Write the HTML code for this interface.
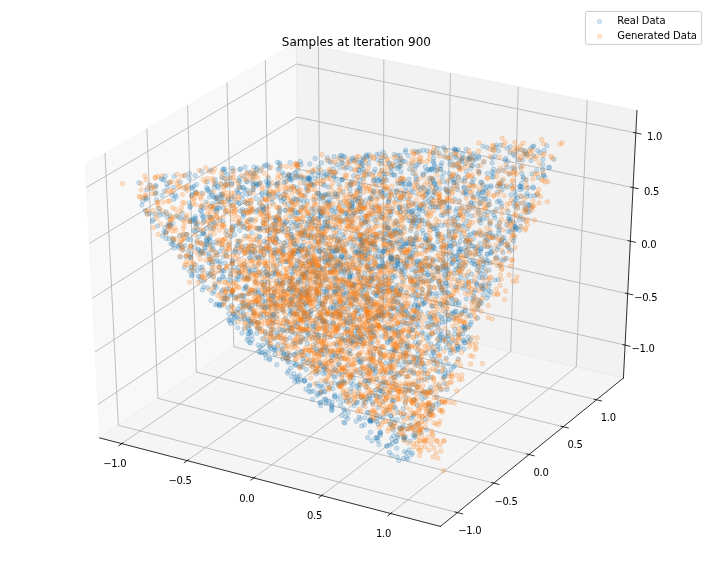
<!DOCTYPE html>
<html lang="en"><head><meta charset="utf-8"><title>Samples at Iteration 900</title>
<style>html,body{margin:0;padding:0;background:#fff}body{width:712px;height:568px;overflow:hidden}svg{display:block}text{font-family:"DejaVu Sans","Liberation Sans",sans-serif;fill:#000}.t{font-size:10px}.g{stroke:#b0b0b0;stroke-width:.8;fill:none}.a{stroke:#000;stroke-width:.8;fill:none;stroke-linecap:square}.k{stroke:#000;stroke-width:.8;fill:none}.r circle{fill:#1f77b4;stroke:#1f77b4}.o circle{fill:#ff7f0e;stroke:#ff7f0e}.r,.o{fill-opacity:.2;stroke-opacity:.2;stroke-width:1}</style></head><body>
<svg width="712" height="568" viewBox="0 0 712 568">
<rect width="712" height="568" fill="#fff"/>
<polygon points="99.73,437.93 299.62,302 296.29,42.27 85.26,164.39" fill="rgb(242,242,242)" fill-opacity=".5" stroke="rgb(242,242,242)" stroke-opacity=".5" stroke-width="1" stroke-linejoin="round"/>
<polygon points="299.62,302 623.42,377.99 636.96,110.43 296.29,42.27" fill="rgb(230,230,230)" fill-opacity=".5" stroke="rgb(230,230,230)" stroke-opacity=".5" stroke-width="1" stroke-linejoin="round"/>
<polygon points="99.73,437.93 440.41,526.43 623.42,377.99 299.62,302" fill="rgb(236,236,236)" fill-opacity=".5" stroke="rgb(236,236,236)" stroke-opacity=".5" stroke-width="1" stroke-linejoin="round"/>
<g class="g">
<polyline points="121.78,443.65 320.64,306.93 318.36,46.68"/>
<polyline points="187.19,460.65 382.95,321.56 383.83,59.78"/>
<polyline points="253.79,477.95 446.32,336.43 450.45,73.11"/>
<polyline points="321.61,495.57 510.75,351.55 518.25,86.68"/>
<polyline points="390.67,513.51 576.28,366.93 587.27,100.49"/>
<polyline points="104.96,152.99 118.33,425.28 457.49,512.58"/>
<polyline points="146.86,128.74 157.92,398.36 493.81,483.12"/>
<polyline points="187.52,105.21 196.4,372.19 529.07,454.52"/>
<polyline points="226.99,82.37 233.81,346.76 563.3,426.76"/>
<polyline points="265.32,60.19 270.18,322.02 596.54,399.79"/>
<polyline points="625.08,345.14 299.21,270.05 97.96,404.39"/>
<polyline points="627.68,293.68 298.57,220.03 95.18,351.83"/>
<polyline points="630.34,241.17 297.92,169.05 92.34,298.18"/>
<polyline points="633.06,187.6 297.25,117.06 89.44,243.38"/>
<polyline points="635.82,132.91 296.57,64.04 86.48,187.41"/>
</g>
<g class="a">
<line x1="99.73" y1="437.93" x2="440.41" y2="526.43"/>
<line x1="623.42" y1="377.99" x2="440.41" y2="526.43"/>
<line x1="623.42" y1="377.99" x2="636.96" y2="110.43"/>
</g>
<g class="k">
<line x1="123.49" y1="442.48" x2="118.34" y2="446.01"/>
<line x1="454.65" y1="511.85" x2="463.17" y2="514.04"/>
<line x1="622.36" y1="344.51" x2="630.52" y2="346.39"/>
<line x1="188.88" y1="459.45" x2="183.81" y2="463.05"/>
<line x1="491" y1="482.41" x2="499.44" y2="484.54"/>
<line x1="624.94" y1="293.06" x2="633.19" y2="294.91"/>
<line x1="255.46" y1="476.73" x2="250.47" y2="480.4"/>
<line x1="526.29" y1="453.83" x2="534.63" y2="455.9"/>
<line x1="627.57" y1="240.57" x2="635.9" y2="242.38"/>
<line x1="323.24" y1="494.32" x2="318.34" y2="498.06"/>
<line x1="560.54" y1="426.09" x2="568.81" y2="428.1"/>
<line x1="630.25" y1="187.01" x2="638.67" y2="188.78"/>
<line x1="392.27" y1="512.24" x2="387.46" y2="516.05"/>
<line x1="593.82" y1="399.14" x2="602" y2="401.09"/>
<line x1="632.99" y1="132.33" x2="641.5" y2="134.06"/>
</g>
<g class="t">
<text x="103.16 111.16 117.16 120.16" y="467.02">−1.0</text>
<text x="458.32 466.32 472.32 475.32" y="534.16">−1.0</text>
<text x="631.55 639.55 645.55 648.55" y="352.12">−1.0</text>
<text x="168.58 176.58 182.58 185.58" y="484.16">−0.5</text>
<text x="494.45 502.45 508.45 511.45" y="504.52">−0.5</text>
<text x="634.33 642.33 648.33 651.33" y="300.7">−0.5</text>
<text x="239.17 245.17 248.17" y="501.61">0.0</text>
<text x="533.52 539.52 542.52" y="475.74">0.0</text>
<text x="641.17 647.17 650.17" y="248.23">0.0</text>
<text x="306.99 312.99 315.99" y="519.38">0.5</text>
<text x="567.57 573.57 576.57" y="447.81">0.5</text>
<text x="644.07 650.07 653.07" y="194.7">0.5</text>
<text x="376.05 382.05 385.05" y="537.47">1.0</text>
<text x="600.64 606.64 609.64" y="420.68">1.0</text>
<text x="647.02 653.02 656.02" y="140.05">1.0</text>
</g>
<g class="r">
<circle cx="398.1" cy="335.4" r="2.24"/><circle cx="342.9" cy="268.1" r="2.24"/><circle cx="426.2" cy="213.0" r="2.24"/><circle cx="237.8" cy="245.1" r="2.24"/><circle cx="445.0" cy="373.2" r="2.24"/><circle cx="334.6" cy="291.7" r="2.24"/><circle cx="406.1" cy="292.6" r="2.24"/><circle cx="361.1" cy="339.1" r="2.24"/><circle cx="347.7" cy="329.6" r="2.24"/><circle cx="327.4" cy="351.1" r="2.24"/><circle cx="319.9" cy="393.9" r="2.24"/><circle cx="398.0" cy="229.6" r="2.24"/><circle cx="466.4" cy="194.6" r="2.24"/><circle cx="297.3" cy="229.5" r="2.24"/><circle cx="453.6" cy="166.1" r="2.24"/><circle cx="487.3" cy="173.5" r="2.24"/><circle cx="264.6" cy="281.6" r="2.24"/><circle cx="292.2" cy="210.4" r="2.24"/><circle cx="346.6" cy="244.1" r="2.24"/><circle cx="489.2" cy="233.4" r="2.24"/><circle cx="489.2" cy="269.9" r="2.24"/><circle cx="317.1" cy="370.5" r="2.24"/><circle cx="468.0" cy="159.0" r="2.24"/><circle cx="279.5" cy="211.7" r="2.24"/><circle cx="314.8" cy="251.0" r="2.24"/><circle cx="369.2" cy="321.1" r="2.24"/><circle cx="264.2" cy="255.0" r="2.24"/><circle cx="336.1" cy="292.1" r="2.24"/><circle cx="316.9" cy="248.0" r="2.24"/><circle cx="366.6" cy="156.2" r="2.24"/><circle cx="461.8" cy="161.4" r="2.24"/><circle cx="360.8" cy="162.8" r="2.24"/><circle cx="217.0" cy="198.5" r="2.24"/><circle cx="266.9" cy="274.4" r="2.24"/><circle cx="241.6" cy="296.0" r="2.24"/><circle cx="452.7" cy="314.0" r="2.24"/><circle cx="405.4" cy="353.4" r="2.24"/><circle cx="379.3" cy="212.1" r="2.24"/><circle cx="266.3" cy="272.7" r="2.24"/><circle cx="384.5" cy="283.7" r="2.24"/><circle cx="340.3" cy="202.6" r="2.24"/><circle cx="399.6" cy="207.5" r="2.24"/><circle cx="266.6" cy="206.2" r="2.24"/><circle cx="198.2" cy="249.5" r="2.24"/><circle cx="492.3" cy="235.7" r="2.24"/><circle cx="257.2" cy="167.9" r="2.24"/><circle cx="364.2" cy="296.8" r="2.24"/><circle cx="475.2" cy="233.0" r="2.24"/><circle cx="498.1" cy="279.7" r="2.24"/><circle cx="366.8" cy="157.1" r="2.24"/><circle cx="344.5" cy="270.0" r="2.24"/><circle cx="164.4" cy="180.0" r="2.24"/><circle cx="389.8" cy="236.3" r="2.24"/><circle cx="290.3" cy="222.6" r="2.24"/><circle cx="382.7" cy="285.5" r="2.24"/><circle cx="354.3" cy="405.6" r="2.24"/><circle cx="307.4" cy="272.5" r="2.24"/><circle cx="437.0" cy="230.8" r="2.24"/><circle cx="283.7" cy="354.4" r="2.24"/><circle cx="294.5" cy="253.6" r="2.24"/><circle cx="357.5" cy="329.2" r="2.24"/><circle cx="432.0" cy="322.5" r="2.24"/><circle cx="382.9" cy="266.3" r="2.24"/><circle cx="409.2" cy="184.0" r="2.24"/><circle cx="409.9" cy="185.3" r="2.24"/><circle cx="346.5" cy="212.6" r="2.24"/><circle cx="360.8" cy="279.0" r="2.24"/><circle cx="473.0" cy="245.9" r="2.24"/><circle cx="273.3" cy="265.7" r="2.24"/><circle cx="289.8" cy="310.2" r="2.24"/><circle cx="378.5" cy="310.5" r="2.24"/><circle cx="391.2" cy="359.3" r="2.24"/><circle cx="337.1" cy="263.3" r="2.24"/><circle cx="429.4" cy="336.8" r="2.24"/><circle cx="367.5" cy="240.0" r="2.24"/><circle cx="405.2" cy="403.0" r="2.24"/><circle cx="316.1" cy="374.1" r="2.24"/><circle cx="337.9" cy="399.5" r="2.24"/><circle cx="392.8" cy="292.4" r="2.24"/><circle cx="324.2" cy="366.6" r="2.24"/><circle cx="417.7" cy="164.6" r="2.24"/><circle cx="257.5" cy="257.0" r="2.24"/><circle cx="347.2" cy="323.1" r="2.24"/><circle cx="285.9" cy="318.3" r="2.24"/><circle cx="418.2" cy="354.5" r="2.24"/><circle cx="464.5" cy="187.7" r="2.24"/><circle cx="373.2" cy="218.9" r="2.24"/><circle cx="215.1" cy="184.9" r="2.24"/><circle cx="488.3" cy="240.0" r="2.24"/><circle cx="404.1" cy="194.0" r="2.24"/><circle cx="244.5" cy="264.5" r="2.24"/><circle cx="397.3" cy="331.8" r="2.24"/><circle cx="305.3" cy="302.7" r="2.24"/><circle cx="296.5" cy="177.9" r="2.24"/><circle cx="336.0" cy="211.6" r="2.24"/><circle cx="370.4" cy="421.8" r="2.24"/><circle cx="411.2" cy="257.1" r="2.24"/><circle cx="313.4" cy="391.0" r="2.24"/><circle cx="335.3" cy="251.5" r="2.24"/><circle cx="231.4" cy="183.7" r="2.24"/><circle cx="196.6" cy="241.8" r="2.24"/><circle cx="458.9" cy="266.0" r="2.24"/><circle cx="269.3" cy="194.3" r="2.24"/><circle cx="498.8" cy="230.2" r="2.24"/><circle cx="417.3" cy="405.4" r="2.24"/><circle cx="328.4" cy="160.9" r="2.24"/><circle cx="279.9" cy="263.8" r="2.24"/><circle cx="385.4" cy="276.3" r="2.24"/><circle cx="390.7" cy="166.8" r="2.24"/><circle cx="353.4" cy="378.4" r="2.24"/><circle cx="411.0" cy="307.2" r="2.24"/><circle cx="372.3" cy="244.9" r="2.24"/><circle cx="345.0" cy="422.9" r="2.24"/><circle cx="450.0" cy="350.0" r="2.24"/><circle cx="299.1" cy="268.0" r="2.24"/><circle cx="365.3" cy="216.3" r="2.24"/><circle cx="214.1" cy="208.1" r="2.24"/><circle cx="442.5" cy="322.3" r="2.24"/><circle cx="289.9" cy="328.4" r="2.24"/><circle cx="189.3" cy="178.4" r="2.24"/><circle cx="461.3" cy="249.1" r="2.24"/><circle cx="293.3" cy="343.3" r="2.24"/><circle cx="326.0" cy="254.8" r="2.24"/><circle cx="297.8" cy="323.8" r="2.24"/><circle cx="159.7" cy="212.2" r="2.24"/><circle cx="327.2" cy="349.9" r="2.24"/><circle cx="268.6" cy="246.1" r="2.24"/><circle cx="220.5" cy="263.9" r="2.24"/><circle cx="232.1" cy="230.5" r="2.24"/><circle cx="217.2" cy="201.7" r="2.24"/><circle cx="364.6" cy="337.3" r="2.24"/><circle cx="398.0" cy="412.5" r="2.24"/><circle cx="185.9" cy="234.6" r="2.24"/><circle cx="293.9" cy="304.6" r="2.24"/><circle cx="341.0" cy="265.1" r="2.24"/><circle cx="380.9" cy="178.7" r="2.24"/><circle cx="323.6" cy="373.9" r="2.24"/><circle cx="169.1" cy="238.5" r="2.24"/><circle cx="482.7" cy="192.1" r="2.24"/><circle cx="219.0" cy="267.4" r="2.24"/><circle cx="248.4" cy="327.8" r="2.24"/><circle cx="347.1" cy="268.8" r="2.24"/><circle cx="408.7" cy="198.9" r="2.24"/><circle cx="391.6" cy="266.3" r="2.24"/><circle cx="358.2" cy="198.3" r="2.24"/><circle cx="480.1" cy="243.6" r="2.24"/><circle cx="332.2" cy="402.0" r="2.24"/><circle cx="243.3" cy="213.3" r="2.24"/><circle cx="414.5" cy="151.4" r="2.24"/><circle cx="455.3" cy="269.7" r="2.24"/><circle cx="426.5" cy="235.3" r="2.24"/><circle cx="275.6" cy="231.0" r="2.24"/><circle cx="402.4" cy="321.7" r="2.24"/><circle cx="284.0" cy="198.3" r="2.24"/><circle cx="324.6" cy="258.5" r="2.24"/><circle cx="357.4" cy="359.6" r="2.24"/><circle cx="383.2" cy="252.0" r="2.24"/><circle cx="458.1" cy="149.7" r="2.24"/><circle cx="298.3" cy="192.3" r="2.24"/><circle cx="368.6" cy="320.4" r="2.24"/><circle cx="277.5" cy="162.3" r="2.24"/><circle cx="515.0" cy="227.1" r="2.24"/><circle cx="248.7" cy="333.3" r="2.24"/><circle cx="319.4" cy="251.3" r="2.24"/><circle cx="276.5" cy="196.5" r="2.24"/><circle cx="262.1" cy="257.9" r="2.24"/><circle cx="365.1" cy="258.5" r="2.24"/><circle cx="553.8" cy="159.3" r="2.24"/><circle cx="324.4" cy="250.5" r="2.24"/><circle cx="435.5" cy="331.9" r="2.24"/><circle cx="364.7" cy="273.2" r="2.24"/><circle cx="418.1" cy="326.6" r="2.24"/><circle cx="450.9" cy="161.3" r="2.24"/><circle cx="375.9" cy="371.6" r="2.24"/><circle cx="478.3" cy="300.3" r="2.24"/><circle cx="378.1" cy="423.9" r="2.24"/><circle cx="231.0" cy="281.4" r="2.24"/><circle cx="409.5" cy="372.0" r="2.24"/><circle cx="420.6" cy="312.1" r="2.24"/><circle cx="433.7" cy="162.8" r="2.24"/><circle cx="480.2" cy="218.3" r="2.24"/><circle cx="338.9" cy="374.0" r="2.24"/><circle cx="354.3" cy="307.0" r="2.24"/><circle cx="320.8" cy="241.7" r="2.24"/><circle cx="256.5" cy="169.6" r="2.24"/><circle cx="152.4" cy="221.4" r="2.24"/><circle cx="494.8" cy="280.0" r="2.24"/><circle cx="385.2" cy="300.3" r="2.24"/><circle cx="271.1" cy="299.4" r="2.24"/><circle cx="377.6" cy="250.9" r="2.24"/><circle cx="446.0" cy="247.7" r="2.24"/><circle cx="439.7" cy="284.3" r="2.24"/><circle cx="463.6" cy="193.0" r="2.24"/><circle cx="322.4" cy="321.4" r="2.24"/><circle cx="328.5" cy="187.0" r="2.24"/><circle cx="187.8" cy="239.5" r="2.24"/><circle cx="268.3" cy="307.5" r="2.24"/><circle cx="299.4" cy="296.4" r="2.24"/><circle cx="230.5" cy="274.0" r="2.24"/><circle cx="307.4" cy="178.0" r="2.24"/><circle cx="414.1" cy="219.4" r="2.24"/><circle cx="307.2" cy="343.7" r="2.24"/><circle cx="224.1" cy="298.4" r="2.24"/><circle cx="284.3" cy="202.3" r="2.24"/><circle cx="367.5" cy="220.9" r="2.24"/><circle cx="412.1" cy="317.9" r="2.24"/><circle cx="433.4" cy="278.5" r="2.24"/><circle cx="386.8" cy="410.1" r="2.24"/><circle cx="273.0" cy="303.4" r="2.24"/><circle cx="210.9" cy="300.6" r="2.24"/><circle cx="501.7" cy="206.6" r="2.24"/><circle cx="307.3" cy="224.3" r="2.24"/><circle cx="433.3" cy="195.5" r="2.24"/><circle cx="209.3" cy="191.8" r="2.24"/><circle cx="306.7" cy="287.4" r="2.24"/><circle cx="282.4" cy="349.2" r="2.24"/><circle cx="228.9" cy="313.5" r="2.24"/><circle cx="478.2" cy="210.3" r="2.24"/><circle cx="308.7" cy="179.7" r="2.24"/><circle cx="407.7" cy="458.9" r="2.24"/><circle cx="464.0" cy="326.6" r="2.24"/><circle cx="390.5" cy="214.7" r="2.24"/><circle cx="402.9" cy="426.3" r="2.24"/><circle cx="341.5" cy="180.1" r="2.24"/><circle cx="360.1" cy="246.1" r="2.24"/><circle cx="441.1" cy="304.3" r="2.24"/><circle cx="391.4" cy="243.2" r="2.24"/><circle cx="316.8" cy="352.2" r="2.24"/><circle cx="167.5" cy="217.2" r="2.24"/><circle cx="210.7" cy="228.2" r="2.24"/><circle cx="283.1" cy="254.3" r="2.24"/><circle cx="195.7" cy="192.3" r="2.24"/><circle cx="458.0" cy="258.8" r="2.24"/><circle cx="263.0" cy="209.1" r="2.24"/><circle cx="383.8" cy="315.6" r="2.24"/><circle cx="347.0" cy="329.0" r="2.24"/><circle cx="244.0" cy="328.7" r="2.24"/><circle cx="516.0" cy="195.4" r="2.24"/><circle cx="240.5" cy="312.6" r="2.24"/><circle cx="451.8" cy="179.2" r="2.24"/><circle cx="292.0" cy="279.5" r="2.24"/><circle cx="459.5" cy="261.2" r="2.24"/><circle cx="473.8" cy="296.5" r="2.24"/><circle cx="310.9" cy="391.7" r="2.24"/><circle cx="485.1" cy="199.3" r="2.24"/><circle cx="533.0" cy="146.8" r="2.24"/><circle cx="479.9" cy="220.3" r="2.24"/><circle cx="240.1" cy="187.7" r="2.24"/><circle cx="333.5" cy="352.6" r="2.24"/><circle cx="215.7" cy="183.1" r="2.24"/><circle cx="319.7" cy="363.4" r="2.24"/><circle cx="385.7" cy="329.7" r="2.24"/><circle cx="249.2" cy="329.4" r="2.24"/><circle cx="317.0" cy="395.4" r="2.24"/><circle cx="471.4" cy="274.1" r="2.24"/><circle cx="381.5" cy="170.7" r="2.24"/><circle cx="336.5" cy="335.9" r="2.24"/><circle cx="363.5" cy="157.8" r="2.24"/><circle cx="277.2" cy="184.1" r="2.24"/><circle cx="313.2" cy="324.0" r="2.24"/><circle cx="358.4" cy="384.5" r="2.24"/><circle cx="402.1" cy="183.0" r="2.24"/><circle cx="504.1" cy="260.2" r="2.24"/><circle cx="334.0" cy="176.9" r="2.24"/><circle cx="323.8" cy="368.6" r="2.24"/><circle cx="300.3" cy="161.5" r="2.24"/><circle cx="340.3" cy="264.2" r="2.24"/><circle cx="346.4" cy="400.9" r="2.24"/><circle cx="463.4" cy="340.9" r="2.24"/><circle cx="526.0" cy="209.4" r="2.24"/><circle cx="395.5" cy="408.3" r="2.24"/><circle cx="320.3" cy="215.7" r="2.24"/><circle cx="231.9" cy="261.4" r="2.24"/><circle cx="447.4" cy="286.0" r="2.24"/><circle cx="496.7" cy="257.3" r="2.24"/><circle cx="302.0" cy="351.5" r="2.24"/><circle cx="222.1" cy="247.6" r="2.24"/><circle cx="296.4" cy="174.5" r="2.24"/><circle cx="484.4" cy="267.8" r="2.24"/><circle cx="214.7" cy="224.8" r="2.24"/><circle cx="358.6" cy="388.7" r="2.24"/><circle cx="446.0" cy="189.8" r="2.24"/><circle cx="244.0" cy="288.8" r="2.24"/><circle cx="536.9" cy="195.0" r="2.24"/><circle cx="413.7" cy="372.3" r="2.24"/><circle cx="530.2" cy="196.1" r="2.24"/><circle cx="426.5" cy="338.1" r="2.24"/><circle cx="439.9" cy="286.7" r="2.24"/><circle cx="480.2" cy="202.9" r="2.24"/><circle cx="354.5" cy="283.9" r="2.24"/><circle cx="301.6" cy="276.9" r="2.24"/><circle cx="382.4" cy="157.7" r="2.24"/><circle cx="273.7" cy="314.4" r="2.24"/><circle cx="526.0" cy="180.0" r="2.24"/><circle cx="381.6" cy="259.3" r="2.24"/><circle cx="317.5" cy="351.1" r="2.24"/><circle cx="275.3" cy="229.3" r="2.24"/><circle cx="392.5" cy="245.5" r="2.24"/><circle cx="155.9" cy="186.4" r="2.24"/><circle cx="396.2" cy="234.9" r="2.24"/><circle cx="268.4" cy="288.7" r="2.24"/><circle cx="405.6" cy="277.0" r="2.24"/><circle cx="378.1" cy="256.3" r="2.24"/><circle cx="366.3" cy="154.9" r="2.24"/><circle cx="415.4" cy="276.2" r="2.24"/><circle cx="465.2" cy="327.9" r="2.24"/><circle cx="297.9" cy="282.5" r="2.24"/><circle cx="401.2" cy="159.2" r="2.24"/><circle cx="283.1" cy="222.1" r="2.24"/><circle cx="384.0" cy="237.3" r="2.24"/><circle cx="261.8" cy="199.0" r="2.24"/><circle cx="308.9" cy="391.5" r="2.24"/><circle cx="432.9" cy="306.1" r="2.24"/><circle cx="348.1" cy="412.8" r="2.24"/><circle cx="516.9" cy="150.7" r="2.24"/><circle cx="406.4" cy="457.2" r="2.24"/><circle cx="326.9" cy="279.3" r="2.24"/><circle cx="444.7" cy="292.8" r="2.24"/><circle cx="466.1" cy="250.9" r="2.24"/><circle cx="417.2" cy="261.0" r="2.24"/><circle cx="386.7" cy="180.3" r="2.24"/><circle cx="330.4" cy="258.8" r="2.24"/><circle cx="408.2" cy="209.9" r="2.24"/><circle cx="382.2" cy="213.8" r="2.24"/><circle cx="380.9" cy="319.1" r="2.24"/><circle cx="268.6" cy="274.4" r="2.24"/><circle cx="294.2" cy="269.0" r="2.24"/><circle cx="210.3" cy="206.3" r="2.24"/><circle cx="285.0" cy="224.7" r="2.24"/><circle cx="428.9" cy="390.6" r="2.24"/><circle cx="257.9" cy="184.7" r="2.24"/><circle cx="403.4" cy="357.2" r="2.24"/><circle cx="292.2" cy="178.2" r="2.24"/><circle cx="412.3" cy="202.9" r="2.24"/><circle cx="211.4" cy="261.9" r="2.24"/><circle cx="384.8" cy="224.7" r="2.24"/><circle cx="398.8" cy="460.5" r="2.24"/><circle cx="413.7" cy="414.4" r="2.24"/><circle cx="405.8" cy="310.8" r="2.24"/><circle cx="385.3" cy="327.5" r="2.24"/><circle cx="251.8" cy="305.4" r="2.24"/><circle cx="335.9" cy="208.4" r="2.24"/><circle cx="430.3" cy="266.1" r="2.24"/><circle cx="443.3" cy="259.0" r="2.24"/><circle cx="338.5" cy="314.3" r="2.24"/><circle cx="204.0" cy="207.6" r="2.24"/><circle cx="344.8" cy="214.0" r="2.24"/><circle cx="370.4" cy="236.7" r="2.24"/><circle cx="363.3" cy="405.2" r="2.24"/><circle cx="363.1" cy="159.6" r="2.24"/><circle cx="316.2" cy="322.8" r="2.24"/><circle cx="473.5" cy="238.7" r="2.24"/><circle cx="324.9" cy="321.7" r="2.24"/><circle cx="326.6" cy="400.8" r="2.24"/><circle cx="365.7" cy="222.0" r="2.24"/><circle cx="461.2" cy="277.7" r="2.24"/><circle cx="436.9" cy="364.9" r="2.24"/><circle cx="476.3" cy="247.6" r="2.24"/><circle cx="301.5" cy="277.3" r="2.24"/><circle cx="397.8" cy="155.5" r="2.24"/><circle cx="425.2" cy="166.7" r="2.24"/><circle cx="366.4" cy="258.8" r="2.24"/><circle cx="320.7" cy="317.4" r="2.24"/><circle cx="292.5" cy="274.0" r="2.24"/><circle cx="448.8" cy="319.6" r="2.24"/><circle cx="250.9" cy="252.0" r="2.24"/><circle cx="343.9" cy="271.8" r="2.24"/><circle cx="406.9" cy="346.5" r="2.24"/><circle cx="431.1" cy="410.6" r="2.24"/><circle cx="454.2" cy="273.5" r="2.24"/><circle cx="393.1" cy="359.2" r="2.24"/><circle cx="345.0" cy="319.8" r="2.24"/><circle cx="387.4" cy="342.1" r="2.24"/><circle cx="490.8" cy="248.1" r="2.24"/><circle cx="351.3" cy="388.1" r="2.24"/><circle cx="510.2" cy="220.7" r="2.24"/><circle cx="226.2" cy="230.9" r="2.24"/><circle cx="383.5" cy="152.3" r="2.24"/><circle cx="354.6" cy="251.5" r="2.24"/><circle cx="487.6" cy="254.1" r="2.24"/><circle cx="196.0" cy="224.0" r="2.24"/><circle cx="302.9" cy="274.2" r="2.24"/><circle cx="288.7" cy="175.8" r="2.24"/><circle cx="379.9" cy="433.5" r="2.24"/><circle cx="320.8" cy="284.2" r="2.24"/><circle cx="347.8" cy="418.5" r="2.24"/><circle cx="319.6" cy="269.9" r="2.24"/><circle cx="446.4" cy="336.6" r="2.24"/><circle cx="307.2" cy="332.7" r="2.24"/><circle cx="197.3" cy="270.4" r="2.24"/><circle cx="250.3" cy="257.8" r="2.24"/><circle cx="511.6" cy="185.7" r="2.24"/><circle cx="459.0" cy="167.1" r="2.24"/><circle cx="461.5" cy="313.5" r="2.24"/><circle cx="202.4" cy="233.4" r="2.24"/><circle cx="431.1" cy="355.8" r="2.24"/><circle cx="440.2" cy="203.5" r="2.24"/><circle cx="361.4" cy="211.4" r="2.24"/><circle cx="405.5" cy="436.8" r="2.24"/><circle cx="390.8" cy="338.4" r="2.24"/><circle cx="318.3" cy="386.1" r="2.24"/><circle cx="299.5" cy="248.7" r="2.24"/><circle cx="294.7" cy="212.8" r="2.24"/><circle cx="327.9" cy="203.6" r="2.24"/><circle cx="366.8" cy="306.1" r="2.24"/><circle cx="457.0" cy="208.7" r="2.24"/><circle cx="293.5" cy="237.7" r="2.24"/><circle cx="260.4" cy="352.7" r="2.24"/><circle cx="359.2" cy="320.0" r="2.24"/><circle cx="454.4" cy="217.1" r="2.24"/><circle cx="402.7" cy="246.6" r="2.24"/><circle cx="491.6" cy="251.8" r="2.24"/><circle cx="464.6" cy="329.0" r="2.24"/><circle cx="375.8" cy="317.3" r="2.24"/><circle cx="387.4" cy="373.0" r="2.24"/><circle cx="391.0" cy="308.9" r="2.24"/><circle cx="448.6" cy="364.2" r="2.24"/><circle cx="204.0" cy="233.9" r="2.24"/><circle cx="322.5" cy="349.3" r="2.24"/><circle cx="374.2" cy="180.2" r="2.24"/><circle cx="401.9" cy="184.2" r="2.24"/><circle cx="259.3" cy="228.1" r="2.24"/><circle cx="335.0" cy="396.8" r="2.24"/><circle cx="411.9" cy="243.8" r="2.24"/><circle cx="373.8" cy="211.2" r="2.24"/><circle cx="207.6" cy="287.8" r="2.24"/><circle cx="374.9" cy="255.5" r="2.24"/><circle cx="369.7" cy="249.6" r="2.24"/><circle cx="350.5" cy="242.3" r="2.24"/><circle cx="387.7" cy="240.9" r="2.24"/><circle cx="239.8" cy="169.6" r="2.24"/><circle cx="283.8" cy="291.2" r="2.24"/><circle cx="463.2" cy="262.6" r="2.24"/><circle cx="442.4" cy="266.8" r="2.24"/><circle cx="479.1" cy="213.4" r="2.24"/><circle cx="488.9" cy="286.1" r="2.24"/><circle cx="396.1" cy="295.0" r="2.24"/><circle cx="334.4" cy="282.2" r="2.24"/><circle cx="467.0" cy="284.7" r="2.24"/><circle cx="400.0" cy="428.0" r="2.24"/><circle cx="491.3" cy="253.1" r="2.24"/><circle cx="235.5" cy="297.9" r="2.24"/><circle cx="473.7" cy="260.7" r="2.24"/><circle cx="310.1" cy="235.6" r="2.24"/><circle cx="483.8" cy="161.9" r="2.24"/><circle cx="470.9" cy="202.9" r="2.24"/><circle cx="395.7" cy="350.7" r="2.24"/><circle cx="263.7" cy="314.8" r="2.24"/><circle cx="510.7" cy="232.1" r="2.24"/><circle cx="507.0" cy="167.0" r="2.24"/><circle cx="437.9" cy="338.8" r="2.24"/><circle cx="224.4" cy="178.5" r="2.24"/><circle cx="178.8" cy="217.1" r="2.24"/><circle cx="473.9" cy="232.6" r="2.24"/><circle cx="350.5" cy="208.7" r="2.24"/><circle cx="316.1" cy="290.8" r="2.24"/><circle cx="380.8" cy="161.0" r="2.24"/><circle cx="273.2" cy="295.6" r="2.24"/><circle cx="340.3" cy="396.1" r="2.24"/><circle cx="246.0" cy="286.2" r="2.24"/><circle cx="212.8" cy="203.5" r="2.24"/><circle cx="238.6" cy="193.2" r="2.24"/><circle cx="280.9" cy="273.4" r="2.24"/><circle cx="328.0" cy="287.3" r="2.24"/><circle cx="456.1" cy="300.3" r="2.24"/><circle cx="301.5" cy="207.3" r="2.24"/><circle cx="294.6" cy="210.2" r="2.24"/><circle cx="407.9" cy="243.2" r="2.24"/><circle cx="220.2" cy="261.4" r="2.24"/><circle cx="230.7" cy="323.5" r="2.24"/><circle cx="342.6" cy="282.4" r="2.24"/><circle cx="259.1" cy="184.0" r="2.24"/><circle cx="382.8" cy="373.0" r="2.24"/><circle cx="483.5" cy="199.2" r="2.24"/><circle cx="448.7" cy="293.5" r="2.24"/><circle cx="415.9" cy="165.9" r="2.24"/><circle cx="289.7" cy="288.8" r="2.24"/><circle cx="428.6" cy="273.5" r="2.24"/><circle cx="506.6" cy="224.8" r="2.24"/><circle cx="513.6" cy="202.6" r="2.24"/><circle cx="391.4" cy="329.6" r="2.24"/><circle cx="237.6" cy="192.3" r="2.24"/><circle cx="431.8" cy="334.0" r="2.24"/><circle cx="394.0" cy="400.5" r="2.24"/><circle cx="338.5" cy="385.2" r="2.24"/><circle cx="261.5" cy="274.8" r="2.24"/><circle cx="401.4" cy="341.5" r="2.24"/><circle cx="467.0" cy="214.6" r="2.24"/><circle cx="478.6" cy="253.9" r="2.24"/><circle cx="360.9" cy="238.5" r="2.24"/><circle cx="501.5" cy="242.5" r="2.24"/><circle cx="427.3" cy="193.8" r="2.24"/><circle cx="441.5" cy="225.4" r="2.24"/><circle cx="443.3" cy="215.2" r="2.24"/><circle cx="427.7" cy="169.5" r="2.24"/><circle cx="330.1" cy="272.1" r="2.24"/><circle cx="325.0" cy="346.7" r="2.24"/><circle cx="376.3" cy="389.8" r="2.24"/><circle cx="357.4" cy="327.6" r="2.24"/><circle cx="277.7" cy="182.9" r="2.24"/><circle cx="286.7" cy="331.1" r="2.24"/><circle cx="429.3" cy="280.9" r="2.24"/><circle cx="312.0" cy="260.3" r="2.24"/><circle cx="264.3" cy="209.0" r="2.24"/><circle cx="291.5" cy="271.9" r="2.24"/><circle cx="387.9" cy="342.7" r="2.24"/><circle cx="458.2" cy="245.2" r="2.24"/><circle cx="402.1" cy="311.6" r="2.24"/><circle cx="247.5" cy="340.1" r="2.24"/><circle cx="195.3" cy="216.4" r="2.24"/><circle cx="397.1" cy="262.2" r="2.24"/><circle cx="345.4" cy="273.1" r="2.24"/><circle cx="352.1" cy="342.8" r="2.24"/><circle cx="398.0" cy="312.5" r="2.24"/><circle cx="381.3" cy="390.9" r="2.24"/><circle cx="190.4" cy="219.5" r="2.24"/><circle cx="382.9" cy="238.8" r="2.24"/><circle cx="403.3" cy="408.5" r="2.24"/><circle cx="323.2" cy="327.2" r="2.24"/><circle cx="293.6" cy="373.6" r="2.24"/><circle cx="482.7" cy="185.1" r="2.24"/><circle cx="310.4" cy="311.4" r="2.24"/><circle cx="291.1" cy="299.3" r="2.24"/><circle cx="205.9" cy="202.0" r="2.24"/><circle cx="404.7" cy="439.8" r="2.24"/><circle cx="302.6" cy="238.7" r="2.24"/><circle cx="221.7" cy="272.3" r="2.24"/><circle cx="454.7" cy="243.5" r="2.24"/><circle cx="323.4" cy="177.0" r="2.24"/><circle cx="407.3" cy="347.9" r="2.24"/><circle cx="349.5" cy="184.8" r="2.24"/><circle cx="415.9" cy="312.6" r="2.24"/><circle cx="267.2" cy="340.4" r="2.24"/><circle cx="200.2" cy="267.7" r="2.24"/><circle cx="289.0" cy="175.5" r="2.24"/><circle cx="502.9" cy="170.2" r="2.24"/><circle cx="428.6" cy="201.6" r="2.24"/><circle cx="384.6" cy="248.5" r="2.24"/><circle cx="336.7" cy="196.6" r="2.24"/><circle cx="340.3" cy="263.2" r="2.24"/><circle cx="359.8" cy="198.3" r="2.24"/><circle cx="388.3" cy="227.7" r="2.24"/><circle cx="528.3" cy="187.7" r="2.24"/><circle cx="432.2" cy="294.1" r="2.24"/><circle cx="404.3" cy="246.4" r="2.24"/><circle cx="169.9" cy="215.7" r="2.24"/><circle cx="453.4" cy="240.4" r="2.24"/><circle cx="201.2" cy="242.7" r="2.24"/><circle cx="189.6" cy="256.3" r="2.24"/><circle cx="198.2" cy="276.0" r="2.24"/><circle cx="350.1" cy="277.3" r="2.24"/><circle cx="309.4" cy="386.1" r="2.24"/><circle cx="336.8" cy="164.5" r="2.24"/><circle cx="225.7" cy="212.2" r="2.24"/><circle cx="247.4" cy="229.0" r="2.24"/><circle cx="444.7" cy="262.2" r="2.24"/><circle cx="421.5" cy="268.7" r="2.24"/><circle cx="458.5" cy="226.4" r="2.24"/><circle cx="416.0" cy="226.4" r="2.24"/><circle cx="378.6" cy="291.9" r="2.24"/><circle cx="409.5" cy="258.2" r="2.24"/><circle cx="501.1" cy="259.9" r="2.24"/><circle cx="267.2" cy="230.3" r="2.24"/><circle cx="323.3" cy="308.1" r="2.24"/><circle cx="209.5" cy="239.7" r="2.24"/><circle cx="417.2" cy="286.0" r="2.24"/><circle cx="357.5" cy="310.2" r="2.24"/><circle cx="304.2" cy="381.3" r="2.24"/><circle cx="499.4" cy="265.7" r="2.24"/><circle cx="417.4" cy="308.3" r="2.24"/><circle cx="337.8" cy="237.8" r="2.24"/><circle cx="439.7" cy="188.9" r="2.24"/><circle cx="365.6" cy="402.2" r="2.24"/><circle cx="384.1" cy="189.8" r="2.24"/><circle cx="313.5" cy="326.5" r="2.24"/><circle cx="433.8" cy="363.2" r="2.24"/><circle cx="388.7" cy="328.1" r="2.24"/><circle cx="312.5" cy="265.5" r="2.24"/><circle cx="500.0" cy="185.8" r="2.24"/><circle cx="531.9" cy="173.9" r="2.24"/><circle cx="249.8" cy="193.8" r="2.24"/><circle cx="511.2" cy="250.3" r="2.24"/><circle cx="333.1" cy="251.3" r="2.24"/><circle cx="423.7" cy="302.7" r="2.24"/><circle cx="167.5" cy="186.9" r="2.24"/><circle cx="221.3" cy="184.2" r="2.24"/><circle cx="164.4" cy="191.1" r="2.24"/><circle cx="301.1" cy="340.0" r="2.24"/><circle cx="400.7" cy="166.6" r="2.24"/><circle cx="493.1" cy="237.7" r="2.24"/><circle cx="381.2" cy="315.1" r="2.24"/><circle cx="442.1" cy="318.3" r="2.24"/><circle cx="404.4" cy="438.2" r="2.24"/><circle cx="413.3" cy="435.0" r="2.24"/><circle cx="518.4" cy="159.9" r="2.24"/><circle cx="437.3" cy="371.1" r="2.24"/><circle cx="249.6" cy="291.4" r="2.24"/><circle cx="381.4" cy="163.6" r="2.24"/><circle cx="236.9" cy="190.1" r="2.24"/><circle cx="364.9" cy="255.2" r="2.24"/><circle cx="305.5" cy="304.2" r="2.24"/><circle cx="345.7" cy="283.3" r="2.24"/><circle cx="165.5" cy="232.7" r="2.24"/><circle cx="453.2" cy="237.6" r="2.24"/><circle cx="397.8" cy="361.3" r="2.24"/><circle cx="325.1" cy="381.7" r="2.24"/><circle cx="291.7" cy="228.4" r="2.24"/><circle cx="448.1" cy="158.3" r="2.24"/><circle cx="403.4" cy="263.7" r="2.24"/><circle cx="223.5" cy="256.8" r="2.24"/><circle cx="486.1" cy="233.9" r="2.24"/><circle cx="447.3" cy="182.2" r="2.24"/><circle cx="380.2" cy="289.6" r="2.24"/><circle cx="362.1" cy="244.9" r="2.24"/><circle cx="255.6" cy="304.1" r="2.24"/><circle cx="449.2" cy="207.3" r="2.24"/><circle cx="299.1" cy="245.4" r="2.24"/><circle cx="273.6" cy="315.9" r="2.24"/><circle cx="445.4" cy="312.3" r="2.24"/><circle cx="304.7" cy="316.4" r="2.24"/><circle cx="302.5" cy="235.2" r="2.24"/><circle cx="505.1" cy="160.3" r="2.24"/><circle cx="465.3" cy="177.8" r="2.24"/><circle cx="339.0" cy="184.6" r="2.24"/><circle cx="338.0" cy="328.2" r="2.24"/><circle cx="317.9" cy="393.6" r="2.24"/><circle cx="356.8" cy="159.6" r="2.24"/><circle cx="256.2" cy="212.1" r="2.24"/><circle cx="200.7" cy="251.6" r="2.24"/><circle cx="433.4" cy="246.5" r="2.24"/><circle cx="533.8" cy="155.8" r="2.24"/><circle cx="395.2" cy="229.9" r="2.24"/><circle cx="374.1" cy="335.8" r="2.24"/><circle cx="230.7" cy="236.8" r="2.24"/><circle cx="362.8" cy="165.4" r="2.24"/><circle cx="405.9" cy="191.3" r="2.24"/><circle cx="199.9" cy="276.9" r="2.24"/><circle cx="189.4" cy="173.5" r="2.24"/><circle cx="451.1" cy="298.3" r="2.24"/><circle cx="469.5" cy="157.6" r="2.24"/><circle cx="315.4" cy="241.8" r="2.24"/><circle cx="237.9" cy="309.2" r="2.24"/><circle cx="299.3" cy="261.8" r="2.24"/><circle cx="281.8" cy="248.3" r="2.24"/><circle cx="178.2" cy="245.8" r="2.24"/><circle cx="272.6" cy="296.3" r="2.24"/><circle cx="360.1" cy="188.3" r="2.24"/><circle cx="411.3" cy="280.4" r="2.24"/><circle cx="421.9" cy="304.6" r="2.24"/><circle cx="251.8" cy="253.3" r="2.24"/><circle cx="305.5" cy="339.1" r="2.24"/><circle cx="425.5" cy="239.3" r="2.24"/><circle cx="341.6" cy="256.6" r="2.24"/><circle cx="228.3" cy="244.3" r="2.24"/><circle cx="475.1" cy="264.5" r="2.24"/><circle cx="395.4" cy="307.9" r="2.24"/><circle cx="345.7" cy="371.0" r="2.24"/><circle cx="227.8" cy="279.9" r="2.24"/><circle cx="333.3" cy="323.2" r="2.24"/><circle cx="282.7" cy="358.8" r="2.24"/><circle cx="145.1" cy="210.5" r="2.24"/><circle cx="257.7" cy="289.8" r="2.24"/><circle cx="278.3" cy="283.7" r="2.24"/><circle cx="183.0" cy="250.3" r="2.24"/><circle cx="319.1" cy="317.8" r="2.24"/><circle cx="323.6" cy="215.7" r="2.24"/><circle cx="273.7" cy="217.7" r="2.24"/><circle cx="260.4" cy="170.7" r="2.24"/><circle cx="461.5" cy="180.4" r="2.24"/><circle cx="369.3" cy="253.1" r="2.24"/><circle cx="439.9" cy="303.5" r="2.24"/><circle cx="271.4" cy="330.0" r="2.24"/><circle cx="429.2" cy="241.8" r="2.24"/><circle cx="435.3" cy="206.8" r="2.24"/><circle cx="276.6" cy="281.2" r="2.24"/><circle cx="247.9" cy="318.2" r="2.24"/><circle cx="411.1" cy="424.8" r="2.24"/><circle cx="375.5" cy="366.3" r="2.24"/><circle cx="496.0" cy="147.1" r="2.24"/><circle cx="248.6" cy="252.1" r="2.24"/><circle cx="274.6" cy="223.4" r="2.24"/><circle cx="427.4" cy="222.1" r="2.24"/><circle cx="497.5" cy="192.3" r="2.24"/><circle cx="293.8" cy="186.3" r="2.24"/><circle cx="236.2" cy="201.9" r="2.24"/><circle cx="318.3" cy="175.8" r="2.24"/><circle cx="443.6" cy="266.4" r="2.24"/><circle cx="443.2" cy="202.0" r="2.24"/><circle cx="404.7" cy="309.7" r="2.24"/><circle cx="338.5" cy="304.8" r="2.24"/><circle cx="442.9" cy="270.6" r="2.24"/><circle cx="252.2" cy="323.1" r="2.24"/><circle cx="360.0" cy="194.0" r="2.24"/><circle cx="498.4" cy="246.9" r="2.24"/><circle cx="475.3" cy="254.3" r="2.24"/><circle cx="265.3" cy="165.2" r="2.24"/><circle cx="238.0" cy="276.6" r="2.24"/><circle cx="314.9" cy="327.1" r="2.24"/><circle cx="233.0" cy="171.4" r="2.24"/><circle cx="331.5" cy="237.0" r="2.24"/><circle cx="382.3" cy="261.7" r="2.24"/><circle cx="347.7" cy="334.7" r="2.24"/><circle cx="323.6" cy="288.7" r="2.24"/><circle cx="291.3" cy="238.4" r="2.24"/><circle cx="423.7" cy="205.3" r="2.24"/><circle cx="311.5" cy="215.3" r="2.24"/><circle cx="418.1" cy="214.2" r="2.24"/><circle cx="441.8" cy="162.9" r="2.24"/><circle cx="208.8" cy="238.3" r="2.24"/><circle cx="433.7" cy="352.4" r="2.24"/><circle cx="315.9" cy="348.4" r="2.24"/><circle cx="357.9" cy="271.9" r="2.24"/><circle cx="210.6" cy="273.9" r="2.24"/><circle cx="409.9" cy="256.4" r="2.24"/><circle cx="243.4" cy="308.5" r="2.24"/><circle cx="530.5" cy="208.4" r="2.24"/><circle cx="244.2" cy="176.4" r="2.24"/><circle cx="446.6" cy="203.4" r="2.24"/><circle cx="392.6" cy="401.5" r="2.24"/><circle cx="392.1" cy="328.4" r="2.24"/><circle cx="392.1" cy="211.3" r="2.24"/><circle cx="505.1" cy="241.2" r="2.24"/><circle cx="208.9" cy="275.5" r="2.24"/><circle cx="263.7" cy="166.6" r="2.24"/><circle cx="398.1" cy="257.5" r="2.24"/><circle cx="287.4" cy="322.3" r="2.24"/><circle cx="390.4" cy="319.1" r="2.24"/><circle cx="327.5" cy="195.2" r="2.24"/><circle cx="302.3" cy="367.0" r="2.24"/><circle cx="380.9" cy="354.1" r="2.24"/><circle cx="247.9" cy="305.5" r="2.24"/><circle cx="400.7" cy="325.0" r="2.24"/><circle cx="397.0" cy="190.2" r="2.24"/><circle cx="375.4" cy="259.5" r="2.24"/><circle cx="244.9" cy="202.4" r="2.24"/><circle cx="415.1" cy="342.2" r="2.24"/><circle cx="411.3" cy="454.8" r="2.24"/><circle cx="419.4" cy="361.0" r="2.24"/><circle cx="331.9" cy="410.7" r="2.24"/><circle cx="338.2" cy="317.0" r="2.24"/><circle cx="410.8" cy="418.3" r="2.24"/><circle cx="399.7" cy="199.5" r="2.24"/><circle cx="502.3" cy="239.0" r="2.24"/><circle cx="306.9" cy="271.8" r="2.24"/><circle cx="391.8" cy="231.0" r="2.24"/><circle cx="300.3" cy="342.2" r="2.24"/><circle cx="352.3" cy="275.8" r="2.24"/><circle cx="485.1" cy="241.0" r="2.24"/><circle cx="175.3" cy="195.1" r="2.24"/><circle cx="244.7" cy="267.1" r="2.24"/><circle cx="357.8" cy="184.1" r="2.24"/><circle cx="393.2" cy="348.6" r="2.24"/><circle cx="298.1" cy="280.3" r="2.24"/><circle cx="255.1" cy="273.0" r="2.24"/><circle cx="279.6" cy="163.0" r="2.24"/><circle cx="350.9" cy="285.9" r="2.24"/><circle cx="389.8" cy="242.5" r="2.24"/><circle cx="423.1" cy="333.8" r="2.24"/><circle cx="422.2" cy="398.7" r="2.24"/><circle cx="352.6" cy="214.2" r="2.24"/><circle cx="211.4" cy="192.2" r="2.24"/><circle cx="414.4" cy="305.5" r="2.24"/><circle cx="469.7" cy="242.4" r="2.24"/><circle cx="405.2" cy="265.9" r="2.24"/><circle cx="391.9" cy="174.9" r="2.24"/><circle cx="236.0" cy="226.1" r="2.24"/><circle cx="431.8" cy="306.2" r="2.24"/><circle cx="377.5" cy="160.0" r="2.24"/><circle cx="463.2" cy="251.7" r="2.24"/><circle cx="233.1" cy="225.9" r="2.24"/><circle cx="448.6" cy="274.4" r="2.24"/><circle cx="430.4" cy="287.3" r="2.24"/><circle cx="417.5" cy="152.1" r="2.24"/><circle cx="314.1" cy="213.6" r="2.24"/><circle cx="344.9" cy="258.0" r="2.24"/><circle cx="466.0" cy="240.6" r="2.24"/><circle cx="300.0" cy="333.3" r="2.24"/><circle cx="391.5" cy="362.1" r="2.24"/><circle cx="405.8" cy="150.0" r="2.24"/><circle cx="452.0" cy="232.4" r="2.24"/><circle cx="368.2" cy="380.6" r="2.24"/><circle cx="481.8" cy="182.5" r="2.24"/><circle cx="376.3" cy="178.5" r="2.24"/><circle cx="389.6" cy="363.6" r="2.24"/><circle cx="361.5" cy="239.6" r="2.24"/><circle cx="188.6" cy="250.7" r="2.24"/><circle cx="445.8" cy="342.0" r="2.24"/><circle cx="384.3" cy="251.0" r="2.24"/><circle cx="371.1" cy="331.9" r="2.24"/><circle cx="274.1" cy="296.7" r="2.24"/><circle cx="291.5" cy="175.9" r="2.24"/><circle cx="355.0" cy="318.2" r="2.24"/><circle cx="520.9" cy="186.5" r="2.24"/><circle cx="325.4" cy="321.9" r="2.24"/><circle cx="382.4" cy="312.8" r="2.24"/><circle cx="427.5" cy="265.0" r="2.24"/><circle cx="276.2" cy="249.3" r="2.24"/><circle cx="202.8" cy="252.9" r="2.24"/><circle cx="533.3" cy="188.0" r="2.24"/><circle cx="269.6" cy="359.8" r="2.24"/><circle cx="396.0" cy="232.1" r="2.24"/><circle cx="341.7" cy="155.4" r="2.24"/><circle cx="341.1" cy="358.7" r="2.24"/><circle cx="232.4" cy="293.9" r="2.24"/><circle cx="326.9" cy="331.1" r="2.24"/><circle cx="395.5" cy="298.9" r="2.24"/><circle cx="383.1" cy="182.0" r="2.24"/><circle cx="387.2" cy="445.7" r="2.24"/><circle cx="407.3" cy="356.3" r="2.24"/><circle cx="408.8" cy="179.2" r="2.24"/><circle cx="428.4" cy="192.3" r="2.24"/><circle cx="423.7" cy="188.5" r="2.24"/><circle cx="239.4" cy="272.1" r="2.24"/><circle cx="419.5" cy="151.2" r="2.24"/><circle cx="295.9" cy="224.3" r="2.24"/><circle cx="204.8" cy="247.9" r="2.24"/><circle cx="413.8" cy="261.7" r="2.24"/><circle cx="481.1" cy="273.5" r="2.24"/><circle cx="270.1" cy="295.3" r="2.24"/><circle cx="254.1" cy="167.0" r="2.24"/><circle cx="368.9" cy="365.8" r="2.24"/><circle cx="227.3" cy="299.3" r="2.24"/><circle cx="377.5" cy="295.8" r="2.24"/><circle cx="410.4" cy="252.0" r="2.24"/><circle cx="433.1" cy="161.2" r="2.24"/><circle cx="270.9" cy="333.7" r="2.24"/><circle cx="480.8" cy="251.0" r="2.24"/><circle cx="287.2" cy="178.0" r="2.24"/><circle cx="432.9" cy="268.0" r="2.24"/><circle cx="294.5" cy="244.1" r="2.24"/><circle cx="482.8" cy="219.1" r="2.24"/><circle cx="443.2" cy="365.6" r="2.24"/><circle cx="377.2" cy="437.5" r="2.24"/><circle cx="236.4" cy="297.3" r="2.24"/><circle cx="153.3" cy="219.5" r="2.24"/><circle cx="447.9" cy="213.6" r="2.24"/><circle cx="222.6" cy="270.3" r="2.24"/><circle cx="172.1" cy="195.1" r="2.24"/><circle cx="379.0" cy="283.1" r="2.24"/><circle cx="382.1" cy="278.8" r="2.24"/><circle cx="446.6" cy="267.5" r="2.24"/><circle cx="367.6" cy="372.7" r="2.24"/><circle cx="272.7" cy="240.9" r="2.24"/><circle cx="293.2" cy="290.2" r="2.24"/><circle cx="340.1" cy="155.7" r="2.24"/><circle cx="399.0" cy="375.2" r="2.24"/><circle cx="398.7" cy="329.6" r="2.24"/><circle cx="515.1" cy="191.4" r="2.24"/><circle cx="263.8" cy="286.7" r="2.24"/><circle cx="230.7" cy="270.0" r="2.24"/><circle cx="451.2" cy="313.5" r="2.24"/><circle cx="259.2" cy="351.6" r="2.24"/><circle cx="344.5" cy="382.9" r="2.24"/><circle cx="376.1" cy="294.1" r="2.24"/><circle cx="393.4" cy="430.2" r="2.24"/><circle cx="226.1" cy="252.2" r="2.24"/><circle cx="182.0" cy="247.0" r="2.24"/><circle cx="279.1" cy="253.2" r="2.24"/><circle cx="301.2" cy="282.2" r="2.24"/><circle cx="438.8" cy="206.8" r="2.24"/><circle cx="402.0" cy="269.9" r="2.24"/><circle cx="486.6" cy="263.0" r="2.24"/><circle cx="212.0" cy="264.7" r="2.24"/><circle cx="524.9" cy="208.0" r="2.24"/><circle cx="489.5" cy="283.3" r="2.24"/><circle cx="415.3" cy="362.2" r="2.24"/><circle cx="346.1" cy="263.3" r="2.24"/><circle cx="482.9" cy="190.3" r="2.24"/><circle cx="356.3" cy="402.7" r="2.24"/><circle cx="321.0" cy="317.5" r="2.24"/><circle cx="523.7" cy="203.1" r="2.24"/><circle cx="375.1" cy="267.8" r="2.24"/><circle cx="309.2" cy="179.2" r="2.24"/><circle cx="321.7" cy="237.0" r="2.24"/><circle cx="326.1" cy="403.4" r="2.24"/><circle cx="222.8" cy="169.7" r="2.24"/><circle cx="368.9" cy="269.1" r="2.24"/><circle cx="438.6" cy="235.6" r="2.24"/><circle cx="233.1" cy="229.8" r="2.24"/><circle cx="375.7" cy="295.4" r="2.24"/><circle cx="375.4" cy="274.3" r="2.24"/><circle cx="243.6" cy="187.9" r="2.24"/><circle cx="174.0" cy="248.1" r="2.24"/><circle cx="146.8" cy="213.7" r="2.24"/><circle cx="335.0" cy="193.4" r="2.24"/><circle cx="250.8" cy="173.0" r="2.24"/><circle cx="287.4" cy="373.0" r="2.24"/><circle cx="241.8" cy="247.2" r="2.24"/><circle cx="410.6" cy="230.5" r="2.24"/><circle cx="402.0" cy="252.8" r="2.24"/><circle cx="336.4" cy="303.3" r="2.24"/><circle cx="397.8" cy="260.0" r="2.24"/><circle cx="399.1" cy="207.0" r="2.24"/><circle cx="416.8" cy="324.7" r="2.24"/><circle cx="320.6" cy="391.8" r="2.24"/><circle cx="431.4" cy="169.3" r="2.24"/><circle cx="303.4" cy="207.1" r="2.24"/><circle cx="316.6" cy="297.2" r="2.24"/><circle cx="376.9" cy="264.8" r="2.24"/><circle cx="434.4" cy="183.5" r="2.24"/><circle cx="380.3" cy="352.6" r="2.24"/><circle cx="464.4" cy="342.7" r="2.24"/><circle cx="426.3" cy="259.3" r="2.24"/><circle cx="421.8" cy="245.1" r="2.24"/><circle cx="430.0" cy="292.8" r="2.24"/><circle cx="446.2" cy="358.2" r="2.24"/><circle cx="282.6" cy="285.7" r="2.24"/><circle cx="212.6" cy="293.3" r="2.24"/><circle cx="340.3" cy="259.2" r="2.24"/><circle cx="472.8" cy="298.6" r="2.24"/><circle cx="161.0" cy="178.7" r="2.24"/><circle cx="543.4" cy="174.7" r="2.24"/><circle cx="454.8" cy="199.2" r="2.24"/><circle cx="219.5" cy="304.8" r="2.24"/><circle cx="319.7" cy="211.6" r="2.24"/><circle cx="243.6" cy="303.7" r="2.24"/><circle cx="280.4" cy="197.9" r="2.24"/><circle cx="247.9" cy="325.2" r="2.24"/><circle cx="322.2" cy="229.0" r="2.24"/><circle cx="303.0" cy="266.0" r="2.24"/><circle cx="412.5" cy="329.7" r="2.24"/><circle cx="289.3" cy="281.3" r="2.24"/><circle cx="249.3" cy="321.3" r="2.24"/><circle cx="444.3" cy="156.3" r="2.24"/><circle cx="362.0" cy="164.0" r="2.24"/><circle cx="406.7" cy="260.0" r="2.24"/><circle cx="317.9" cy="228.8" r="2.24"/><circle cx="370.5" cy="243.4" r="2.24"/><circle cx="331.9" cy="405.9" r="2.24"/><circle cx="403.5" cy="353.3" r="2.24"/><circle cx="425.9" cy="194.2" r="2.24"/><circle cx="393.7" cy="389.8" r="2.24"/><circle cx="437.9" cy="259.9" r="2.24"/><circle cx="415.8" cy="238.1" r="2.24"/><circle cx="502.0" cy="189.9" r="2.24"/><circle cx="303.0" cy="230.9" r="2.24"/><circle cx="381.2" cy="388.0" r="2.24"/><circle cx="392.3" cy="246.9" r="2.24"/><circle cx="306.0" cy="389.2" r="2.24"/><circle cx="434.3" cy="183.7" r="2.24"/><circle cx="492.6" cy="212.3" r="2.24"/><circle cx="451.1" cy="177.0" r="2.24"/><circle cx="283.4" cy="298.0" r="2.24"/><circle cx="266.2" cy="227.7" r="2.24"/><circle cx="379.4" cy="251.0" r="2.24"/><circle cx="291.4" cy="234.2" r="2.24"/><circle cx="380.5" cy="307.2" r="2.24"/><circle cx="342.0" cy="415.5" r="2.24"/><circle cx="290.7" cy="216.6" r="2.24"/><circle cx="389.2" cy="162.8" r="2.24"/><circle cx="399.6" cy="208.1" r="2.24"/><circle cx="327.3" cy="290.1" r="2.24"/><circle cx="356.4" cy="341.3" r="2.24"/><circle cx="471.4" cy="245.8" r="2.24"/><circle cx="426.2" cy="353.0" r="2.24"/><circle cx="263.9" cy="212.3" r="2.24"/><circle cx="453.9" cy="182.8" r="2.24"/><circle cx="211.7" cy="195.1" r="2.24"/><circle cx="368.6" cy="328.7" r="2.24"/><circle cx="443.6" cy="376.9" r="2.24"/><circle cx="337.5" cy="240.2" r="2.24"/><circle cx="416.4" cy="297.6" r="2.24"/><circle cx="262.6" cy="352.7" r="2.24"/><circle cx="353.7" cy="239.7" r="2.24"/><circle cx="433.4" cy="275.1" r="2.24"/><circle cx="350.1" cy="274.8" r="2.24"/><circle cx="422.7" cy="210.8" r="2.24"/><circle cx="207.4" cy="190.2" r="2.24"/><circle cx="239.7" cy="203.4" r="2.24"/><circle cx="313.9" cy="209.3" r="2.24"/><circle cx="280.1" cy="210.4" r="2.24"/><circle cx="298.1" cy="250.9" r="2.24"/><circle cx="325.3" cy="372.4" r="2.24"/><circle cx="490.0" cy="263.0" r="2.24"/><circle cx="392.1" cy="400.1" r="2.24"/><circle cx="263.6" cy="306.5" r="2.24"/><circle cx="465.5" cy="241.9" r="2.24"/><circle cx="369.8" cy="158.7" r="2.24"/><circle cx="410.0" cy="239.0" r="2.24"/><circle cx="295.6" cy="215.3" r="2.24"/><circle cx="334.8" cy="394.9" r="2.24"/><circle cx="455.8" cy="182.1" r="2.24"/><circle cx="391.6" cy="438.7" r="2.24"/><circle cx="342.3" cy="162.8" r="2.24"/><circle cx="479.2" cy="172.0" r="2.24"/><circle cx="278.3" cy="344.1" r="2.24"/><circle cx="261.1" cy="314.4" r="2.24"/><circle cx="308.0" cy="216.1" r="2.24"/><circle cx="476.6" cy="283.9" r="2.24"/><circle cx="403.1" cy="274.8" r="2.24"/><circle cx="278.9" cy="241.8" r="2.24"/><circle cx="314.5" cy="335.1" r="2.24"/><circle cx="460.0" cy="334.4" r="2.24"/><circle cx="458.7" cy="304.6" r="2.24"/><circle cx="226.8" cy="174.2" r="2.24"/><circle cx="435.0" cy="170.6" r="2.24"/><circle cx="226.8" cy="185.9" r="2.24"/><circle cx="379.8" cy="360.7" r="2.24"/><circle cx="283.8" cy="330.0" r="2.24"/><circle cx="224.1" cy="172.5" r="2.24"/><circle cx="529.9" cy="205.2" r="2.24"/><circle cx="275.2" cy="350.0" r="2.24"/><circle cx="419.1" cy="317.5" r="2.24"/><circle cx="265.3" cy="332.0" r="2.24"/><circle cx="267.6" cy="185.7" r="2.24"/><circle cx="355.2" cy="245.7" r="2.24"/><circle cx="396.6" cy="285.4" r="2.24"/><circle cx="414.9" cy="285.5" r="2.24"/><circle cx="523.1" cy="176.9" r="2.24"/><circle cx="362.7" cy="245.8" r="2.24"/><circle cx="281.7" cy="297.0" r="2.24"/><circle cx="392.1" cy="275.0" r="2.24"/><circle cx="372.8" cy="421.1" r="2.24"/><circle cx="413.6" cy="317.3" r="2.24"/><circle cx="332.9" cy="388.5" r="2.24"/><circle cx="451.5" cy="349.5" r="2.24"/><circle cx="418.1" cy="186.6" r="2.24"/><circle cx="237.6" cy="271.0" r="2.24"/><circle cx="260.1" cy="229.6" r="2.24"/><circle cx="311.7" cy="175.6" r="2.24"/><circle cx="505.7" cy="158.4" r="2.24"/><circle cx="369.8" cy="420.3" r="2.24"/><circle cx="353.2" cy="384.3" r="2.24"/><circle cx="318.6" cy="259.1" r="2.24"/><circle cx="433.3" cy="260.2" r="2.24"/><circle cx="400.3" cy="310.5" r="2.24"/><circle cx="282.3" cy="172.8" r="2.24"/><circle cx="208.0" cy="273.5" r="2.24"/><circle cx="391.5" cy="372.6" r="2.24"/><circle cx="459.9" cy="273.8" r="2.24"/><circle cx="286.3" cy="358.3" r="2.24"/><circle cx="364.4" cy="424.8" r="2.24"/><circle cx="513.5" cy="241.2" r="2.24"/><circle cx="306.7" cy="305.9" r="2.24"/><circle cx="470.4" cy="339.5" r="2.24"/><circle cx="509.9" cy="152.6" r="2.24"/><circle cx="334.7" cy="301.4" r="2.24"/><circle cx="318.6" cy="294.8" r="2.24"/><circle cx="298.3" cy="381.7" r="2.24"/><circle cx="384.1" cy="326.7" r="2.24"/><circle cx="275.7" cy="218.8" r="2.24"/><circle cx="279.0" cy="217.8" r="2.24"/><circle cx="358.8" cy="259.4" r="2.24"/><circle cx="455.1" cy="259.8" r="2.24"/><circle cx="379.2" cy="397.2" r="2.24"/><circle cx="415.2" cy="237.9" r="2.24"/><circle cx="308.8" cy="261.6" r="2.24"/><circle cx="520.1" cy="216.0" r="2.24"/><circle cx="338.7" cy="383.3" r="2.24"/><circle cx="379.8" cy="265.9" r="2.24"/><circle cx="412.5" cy="243.3" r="2.24"/><circle cx="361.6" cy="315.7" r="2.24"/><circle cx="451.7" cy="224.1" r="2.24"/><circle cx="286.4" cy="339.8" r="2.24"/><circle cx="285.4" cy="210.3" r="2.24"/><circle cx="377.4" cy="237.5" r="2.24"/><circle cx="290.8" cy="291.3" r="2.24"/><circle cx="445.1" cy="236.7" r="2.24"/><circle cx="351.1" cy="185.1" r="2.24"/><circle cx="412.5" cy="256.0" r="2.24"/><circle cx="542.8" cy="164.8" r="2.24"/><circle cx="308.5" cy="261.0" r="2.24"/><circle cx="351.5" cy="208.3" r="2.24"/><circle cx="444.4" cy="383.5" r="2.24"/><circle cx="352.2" cy="181.4" r="2.24"/><circle cx="335.8" cy="247.4" r="2.24"/><circle cx="411.6" cy="316.9" r="2.24"/><circle cx="439.2" cy="153.4" r="2.24"/><circle cx="353.5" cy="285.1" r="2.24"/><circle cx="371.2" cy="243.6" r="2.24"/><circle cx="474.2" cy="196.7" r="2.24"/><circle cx="265.5" cy="334.0" r="2.24"/><circle cx="418.2" cy="282.0" r="2.24"/><circle cx="373.1" cy="193.8" r="2.24"/><circle cx="372.9" cy="369.0" r="2.24"/><circle cx="230.3" cy="202.6" r="2.24"/><circle cx="406.9" cy="256.0" r="2.24"/><circle cx="379.6" cy="232.8" r="2.24"/><circle cx="337.4" cy="249.6" r="2.24"/><circle cx="276.1" cy="308.2" r="2.24"/><circle cx="316.8" cy="294.1" r="2.24"/><circle cx="193.7" cy="230.6" r="2.24"/><circle cx="369.3" cy="337.4" r="2.24"/><circle cx="275.6" cy="348.5" r="2.24"/><circle cx="402.5" cy="367.6" r="2.24"/><circle cx="465.4" cy="192.4" r="2.24"/><circle cx="306.8" cy="227.5" r="2.24"/><circle cx="410.9" cy="190.4" r="2.24"/><circle cx="473.6" cy="179.1" r="2.24"/><circle cx="372.3" cy="342.7" r="2.24"/><circle cx="350.5" cy="392.1" r="2.24"/><circle cx="519.5" cy="230.3" r="2.24"/><circle cx="219.3" cy="279.4" r="2.24"/><circle cx="359.8" cy="361.2" r="2.24"/><circle cx="390.7" cy="258.3" r="2.24"/><circle cx="386.3" cy="334.1" r="2.24"/><circle cx="317.0" cy="333.3" r="2.24"/><circle cx="231.2" cy="305.4" r="2.24"/><circle cx="313.7" cy="347.4" r="2.24"/><circle cx="447.0" cy="270.7" r="2.24"/><circle cx="433.3" cy="352.1" r="2.24"/><circle cx="333.7" cy="315.1" r="2.24"/><circle cx="430.1" cy="207.5" r="2.24"/><circle cx="397.0" cy="309.1" r="2.24"/><circle cx="448.0" cy="191.6" r="2.24"/><circle cx="283.6" cy="299.8" r="2.24"/><circle cx="408.2" cy="317.6" r="2.24"/><circle cx="290.0" cy="337.8" r="2.24"/><circle cx="168.7" cy="223.6" r="2.24"/><circle cx="331.3" cy="251.2" r="2.24"/><circle cx="458.2" cy="215.4" r="2.24"/><circle cx="341.7" cy="211.5" r="2.24"/><circle cx="344.6" cy="328.4" r="2.24"/><circle cx="207.3" cy="181.9" r="2.24"/><circle cx="460.7" cy="249.3" r="2.24"/><circle cx="413.6" cy="246.7" r="2.24"/><circle cx="361.9" cy="339.3" r="2.24"/><circle cx="360.9" cy="333.9" r="2.24"/><circle cx="248.7" cy="278.4" r="2.24"/><circle cx="373.2" cy="234.9" r="2.24"/><circle cx="223.4" cy="207.6" r="2.24"/><circle cx="190.9" cy="254.0" r="2.24"/><circle cx="455.5" cy="156.3" r="2.24"/><circle cx="360.5" cy="341.4" r="2.24"/><circle cx="261.0" cy="252.9" r="2.24"/><circle cx="431.2" cy="344.5" r="2.24"/><circle cx="520.3" cy="226.1" r="2.24"/><circle cx="376.9" cy="418.2" r="2.24"/><circle cx="329.5" cy="202.2" r="2.24"/><circle cx="342.4" cy="220.2" r="2.24"/><circle cx="295.2" cy="343.2" r="2.24"/><circle cx="344.7" cy="312.1" r="2.24"/><circle cx="421.9" cy="332.3" r="2.24"/><circle cx="250.5" cy="203.1" r="2.24"/><circle cx="224.3" cy="271.0" r="2.24"/><circle cx="408.9" cy="220.5" r="2.24"/><circle cx="343.0" cy="294.2" r="2.24"/><circle cx="324.6" cy="391.5" r="2.24"/><circle cx="342.8" cy="179.4" r="2.24"/><circle cx="442.0" cy="287.9" r="2.24"/><circle cx="468.4" cy="341.5" r="2.24"/><circle cx="244.7" cy="189.9" r="2.24"/><circle cx="482.7" cy="192.1" r="2.24"/><circle cx="309.7" cy="384.9" r="2.24"/><circle cx="369.4" cy="380.6" r="2.24"/><circle cx="450.9" cy="342.6" r="2.24"/><circle cx="362.9" cy="160.3" r="2.24"/><circle cx="412.1" cy="214.9" r="2.24"/><circle cx="270.9" cy="348.4" r="2.24"/><circle cx="417.6" cy="350.3" r="2.24"/><circle cx="356.4" cy="293.3" r="2.24"/><circle cx="472.9" cy="160.5" r="2.24"/><circle cx="310.2" cy="237.4" r="2.24"/><circle cx="386.2" cy="234.1" r="2.24"/><circle cx="404.2" cy="414.0" r="2.24"/><circle cx="461.6" cy="236.7" r="2.24"/><circle cx="246.3" cy="181.6" r="2.24"/><circle cx="371.6" cy="304.1" r="2.24"/><circle cx="346.7" cy="167.2" r="2.24"/><circle cx="457.6" cy="346.3" r="2.24"/><circle cx="476.3" cy="282.4" r="2.24"/><circle cx="398.7" cy="295.1" r="2.24"/><circle cx="394.0" cy="377.6" r="2.24"/><circle cx="403.1" cy="305.5" r="2.24"/><circle cx="290.8" cy="331.4" r="2.24"/><circle cx="267.6" cy="282.0" r="2.24"/><circle cx="393.1" cy="426.8" r="2.24"/><circle cx="268.3" cy="182.2" r="2.24"/><circle cx="388.2" cy="202.4" r="2.24"/><circle cx="333.3" cy="305.4" r="2.24"/><circle cx="391.6" cy="280.9" r="2.24"/><circle cx="397.7" cy="263.9" r="2.24"/><circle cx="370.8" cy="281.5" r="2.24"/><circle cx="216.4" cy="287.7" r="2.24"/><circle cx="392.4" cy="443.6" r="2.24"/><circle cx="286.0" cy="261.1" r="2.24"/><circle cx="319.8" cy="362.5" r="2.24"/><circle cx="340.1" cy="241.7" r="2.24"/><circle cx="304.1" cy="274.9" r="2.24"/><circle cx="450.3" cy="259.2" r="2.24"/><circle cx="288.4" cy="232.8" r="2.24"/><circle cx="428.2" cy="340.9" r="2.24"/><circle cx="246.1" cy="305.2" r="2.24"/><circle cx="335.6" cy="265.7" r="2.24"/><circle cx="457.5" cy="189.7" r="2.24"/><circle cx="402.1" cy="348.2" r="2.24"/><circle cx="367.6" cy="266.9" r="2.24"/><circle cx="381.4" cy="216.9" r="2.24"/><circle cx="467.3" cy="229.1" r="2.24"/><circle cx="338.9" cy="384.1" r="2.24"/><circle cx="189.6" cy="271.1" r="2.24"/><circle cx="445.2" cy="275.4" r="2.24"/><circle cx="320.6" cy="349.9" r="2.24"/><circle cx="317.6" cy="272.4" r="2.24"/><circle cx="455.8" cy="311.7" r="2.24"/><circle cx="464.8" cy="326.4" r="2.24"/><circle cx="540.1" cy="152.7" r="2.24"/><circle cx="360.6" cy="204.6" r="2.24"/><circle cx="298.5" cy="311.1" r="2.24"/><circle cx="387.4" cy="229.4" r="2.24"/><circle cx="438.2" cy="314.2" r="2.24"/><circle cx="368.4" cy="298.1" r="2.24"/><circle cx="213.5" cy="249.2" r="2.24"/><circle cx="374.5" cy="373.7" r="2.24"/><circle cx="362.8" cy="343.7" r="2.24"/><circle cx="360.0" cy="190.8" r="2.24"/><circle cx="450.0" cy="164.4" r="2.24"/><circle cx="410.1" cy="389.7" r="2.24"/><circle cx="406.5" cy="376.8" r="2.24"/><circle cx="379.0" cy="444.6" r="2.24"/><circle cx="319.0" cy="335.6" r="2.24"/><circle cx="335.0" cy="377.3" r="2.24"/><circle cx="436.4" cy="293.2" r="2.24"/><circle cx="305.0" cy="235.0" r="2.24"/><circle cx="480.2" cy="195.8" r="2.24"/><circle cx="322.7" cy="197.9" r="2.24"/><circle cx="503.7" cy="237.4" r="2.24"/><circle cx="305.6" cy="292.5" r="2.24"/><circle cx="412.7" cy="329.9" r="2.24"/><circle cx="341.2" cy="313.5" r="2.24"/><circle cx="311.2" cy="266.5" r="2.24"/><circle cx="273.4" cy="314.3" r="2.24"/><circle cx="305.5" cy="277.2" r="2.24"/><circle cx="350.1" cy="377.7" r="2.24"/><circle cx="229.5" cy="289.2" r="2.24"/><circle cx="340.7" cy="307.1" r="2.24"/><circle cx="487.2" cy="254.3" r="2.24"/><circle cx="440.2" cy="169.0" r="2.24"/><circle cx="411.1" cy="385.1" r="2.24"/><circle cx="498.8" cy="184.1" r="2.24"/><circle cx="210.1" cy="217.3" r="2.24"/><circle cx="328.2" cy="260.0" r="2.24"/><circle cx="338.8" cy="287.7" r="2.24"/><circle cx="527.7" cy="204.5" r="2.24"/><circle cx="413.4" cy="244.0" r="2.24"/><circle cx="369.4" cy="395.4" r="2.24"/><circle cx="299.1" cy="300.7" r="2.24"/><circle cx="440.6" cy="361.5" r="2.24"/><circle cx="334.5" cy="396.6" r="2.24"/><circle cx="456.9" cy="185.8" r="2.24"/><circle cx="458.0" cy="359.0" r="2.24"/><circle cx="397.2" cy="434.7" r="2.24"/><circle cx="223.1" cy="221.4" r="2.24"/><circle cx="486.7" cy="218.3" r="2.24"/><circle cx="490.9" cy="187.3" r="2.24"/><circle cx="436.7" cy="397.1" r="2.24"/><circle cx="303.5" cy="201.6" r="2.24"/><circle cx="190.2" cy="258.0" r="2.24"/><circle cx="275.5" cy="253.4" r="2.24"/><circle cx="431.4" cy="391.6" r="2.24"/><circle cx="368.4" cy="277.8" r="2.24"/><circle cx="342.8" cy="401.3" r="2.24"/><circle cx="347.3" cy="218.9" r="2.24"/><circle cx="546.8" cy="145.7" r="2.24"/><circle cx="374.0" cy="172.2" r="2.24"/><circle cx="364.1" cy="242.5" r="2.24"/><circle cx="482.5" cy="261.1" r="2.24"/><circle cx="324.5" cy="354.5" r="2.24"/><circle cx="508.0" cy="244.9" r="2.24"/><circle cx="358.1" cy="201.3" r="2.24"/><circle cx="391.3" cy="339.4" r="2.24"/><circle cx="478.9" cy="158.0" r="2.24"/><circle cx="331.5" cy="409.6" r="2.24"/><circle cx="376.3" cy="415.1" r="2.24"/><circle cx="366.9" cy="299.0" r="2.24"/><circle cx="477.9" cy="308.6" r="2.24"/><circle cx="375.7" cy="437.6" r="2.24"/><circle cx="369.8" cy="397.8" r="2.24"/><circle cx="370.1" cy="243.5" r="2.24"/><circle cx="389.8" cy="328.1" r="2.24"/><circle cx="253.7" cy="185.1" r="2.24"/><circle cx="313.1" cy="337.7" r="2.24"/><circle cx="259.4" cy="203.2" r="2.24"/><circle cx="237.1" cy="317.3" r="2.24"/><circle cx="470.8" cy="168.5" r="2.24"/><circle cx="290.7" cy="368.1" r="2.24"/><circle cx="295.7" cy="308.1" r="2.24"/><circle cx="210.3" cy="245.0" r="2.24"/><circle cx="366.8" cy="232.4" r="2.24"/><circle cx="346.7" cy="213.7" r="2.24"/><circle cx="384.8" cy="394.6" r="2.24"/><circle cx="360.5" cy="185.2" r="2.24"/><circle cx="534.5" cy="195.8" r="2.24"/><circle cx="252.2" cy="220.0" r="2.24"/><circle cx="381.1" cy="182.2" r="2.24"/><circle cx="398.2" cy="264.5" r="2.24"/><circle cx="198.6" cy="236.7" r="2.24"/><circle cx="466.1" cy="255.8" r="2.24"/><circle cx="404.8" cy="183.5" r="2.24"/><circle cx="379.5" cy="257.2" r="2.24"/><circle cx="383.3" cy="382.4" r="2.24"/><circle cx="363.8" cy="277.5" r="2.24"/><circle cx="430.1" cy="203.0" r="2.24"/><circle cx="356.5" cy="252.6" r="2.24"/><circle cx="350.5" cy="183.8" r="2.24"/><circle cx="455.0" cy="329.3" r="2.24"/><circle cx="306.9" cy="296.3" r="2.24"/><circle cx="259.8" cy="328.8" r="2.24"/><circle cx="343.6" cy="277.1" r="2.24"/><circle cx="463.2" cy="157.7" r="2.24"/><circle cx="485.0" cy="237.1" r="2.24"/><circle cx="400.6" cy="162.8" r="2.24"/><circle cx="448.9" cy="336.3" r="2.24"/><circle cx="451.1" cy="369.6" r="2.24"/><circle cx="445.3" cy="274.7" r="2.24"/><circle cx="401.3" cy="193.1" r="2.24"/><circle cx="373.5" cy="180.6" r="2.24"/><circle cx="494.0" cy="215.3" r="2.24"/><circle cx="284.0" cy="345.0" r="2.24"/><circle cx="291.8" cy="302.1" r="2.24"/><circle cx="222.5" cy="290.1" r="2.24"/><circle cx="513.5" cy="154.3" r="2.24"/><circle cx="390.2" cy="212.4" r="2.24"/><circle cx="325.0" cy="347.4" r="2.24"/><circle cx="261.6" cy="294.2" r="2.24"/><circle cx="349.7" cy="279.3" r="2.24"/><circle cx="463.6" cy="339.9" r="2.24"/><circle cx="321.0" cy="196.5" r="2.24"/><circle cx="239.9" cy="318.9" r="2.24"/><circle cx="428.2" cy="335.3" r="2.24"/><circle cx="190.8" cy="246.3" r="2.24"/><circle cx="291.7" cy="257.8" r="2.24"/><circle cx="428.0" cy="239.6" r="2.24"/><circle cx="325.5" cy="243.4" r="2.24"/><circle cx="235.0" cy="251.1" r="2.24"/><circle cx="342.8" cy="339.0" r="2.24"/><circle cx="329.9" cy="172.1" r="2.24"/><circle cx="304.3" cy="319.8" r="2.24"/><circle cx="203.0" cy="217.4" r="2.24"/><circle cx="224.0" cy="302.1" r="2.24"/><circle cx="413.9" cy="318.8" r="2.24"/><circle cx="350.5" cy="194.1" r="2.24"/><circle cx="438.8" cy="281.1" r="2.24"/><circle cx="146.6" cy="189.7" r="2.24"/><circle cx="274.9" cy="270.9" r="2.24"/><circle cx="441.9" cy="293.2" r="2.24"/><circle cx="166.3" cy="232.3" r="2.24"/><circle cx="423.0" cy="174.3" r="2.24"/><circle cx="405.0" cy="161.7" r="2.24"/><circle cx="163.9" cy="231.8" r="2.24"/><circle cx="490.6" cy="291.7" r="2.24"/><circle cx="323.7" cy="269.3" r="2.24"/><circle cx="432.4" cy="245.6" r="2.24"/><circle cx="418.5" cy="217.1" r="2.24"/><circle cx="272.3" cy="202.5" r="2.24"/><circle cx="318.5" cy="219.3" r="2.24"/><circle cx="367.5" cy="281.5" r="2.24"/><circle cx="325.5" cy="194.4" r="2.24"/><circle cx="349.7" cy="206.3" r="2.24"/><circle cx="302.7" cy="358.9" r="2.24"/><circle cx="274.7" cy="243.4" r="2.24"/><circle cx="380.4" cy="432.2" r="2.24"/><circle cx="435.6" cy="184.7" r="2.24"/><circle cx="405.3" cy="389.6" r="2.24"/><circle cx="381.1" cy="347.9" r="2.24"/><circle cx="430.0" cy="225.9" r="2.24"/><circle cx="424.7" cy="224.2" r="2.24"/><circle cx="455.1" cy="221.7" r="2.24"/><circle cx="335.0" cy="269.8" r="2.24"/><circle cx="498.2" cy="170.7" r="2.24"/><circle cx="306.7" cy="290.5" r="2.24"/><circle cx="454.5" cy="334.2" r="2.24"/><circle cx="312.9" cy="220.1" r="2.24"/><circle cx="261.7" cy="193.4" r="2.24"/><circle cx="393.8" cy="174.5" r="2.24"/><circle cx="295.5" cy="266.0" r="2.24"/><circle cx="236.9" cy="245.7" r="2.24"/><circle cx="190.8" cy="267.1" r="2.24"/><circle cx="151.2" cy="188.8" r="2.24"/><circle cx="292.8" cy="332.4" r="2.24"/><circle cx="352.6" cy="297.1" r="2.24"/><circle cx="421.4" cy="274.3" r="2.24"/><circle cx="348.7" cy="353.0" r="2.24"/><circle cx="490.5" cy="232.6" r="2.24"/><circle cx="346.2" cy="321.5" r="2.24"/><circle cx="323.9" cy="274.1" r="2.24"/><circle cx="417.0" cy="283.8" r="2.24"/><circle cx="225.5" cy="184.6" r="2.24"/><circle cx="462.9" cy="333.9" r="2.24"/><circle cx="412.6" cy="284.6" r="2.24"/><circle cx="523.6" cy="219.9" r="2.24"/><circle cx="194.0" cy="218.6" r="2.24"/><circle cx="515.3" cy="229.8" r="2.24"/><circle cx="418.1" cy="306.1" r="2.24"/><circle cx="398.8" cy="364.7" r="2.24"/><circle cx="311.5" cy="209.2" r="2.24"/><circle cx="416.1" cy="176.7" r="2.24"/><circle cx="165.2" cy="176.0" r="2.24"/><circle cx="245.1" cy="167.1" r="2.24"/><circle cx="353.0" cy="197.2" r="2.24"/><circle cx="288.5" cy="362.4" r="2.24"/><circle cx="431.8" cy="178.7" r="2.24"/><circle cx="531.0" cy="160.6" r="2.24"/><circle cx="272.9" cy="323.3" r="2.24"/><circle cx="402.2" cy="240.6" r="2.24"/><circle cx="258.2" cy="258.1" r="2.24"/><circle cx="427.1" cy="246.5" r="2.24"/><circle cx="288.6" cy="289.2" r="2.24"/><circle cx="294.2" cy="240.1" r="2.24"/><circle cx="330.1" cy="337.2" r="2.24"/><circle cx="542.8" cy="159.5" r="2.24"/><circle cx="239.8" cy="230.5" r="2.24"/><circle cx="201.7" cy="206.4" r="2.24"/><circle cx="424.4" cy="379.5" r="2.24"/><circle cx="510.5" cy="219.2" r="2.24"/><circle cx="397.1" cy="419.5" r="2.24"/><circle cx="366.5" cy="398.8" r="2.24"/><circle cx="491.9" cy="176.9" r="2.24"/><circle cx="416.7" cy="233.5" r="2.24"/><circle cx="382.5" cy="256.8" r="2.24"/><circle cx="315.9" cy="267.6" r="2.24"/><circle cx="421.7" cy="269.3" r="2.24"/><circle cx="487.9" cy="246.4" r="2.24"/><circle cx="379.2" cy="314.9" r="2.24"/><circle cx="298.7" cy="212.4" r="2.24"/><circle cx="391.5" cy="287.4" r="2.24"/><circle cx="246.3" cy="245.8" r="2.24"/><circle cx="274.2" cy="249.8" r="2.24"/><circle cx="293.6" cy="354.8" r="2.24"/><circle cx="426.0" cy="240.8" r="2.24"/><circle cx="368.5" cy="383.0" r="2.24"/><circle cx="273.5" cy="301.1" r="2.24"/><circle cx="343.8" cy="422.3" r="2.24"/><circle cx="243.6" cy="313.6" r="2.24"/><circle cx="446.8" cy="389.4" r="2.24"/><circle cx="445.9" cy="211.6" r="2.24"/><circle cx="304.6" cy="379.9" r="2.24"/><circle cx="372.2" cy="318.3" r="2.24"/><circle cx="422.8" cy="281.7" r="2.24"/><circle cx="397.1" cy="168.5" r="2.24"/><circle cx="274.5" cy="305.7" r="2.24"/><circle cx="250.3" cy="331.5" r="2.24"/><circle cx="368.8" cy="226.8" r="2.24"/><circle cx="276.3" cy="317.3" r="2.24"/><circle cx="297.5" cy="260.6" r="2.24"/><circle cx="241.3" cy="224.4" r="2.24"/><circle cx="523.3" cy="178.5" r="2.24"/><circle cx="418.5" cy="307.7" r="2.24"/><circle cx="169.2" cy="225.6" r="2.24"/><circle cx="238.7" cy="223.5" r="2.24"/><circle cx="264.3" cy="241.6" r="2.24"/><circle cx="420.6" cy="279.2" r="2.24"/><circle cx="453.6" cy="182.7" r="2.24"/><circle cx="295.1" cy="354.3" r="2.24"/><circle cx="360.8" cy="373.1" r="2.24"/><circle cx="269.1" cy="183.1" r="2.24"/><circle cx="231.8" cy="183.8" r="2.24"/><circle cx="234.4" cy="322.8" r="2.24"/><circle cx="176.4" cy="216.2" r="2.24"/><circle cx="430.4" cy="246.1" r="2.24"/><circle cx="170.8" cy="225.7" r="2.24"/><circle cx="384.7" cy="233.6" r="2.24"/><circle cx="281.9" cy="251.4" r="2.24"/><circle cx="402.5" cy="282.0" r="2.24"/><circle cx="482.3" cy="285.6" r="2.24"/><circle cx="388.3" cy="228.2" r="2.24"/><circle cx="206.2" cy="244.5" r="2.24"/><circle cx="322.2" cy="249.5" r="2.24"/><circle cx="488.8" cy="201.0" r="2.24"/><circle cx="290.2" cy="208.8" r="2.24"/><circle cx="248.4" cy="293.6" r="2.24"/><circle cx="335.6" cy="194.4" r="2.24"/><circle cx="369.4" cy="270.1" r="2.24"/><circle cx="342.2" cy="350.2" r="2.24"/><circle cx="359.4" cy="189.1" r="2.24"/><circle cx="518.6" cy="203.5" r="2.24"/><circle cx="286.2" cy="245.6" r="2.24"/><circle cx="429.8" cy="170.0" r="2.24"/><circle cx="367.7" cy="302.1" r="2.24"/><circle cx="349.8" cy="267.8" r="2.24"/><circle cx="349.4" cy="315.0" r="2.24"/><circle cx="485.3" cy="277.3" r="2.24"/><circle cx="304.4" cy="182.9" r="2.24"/><circle cx="324.0" cy="295.3" r="2.24"/><circle cx="419.3" cy="262.4" r="2.24"/><circle cx="509.2" cy="216.5" r="2.24"/><circle cx="304.1" cy="312.8" r="2.24"/><circle cx="472.1" cy="195.9" r="2.24"/><circle cx="312.5" cy="399.4" r="2.24"/><circle cx="321.9" cy="303.6" r="2.24"/><circle cx="289.5" cy="284.4" r="2.24"/><circle cx="383.1" cy="266.1" r="2.24"/><circle cx="352.2" cy="159.3" r="2.24"/><circle cx="364.4" cy="286.4" r="2.24"/><circle cx="452.1" cy="255.0" r="2.24"/><circle cx="522.2" cy="188.2" r="2.24"/><circle cx="441.6" cy="317.0" r="2.24"/><circle cx="389.3" cy="234.2" r="2.24"/><circle cx="422.2" cy="208.4" r="2.24"/><circle cx="382.6" cy="417.9" r="2.24"/><circle cx="533.6" cy="146.1" r="2.24"/><circle cx="488.6" cy="295.2" r="2.24"/><circle cx="370.1" cy="287.3" r="2.24"/><circle cx="458.0" cy="280.4" r="2.24"/><circle cx="383.8" cy="291.4" r="2.24"/><circle cx="360.3" cy="264.3" r="2.24"/><circle cx="369.2" cy="215.3" r="2.24"/><circle cx="246.2" cy="210.3" r="2.24"/><circle cx="327.8" cy="226.1" r="2.24"/><circle cx="371.4" cy="299.3" r="2.24"/><circle cx="274.5" cy="289.7" r="2.24"/><circle cx="314.4" cy="238.1" r="2.24"/><circle cx="493.1" cy="176.8" r="2.24"/><circle cx="420.0" cy="189.6" r="2.24"/><circle cx="492.3" cy="158.0" r="2.24"/><circle cx="262.4" cy="301.2" r="2.24"/><circle cx="283.5" cy="194.3" r="2.24"/><circle cx="501.2" cy="203.1" r="2.24"/><circle cx="235.9" cy="249.5" r="2.24"/><circle cx="309.8" cy="218.9" r="2.24"/><circle cx="430.7" cy="387.4" r="2.24"/><circle cx="407.1" cy="312.7" r="2.24"/><circle cx="268.5" cy="351.8" r="2.24"/><circle cx="446.7" cy="254.3" r="2.24"/><circle cx="380.1" cy="391.0" r="2.24"/><circle cx="411.8" cy="222.6" r="2.24"/><circle cx="460.4" cy="346.9" r="2.24"/><circle cx="385.3" cy="385.9" r="2.24"/><circle cx="431.2" cy="198.4" r="2.24"/><circle cx="317.1" cy="235.3" r="2.24"/><circle cx="418.6" cy="342.5" r="2.24"/><circle cx="273.9" cy="350.0" r="2.24"/><circle cx="507.8" cy="231.3" r="2.24"/><circle cx="477.7" cy="263.9" r="2.24"/><circle cx="232.5" cy="263.6" r="2.24"/><circle cx="407.8" cy="336.0" r="2.24"/><circle cx="492.7" cy="149.5" r="2.24"/><circle cx="442.5" cy="306.2" r="2.24"/><circle cx="266.7" cy="215.7" r="2.24"/><circle cx="314.8" cy="282.1" r="2.24"/><circle cx="459.7" cy="214.9" r="2.24"/><circle cx="359.0" cy="307.3" r="2.24"/><circle cx="315.5" cy="225.9" r="2.24"/><circle cx="195.2" cy="222.5" r="2.24"/><circle cx="367.8" cy="283.6" r="2.24"/><circle cx="315.1" cy="158.5" r="2.24"/><circle cx="451.0" cy="238.5" r="2.24"/><circle cx="507.0" cy="148.3" r="2.24"/><circle cx="373.5" cy="243.3" r="2.24"/><circle cx="392.3" cy="315.0" r="2.24"/><circle cx="391.9" cy="455.2" r="2.24"/><circle cx="294.7" cy="268.2" r="2.24"/><circle cx="281.8" cy="228.6" r="2.24"/><circle cx="416.2" cy="365.2" r="2.24"/><circle cx="194.0" cy="186.3" r="2.24"/><circle cx="396.1" cy="161.5" r="2.24"/><circle cx="316.9" cy="193.4" r="2.24"/><circle cx="454.8" cy="224.5" r="2.24"/><circle cx="252.0" cy="181.0" r="2.24"/><circle cx="374.7" cy="393.4" r="2.24"/><circle cx="297.5" cy="251.6" r="2.24"/><circle cx="198.4" cy="230.0" r="2.24"/><circle cx="330.3" cy="270.6" r="2.24"/><circle cx="389.3" cy="452.4" r="2.24"/><circle cx="356.7" cy="199.4" r="2.24"/><circle cx="221.5" cy="292.2" r="2.24"/><circle cx="480.6" cy="223.1" r="2.24"/><circle cx="499.8" cy="227.7" r="2.24"/><circle cx="323.4" cy="291.5" r="2.24"/><circle cx="322.6" cy="386.8" r="2.24"/><circle cx="295.5" cy="377.7" r="2.24"/><circle cx="232.3" cy="227.4" r="2.24"/><circle cx="283.1" cy="224.9" r="2.24"/><circle cx="278.1" cy="169.2" r="2.24"/><circle cx="366.3" cy="238.8" r="2.24"/><circle cx="320.0" cy="403.0" r="2.24"/><circle cx="415.5" cy="204.3" r="2.24"/><circle cx="437.0" cy="296.2" r="2.24"/><circle cx="266.4" cy="220.3" r="2.24"/><circle cx="496.5" cy="145.2" r="2.24"/><circle cx="473.4" cy="301.2" r="2.24"/><circle cx="370.4" cy="351.8" r="2.24"/><circle cx="291.5" cy="237.7" r="2.24"/><circle cx="414.3" cy="437.3" r="2.24"/><circle cx="272.0" cy="225.5" r="2.24"/><circle cx="393.0" cy="301.8" r="2.24"/><circle cx="408.9" cy="390.1" r="2.24"/><circle cx="464.3" cy="211.0" r="2.24"/><circle cx="146.3" cy="197.9" r="2.24"/><circle cx="435.1" cy="167.1" r="2.24"/><circle cx="341.2" cy="256.5" r="2.24"/><circle cx="477.4" cy="305.6" r="2.24"/><circle cx="254.3" cy="321.3" r="2.24"/><circle cx="306.2" cy="369.6" r="2.24"/><circle cx="325.1" cy="221.7" r="2.24"/><circle cx="358.8" cy="173.4" r="2.24"/><circle cx="417.9" cy="344.4" r="2.24"/><circle cx="329.4" cy="248.3" r="2.24"/><circle cx="290.6" cy="300.2" r="2.24"/><circle cx="397.1" cy="456.8" r="2.24"/><circle cx="250.5" cy="343.1" r="2.24"/><circle cx="329.0" cy="255.1" r="2.24"/><circle cx="405.9" cy="398.1" r="2.24"/><circle cx="453.5" cy="312.5" r="2.24"/><circle cx="459.4" cy="252.2" r="2.24"/><circle cx="423.0" cy="363.2" r="2.24"/><circle cx="514.6" cy="155.8" r="2.24"/><circle cx="202.0" cy="193.2" r="2.24"/><circle cx="363.8" cy="172.0" r="2.24"/><circle cx="375.3" cy="317.6" r="2.24"/><circle cx="351.9" cy="205.8" r="2.24"/><circle cx="490.6" cy="252.8" r="2.24"/><circle cx="286.4" cy="323.6" r="2.24"/><circle cx="438.1" cy="271.2" r="2.24"/><circle cx="345.9" cy="416.8" r="2.24"/><circle cx="344.4" cy="253.0" r="2.24"/><circle cx="267.3" cy="193.7" r="2.24"/><circle cx="209.5" cy="197.1" r="2.24"/><circle cx="330.4" cy="256.7" r="2.24"/><circle cx="239.0" cy="180.6" r="2.24"/><circle cx="173.7" cy="242.8" r="2.24"/><circle cx="354.3" cy="212.9" r="2.24"/><circle cx="480.4" cy="248.8" r="2.24"/><circle cx="375.8" cy="183.9" r="2.24"/><circle cx="216.1" cy="212.2" r="2.24"/><circle cx="401.1" cy="233.7" r="2.24"/><circle cx="274.6" cy="338.7" r="2.24"/><circle cx="367.5" cy="412.6" r="2.24"/><circle cx="456.2" cy="175.2" r="2.24"/><circle cx="371.1" cy="268.7" r="2.24"/><circle cx="384.7" cy="177.5" r="2.24"/><circle cx="402.9" cy="243.7" r="2.24"/><circle cx="412.7" cy="392.3" r="2.24"/><circle cx="319.0" cy="208.5" r="2.24"/><circle cx="410.7" cy="277.9" r="2.24"/><circle cx="416.8" cy="336.4" r="2.24"/><circle cx="370.0" cy="326.2" r="2.24"/><circle cx="441.0" cy="330.8" r="2.24"/><circle cx="189.3" cy="202.9" r="2.24"/><circle cx="321.5" cy="162.8" r="2.24"/><circle cx="352.9" cy="158.0" r="2.24"/><circle cx="485.5" cy="196.2" r="2.24"/><circle cx="252.2" cy="339.9" r="2.24"/><circle cx="459.1" cy="167.6" r="2.24"/><circle cx="266.5" cy="192.6" r="2.24"/><circle cx="357.2" cy="386.7" r="2.24"/><circle cx="427.2" cy="296.7" r="2.24"/><circle cx="349.6" cy="201.0" r="2.24"/><circle cx="333.9" cy="176.1" r="2.24"/><circle cx="258.2" cy="292.3" r="2.24"/><circle cx="195.3" cy="231.5" r="2.24"/><circle cx="337.9" cy="194.8" r="2.24"/><circle cx="212.8" cy="257.9" r="2.24"/><circle cx="279.3" cy="208.1" r="2.24"/><circle cx="316.6" cy="276.6" r="2.24"/><circle cx="283.2" cy="310.9" r="2.24"/><circle cx="230.1" cy="178.0" r="2.24"/><circle cx="320.6" cy="213.0" r="2.24"/><circle cx="417.5" cy="208.2" r="2.24"/><circle cx="462.7" cy="226.2" r="2.24"/><circle cx="273.6" cy="329.4" r="2.24"/><circle cx="195.5" cy="192.4" r="2.24"/><circle cx="471.1" cy="322.3" r="2.24"/><circle cx="464.8" cy="311.0" r="2.24"/><circle cx="399.3" cy="165.9" r="2.24"/><circle cx="310.6" cy="289.4" r="2.24"/><circle cx="356.7" cy="326.9" r="2.24"/><circle cx="468.3" cy="210.5" r="2.24"/><circle cx="511.1" cy="194.9" r="2.24"/><circle cx="333.6" cy="269.4" r="2.24"/><circle cx="411.9" cy="164.6" r="2.24"/><circle cx="325.6" cy="399.1" r="2.24"/><circle cx="239.1" cy="252.2" r="2.24"/><circle cx="420.2" cy="296.1" r="2.24"/><circle cx="154.4" cy="214.1" r="2.24"/><circle cx="400.5" cy="231.9" r="2.24"/><circle cx="319.4" cy="198.6" r="2.24"/><circle cx="487.1" cy="186.5" r="2.24"/><circle cx="378.5" cy="315.4" r="2.24"/><circle cx="493.6" cy="169.1" r="2.24"/><circle cx="308.9" cy="253.3" r="2.24"/><circle cx="409.1" cy="450.0" r="2.24"/><circle cx="407.9" cy="346.1" r="2.24"/><circle cx="382.7" cy="391.9" r="2.24"/><circle cx="468.3" cy="315.1" r="2.24"/><circle cx="335.4" cy="285.7" r="2.24"/><circle cx="392.9" cy="307.8" r="2.24"/><circle cx="468.7" cy="160.2" r="2.24"/><circle cx="343.4" cy="303.8" r="2.24"/><circle cx="264.8" cy="294.7" r="2.24"/><circle cx="338.2" cy="289.2" r="2.24"/><circle cx="403.9" cy="198.5" r="2.24"/><circle cx="387.4" cy="227.8" r="2.24"/><circle cx="382.4" cy="217.0" r="2.24"/><circle cx="317.0" cy="383.5" r="2.24"/><circle cx="450.6" cy="353.4" r="2.24"/><circle cx="333.8" cy="376.4" r="2.24"/><circle cx="416.2" cy="291.2" r="2.24"/><circle cx="294.2" cy="287.4" r="2.24"/><circle cx="373.6" cy="318.7" r="2.24"/><circle cx="418.0" cy="321.1" r="2.24"/><circle cx="276.7" cy="311.4" r="2.24"/><circle cx="195.8" cy="218.6" r="2.24"/><circle cx="173.0" cy="238.8" r="2.24"/><circle cx="250.0" cy="309.6" r="2.24"/><circle cx="302.4" cy="301.5" r="2.24"/><circle cx="403.8" cy="362.0" r="2.24"/><circle cx="480.0" cy="203.5" r="2.24"/><circle cx="205.0" cy="247.4" r="2.24"/><circle cx="415.3" cy="315.2" r="2.24"/><circle cx="529.0" cy="205.3" r="2.24"/><circle cx="287.0" cy="354.7" r="2.24"/><circle cx="358.9" cy="337.9" r="2.24"/><circle cx="214.1" cy="291.4" r="2.24"/><circle cx="353.8" cy="160.8" r="2.24"/><circle cx="469.2" cy="242.5" r="2.24"/><circle cx="287.8" cy="361.2" r="2.24"/><circle cx="204.7" cy="251.6" r="2.24"/><circle cx="354.0" cy="286.1" r="2.24"/><circle cx="516.1" cy="228.2" r="2.24"/><circle cx="360.7" cy="310.1" r="2.24"/><circle cx="481.8" cy="267.4" r="2.24"/><circle cx="409.7" cy="441.1" r="2.24"/><circle cx="213.5" cy="197.0" r="2.24"/><circle cx="419.1" cy="208.5" r="2.24"/><circle cx="172.4" cy="244.3" r="2.24"/><circle cx="239.1" cy="295.9" r="2.24"/><circle cx="431.5" cy="226.4" r="2.24"/><circle cx="210.7" cy="169.9" r="2.24"/><circle cx="430.8" cy="377.1" r="2.24"/><circle cx="430.4" cy="182.5" r="2.24"/><circle cx="393.6" cy="435.8" r="2.24"/><circle cx="451.5" cy="251.3" r="2.24"/><circle cx="400.4" cy="239.2" r="2.24"/><circle cx="323.3" cy="304.8" r="2.24"/><circle cx="495.5" cy="236.2" r="2.24"/><circle cx="508.6" cy="218.9" r="2.24"/><circle cx="425.4" cy="199.4" r="2.24"/><circle cx="413.0" cy="416.5" r="2.24"/><circle cx="383.4" cy="292.5" r="2.24"/><circle cx="252.9" cy="189.8" r="2.24"/><circle cx="221.8" cy="177.5" r="2.24"/><circle cx="443.6" cy="147.5" r="2.24"/><circle cx="228.2" cy="198.7" r="2.24"/><circle cx="280.9" cy="300.3" r="2.24"/><circle cx="243.0" cy="299.9" r="2.24"/><circle cx="412.5" cy="210.9" r="2.24"/><circle cx="446.4" cy="302.5" r="2.24"/><circle cx="525.8" cy="153.3" r="2.24"/><circle cx="452.7" cy="303.7" r="2.24"/><circle cx="350.8" cy="273.3" r="2.24"/><circle cx="485.1" cy="290.2" r="2.24"/><circle cx="352.7" cy="288.2" r="2.24"/><circle cx="408.8" cy="205.3" r="2.24"/><circle cx="308.6" cy="221.9" r="2.24"/><circle cx="400.7" cy="270.8" r="2.24"/><circle cx="355.4" cy="267.6" r="2.24"/><circle cx="444.2" cy="202.2" r="2.24"/><circle cx="388.5" cy="286.8" r="2.24"/><circle cx="468.9" cy="188.8" r="2.24"/><circle cx="331.9" cy="197.2" r="2.24"/><circle cx="210.3" cy="236.3" r="2.24"/><circle cx="381.4" cy="357.6" r="2.24"/><circle cx="328.0" cy="384.5" r="2.24"/><circle cx="361.5" cy="245.4" r="2.24"/><circle cx="318.3" cy="337.8" r="2.24"/><circle cx="300.6" cy="299.2" r="2.24"/><circle cx="288.0" cy="204.4" r="2.24"/><circle cx="315.3" cy="178.5" r="2.24"/><circle cx="396.2" cy="191.7" r="2.24"/><circle cx="391.2" cy="235.3" r="2.24"/><circle cx="415.2" cy="293.2" r="2.24"/><circle cx="427.9" cy="313.3" r="2.24"/><circle cx="437.4" cy="326.8" r="2.24"/><circle cx="442.1" cy="283.9" r="2.24"/><circle cx="480.4" cy="301.5" r="2.24"/><circle cx="380.0" cy="396.3" r="2.24"/><circle cx="308.0" cy="334.5" r="2.24"/><circle cx="289.1" cy="289.2" r="2.24"/><circle cx="419.7" cy="359.3" r="2.24"/><circle cx="239.6" cy="241.3" r="2.24"/><circle cx="278.0" cy="260.2" r="2.24"/><circle cx="344.4" cy="205.9" r="2.24"/><circle cx="457.9" cy="349.8" r="2.24"/><circle cx="357.3" cy="402.5" r="2.24"/><circle cx="141.9" cy="205.1" r="2.24"/><circle cx="377.0" cy="217.2" r="2.24"/><circle cx="337.0" cy="247.8" r="2.24"/><circle cx="483.0" cy="146.3" r="2.24"/><circle cx="458.3" cy="225.0" r="2.24"/><circle cx="274.4" cy="292.5" r="2.24"/><circle cx="250.3" cy="321.4" r="2.24"/><circle cx="462.9" cy="288.3" r="2.24"/><circle cx="520.6" cy="189.7" r="2.24"/><circle cx="459.4" cy="201.0" r="2.24"/><circle cx="401.4" cy="429.2" r="2.24"/><circle cx="217.1" cy="303.9" r="2.24"/><circle cx="257.0" cy="239.8" r="2.24"/><circle cx="215.8" cy="196.5" r="2.24"/><circle cx="397.7" cy="183.6" r="2.24"/><circle cx="327.0" cy="297.3" r="2.24"/><circle cx="329.8" cy="387.7" r="2.24"/><circle cx="289.9" cy="355.3" r="2.24"/><circle cx="303.8" cy="179.0" r="2.24"/><circle cx="422.2" cy="289.2" r="2.24"/><circle cx="348.1" cy="337.4" r="2.24"/><circle cx="361.9" cy="283.8" r="2.24"/><circle cx="361.2" cy="363.0" r="2.24"/><circle cx="367.1" cy="292.9" r="2.24"/><circle cx="191.3" cy="221.4" r="2.24"/><circle cx="230.6" cy="276.8" r="2.24"/><circle cx="424.7" cy="250.0" r="2.24"/><circle cx="405.1" cy="392.4" r="2.24"/><circle cx="390.6" cy="424.5" r="2.24"/><circle cx="278.8" cy="215.0" r="2.24"/><circle cx="487.0" cy="240.7" r="2.24"/><circle cx="343.8" cy="381.0" r="2.24"/><circle cx="330.7" cy="162.4" r="2.24"/><circle cx="227.3" cy="234.9" r="2.24"/><circle cx="416.4" cy="178.9" r="2.24"/><circle cx="216.1" cy="252.9" r="2.24"/><circle cx="193.0" cy="220.3" r="2.24"/><circle cx="364.9" cy="417.8" r="2.24"/><circle cx="347.3" cy="292.1" r="2.24"/><circle cx="334.6" cy="308.8" r="2.24"/><circle cx="362.7" cy="374.6" r="2.24"/><circle cx="296.6" cy="226.3" r="2.24"/><circle cx="203.2" cy="233.7" r="2.24"/><circle cx="482.2" cy="277.6" r="2.24"/><circle cx="405.3" cy="323.4" r="2.24"/><circle cx="308.3" cy="312.6" r="2.24"/><circle cx="372.4" cy="332.5" r="2.24"/><circle cx="229.4" cy="319.4" r="2.24"/><circle cx="319.4" cy="311.7" r="2.24"/><circle cx="328.8" cy="200.7" r="2.24"/><circle cx="218.2" cy="187.9" r="2.24"/><circle cx="270.9" cy="334.7" r="2.24"/><circle cx="356.1" cy="311.7" r="2.24"/><circle cx="441.4" cy="289.7" r="2.24"/><circle cx="312.9" cy="171.6" r="2.24"/><circle cx="251.1" cy="270.3" r="2.24"/><circle cx="349.5" cy="276.4" r="2.24"/><circle cx="157.5" cy="226.0" r="2.24"/><circle cx="282.3" cy="330.3" r="2.24"/><circle cx="303.4" cy="355.8" r="2.24"/><circle cx="294.9" cy="297.0" r="2.24"/><circle cx="399.7" cy="428.5" r="2.24"/><circle cx="245.8" cy="288.4" r="2.24"/><circle cx="315.9" cy="276.4" r="2.24"/><circle cx="403.6" cy="181.1" r="2.24"/><circle cx="276.8" cy="364.7" r="2.24"/><circle cx="249.5" cy="342.4" r="2.24"/><circle cx="319.8" cy="252.3" r="2.24"/><circle cx="411.1" cy="212.2" r="2.24"/><circle cx="314.3" cy="199.9" r="2.24"/><circle cx="240.2" cy="222.0" r="2.24"/><circle cx="324.1" cy="321.9" r="2.24"/><circle cx="407.9" cy="243.7" r="2.24"/><circle cx="349.3" cy="161.7" r="2.24"/><circle cx="305.3" cy="263.1" r="2.24"/><circle cx="336.3" cy="310.0" r="2.24"/><circle cx="360.3" cy="212.0" r="2.24"/><circle cx="320.6" cy="402.3" r="2.24"/><circle cx="405.2" cy="152.1" r="2.24"/><circle cx="389.1" cy="217.8" r="2.24"/><circle cx="376.9" cy="292.7" r="2.24"/><circle cx="414.1" cy="399.8" r="2.24"/><circle cx="325.1" cy="301.4" r="2.24"/><circle cx="155.3" cy="193.7" r="2.24"/><circle cx="267.6" cy="342.6" r="2.24"/><circle cx="375.1" cy="169.4" r="2.24"/><circle cx="220.5" cy="196.2" r="2.24"/><circle cx="496.4" cy="209.3" r="2.24"/><circle cx="317.2" cy="288.0" r="2.24"/><circle cx="458.6" cy="251.7" r="2.24"/><circle cx="336.1" cy="356.6" r="2.24"/><circle cx="241.2" cy="275.9" r="2.24"/><circle cx="190.8" cy="257.4" r="2.24"/><circle cx="376.7" cy="315.2" r="2.24"/><circle cx="257.7" cy="322.8" r="2.24"/><circle cx="142.7" cy="201.0" r="2.24"/><circle cx="372.3" cy="206.9" r="2.24"/><circle cx="451.9" cy="299.1" r="2.24"/><circle cx="378.1" cy="407.5" r="2.24"/><circle cx="332.5" cy="314.5" r="2.24"/><circle cx="255.7" cy="183.4" r="2.24"/><circle cx="216.9" cy="208.5" r="2.24"/><circle cx="406.1" cy="267.4" r="2.24"/><circle cx="330.3" cy="307.4" r="2.24"/><circle cx="397.8" cy="437.2" r="2.24"/><circle cx="364.0" cy="252.4" r="2.24"/><circle cx="383.4" cy="311.6" r="2.24"/><circle cx="467.4" cy="275.7" r="2.24"/><circle cx="299.0" cy="366.3" r="2.24"/><circle cx="325.1" cy="335.0" r="2.24"/><circle cx="405.6" cy="211.8" r="2.24"/><circle cx="297.0" cy="326.3" r="2.24"/><circle cx="358.4" cy="354.7" r="2.24"/><circle cx="336.2" cy="343.4" r="2.24"/><circle cx="219.1" cy="280.2" r="2.24"/><circle cx="362.8" cy="235.9" r="2.24"/><circle cx="404.5" cy="451.7" r="2.24"/><circle cx="319.2" cy="372.0" r="2.24"/><circle cx="456.2" cy="350.5" r="2.24"/><circle cx="241.9" cy="333.2" r="2.24"/><circle cx="347.1" cy="293.4" r="2.24"/><circle cx="338.8" cy="311.7" r="2.24"/><circle cx="259.7" cy="272.8" r="2.24"/><circle cx="418.0" cy="305.1" r="2.24"/><circle cx="371.9" cy="277.9" r="2.24"/><circle cx="459.0" cy="249.7" r="2.24"/><circle cx="259.2" cy="263.2" r="2.24"/><circle cx="401.4" cy="306.2" r="2.24"/><circle cx="250.5" cy="332.3" r="2.24"/><circle cx="405.7" cy="243.9" r="2.24"/><circle cx="360.1" cy="418.9" r="2.24"/><circle cx="375.7" cy="236.7" r="2.24"/><circle cx="295.5" cy="334.0" r="2.24"/><circle cx="394.3" cy="154.5" r="2.24"/><circle cx="334.1" cy="383.1" r="2.24"/><circle cx="337.1" cy="264.9" r="2.24"/><circle cx="404.8" cy="317.8" r="2.24"/><circle cx="207.6" cy="243.8" r="2.24"/><circle cx="182.8" cy="235.0" r="2.24"/><circle cx="340.4" cy="272.5" r="2.24"/><circle cx="353.7" cy="175.8" r="2.24"/><circle cx="472.9" cy="207.8" r="2.24"/><circle cx="386.4" cy="446.2" r="2.24"/><circle cx="228.2" cy="307.9" r="2.24"/><circle cx="433.5" cy="228.8" r="2.24"/><circle cx="307.7" cy="237.7" r="2.24"/><circle cx="519.6" cy="186.7" r="2.24"/><circle cx="437.9" cy="271.5" r="2.24"/><circle cx="271.6" cy="276.3" r="2.24"/><circle cx="262.2" cy="228.1" r="2.24"/><circle cx="418.4" cy="423.8" r="2.24"/><circle cx="433.1" cy="247.4" r="2.24"/><circle cx="371.6" cy="280.6" r="2.24"/><circle cx="324.3" cy="195.8" r="2.24"/><circle cx="470.3" cy="324.7" r="2.24"/><circle cx="442.7" cy="340.3" r="2.24"/><circle cx="166.2" cy="238.5" r="2.24"/><circle cx="525.4" cy="151.0" r="2.24"/><circle cx="498.8" cy="233.5" r="2.24"/><circle cx="248.8" cy="319.8" r="2.24"/><circle cx="429.2" cy="257.9" r="2.24"/><circle cx="307.0" cy="269.0" r="2.24"/><circle cx="435.0" cy="356.0" r="2.24"/><circle cx="374.5" cy="208.3" r="2.24"/><circle cx="400.1" cy="212.1" r="2.24"/><circle cx="295.5" cy="365.3" r="2.24"/><circle cx="512.2" cy="168.0" r="2.24"/><circle cx="290.0" cy="179.8" r="2.24"/><circle cx="477.2" cy="285.5" r="2.24"/><circle cx="309.4" cy="316.4" r="2.24"/><circle cx="313.0" cy="262.6" r="2.24"/><circle cx="355.8" cy="252.7" r="2.24"/><circle cx="391.1" cy="316.2" r="2.24"/><circle cx="300.0" cy="255.6" r="2.24"/><circle cx="406.8" cy="241.8" r="2.24"/><circle cx="390.1" cy="392.5" r="2.24"/><circle cx="234.6" cy="317.8" r="2.24"/><circle cx="404.4" cy="343.3" r="2.24"/><circle cx="290.8" cy="278.2" r="2.24"/><circle cx="414.1" cy="373.6" r="2.24"/><circle cx="269.3" cy="346.2" r="2.24"/><circle cx="292.3" cy="312.6" r="2.24"/><circle cx="533.2" cy="187.1" r="2.24"/><circle cx="462.5" cy="153.8" r="2.24"/><circle cx="214.1" cy="187.3" r="2.24"/><circle cx="520.4" cy="166.8" r="2.24"/><circle cx="465.4" cy="310.5" r="2.24"/><circle cx="315.7" cy="342.9" r="2.24"/><circle cx="330.7" cy="309.0" r="2.24"/><circle cx="478.2" cy="193.9" r="2.24"/><circle cx="400.5" cy="178.6" r="2.24"/><circle cx="414.8" cy="429.8" r="2.24"/><circle cx="373.0" cy="395.6" r="2.24"/><circle cx="411.9" cy="269.8" r="2.24"/><circle cx="410.1" cy="238.4" r="2.24"/><circle cx="416.7" cy="271.0" r="2.24"/><circle cx="343.1" cy="382.3" r="2.24"/><circle cx="394.5" cy="195.4" r="2.24"/><circle cx="422.5" cy="230.3" r="2.24"/><circle cx="326.0" cy="291.8" r="2.24"/><circle cx="478.9" cy="191.9" r="2.24"/><circle cx="234.4" cy="234.7" r="2.24"/><circle cx="499.3" cy="222.3" r="2.24"/><circle cx="485.7" cy="187.8" r="2.24"/><circle cx="244.8" cy="319.6" r="2.24"/><circle cx="530.8" cy="148.2" r="2.24"/><circle cx="270.0" cy="232.7" r="2.24"/><circle cx="509.5" cy="221.0" r="2.24"/><circle cx="438.2" cy="233.3" r="2.24"/><circle cx="361.7" cy="426.0" r="2.24"/><circle cx="282.8" cy="353.0" r="2.24"/><circle cx="386.9" cy="222.6" r="2.24"/><circle cx="172.8" cy="223.2" r="2.24"/><circle cx="200.6" cy="254.1" r="2.24"/><circle cx="447.6" cy="315.7" r="2.24"/><circle cx="343.9" cy="237.6" r="2.24"/><circle cx="374.2" cy="244.4" r="2.24"/><circle cx="202.3" cy="267.0" r="2.24"/><circle cx="317.9" cy="242.0" r="2.24"/><circle cx="449.2" cy="173.3" r="2.24"/><circle cx="226.6" cy="255.7" r="2.24"/><circle cx="448.6" cy="373.3" r="2.24"/><circle cx="408.8" cy="211.7" r="2.24"/><circle cx="360.4" cy="337.2" r="2.24"/><circle cx="317.0" cy="307.1" r="2.24"/><circle cx="260.7" cy="247.6" r="2.24"/><circle cx="424.8" cy="370.3" r="2.24"/><circle cx="381.7" cy="297.2" r="2.24"/><circle cx="459.2" cy="161.2" r="2.24"/><circle cx="340.0" cy="267.9" r="2.24"/><circle cx="331.4" cy="405.3" r="2.24"/><circle cx="257.7" cy="322.5" r="2.24"/><circle cx="475.4" cy="290.3" r="2.24"/><circle cx="357.7" cy="313.8" r="2.24"/><circle cx="243.6" cy="214.6" r="2.24"/><circle cx="508.8" cy="248.1" r="2.24"/><circle cx="361.1" cy="217.5" r="2.24"/><circle cx="425.1" cy="280.5" r="2.24"/><circle cx="261.6" cy="282.6" r="2.24"/><circle cx="434.0" cy="192.1" r="2.24"/><circle cx="244.2" cy="277.9" r="2.24"/><circle cx="332.2" cy="407.7" r="2.24"/><circle cx="368.6" cy="399.1" r="2.24"/><circle cx="373.4" cy="354.2" r="2.24"/><circle cx="215.4" cy="198.3" r="2.24"/><circle cx="432.9" cy="179.0" r="2.24"/><circle cx="240.7" cy="168.9" r="2.24"/><circle cx="369.0" cy="154.7" r="2.24"/><circle cx="297.9" cy="199.9" r="2.24"/><circle cx="396.7" cy="448.3" r="2.24"/><circle cx="265.0" cy="289.7" r="2.24"/><circle cx="364.1" cy="206.1" r="2.24"/><circle cx="426.4" cy="429.6" r="2.24"/><circle cx="399.2" cy="295.1" r="2.24"/><circle cx="351.5" cy="225.5" r="2.24"/><circle cx="342.2" cy="246.2" r="2.24"/><circle cx="482.8" cy="288.9" r="2.24"/><circle cx="257.4" cy="210.4" r="2.24"/><circle cx="217.1" cy="255.2" r="2.24"/><circle cx="369.7" cy="368.2" r="2.24"/><circle cx="358.1" cy="394.0" r="2.24"/><circle cx="442.8" cy="263.6" r="2.24"/><circle cx="243.4" cy="216.8" r="2.24"/><circle cx="327.6" cy="226.0" r="2.24"/><circle cx="308.9" cy="325.9" r="2.24"/><circle cx="321.2" cy="234.9" r="2.24"/><circle cx="251.5" cy="335.8" r="2.24"/><circle cx="350.9" cy="336.9" r="2.24"/><circle cx="247.9" cy="337.4" r="2.24"/><circle cx="297.0" cy="295.3" r="2.24"/><circle cx="308.4" cy="178.6" r="2.24"/><circle cx="457.4" cy="218.4" r="2.24"/><circle cx="383.3" cy="196.3" r="2.24"/><circle cx="239.3" cy="186.4" r="2.24"/><circle cx="215.6" cy="242.1" r="2.24"/><circle cx="447.3" cy="303.0" r="2.24"/><circle cx="486.7" cy="298.3" r="2.24"/><circle cx="388.6" cy="201.2" r="2.24"/><circle cx="515.3" cy="199.9" r="2.24"/><circle cx="521.7" cy="149.9" r="2.24"/><circle cx="215.5" cy="304.9" r="2.24"/><circle cx="549.4" cy="167.5" r="2.24"/><circle cx="496.1" cy="258.2" r="2.24"/><circle cx="350.9" cy="168.7" r="2.24"/><circle cx="473.8" cy="203.8" r="2.24"/><circle cx="262.5" cy="338.5" r="2.24"/><circle cx="275.0" cy="354.5" r="2.24"/><circle cx="244.1" cy="296.3" r="2.24"/><circle cx="464.9" cy="180.7" r="2.24"/><circle cx="277.1" cy="334.4" r="2.24"/><circle cx="361.8" cy="240.9" r="2.24"/><circle cx="361.7" cy="250.8" r="2.24"/><circle cx="511.9" cy="229.2" r="2.24"/><circle cx="342.9" cy="287.7" r="2.24"/><circle cx="254.9" cy="251.2" r="2.24"/><circle cx="495.1" cy="218.0" r="2.24"/><circle cx="469.0" cy="235.4" r="2.24"/><circle cx="400.1" cy="249.4" r="2.24"/><circle cx="506.7" cy="187.2" r="2.24"/><circle cx="413.1" cy="191.6" r="2.24"/><circle cx="543.4" cy="175.4" r="2.24"/><circle cx="409.6" cy="183.6" r="2.24"/><circle cx="410.9" cy="370.4" r="2.24"/><circle cx="173.0" cy="239.9" r="2.24"/><circle cx="424.8" cy="391.8" r="2.24"/><circle cx="418.7" cy="380.9" r="2.24"/><circle cx="413.1" cy="173.3" r="2.24"/><circle cx="365.3" cy="222.2" r="2.24"/><circle cx="291.5" cy="234.8" r="2.24"/><circle cx="339.2" cy="363.9" r="2.24"/><circle cx="291.0" cy="312.4" r="2.24"/><circle cx="369.6" cy="359.6" r="2.24"/><circle cx="424.2" cy="366.1" r="2.24"/><circle cx="325.3" cy="262.4" r="2.24"/><circle cx="362.0" cy="202.1" r="2.24"/><circle cx="279.9" cy="165.0" r="2.24"/><circle cx="502.2" cy="180.7" r="2.24"/><circle cx="414.1" cy="356.7" r="2.24"/><circle cx="415.2" cy="304.2" r="2.24"/><circle cx="363.3" cy="169.5" r="2.24"/><circle cx="293.8" cy="363.4" r="2.24"/><circle cx="227.6" cy="200.5" r="2.24"/><circle cx="323.2" cy="236.1" r="2.24"/><circle cx="301.1" cy="366.1" r="2.24"/><circle cx="436.7" cy="227.9" r="2.24"/><circle cx="492.3" cy="162.9" r="2.24"/><circle cx="329.8" cy="326.6" r="2.24"/><circle cx="486.3" cy="191.0" r="2.24"/><circle cx="302.9" cy="337.7" r="2.24"/><circle cx="279.0" cy="219.4" r="2.24"/><circle cx="312.4" cy="218.9" r="2.24"/><circle cx="311.0" cy="184.2" r="2.24"/><circle cx="303.0" cy="274.4" r="2.24"/><circle cx="346.2" cy="323.0" r="2.24"/><circle cx="354.8" cy="334.6" r="2.24"/><circle cx="390.8" cy="308.6" r="2.24"/><circle cx="295.2" cy="321.9" r="2.24"/><circle cx="331.2" cy="360.9" r="2.24"/><circle cx="360.0" cy="384.8" r="2.24"/><circle cx="471.8" cy="182.3" r="2.24"/><circle cx="444.0" cy="377.4" r="2.24"/><circle cx="280.2" cy="283.7" r="2.24"/><circle cx="209.1" cy="262.7" r="2.24"/><circle cx="301.2" cy="289.0" r="2.24"/><circle cx="216.2" cy="210.0" r="2.24"/><circle cx="493.3" cy="173.2" r="2.24"/><circle cx="283.9" cy="291.4" r="2.24"/><circle cx="348.4" cy="398.0" r="2.24"/><circle cx="289.4" cy="178.9" r="2.24"/><circle cx="362.9" cy="289.9" r="2.24"/><circle cx="215.4" cy="261.6" r="2.24"/><circle cx="447.1" cy="292.2" r="2.24"/><circle cx="433.3" cy="152.9" r="2.24"/><circle cx="233.3" cy="313.9" r="2.24"/><circle cx="429.4" cy="291.3" r="2.24"/><circle cx="365.5" cy="288.3" r="2.24"/><circle cx="214.6" cy="286.5" r="2.24"/><circle cx="330.4" cy="217.8" r="2.24"/><circle cx="353.2" cy="321.8" r="2.24"/><circle cx="519.5" cy="219.6" r="2.24"/><circle cx="432.2" cy="168.6" r="2.24"/><circle cx="206.6" cy="241.2" r="2.24"/><circle cx="253.3" cy="313.4" r="2.24"/><circle cx="239.8" cy="181.7" r="2.24"/><circle cx="469.9" cy="260.8" r="2.24"/><circle cx="479.4" cy="277.4" r="2.24"/><circle cx="421.0" cy="432.7" r="2.24"/><circle cx="526.8" cy="212.3" r="2.24"/><circle cx="268.1" cy="184.4" r="2.24"/><circle cx="310.8" cy="314.9" r="2.24"/><circle cx="434.9" cy="324.8" r="2.24"/><circle cx="248.3" cy="268.6" r="2.24"/><circle cx="445.6" cy="283.7" r="2.24"/><circle cx="302.9" cy="305.3" r="2.24"/><circle cx="344.3" cy="410.9" r="2.24"/><circle cx="331.7" cy="354.9" r="2.24"/><circle cx="394.1" cy="349.5" r="2.24"/><circle cx="454.7" cy="365.6" r="2.24"/><circle cx="292.8" cy="293.4" r="2.24"/><circle cx="426.1" cy="269.6" r="2.24"/><circle cx="322.7" cy="268.7" r="2.24"/><circle cx="319.2" cy="250.6" r="2.24"/><circle cx="361.5" cy="289.6" r="2.24"/><circle cx="262.8" cy="249.0" r="2.24"/><circle cx="258.8" cy="328.2" r="2.24"/><circle cx="361.7" cy="221.1" r="2.24"/><circle cx="448.4" cy="338.9" r="2.24"/><circle cx="236.2" cy="311.8" r="2.24"/><circle cx="413.7" cy="240.0" r="2.24"/><circle cx="455.3" cy="303.4" r="2.24"/><circle cx="284.1" cy="182.5" r="2.24"/><circle cx="480.3" cy="198.5" r="2.24"/><circle cx="500.8" cy="240.9" r="2.24"/><circle cx="263.6" cy="269.2" r="2.24"/><circle cx="424.3" cy="273.2" r="2.24"/><circle cx="192.0" cy="267.4" r="2.24"/><circle cx="262.5" cy="206.8" r="2.24"/><circle cx="327.8" cy="218.2" r="2.24"/><circle cx="276.5" cy="239.1" r="2.24"/><circle cx="478.4" cy="266.5" r="2.24"/><circle cx="516.4" cy="228.1" r="2.24"/><circle cx="206.6" cy="187.6" r="2.24"/><circle cx="253.0" cy="176.9" r="2.24"/><circle cx="310.2" cy="180.2" r="2.24"/><circle cx="480.8" cy="248.7" r="2.24"/><circle cx="407.4" cy="323.3" r="2.24"/><circle cx="380.7" cy="266.3" r="2.24"/><circle cx="279.7" cy="329.2" r="2.24"/><circle cx="423.7" cy="392.2" r="2.24"/><circle cx="310.0" cy="360.5" r="2.24"/><circle cx="295.4" cy="284.5" r="2.24"/><circle cx="396.3" cy="441.3" r="2.24"/><circle cx="378.1" cy="180.4" r="2.24"/><circle cx="464.1" cy="349.1" r="2.24"/><circle cx="173.7" cy="187.4" r="2.24"/><circle cx="251.2" cy="308.6" r="2.24"/><circle cx="265.7" cy="271.8" r="2.24"/><circle cx="428.1" cy="241.0" r="2.24"/><circle cx="413.2" cy="210.8" r="2.24"/><circle cx="443.1" cy="338.0" r="2.24"/><circle cx="355.3" cy="200.3" r="2.24"/><circle cx="326.7" cy="314.3" r="2.24"/><circle cx="340.0" cy="239.7" r="2.24"/><circle cx="506.4" cy="258.4" r="2.24"/><circle cx="185.7" cy="256.6" r="2.24"/><circle cx="264.3" cy="248.8" r="2.24"/><circle cx="445.3" cy="265.7" r="2.24"/><circle cx="342.8" cy="192.0" r="2.24"/><circle cx="240.5" cy="211.1" r="2.24"/><circle cx="431.3" cy="280.7" r="2.24"/><circle cx="192.3" cy="275.1" r="2.24"/><circle cx="190.5" cy="239.6" r="2.24"/><circle cx="409.4" cy="362.0" r="2.24"/><circle cx="328.8" cy="261.0" r="2.24"/><circle cx="254.2" cy="245.9" r="2.24"/><circle cx="390.0" cy="340.4" r="2.24"/><circle cx="218.3" cy="207.5" r="2.24"/><circle cx="266.7" cy="317.7" r="2.24"/><circle cx="169.8" cy="182.3" r="2.24"/><circle cx="380.5" cy="289.5" r="2.24"/><circle cx="374.9" cy="348.3" r="2.24"/><circle cx="156.4" cy="192.7" r="2.24"/><circle cx="178.5" cy="247.7" r="2.24"/><circle cx="301.7" cy="177.6" r="2.24"/><circle cx="430.5" cy="327.9" r="2.24"/><circle cx="467.9" cy="248.6" r="2.24"/><circle cx="422.4" cy="219.8" r="2.24"/><circle cx="387.7" cy="328.8" r="2.24"/><circle cx="283.8" cy="353.8" r="2.24"/><circle cx="284.1" cy="252.6" r="2.24"/><circle cx="457.3" cy="261.8" r="2.24"/><circle cx="258.2" cy="293.4" r="2.24"/><circle cx="359.8" cy="179.6" r="2.24"/><circle cx="179.5" cy="235.7" r="2.24"/><circle cx="288.5" cy="371.0" r="2.24"/><circle cx="440.3" cy="336.7" r="2.24"/><circle cx="350.8" cy="382.7" r="2.24"/><circle cx="297.7" cy="212.9" r="2.24"/><circle cx="378.6" cy="285.2" r="2.24"/><circle cx="217.0" cy="197.7" r="2.24"/><circle cx="500.4" cy="184.0" r="2.24"/><circle cx="244.1" cy="318.6" r="2.24"/><circle cx="375.5" cy="286.5" r="2.24"/><circle cx="436.4" cy="360.2" r="2.24"/><circle cx="468.6" cy="206.8" r="2.24"/><circle cx="316.4" cy="318.7" r="2.24"/><circle cx="333.2" cy="229.1" r="2.24"/><circle cx="496.8" cy="249.5" r="2.24"/><circle cx="307.0" cy="254.3" r="2.24"/><circle cx="544.9" cy="177.1" r="2.24"/><circle cx="385.9" cy="248.6" r="2.24"/><circle cx="273.2" cy="320.2" r="2.24"/><circle cx="471.2" cy="202.8" r="2.24"/><circle cx="161.9" cy="195.6" r="2.24"/><circle cx="383.2" cy="263.3" r="2.24"/><circle cx="338.0" cy="365.0" r="2.24"/><circle cx="473.7" cy="292.5" r="2.24"/><circle cx="448.9" cy="231.1" r="2.24"/><circle cx="258.0" cy="344.9" r="2.24"/><circle cx="231.7" cy="198.5" r="2.24"/><circle cx="341.9" cy="338.9" r="2.24"/><circle cx="335.6" cy="227.4" r="2.24"/><circle cx="361.9" cy="327.8" r="2.24"/><circle cx="333.6" cy="307.1" r="2.24"/><circle cx="277.6" cy="257.7" r="2.24"/><circle cx="420.4" cy="394.0" r="2.24"/><circle cx="439.4" cy="201.8" r="2.24"/><circle cx="487.5" cy="260.3" r="2.24"/><circle cx="345.1" cy="340.1" r="2.24"/><circle cx="317.8" cy="300.3" r="2.24"/><circle cx="203.7" cy="281.1" r="2.24"/><circle cx="398.7" cy="336.6" r="2.24"/><circle cx="416.1" cy="299.5" r="2.24"/><circle cx="311.0" cy="310.6" r="2.24"/><circle cx="371.7" cy="277.9" r="2.24"/><circle cx="187.0" cy="234.5" r="2.24"/><circle cx="393.0" cy="296.8" r="2.24"/><circle cx="184.8" cy="175.8" r="2.24"/><circle cx="470.8" cy="234.2" r="2.24"/><circle cx="284.1" cy="198.5" r="2.24"/><circle cx="427.6" cy="323.0" r="2.24"/><circle cx="407.5" cy="428.5" r="2.24"/><circle cx="410.7" cy="220.5" r="2.24"/><circle cx="471.2" cy="281.0" r="2.24"/><circle cx="247.4" cy="181.8" r="2.24"/><circle cx="284.0" cy="242.8" r="2.24"/><circle cx="291.1" cy="267.6" r="2.24"/><circle cx="308.5" cy="177.9" r="2.24"/><circle cx="269.5" cy="235.9" r="2.24"/><circle cx="323.9" cy="201.3" r="2.24"/><circle cx="350.5" cy="400.7" r="2.24"/><circle cx="399.4" cy="159.8" r="2.24"/><circle cx="227.3" cy="295.7" r="2.24"/><circle cx="368.5" cy="412.6" r="2.24"/><circle cx="307.8" cy="355.0" r="2.24"/><circle cx="451.2" cy="218.5" r="2.24"/><circle cx="466.3" cy="149.2" r="2.24"/><circle cx="400.9" cy="305.1" r="2.24"/><circle cx="522.5" cy="160.1" r="2.24"/><circle cx="363.7" cy="359.2" r="2.24"/><circle cx="289.8" cy="327.6" r="2.24"/><circle cx="226.8" cy="289.1" r="2.24"/><circle cx="503.0" cy="252.6" r="2.24"/><circle cx="355.3" cy="212.8" r="2.24"/><circle cx="301.0" cy="294.3" r="2.24"/><circle cx="524.9" cy="154.5" r="2.24"/><circle cx="324.9" cy="312.0" r="2.24"/><circle cx="155.6" cy="185.5" r="2.24"/><circle cx="542.5" cy="169.4" r="2.24"/><circle cx="452.7" cy="263.8" r="2.24"/><circle cx="378.7" cy="315.8" r="2.24"/><circle cx="392.2" cy="260.1" r="2.24"/><circle cx="397.1" cy="373.7" r="2.24"/><circle cx="421.9" cy="220.6" r="2.24"/><circle cx="416.1" cy="223.5" r="2.24"/><circle cx="341.9" cy="382.0" r="2.24"/><circle cx="311.3" cy="257.7" r="2.24"/><circle cx="331.2" cy="208.1" r="2.24"/><circle cx="250.7" cy="219.5" r="2.24"/><circle cx="372.7" cy="268.8" r="2.24"/><circle cx="190.4" cy="206.4" r="2.24"/><circle cx="285.2" cy="210.4" r="2.24"/><circle cx="336.1" cy="179.7" r="2.24"/><circle cx="443.7" cy="173.0" r="2.24"/><circle cx="190.0" cy="221.4" r="2.24"/><circle cx="441.1" cy="389.8" r="2.24"/><circle cx="347.5" cy="298.2" r="2.24"/><circle cx="371.0" cy="420.3" r="2.24"/><circle cx="255.5" cy="281.7" r="2.24"/><circle cx="359.5" cy="250.0" r="2.24"/><circle cx="439.1" cy="324.1" r="2.24"/><circle cx="490.9" cy="185.8" r="2.24"/><circle cx="422.1" cy="293.2" r="2.24"/><circle cx="264.6" cy="307.9" r="2.24"/><circle cx="382.3" cy="314.5" r="2.24"/><circle cx="170.0" cy="224.6" r="2.24"/><circle cx="457.7" cy="315.2" r="2.24"/><circle cx="293.0" cy="200.7" r="2.24"/><circle cx="435.5" cy="187.7" r="2.24"/><circle cx="327.7" cy="202.2" r="2.24"/><circle cx="477.6" cy="318.0" r="2.24"/><circle cx="311.8" cy="233.2" r="2.24"/><circle cx="248.0" cy="221.5" r="2.24"/><circle cx="521.8" cy="173.5" r="2.24"/><circle cx="288.9" cy="174.3" r="2.24"/><circle cx="201.8" cy="214.9" r="2.24"/><circle cx="479.4" cy="271.8" r="2.24"/><circle cx="259.2" cy="256.7" r="2.24"/><circle cx="323.5" cy="211.4" r="2.24"/><circle cx="385.6" cy="266.0" r="2.24"/><circle cx="400.6" cy="211.6" r="2.24"/><circle cx="301.4" cy="221.9" r="2.24"/><circle cx="361.7" cy="242.8" r="2.24"/><circle cx="425.2" cy="265.7" r="2.24"/><circle cx="341.1" cy="247.9" r="2.24"/><circle cx="334.0" cy="156.6" r="2.24"/><circle cx="252.1" cy="209.7" r="2.24"/><circle cx="415.2" cy="436.0" r="2.24"/><circle cx="372.9" cy="306.0" r="2.24"/><circle cx="309.3" cy="295.6" r="2.24"/><circle cx="359.2" cy="209.2" r="2.24"/><circle cx="162.6" cy="179.5" r="2.24"/><circle cx="480.8" cy="182.2" r="2.24"/><circle cx="526.6" cy="196.1" r="2.24"/><circle cx="337.2" cy="242.4" r="2.24"/><circle cx="239.3" cy="273.7" r="2.24"/><circle cx="520.0" cy="186.1" r="2.24"/><circle cx="350.2" cy="318.6" r="2.24"/><circle cx="322.8" cy="226.2" r="2.24"/><circle cx="258.4" cy="304.5" r="2.24"/><circle cx="379.3" cy="267.9" r="2.24"/><circle cx="372.9" cy="190.7" r="2.24"/><circle cx="422.4" cy="265.7" r="2.24"/><circle cx="194.5" cy="247.2" r="2.24"/><circle cx="222.0" cy="194.3" r="2.24"/><circle cx="441.1" cy="246.8" r="2.24"/><circle cx="385.7" cy="174.0" r="2.24"/><circle cx="438.6" cy="281.3" r="2.24"/><circle cx="398.7" cy="167.3" r="2.24"/><circle cx="446.8" cy="246.8" r="2.24"/><circle cx="384.3" cy="240.4" r="2.24"/><circle cx="382.5" cy="252.5" r="2.24"/><circle cx="292.5" cy="252.9" r="2.24"/><circle cx="331.3" cy="315.4" r="2.24"/><circle cx="388.0" cy="249.9" r="2.24"/><circle cx="410.8" cy="330.7" r="2.24"/><circle cx="319.2" cy="303.3" r="2.24"/><circle cx="371.5" cy="198.8" r="2.24"/><circle cx="352.1" cy="204.5" r="2.24"/><circle cx="145.0" cy="197.8" r="2.24"/><circle cx="212.7" cy="245.0" r="2.24"/><circle cx="481.0" cy="286.6" r="2.24"/><circle cx="257.2" cy="229.0" r="2.24"/><circle cx="314.5" cy="270.5" r="2.24"/><circle cx="350.6" cy="340.4" r="2.24"/><circle cx="465.0" cy="286.1" r="2.24"/><circle cx="301.1" cy="351.8" r="2.24"/><circle cx="446.2" cy="347.5" r="2.24"/><circle cx="400.9" cy="172.0" r="2.24"/><circle cx="443.4" cy="254.0" r="2.24"/><circle cx="408.8" cy="349.1" r="2.24"/><circle cx="414.5" cy="169.2" r="2.24"/><circle cx="356.5" cy="371.7" r="2.24"/><circle cx="297.4" cy="164.4" r="2.24"/><circle cx="365.2" cy="248.7" r="2.24"/><circle cx="380.9" cy="383.2" r="2.24"/><circle cx="282.4" cy="283.6" r="2.24"/><circle cx="397.9" cy="224.5" r="2.24"/><circle cx="471.6" cy="165.4" r="2.24"/><circle cx="294.7" cy="381.1" r="2.24"/><circle cx="331.7" cy="252.5" r="2.24"/><circle cx="269.9" cy="358.5" r="2.24"/><circle cx="352.2" cy="216.0" r="2.24"/><circle cx="174.2" cy="176.2" r="2.24"/><circle cx="423.2" cy="150.2" r="2.24"/><circle cx="232.4" cy="205.8" r="2.24"/><circle cx="501.1" cy="243.8" r="2.24"/><circle cx="166.1" cy="212.0" r="2.24"/><circle cx="331.8" cy="210.5" r="2.24"/><circle cx="458.0" cy="177.5" r="2.24"/><circle cx="345.1" cy="251.7" r="2.24"/><circle cx="372.4" cy="279.4" r="2.24"/><circle cx="437.6" cy="268.9" r="2.24"/><circle cx="426.2" cy="171.3" r="2.24"/><circle cx="369.4" cy="308.1" r="2.24"/><circle cx="297.0" cy="352.7" r="2.24"/><circle cx="242.3" cy="198.6" r="2.24"/><circle cx="385.0" cy="227.5" r="2.24"/><circle cx="434.4" cy="191.8" r="2.24"/><circle cx="373.8" cy="326.2" r="2.24"/><circle cx="205.6" cy="243.5" r="2.24"/><circle cx="368.2" cy="254.0" r="2.24"/><circle cx="416.5" cy="358.2" r="2.24"/><circle cx="483.4" cy="294.7" r="2.24"/><circle cx="439.0" cy="402.4" r="2.24"/><circle cx="313.4" cy="264.3" r="2.24"/><circle cx="425.5" cy="238.2" r="2.24"/><circle cx="336.9" cy="345.3" r="2.24"/><circle cx="403.3" cy="458.5" r="2.24"/><circle cx="425.2" cy="302.3" r="2.24"/><circle cx="247.5" cy="172.0" r="2.24"/><circle cx="451.8" cy="245.8" r="2.24"/><circle cx="391.4" cy="168.8" r="2.24"/><circle cx="388.4" cy="195.5" r="2.24"/><circle cx="484.4" cy="214.0" r="2.24"/><circle cx="270.3" cy="346.3" r="2.24"/><circle cx="380.6" cy="435.2" r="2.24"/><circle cx="445.2" cy="370.0" r="2.24"/><circle cx="260.3" cy="347.7" r="2.24"/><circle cx="365.5" cy="200.6" r="2.24"/><circle cx="304.4" cy="310.3" r="2.24"/><circle cx="214.4" cy="222.4" r="2.24"/><circle cx="339.4" cy="217.2" r="2.24"/><circle cx="408.1" cy="155.6" r="2.24"/><circle cx="294.1" cy="222.3" r="2.24"/><circle cx="292.2" cy="284.7" r="2.24"/><circle cx="307.6" cy="292.4" r="2.24"/><circle cx="436.3" cy="404.3" r="2.24"/><circle cx="499.3" cy="200.7" r="2.24"/><circle cx="494.8" cy="156.1" r="2.24"/><circle cx="433.7" cy="158.1" r="2.24"/><circle cx="243.9" cy="315.2" r="2.24"/><circle cx="286.4" cy="358.1" r="2.24"/><circle cx="348.0" cy="365.2" r="2.24"/><circle cx="424.5" cy="373.2" r="2.24"/><circle cx="268.2" cy="251.1" r="2.24"/><circle cx="253.6" cy="173.5" r="2.24"/><circle cx="297.6" cy="169.7" r="2.24"/><circle cx="455.7" cy="211.0" r="2.24"/><circle cx="451.1" cy="263.7" r="2.24"/><circle cx="437.0" cy="170.3" r="2.24"/><circle cx="262.3" cy="194.9" r="2.24"/><circle cx="288.7" cy="229.0" r="2.24"/><circle cx="325.2" cy="238.1" r="2.24"/><circle cx="334.6" cy="292.3" r="2.24"/><circle cx="231.2" cy="295.2" r="2.24"/><circle cx="465.0" cy="342.8" r="2.24"/><circle cx="284.0" cy="231.7" r="2.24"/><circle cx="203.6" cy="231.8" r="2.24"/><circle cx="282.3" cy="309.6" r="2.24"/><circle cx="414.2" cy="400.0" r="2.24"/><circle cx="328.9" cy="401.2" r="2.24"/><circle cx="447.0" cy="191.3" r="2.24"/><circle cx="323.1" cy="184.5" r="2.24"/><circle cx="439.8" cy="335.2" r="2.24"/><circle cx="274.1" cy="347.1" r="2.24"/><circle cx="501.0" cy="145.2" r="2.24"/><circle cx="419.4" cy="209.9" r="2.24"/><circle cx="386.2" cy="414.1" r="2.24"/><circle cx="470.1" cy="252.7" r="2.24"/><circle cx="357.2" cy="190.1" r="2.24"/><circle cx="408.3" cy="314.6" r="2.24"/><circle cx="397.4" cy="290.3" r="2.24"/><circle cx="393.6" cy="259.3" r="2.24"/><circle cx="320.7" cy="405.7" r="2.24"/><circle cx="382.8" cy="401.7" r="2.24"/><circle cx="313.9" cy="185.0" r="2.24"/><circle cx="361.0" cy="295.2" r="2.24"/><circle cx="434.9" cy="248.2" r="2.24"/><circle cx="304.9" cy="274.3" r="2.24"/><circle cx="430.3" cy="318.3" r="2.24"/><circle cx="326.8" cy="292.8" r="2.24"/><circle cx="417.1" cy="363.3" r="2.24"/><circle cx="265.0" cy="351.5" r="2.24"/><circle cx="290.1" cy="162.4" r="2.24"/><circle cx="340.0" cy="315.7" r="2.24"/><circle cx="417.8" cy="261.4" r="2.24"/><circle cx="335.9" cy="250.4" r="2.24"/><circle cx="279.7" cy="168.3" r="2.24"/><circle cx="425.2" cy="397.2" r="2.24"/><circle cx="399.9" cy="155.2" r="2.24"/><circle cx="385.5" cy="156.3" r="2.24"/><circle cx="497.5" cy="201.7" r="2.24"/><circle cx="343.9" cy="408.9" r="2.24"/><circle cx="362.3" cy="225.3" r="2.24"/><circle cx="343.9" cy="302.8" r="2.24"/><circle cx="242.5" cy="209.5" r="2.24"/><circle cx="276.0" cy="237.3" r="2.24"/><circle cx="232.5" cy="260.6" r="2.24"/><circle cx="156.5" cy="199.5" r="2.24"/><circle cx="364.8" cy="333.0" r="2.24"/><circle cx="229.2" cy="321.0" r="2.24"/><circle cx="299.9" cy="309.3" r="2.24"/><circle cx="374.3" cy="191.5" r="2.24"/><circle cx="323.7" cy="321.2" r="2.24"/><circle cx="352.2" cy="374.8" r="2.24"/><circle cx="391.6" cy="262.0" r="2.24"/><circle cx="321.0" cy="216.2" r="2.24"/><circle cx="343.0" cy="318.1" r="2.24"/><circle cx="267.5" cy="164.9" r="2.24"/><circle cx="446.4" cy="282.9" r="2.24"/><circle cx="359.3" cy="170.5" r="2.24"/><circle cx="247.0" cy="278.8" r="2.24"/><circle cx="445.2" cy="375.9" r="2.24"/><circle cx="323.1" cy="208.9" r="2.24"/><circle cx="383.4" cy="173.5" r="2.24"/><circle cx="419.3" cy="221.1" r="2.24"/><circle cx="379.3" cy="390.0" r="2.24"/><circle cx="407.3" cy="344.0" r="2.24"/><circle cx="276.7" cy="268.8" r="2.24"/><circle cx="369.7" cy="420.7" r="2.24"/><circle cx="256.9" cy="184.1" r="2.24"/><circle cx="485.3" cy="272.5" r="2.24"/><circle cx="207.2" cy="240.0" r="2.24"/><circle cx="419.6" cy="161.9" r="2.24"/><circle cx="327.3" cy="175.6" r="2.24"/><circle cx="305.4" cy="232.0" r="2.24"/><circle cx="419.0" cy="268.1" r="2.24"/><circle cx="370.5" cy="432.3" r="2.24"/><circle cx="219.6" cy="208.3" r="2.24"/><circle cx="454.0" cy="179.8" r="2.24"/><circle cx="266.0" cy="181.4" r="2.24"/><circle cx="415.3" cy="384.4" r="2.24"/><circle cx="529.0" cy="211.9" r="2.24"/><circle cx="438.5" cy="344.0" r="2.24"/><circle cx="300.6" cy="292.0" r="2.24"/><circle cx="353.2" cy="338.1" r="2.24"/><circle cx="308.9" cy="334.4" r="2.24"/><circle cx="234.4" cy="267.2" r="2.24"/><circle cx="503.3" cy="186.1" r="2.24"/><circle cx="401.0" cy="332.5" r="2.24"/><circle cx="162.6" cy="236.1" r="2.24"/><circle cx="434.5" cy="165.5" r="2.24"/><circle cx="296.9" cy="264.3" r="2.24"/><circle cx="323.2" cy="228.5" r="2.24"/><circle cx="343.2" cy="257.7" r="2.24"/><circle cx="307.9" cy="362.4" r="2.24"/><circle cx="243.5" cy="226.4" r="2.24"/><circle cx="260.2" cy="182.7" r="2.24"/><circle cx="336.2" cy="267.0" r="2.24"/><circle cx="373.9" cy="332.4" r="2.24"/><circle cx="364.1" cy="298.2" r="2.24"/><circle cx="366.8" cy="174.8" r="2.24"/><circle cx="222.8" cy="196.6" r="2.24"/><circle cx="415.7" cy="266.1" r="2.24"/><circle cx="466.3" cy="192.2" r="2.24"/><circle cx="305.0" cy="380.9" r="2.24"/><circle cx="452.6" cy="257.5" r="2.24"/><circle cx="389.7" cy="243.8" r="2.24"/><circle cx="357.4" cy="336.7" r="2.24"/><circle cx="376.4" cy="154.7" r="2.24"/><circle cx="300.5" cy="380.0" r="2.24"/><circle cx="168.0" cy="226.7" r="2.24"/><circle cx="392.4" cy="289.4" r="2.24"/><circle cx="437.2" cy="267.3" r="2.24"/><circle cx="340.3" cy="251.8" r="2.24"/><circle cx="259.1" cy="236.6" r="2.24"/><circle cx="405.9" cy="385.7" r="2.24"/><circle cx="231.3" cy="320.0" r="2.24"/><circle cx="185.0" cy="245.5" r="2.24"/><circle cx="356.1" cy="299.9" r="2.24"/><circle cx="397.5" cy="261.1" r="2.24"/><circle cx="274.0" cy="252.8" r="2.24"/><circle cx="431.4" cy="317.5" r="2.24"/><circle cx="300.1" cy="341.5" r="2.24"/><circle cx="408.7" cy="335.3" r="2.24"/><circle cx="341.9" cy="179.5" r="2.24"/><circle cx="288.4" cy="357.7" r="2.24"/><circle cx="357.8" cy="250.0" r="2.24"/><circle cx="402.6" cy="161.1" r="2.24"/><circle cx="351.2" cy="324.0" r="2.24"/><circle cx="433.4" cy="152.9" r="2.24"/><circle cx="297.4" cy="176.2" r="2.24"/><circle cx="365.1" cy="381.2" r="2.24"/><circle cx="449.2" cy="208.2" r="2.24"/><circle cx="272.8" cy="273.5" r="2.24"/><circle cx="412.7" cy="252.8" r="2.24"/><circle cx="404.4" cy="369.9" r="2.24"/><circle cx="290.6" cy="189.4" r="2.24"/><circle cx="353.3" cy="207.4" r="2.24"/><circle cx="437.8" cy="268.0" r="2.24"/><circle cx="443.8" cy="241.4" r="2.24"/><circle cx="316.4" cy="282.0" r="2.24"/><circle cx="247.1" cy="194.3" r="2.24"/><circle cx="249.7" cy="211.5" r="2.24"/><circle cx="351.2" cy="258.6" r="2.24"/><circle cx="220.9" cy="194.0" r="2.24"/><circle cx="301.0" cy="164.4" r="2.24"/><circle cx="307.2" cy="283.4" r="2.24"/><circle cx="321.9" cy="320.2" r="2.24"/><circle cx="397.3" cy="243.3" r="2.24"/><circle cx="464.4" cy="224.5" r="2.24"/><circle cx="324.8" cy="261.7" r="2.24"/><circle cx="321.4" cy="213.4" r="2.24"/><circle cx="397.1" cy="241.8" r="2.24"/><circle cx="149.6" cy="213.4" r="2.24"/><circle cx="363.6" cy="400.6" r="2.24"/><circle cx="369.9" cy="198.0" r="2.24"/><circle cx="464.6" cy="329.8" r="2.24"/><circle cx="329.1" cy="322.8" r="2.24"/><circle cx="336.4" cy="278.0" r="2.24"/><circle cx="399.9" cy="292.0" r="2.24"/><circle cx="377.5" cy="279.4" r="2.24"/><circle cx="334.4" cy="277.7" r="2.24"/><circle cx="182.2" cy="213.2" r="2.24"/><circle cx="388.2" cy="278.3" r="2.24"/><circle cx="527.3" cy="154.7" r="2.24"/><circle cx="362.6" cy="241.5" r="2.24"/><circle cx="299.5" cy="306.0" r="2.24"/><circle cx="245.3" cy="236.1" r="2.24"/><circle cx="456.4" cy="151.4" r="2.24"/><circle cx="201.1" cy="251.8" r="2.24"/><circle cx="302.5" cy="289.9" r="2.24"/><circle cx="352.1" cy="202.4" r="2.24"/><circle cx="467.2" cy="238.3" r="2.24"/><circle cx="450.3" cy="245.8" r="2.24"/><circle cx="254.1" cy="313.1" r="2.24"/><circle cx="219.2" cy="242.8" r="2.24"/><circle cx="377.2" cy="247.7" r="2.24"/><circle cx="244.4" cy="227.4" r="2.24"/><circle cx="215.2" cy="284.8" r="2.24"/><circle cx="210.3" cy="223.8" r="2.24"/><circle cx="536.4" cy="170.7" r="2.24"/><circle cx="267.5" cy="306.3" r="2.24"/><circle cx="331.8" cy="357.6" r="2.24"/><circle cx="400.8" cy="289.6" r="2.24"/><circle cx="360.7" cy="369.0" r="2.24"/><circle cx="176.1" cy="197.1" r="2.24"/><circle cx="404.8" cy="271.5" r="2.24"/><circle cx="390.2" cy="423.5" r="2.24"/><circle cx="256.8" cy="333.2" r="2.24"/><circle cx="548.8" cy="167.4" r="2.24"/><circle cx="462.1" cy="268.1" r="2.24"/><circle cx="312.5" cy="366.2" r="2.24"/><circle cx="386.0" cy="280.7" r="2.24"/><circle cx="390.2" cy="445.1" r="2.24"/><circle cx="163.9" cy="214.3" r="2.24"/><circle cx="294.7" cy="314.6" r="2.24"/><circle cx="263.2" cy="222.5" r="2.24"/><circle cx="437.0" cy="225.5" r="2.24"/><circle cx="312.2" cy="223.2" r="2.24"/><circle cx="313.2" cy="271.8" r="2.24"/><circle cx="238.6" cy="267.2" r="2.24"/><circle cx="348.6" cy="308.5" r="2.24"/><circle cx="453.7" cy="318.3" r="2.24"/><circle cx="391.3" cy="255.6" r="2.24"/><circle cx="457.2" cy="268.3" r="2.24"/><circle cx="341.3" cy="335.0" r="2.24"/><circle cx="376.9" cy="421.6" r="2.24"/><circle cx="285.4" cy="181.8" r="2.24"/><circle cx="333.6" cy="289.5" r="2.24"/><circle cx="345.7" cy="393.9" r="2.24"/><circle cx="248.1" cy="333.5" r="2.24"/><circle cx="260.7" cy="317.5" r="2.24"/><circle cx="278.3" cy="194.3" r="2.24"/><circle cx="208.9" cy="216.4" r="2.24"/><circle cx="265.4" cy="354.5" r="2.24"/><circle cx="349.5" cy="277.0" r="2.24"/><circle cx="301.8" cy="249.4" r="2.24"/><circle cx="220.2" cy="251.3" r="2.24"/><circle cx="283.2" cy="246.3" r="2.24"/><circle cx="392.3" cy="382.2" r="2.24"/><circle cx="327.4" cy="157.7" r="2.24"/><circle cx="350.1" cy="317.9" r="2.24"/><circle cx="358.4" cy="331.0" r="2.24"/><circle cx="306.6" cy="293.7" r="2.24"/><circle cx="291.4" cy="298.5" r="2.24"/><circle cx="173.7" cy="199.4" r="2.24"/><circle cx="224.9" cy="169.2" r="2.24"/><circle cx="335.1" cy="294.1" r="2.24"/><circle cx="339.1" cy="232.4" r="2.24"/><circle cx="310.7" cy="184.1" r="2.24"/><circle cx="302.1" cy="246.5" r="2.24"/><circle cx="317.9" cy="277.7" r="2.24"/><circle cx="303.8" cy="361.3" r="2.24"/><circle cx="387.8" cy="312.5" r="2.24"/><circle cx="340.1" cy="167.4" r="2.24"/><circle cx="479.1" cy="232.6" r="2.24"/><circle cx="361.6" cy="234.4" r="2.24"/><circle cx="275.9" cy="221.1" r="2.24"/><circle cx="211.8" cy="249.6" r="2.24"/><circle cx="296.7" cy="314.8" r="2.24"/><circle cx="412.3" cy="453.0" r="2.24"/><circle cx="417.1" cy="264.6" r="2.24"/><circle cx="368.4" cy="264.3" r="2.24"/><circle cx="410.3" cy="325.4" r="2.24"/><circle cx="483.2" cy="263.6" r="2.24"/><circle cx="329.8" cy="226.9" r="2.24"/><circle cx="353.5" cy="298.9" r="2.24"/><circle cx="296.3" cy="247.3" r="2.24"/><circle cx="440.7" cy="165.5" r="2.24"/><circle cx="195.1" cy="175.4" r="2.24"/><circle cx="471.5" cy="216.0" r="2.24"/><circle cx="402.8" cy="427.7" r="2.24"/><circle cx="385.2" cy="382.1" r="2.24"/><circle cx="347.8" cy="216.1" r="2.24"/><circle cx="397.7" cy="267.0" r="2.24"/><circle cx="343.6" cy="221.8" r="2.24"/><circle cx="331.3" cy="373.3" r="2.24"/><circle cx="333.8" cy="213.4" r="2.24"/><circle cx="358.5" cy="169.6" r="2.24"/><circle cx="348.7" cy="271.0" r="2.24"/><circle cx="487.7" cy="205.3" r="2.24"/><circle cx="196.4" cy="227.2" r="2.24"/><circle cx="514.0" cy="237.5" r="2.24"/><circle cx="258.7" cy="228.4" r="2.24"/><circle cx="449.3" cy="318.9" r="2.24"/><circle cx="266.4" cy="250.5" r="2.24"/><circle cx="158.4" cy="208.4" r="2.24"/><circle cx="262.1" cy="296.5" r="2.24"/><circle cx="391.0" cy="415.8" r="2.24"/><circle cx="375.0" cy="337.6" r="2.24"/><circle cx="248.1" cy="276.8" r="2.24"/><circle cx="370.6" cy="342.5" r="2.24"/><circle cx="497.5" cy="186.2" r="2.24"/><circle cx="274.9" cy="227.3" r="2.24"/><circle cx="361.8" cy="262.2" r="2.24"/><circle cx="491.9" cy="171.7" r="2.24"/><circle cx="448.9" cy="343.7" r="2.24"/><circle cx="286.7" cy="241.4" r="2.24"/><circle cx="395.5" cy="331.0" r="2.24"/><circle cx="319.8" cy="210.9" r="2.24"/><circle cx="265.3" cy="307.9" r="2.24"/><circle cx="349.6" cy="350.4" r="2.24"/><circle cx="358.8" cy="162.2" r="2.24"/><circle cx="397.3" cy="302.3" r="2.24"/><circle cx="431.8" cy="249.9" r="2.24"/><circle cx="390.9" cy="257.3" r="2.24"/><circle cx="353.4" cy="342.1" r="2.24"/><circle cx="394.1" cy="231.1" r="2.24"/><circle cx="264.2" cy="284.8" r="2.24"/><circle cx="428.1" cy="275.3" r="2.24"/><circle cx="394.1" cy="407.1" r="2.24"/><circle cx="393.2" cy="277.3" r="2.24"/><circle cx="318.2" cy="337.2" r="2.24"/><circle cx="343.4" cy="292.1" r="2.24"/><circle cx="210.4" cy="241.3" r="2.24"/><circle cx="366.2" cy="387.4" r="2.24"/><circle cx="340.5" cy="405.2" r="2.24"/><circle cx="292.4" cy="202.3" r="2.24"/><circle cx="481.6" cy="302.9" r="2.24"/><circle cx="306.5" cy="188.9" r="2.24"/><circle cx="266.0" cy="266.3" r="2.24"/><circle cx="358.3" cy="274.3" r="2.24"/><circle cx="324.5" cy="391.8" r="2.24"/><circle cx="291.6" cy="376.4" r="2.24"/><circle cx="429.0" cy="188.2" r="2.24"/><circle cx="343.1" cy="234.8" r="2.24"/><circle cx="390.5" cy="338.5" r="2.24"/><circle cx="473.8" cy="153.7" r="2.24"/><circle cx="391.6" cy="209.0" r="2.24"/><circle cx="445.1" cy="150.1" r="2.24"/><circle cx="372.5" cy="327.1" r="2.24"/><circle cx="202.2" cy="270.8" r="2.24"/><circle cx="370.4" cy="198.7" r="2.24"/><circle cx="382.0" cy="336.2" r="2.24"/><circle cx="394.1" cy="234.4" r="2.24"/><circle cx="405.5" cy="217.2" r="2.24"/><circle cx="335.6" cy="251.1" r="2.24"/><circle cx="296.1" cy="364.7" r="2.24"/><circle cx="421.9" cy="260.7" r="2.24"/><circle cx="238.3" cy="241.3" r="2.24"/><circle cx="390.6" cy="415.8" r="2.24"/><circle cx="283.7" cy="174.4" r="2.24"/><circle cx="433.6" cy="315.6" r="2.24"/><circle cx="208.4" cy="255.8" r="2.24"/><circle cx="497.3" cy="226.1" r="2.24"/><circle cx="296.1" cy="289.9" r="2.24"/><circle cx="221.8" cy="304.9" r="2.24"/><circle cx="299.6" cy="375.5" r="2.24"/><circle cx="243.6" cy="295.5" r="2.24"/><circle cx="369.2" cy="174.1" r="2.24"/><circle cx="444.9" cy="279.7" r="2.24"/><circle cx="225.2" cy="263.1" r="2.24"/><circle cx="405.5" cy="187.3" r="2.24"/><circle cx="381.2" cy="306.9" r="2.24"/><circle cx="237.7" cy="327.8" r="2.24"/><circle cx="412.1" cy="225.7" r="2.24"/><circle cx="255.4" cy="172.8" r="2.24"/><circle cx="457.8" cy="255.4" r="2.24"/><circle cx="425.5" cy="419.4" r="2.24"/><circle cx="396.3" cy="199.8" r="2.24"/><circle cx="309.7" cy="163.9" r="2.24"/><circle cx="270.1" cy="316.2" r="2.24"/><circle cx="366.5" cy="265.4" r="2.24"/><circle cx="401.6" cy="247.1" r="2.24"/><circle cx="458.8" cy="302.4" r="2.24"/><circle cx="470.5" cy="315.9" r="2.24"/><circle cx="401.4" cy="373.6" r="2.24"/><circle cx="301.3" cy="233.2" r="2.24"/><circle cx="342.0" cy="162.8" r="2.24"/><circle cx="296.1" cy="199.4" r="2.24"/><circle cx="290.3" cy="303.9" r="2.24"/><circle cx="455.5" cy="164.6" r="2.24"/><circle cx="328.4" cy="194.1" r="2.24"/><circle cx="318.0" cy="218.5" r="2.24"/><circle cx="192.2" cy="194.7" r="2.24"/><circle cx="191.3" cy="275.8" r="2.24"/><circle cx="367.6" cy="249.7" r="2.24"/><circle cx="306.2" cy="326.8" r="2.24"/><circle cx="299.0" cy="225.3" r="2.24"/><circle cx="224.4" cy="297.2" r="2.24"/><circle cx="463.8" cy="187.5" r="2.24"/><circle cx="481.0" cy="256.6" r="2.24"/><circle cx="407.2" cy="452.7" r="2.24"/><circle cx="441.3" cy="334.2" r="2.24"/><circle cx="318.3" cy="193.6" r="2.24"/><circle cx="485.6" cy="259.3" r="2.24"/><circle cx="269.3" cy="326.1" r="2.24"/><circle cx="437.5" cy="207.6" r="2.24"/><circle cx="399.9" cy="182.8" r="2.24"/><circle cx="249.5" cy="271.5" r="2.24"/><circle cx="263.0" cy="207.0" r="2.24"/><circle cx="460.1" cy="231.9" r="2.24"/><circle cx="432.7" cy="407.6" r="2.24"/><circle cx="284.3" cy="305.0" r="2.24"/><circle cx="340.7" cy="271.2" r="2.24"/><circle cx="213.0" cy="228.5" r="2.24"/><circle cx="159.7" cy="215.2" r="2.24"/><circle cx="307.0" cy="187.0" r="2.24"/><circle cx="386.1" cy="208.2" r="2.24"/><circle cx="366.7" cy="301.8" r="2.24"/><circle cx="257.0" cy="327.7" r="2.24"/><circle cx="455.8" cy="150.0" r="2.24"/><circle cx="334.4" cy="369.0" r="2.24"/><circle cx="422.7" cy="187.1" r="2.24"/><circle cx="405.8" cy="362.3" r="2.24"/><circle cx="236.4" cy="278.8" r="2.24"/><circle cx="487.0" cy="147.6" r="2.24"/><circle cx="336.1" cy="285.7" r="2.24"/><circle cx="220.2" cy="220.2" r="2.24"/><circle cx="337.2" cy="250.1" r="2.24"/><circle cx="300.6" cy="293.8" r="2.24"/><circle cx="422.1" cy="299.9" r="2.24"/><circle cx="342.1" cy="374.9" r="2.24"/><circle cx="275.9" cy="238.9" r="2.24"/><circle cx="344.2" cy="157.1" r="2.24"/><circle cx="419.5" cy="206.5" r="2.24"/><circle cx="462.0" cy="312.0" r="2.24"/><circle cx="326.8" cy="259.6" r="2.24"/><circle cx="380.4" cy="192.1" r="2.24"/><circle cx="394.9" cy="175.4" r="2.24"/><circle cx="477.3" cy="269.6" r="2.24"/><circle cx="287.8" cy="261.8" r="2.24"/><circle cx="397.0" cy="264.3" r="2.24"/><circle cx="423.0" cy="203.7" r="2.24"/><circle cx="372.0" cy="276.0" r="2.24"/><circle cx="326.1" cy="366.8" r="2.24"/><circle cx="298.6" cy="251.3" r="2.24"/><circle cx="459.1" cy="266.3" r="2.24"/><circle cx="370.4" cy="419.4" r="2.24"/><circle cx="324.1" cy="172.0" r="2.24"/><circle cx="295.0" cy="173.2" r="2.24"/><circle cx="360.1" cy="204.7" r="2.24"/><circle cx="206.3" cy="238.6" r="2.24"/><circle cx="429.6" cy="414.7" r="2.24"/><circle cx="233.9" cy="196.8" r="2.24"/><circle cx="427.0" cy="150.7" r="2.24"/><circle cx="185.9" cy="188.5" r="2.24"/><circle cx="410.8" cy="361.9" r="2.24"/><circle cx="479.5" cy="304.2" r="2.24"/><circle cx="455.9" cy="157.5" r="2.24"/><circle cx="400.4" cy="261.0" r="2.24"/><circle cx="321.4" cy="304.0" r="2.24"/><circle cx="291.6" cy="180.2" r="2.24"/><circle cx="219.6" cy="201.7" r="2.24"/><circle cx="353.6" cy="298.0" r="2.24"/><circle cx="207.9" cy="189.1" r="2.24"/><circle cx="467.0" cy="255.8" r="2.24"/><circle cx="251.5" cy="246.1" r="2.24"/><circle cx="361.1" cy="397.2" r="2.24"/><circle cx="391.5" cy="258.0" r="2.24"/><circle cx="430.6" cy="169.5" r="2.24"/><circle cx="275.6" cy="302.7" r="2.24"/><circle cx="390.7" cy="352.0" r="2.24"/><circle cx="294.1" cy="198.3" r="2.24"/><circle cx="274.9" cy="273.0" r="2.24"/><circle cx="347.2" cy="303.1" r="2.24"/><circle cx="361.1" cy="252.7" r="2.24"/><circle cx="415.0" cy="271.5" r="2.24"/><circle cx="291.0" cy="250.8" r="2.24"/><circle cx="213.3" cy="276.4" r="2.24"/><circle cx="509.1" cy="174.2" r="2.24"/><circle cx="324.4" cy="337.8" r="2.24"/><circle cx="455.6" cy="310.9" r="2.24"/><circle cx="335.9" cy="172.2" r="2.24"/><circle cx="451.1" cy="154.7" r="2.24"/><circle cx="370.3" cy="365.0" r="2.24"/><circle cx="180.3" cy="182.2" r="2.24"/><circle cx="360.0" cy="361.9" r="2.24"/><circle cx="334.9" cy="256.5" r="2.24"/><circle cx="377.7" cy="196.7" r="2.24"/><circle cx="303.8" cy="295.2" r="2.24"/><circle cx="357.5" cy="347.0" r="2.24"/><circle cx="461.8" cy="158.5" r="2.24"/><circle cx="206.7" cy="228.2" r="2.24"/><circle cx="359.9" cy="239.8" r="2.24"/><circle cx="515.0" cy="226.6" r="2.24"/><circle cx="249.4" cy="257.5" r="2.24"/><circle cx="432.8" cy="204.1" r="2.24"/><circle cx="465.2" cy="265.2" r="2.24"/><circle cx="383.3" cy="251.2" r="2.24"/><circle cx="307.7" cy="278.6" r="2.24"/><circle cx="339.3" cy="326.2" r="2.24"/><circle cx="480.9" cy="234.7" r="2.24"/><circle cx="308.5" cy="248.2" r="2.24"/><circle cx="318.8" cy="167.2" r="2.24"/><circle cx="273.9" cy="253.8" r="2.24"/><circle cx="437.4" cy="345.9" r="2.24"/><circle cx="461.6" cy="159.3" r="2.24"/><circle cx="432.8" cy="261.4" r="2.24"/><circle cx="197.5" cy="223.9" r="2.24"/><circle cx="331.0" cy="172.2" r="2.24"/><circle cx="437.8" cy="236.9" r="2.24"/><circle cx="223.4" cy="169.0" r="2.24"/><circle cx="359.0" cy="417.1" r="2.24"/><circle cx="322.7" cy="195.3" r="2.24"/><circle cx="250.1" cy="272.5" r="2.24"/><circle cx="389.3" cy="164.0" r="2.24"/><circle cx="385.7" cy="363.0" r="2.24"/><circle cx="358.7" cy="254.1" r="2.24"/><circle cx="318.7" cy="172.3" r="2.24"/><circle cx="429.2" cy="294.3" r="2.24"/><circle cx="321.0" cy="365.0" r="2.24"/><circle cx="440.1" cy="372.1" r="2.24"/><circle cx="318.9" cy="193.5" r="2.24"/><circle cx="322.5" cy="240.3" r="2.24"/><circle cx="394.8" cy="223.4" r="2.24"/><circle cx="482.8" cy="288.3" r="2.24"/><circle cx="202.4" cy="290.0" r="2.24"/><circle cx="304.9" cy="256.6" r="2.24"/><circle cx="164.8" cy="227.4" r="2.24"/><circle cx="403.6" cy="437.3" r="2.24"/><circle cx="537.9" cy="150.6" r="2.24"/><circle cx="477.9" cy="166.0" r="2.24"/><circle cx="441.5" cy="215.3" r="2.24"/><circle cx="456.8" cy="287.3" r="2.24"/><circle cx="394.4" cy="351.2" r="2.24"/><circle cx="355.1" cy="336.3" r="2.24"/><circle cx="281.1" cy="200.8" r="2.24"/><circle cx="394.8" cy="265.6" r="2.24"/><circle cx="267.3" cy="275.8" r="2.24"/><circle cx="348.9" cy="299.1" r="2.24"/><circle cx="395.1" cy="269.1" r="2.24"/><circle cx="372.0" cy="300.9" r="2.24"/><circle cx="180.3" cy="245.2" r="2.24"/><circle cx="429.6" cy="178.2" r="2.24"/><circle cx="428.5" cy="406.6" r="2.24"/><circle cx="472.6" cy="183.9" r="2.24"/><circle cx="414.6" cy="220.4" r="2.24"/><circle cx="307.2" cy="201.3" r="2.24"/><circle cx="421.0" cy="366.7" r="2.24"/><circle cx="450.1" cy="242.9" r="2.24"/><circle cx="399.7" cy="345.5" r="2.24"/><circle cx="249.3" cy="307.3" r="2.24"/><circle cx="170.9" cy="243.8" r="2.24"/><circle cx="479.0" cy="172.0" r="2.24"/><circle cx="324.9" cy="185.4" r="2.24"/><circle cx="446.6" cy="208.0" r="2.24"/><circle cx="290.7" cy="307.9" r="2.24"/><circle cx="346.1" cy="343.1" r="2.24"/><circle cx="489.2" cy="204.9" r="2.24"/><circle cx="364.9" cy="221.3" r="2.24"/><circle cx="416.4" cy="181.8" r="2.24"/><circle cx="270.7" cy="230.0" r="2.24"/><circle cx="373.8" cy="241.1" r="2.24"/><circle cx="429.0" cy="412.1" r="2.24"/><circle cx="299.0" cy="281.2" r="2.24"/><circle cx="343.3" cy="295.4" r="2.24"/><circle cx="469.8" cy="158.7" r="2.24"/><circle cx="353.6" cy="284.9" r="2.24"/><circle cx="356.1" cy="236.8" r="2.24"/><circle cx="321.2" cy="351.5" r="2.24"/><circle cx="268.4" cy="178.1" r="2.24"/><circle cx="394.4" cy="422.5" r="2.24"/><circle cx="374.8" cy="246.4" r="2.24"/><circle cx="290.1" cy="314.2" r="2.24"/><circle cx="360.8" cy="259.3" r="2.24"/><circle cx="490.1" cy="224.6" r="2.24"/><circle cx="215.3" cy="179.6" r="2.24"/><circle cx="300.3" cy="177.2" r="2.24"/><circle cx="345.7" cy="287.0" r="2.24"/><circle cx="239.6" cy="177.8" r="2.24"/><circle cx="321.8" cy="354.4" r="2.24"/><circle cx="454.5" cy="149.8" r="2.24"/><circle cx="381.0" cy="191.2" r="2.24"/><circle cx="304.1" cy="314.8" r="2.24"/><circle cx="538.4" cy="177.7" r="2.24"/><circle cx="404.2" cy="228.1" r="2.24"/><circle cx="352.1" cy="303.6" r="2.24"/><circle cx="272.4" cy="315.0" r="2.24"/><circle cx="401.1" cy="289.6" r="2.24"/><circle cx="443.1" cy="268.7" r="2.24"/><circle cx="514.6" cy="223.3" r="2.24"/><circle cx="517.3" cy="198.1" r="2.24"/><circle cx="238.2" cy="279.5" r="2.24"/><circle cx="465.8" cy="246.8" r="2.24"/><circle cx="350.5" cy="321.8" r="2.24"/><circle cx="466.2" cy="280.6" r="2.24"/><circle cx="365.2" cy="381.4" r="2.24"/><circle cx="232.0" cy="291.7" r="2.24"/><circle cx="464.9" cy="163.9" r="2.24"/><circle cx="390.4" cy="192.0" r="2.24"/><circle cx="521.4" cy="196.5" r="2.24"/><circle cx="361.1" cy="254.4" r="2.24"/><circle cx="189.9" cy="207.6" r="2.24"/><circle cx="338.3" cy="290.4" r="2.24"/><circle cx="146.4" cy="199.4" r="2.24"/><circle cx="306.5" cy="322.6" r="2.24"/><circle cx="246.0" cy="286.8" r="2.24"/><circle cx="195.5" cy="265.1" r="2.24"/><circle cx="242.6" cy="194.4" r="2.24"/><circle cx="238.7" cy="202.7" r="2.24"/><circle cx="470.4" cy="157.1" r="2.24"/><circle cx="255.9" cy="270.0" r="2.24"/><circle cx="286.1" cy="261.7" r="2.24"/><circle cx="484.6" cy="284.2" r="2.24"/><circle cx="395.6" cy="269.0" r="2.24"/><circle cx="219.7" cy="306.2" r="2.24"/><circle cx="380.4" cy="432.5" r="2.24"/><circle cx="510.2" cy="146.7" r="2.24"/><circle cx="386.0" cy="287.9" r="2.24"/><circle cx="325.1" cy="280.3" r="2.24"/><circle cx="280.5" cy="349.2" r="2.24"/><circle cx="395.7" cy="441.4" r="2.24"/><circle cx="379.9" cy="416.6" r="2.24"/><circle cx="443.6" cy="290.0" r="2.24"/><circle cx="296.9" cy="187.8" r="2.24"/><circle cx="253.0" cy="189.9" r="2.24"/><circle cx="225.6" cy="298.1" r="2.24"/><circle cx="395.3" cy="276.4" r="2.24"/><circle cx="399.7" cy="247.5" r="2.24"/><circle cx="262.9" cy="210.6" r="2.24"/><circle cx="232.3" cy="168.3" r="2.24"/><circle cx="488.9" cy="290.6" r="2.24"/><circle cx="294.5" cy="253.2" r="2.24"/><circle cx="428.7" cy="404.8" r="2.24"/><circle cx="254.7" cy="291.2" r="2.24"/><circle cx="353.1" cy="264.2" r="2.24"/><circle cx="247.8" cy="204.0" r="2.24"/><circle cx="514.8" cy="206.3" r="2.24"/><circle cx="440.2" cy="348.6" r="2.24"/><circle cx="452.5" cy="262.1" r="2.24"/><circle cx="458.0" cy="348.6" r="2.24"/><circle cx="507.2" cy="246.5" r="2.24"/><circle cx="226.7" cy="181.6" r="2.24"/><circle cx="276.8" cy="304.6" r="2.24"/><circle cx="423.9" cy="304.0" r="2.24"/><circle cx="324.8" cy="221.8" r="2.24"/><circle cx="447.8" cy="269.5" r="2.24"/><circle cx="385.1" cy="194.8" r="2.24"/><circle cx="382.2" cy="193.6" r="2.24"/><circle cx="456.0" cy="255.8" r="2.24"/><circle cx="149.4" cy="185.0" r="2.24"/><circle cx="423.4" cy="233.6" r="2.24"/><circle cx="363.3" cy="178.8" r="2.24"/><circle cx="312.6" cy="184.7" r="2.24"/><circle cx="360.6" cy="277.6" r="2.24"/><circle cx="415.4" cy="250.4" r="2.24"/><circle cx="287.6" cy="353.4" r="2.24"/><circle cx="398.4" cy="301.8" r="2.24"/><circle cx="240.3" cy="305.9" r="2.24"/><circle cx="356.2" cy="299.8" r="2.24"/><circle cx="244.0" cy="250.0" r="2.24"/><circle cx="292.9" cy="327.0" r="2.24"/><circle cx="359.4" cy="359.1" r="2.24"/><circle cx="390.3" cy="256.7" r="2.24"/><circle cx="393.9" cy="301.5" r="2.24"/><circle cx="281.9" cy="230.0" r="2.24"/><circle cx="472.7" cy="165.5" r="2.24"/><circle cx="372.8" cy="403.6" r="2.24"/><circle cx="433.4" cy="180.6" r="2.24"/><circle cx="429.5" cy="316.7" r="2.24"/><circle cx="377.7" cy="440.5" r="2.24"/><circle cx="299.7" cy="249.4" r="2.24"/><circle cx="265.4" cy="302.3" r="2.24"/><circle cx="234.4" cy="252.4" r="2.24"/><circle cx="221.7" cy="197.8" r="2.24"/><circle cx="396.0" cy="385.1" r="2.24"/><circle cx="334.9" cy="354.8" r="2.24"/><circle cx="378.9" cy="205.8" r="2.24"/><circle cx="372.0" cy="401.7" r="2.24"/><circle cx="259.2" cy="208.8" r="2.24"/><circle cx="474.3" cy="157.8" r="2.24"/><circle cx="200.2" cy="279.9" r="2.24"/><circle cx="393.2" cy="288.3" r="2.24"/><circle cx="335.9" cy="219.2" r="2.24"/><circle cx="249.5" cy="248.4" r="2.24"/><circle cx="371.8" cy="440.9" r="2.24"/><circle cx="296.9" cy="379.5" r="2.24"/><circle cx="468.2" cy="337.1" r="2.24"/><circle cx="242.5" cy="187.2" r="2.24"/><circle cx="304.5" cy="232.7" r="2.24"/><circle cx="367.5" cy="315.0" r="2.24"/><circle cx="253.7" cy="293.1" r="2.24"/><circle cx="478.4" cy="250.7" r="2.24"/><circle cx="411.8" cy="295.5" r="2.24"/><circle cx="350.0" cy="189.3" r="2.24"/><circle cx="432.2" cy="324.5" r="2.24"/><circle cx="235.8" cy="316.5" r="2.24"/><circle cx="472.0" cy="262.7" r="2.24"/><circle cx="458.3" cy="335.0" r="2.24"/><circle cx="407.3" cy="263.1" r="2.24"/><circle cx="405.4" cy="206.2" r="2.24"/><circle cx="325.6" cy="253.8" r="2.24"/><circle cx="406.1" cy="262.6" r="2.24"/><circle cx="361.9" cy="293.9" r="2.24"/><circle cx="527.0" cy="193.6" r="2.24"/><circle cx="498.5" cy="150.8" r="2.24"/><circle cx="321.5" cy="258.0" r="2.24"/><circle cx="389.0" cy="199.4" r="2.24"/><circle cx="402.0" cy="272.4" r="2.24"/><circle cx="484.6" cy="246.6" r="2.24"/><circle cx="521.4" cy="183.4" r="2.24"/><circle cx="334.8" cy="236.3" r="2.24"/><circle cx="343.7" cy="156.4" r="2.24"/><circle cx="201.6" cy="211.3" r="2.24"/><circle cx="204.2" cy="220.3" r="2.24"/><circle cx="460.1" cy="241.3" r="2.24"/><circle cx="339.9" cy="158.3" r="2.24"/><circle cx="283.9" cy="281.9" r="2.24"/><circle cx="286.1" cy="192.0" r="2.24"/><circle cx="396.4" cy="220.7" r="2.24"/><circle cx="292.8" cy="288.3" r="2.24"/><circle cx="462.6" cy="326.8" r="2.24"/><circle cx="391.2" cy="368.1" r="2.24"/><circle cx="325.8" cy="226.0" r="2.24"/><circle cx="372.8" cy="356.1" r="2.24"/><circle cx="367.8" cy="437.6" r="2.24"/><circle cx="276.0" cy="220.0" r="2.24"/><circle cx="277.9" cy="231.5" r="2.24"/><circle cx="442.8" cy="181.7" r="2.24"/><circle cx="467.7" cy="290.8" r="2.24"/><circle cx="402.6" cy="416.8" r="2.24"/><circle cx="475.6" cy="159.4" r="2.24"/><circle cx="391.4" cy="258.5" r="2.24"/><circle cx="412.8" cy="321.9" r="2.24"/><circle cx="304.8" cy="249.3" r="2.24"/><circle cx="254.6" cy="266.8" r="2.24"/><circle cx="475.1" cy="248.4" r="2.24"/><circle cx="391.8" cy="259.3" r="2.24"/><circle cx="454.8" cy="340.8" r="2.24"/><circle cx="350.2" cy="353.9" r="2.24"/><circle cx="251.2" cy="324.1" r="2.24"/><circle cx="370.7" cy="262.3" r="2.24"/><circle cx="417.3" cy="387.6" r="2.24"/><circle cx="271.8" cy="198.8" r="2.24"/><circle cx="217.8" cy="186.3" r="2.24"/><circle cx="330.6" cy="266.0" r="2.24"/><circle cx="265.8" cy="300.7" r="2.24"/><circle cx="390.8" cy="372.0" r="2.24"/><circle cx="372.8" cy="369.7" r="2.24"/><circle cx="300.7" cy="200.0" r="2.24"/><circle cx="376.4" cy="396.3" r="2.24"/><circle cx="399.6" cy="231.6" r="2.24"/><circle cx="254.5" cy="252.9" r="2.24"/><circle cx="313.4" cy="363.2" r="2.24"/><circle cx="308.0" cy="318.1" r="2.24"/><circle cx="196.4" cy="184.5" r="2.24"/><circle cx="368.9" cy="298.5" r="2.24"/><circle cx="379.5" cy="180.0" r="2.24"/><circle cx="377.1" cy="438.3" r="2.24"/><circle cx="437.2" cy="234.3" r="2.24"/><circle cx="478.5" cy="156.2" r="2.24"/><circle cx="391.1" cy="171.9" r="2.24"/><circle cx="401.8" cy="267.9" r="2.24"/><circle cx="332.5" cy="259.4" r="2.24"/><circle cx="191.6" cy="195.3" r="2.24"/><circle cx="252.9" cy="184.6" r="2.24"/><circle cx="440.7" cy="169.3" r="2.24"/><circle cx="282.9" cy="249.7" r="2.24"/><circle cx="217.3" cy="260.8" r="2.24"/><circle cx="544.1" cy="150.5" r="2.24"/><circle cx="445.2" cy="321.8" r="2.24"/><circle cx="247.3" cy="190.0" r="2.24"/><circle cx="255.9" cy="186.1" r="2.24"/><circle cx="433.5" cy="228.7" r="2.24"/><circle cx="427.9" cy="377.6" r="2.24"/><circle cx="285.4" cy="222.8" r="2.24"/><circle cx="395.3" cy="376.7" r="2.24"/><circle cx="203.6" cy="216.4" r="2.24"/><circle cx="365.2" cy="255.6" r="2.24"/><circle cx="166.9" cy="183.9" r="2.24"/><circle cx="461.5" cy="207.9" r="2.24"/><circle cx="339.6" cy="356.3" r="2.24"/><circle cx="413.5" cy="220.4" r="2.24"/><circle cx="356.1" cy="421.3" r="2.24"/><circle cx="422.9" cy="174.9" r="2.24"/><circle cx="451.4" cy="188.5" r="2.24"/><circle cx="281.6" cy="338.1" r="2.24"/><circle cx="352.5" cy="246.4" r="2.24"/><circle cx="191.8" cy="188.0" r="2.24"/><circle cx="437.7" cy="349.7" r="2.24"/><circle cx="209.0" cy="253.6" r="2.24"/><circle cx="384.2" cy="267.5" r="2.24"/><circle cx="455.0" cy="287.0" r="2.24"/><circle cx="259.9" cy="236.9" r="2.24"/><circle cx="378.5" cy="266.4" r="2.24"/><circle cx="432.5" cy="405.6" r="2.24"/><circle cx="335.0" cy="258.0" r="2.24"/><circle cx="266.9" cy="242.3" r="2.24"/><circle cx="468.5" cy="326.8" r="2.24"/><circle cx="466.5" cy="171.6" r="2.24"/><circle cx="304.4" cy="313.3" r="2.24"/><circle cx="268.4" cy="195.6" r="2.24"/><circle cx="351.5" cy="221.3" r="2.24"/><circle cx="467.0" cy="220.6" r="2.24"/><circle cx="368.4" cy="163.5" r="2.24"/><circle cx="326.2" cy="174.8" r="2.24"/><circle cx="455.4" cy="231.3" r="2.24"/><circle cx="370.9" cy="420.7" r="2.24"/><circle cx="430.0" cy="265.4" r="2.24"/><circle cx="358.6" cy="238.9" r="2.24"/><circle cx="337.9" cy="262.5" r="2.24"/><circle cx="184.7" cy="217.9" r="2.24"/><circle cx="375.2" cy="368.9" r="2.24"/><circle cx="430.3" cy="411.1" r="2.24"/><circle cx="307.9" cy="252.5" r="2.24"/><circle cx="409.7" cy="169.2" r="2.24"/><circle cx="303.1" cy="245.0" r="2.24"/><circle cx="355.1" cy="330.9" r="2.24"/><circle cx="297.4" cy="376.7" r="2.24"/><circle cx="329.9" cy="296.4" r="2.24"/><circle cx="427.4" cy="191.5" r="2.24"/><circle cx="203.6" cy="287.1" r="2.24"/><circle cx="180.0" cy="257.0" r="2.24"/><circle cx="324.5" cy="369.4" r="2.24"/><circle cx="277.3" cy="333.0" r="2.24"/><circle cx="416.0" cy="240.2" r="2.24"/><circle cx="363.7" cy="309.1" r="2.24"/><circle cx="294.8" cy="244.2" r="2.24"/><circle cx="437.7" cy="241.9" r="2.24"/><circle cx="517.5" cy="207.5" r="2.24"/><circle cx="438.8" cy="385.8" r="2.24"/><circle cx="445.6" cy="188.4" r="2.24"/><circle cx="357.0" cy="231.4" r="2.24"/><circle cx="180.9" cy="218.8" r="2.24"/><circle cx="466.3" cy="299.0" r="2.24"/><circle cx="310.6" cy="246.6" r="2.24"/><circle cx="335.4" cy="370.1" r="2.24"/><circle cx="427.4" cy="274.8" r="2.24"/><circle cx="432.6" cy="350.5" r="2.24"/><circle cx="437.2" cy="148.6" r="2.24"/><circle cx="195.1" cy="220.6" r="2.24"/><circle cx="448.9" cy="234.8" r="2.24"/><circle cx="296.9" cy="304.4" r="2.24"/><circle cx="318.0" cy="276.0" r="2.24"/><circle cx="440.0" cy="340.2" r="2.24"/><circle cx="395.8" cy="326.8" r="2.24"/><circle cx="417.4" cy="277.0" r="2.24"/><circle cx="457.1" cy="346.1" r="2.24"/><circle cx="432.8" cy="206.8" r="2.24"/><circle cx="413.3" cy="214.6" r="2.24"/><circle cx="388.9" cy="261.6" r="2.24"/><circle cx="289.2" cy="304.3" r="2.24"/><circle cx="360.7" cy="167.3" r="2.24"/><circle cx="198.9" cy="249.9" r="2.24"/><circle cx="352.1" cy="203.3" r="2.24"/><circle cx="403.6" cy="437.8" r="2.24"/><circle cx="303.8" cy="330.8" r="2.24"/><circle cx="448.4" cy="193.5" r="2.24"/><circle cx="254.7" cy="258.1" r="2.24"/><circle cx="450.8" cy="247.1" r="2.24"/><circle cx="379.2" cy="154.0" r="2.24"/><circle cx="138.9" cy="182.7" r="2.24"/><circle cx="373.1" cy="292.6" r="2.24"/><circle cx="351.1" cy="342.3" r="2.24"/><circle cx="321.9" cy="281.1" r="2.24"/><circle cx="333.1" cy="168.8" r="2.24"/><circle cx="454.5" cy="149.0" r="2.24"/><circle cx="203.3" cy="222.3" r="2.24"/><circle cx="276.0" cy="273.9" r="2.24"/><circle cx="415.6" cy="217.8" r="2.24"/><circle cx="320.9" cy="386.0" r="2.24"/><circle cx="193.6" cy="271.1" r="2.24"/><circle cx="507.6" cy="161.5" r="2.24"/><circle cx="436.6" cy="188.2" r="2.24"/><circle cx="489.8" cy="222.4" r="2.24"/><circle cx="376.7" cy="379.2" r="2.24"/><circle cx="445.0" cy="224.6" r="2.24"/><circle cx="233.1" cy="314.2" r="2.24"/><circle cx="192.1" cy="187.8" r="2.24"/><circle cx="299.7" cy="233.2" r="2.24"/><circle cx="474.2" cy="264.2" r="2.24"/><circle cx="320.2" cy="266.9" r="2.24"/><circle cx="309.4" cy="178.4" r="2.24"/><circle cx="286.3" cy="221.5" r="2.24"/><circle cx="349.3" cy="256.9" r="2.24"/><circle cx="262.8" cy="345.2" r="2.24"/><circle cx="403.7" cy="313.9" r="2.24"/><circle cx="345.2" cy="168.2" r="2.24"/><circle cx="392.2" cy="419.0" r="2.24"/><circle cx="507.9" cy="211.5" r="2.24"/><circle cx="290.2" cy="281.2" r="2.24"/><circle cx="261.8" cy="306.9" r="2.24"/><circle cx="448.2" cy="332.5" r="2.24"/><circle cx="414.1" cy="222.3" r="2.24"/><circle cx="341.1" cy="256.7" r="2.24"/><circle cx="219.6" cy="304.4" r="2.24"/><circle cx="313.4" cy="329.2" r="2.24"/><circle cx="419.2" cy="220.9" r="2.24"/><circle cx="487.5" cy="212.2" r="2.24"/><circle cx="341.3" cy="285.5" r="2.24"/><circle cx="266.0" cy="358.0" r="2.24"/><circle cx="394.2" cy="165.6" r="2.24"/><circle cx="432.9" cy="359.6" r="2.24"/><circle cx="276.1" cy="224.5" r="2.24"/><circle cx="293.4" cy="243.2" r="2.24"/><circle cx="256.6" cy="198.7" r="2.24"/><circle cx="453.6" cy="366.9" r="2.24"/><circle cx="211.9" cy="270.6" r="2.24"/><circle cx="376.2" cy="223.0" r="2.24"/><circle cx="223.3" cy="277.0" r="2.24"/><circle cx="280.1" cy="280.3" r="2.24"/><circle cx="269.4" cy="167.9" r="2.24"/><circle cx="442.0" cy="176.9" r="2.24"/><circle cx="307.8" cy="191.2" r="2.24"/><circle cx="321.4" cy="392.1" r="2.24"/><circle cx="324.1" cy="399.5" r="2.24"/><circle cx="212.4" cy="217.5" r="2.24"/><circle cx="309.2" cy="301.2" r="2.24"/><circle cx="243.0" cy="304.2" r="2.24"/><circle cx="358.7" cy="252.2" r="2.24"/><circle cx="327.6" cy="222.2" r="2.24"/><circle cx="453.8" cy="228.9" r="2.24"/><circle cx="514.5" cy="169.4" r="2.24"/><circle cx="184.3" cy="267.6" r="2.24"/><circle cx="222.8" cy="277.0" r="2.24"/><circle cx="328.5" cy="263.2" r="2.24"/><circle cx="201.6" cy="171.2" r="2.24"/><circle cx="427.4" cy="326.6" r="2.24"/><circle cx="396.4" cy="257.1" r="2.24"/><circle cx="209.7" cy="259.4" r="2.24"/><circle cx="276.6" cy="185.5" r="2.24"/><circle cx="415.6" cy="433.9" r="2.24"/><circle cx="304.6" cy="195.8" r="2.24"/><circle cx="330.4" cy="248.0" r="2.24"/><circle cx="333.3" cy="323.0" r="2.24"/><circle cx="200.4" cy="210.2" r="2.24"/><circle cx="272.9" cy="193.8" r="2.24"/><circle cx="251.7" cy="233.0" r="2.24"/><circle cx="370.4" cy="332.6" r="2.24"/><circle cx="221.5" cy="202.2" r="2.24"/>
</g>
<g class="o">
<circle cx="373.6" cy="158.4" r="2.24"/><circle cx="419.4" cy="430.1" r="2.24"/><circle cx="428.3" cy="217.0" r="2.24"/><circle cx="407.8" cy="415.5" r="2.24"/><circle cx="402.7" cy="254.4" r="2.24"/><circle cx="305.7" cy="298.0" r="2.24"/><circle cx="468.4" cy="283.0" r="2.24"/><circle cx="258.7" cy="301.7" r="2.24"/><circle cx="268.0" cy="268.6" r="2.24"/><circle cx="346.7" cy="345.9" r="2.24"/><circle cx="269.5" cy="194.6" r="2.24"/><circle cx="389.0" cy="244.2" r="2.24"/><circle cx="377.9" cy="330.6" r="2.24"/><circle cx="376.5" cy="236.7" r="2.24"/><circle cx="283.5" cy="261.2" r="2.24"/><circle cx="300.6" cy="319.4" r="2.24"/><circle cx="428.1" cy="363.2" r="2.24"/><circle cx="264.5" cy="311.0" r="2.24"/><circle cx="307.2" cy="255.7" r="2.24"/><circle cx="351.5" cy="296.7" r="2.24"/><circle cx="322.7" cy="315.8" r="2.24"/><circle cx="432.5" cy="272.0" r="2.24"/><circle cx="353.1" cy="261.9" r="2.24"/><circle cx="275.7" cy="266.0" r="2.24"/><circle cx="402.0" cy="340.8" r="2.24"/><circle cx="290.4" cy="245.2" r="2.24"/><circle cx="248.0" cy="266.1" r="2.24"/><circle cx="270.8" cy="292.6" r="2.24"/><circle cx="515.2" cy="147.6" r="2.24"/><circle cx="413.5" cy="443.2" r="2.24"/><circle cx="303.2" cy="330.0" r="2.24"/><circle cx="364.9" cy="222.9" r="2.24"/><circle cx="356.5" cy="343.8" r="2.24"/><circle cx="529.6" cy="150.4" r="2.24"/><circle cx="310.7" cy="350.0" r="2.24"/><circle cx="380.5" cy="356.2" r="2.24"/><circle cx="229.1" cy="242.3" r="2.24"/><circle cx="414.7" cy="280.7" r="2.24"/><circle cx="177.0" cy="183.3" r="2.24"/><circle cx="401.3" cy="372.6" r="2.24"/><circle cx="289.3" cy="255.8" r="2.24"/><circle cx="468.3" cy="282.2" r="2.24"/><circle cx="308.4" cy="234.1" r="2.24"/><circle cx="396.2" cy="318.1" r="2.24"/><circle cx="395.9" cy="349.0" r="2.24"/><circle cx="292.4" cy="285.4" r="2.24"/><circle cx="348.0" cy="264.6" r="2.24"/><circle cx="400.5" cy="431.5" r="2.24"/><circle cx="266.0" cy="248.7" r="2.24"/><circle cx="312.6" cy="170.6" r="2.24"/><circle cx="348.5" cy="221.6" r="2.24"/><circle cx="458.1" cy="155.6" r="2.24"/><circle cx="397.7" cy="399.4" r="2.24"/><circle cx="355.4" cy="215.7" r="2.24"/><circle cx="153.6" cy="227.4" r="2.24"/><circle cx="186.1" cy="261.8" r="2.24"/><circle cx="295.6" cy="322.6" r="2.24"/><circle cx="339.4" cy="204.5" r="2.24"/><circle cx="282.2" cy="322.8" r="2.24"/><circle cx="415.9" cy="400.4" r="2.24"/><circle cx="446.3" cy="251.1" r="2.24"/><circle cx="339.8" cy="342.7" r="2.24"/><circle cx="375.0" cy="250.0" r="2.24"/><circle cx="323.9" cy="298.8" r="2.24"/><circle cx="500.2" cy="274.7" r="2.24"/><circle cx="235.5" cy="274.9" r="2.24"/><circle cx="475.9" cy="343.2" r="2.24"/><circle cx="389.9" cy="219.4" r="2.24"/><circle cx="152.1" cy="193.8" r="2.24"/><circle cx="439.3" cy="356.3" r="2.24"/><circle cx="326.3" cy="294.9" r="2.24"/><circle cx="348.0" cy="359.2" r="2.24"/><circle cx="287.1" cy="248.0" r="2.24"/><circle cx="322.0" cy="273.5" r="2.24"/><circle cx="299.9" cy="307.6" r="2.24"/><circle cx="371.2" cy="346.2" r="2.24"/><circle cx="329.5" cy="332.9" r="2.24"/><circle cx="410.7" cy="264.4" r="2.24"/><circle cx="439.0" cy="196.5" r="2.24"/><circle cx="395.8" cy="239.9" r="2.24"/><circle cx="321.5" cy="239.6" r="2.24"/><circle cx="379.6" cy="207.6" r="2.24"/><circle cx="283.4" cy="320.0" r="2.24"/><circle cx="293.3" cy="314.7" r="2.24"/><circle cx="386.5" cy="398.5" r="2.24"/><circle cx="336.4" cy="244.3" r="2.24"/><circle cx="311.5" cy="285.8" r="2.24"/><circle cx="457.3" cy="375.3" r="2.24"/><circle cx="373.8" cy="304.4" r="2.24"/><circle cx="320.5" cy="267.4" r="2.24"/><circle cx="441.7" cy="240.4" r="2.24"/><circle cx="275.2" cy="242.4" r="2.24"/><circle cx="421.5" cy="421.9" r="2.24"/><circle cx="175.7" cy="209.4" r="2.24"/><circle cx="365.8" cy="241.7" r="2.24"/><circle cx="402.7" cy="341.6" r="2.24"/><circle cx="294.8" cy="236.4" r="2.24"/><circle cx="334.0" cy="325.4" r="2.24"/><circle cx="335.2" cy="316.7" r="2.24"/><circle cx="373.8" cy="360.4" r="2.24"/><circle cx="255.0" cy="262.3" r="2.24"/><circle cx="452.0" cy="175.2" r="2.24"/><circle cx="335.4" cy="316.2" r="2.24"/><circle cx="386.6" cy="279.2" r="2.24"/><circle cx="344.5" cy="270.7" r="2.24"/><circle cx="275.3" cy="304.0" r="2.24"/><circle cx="285.5" cy="227.4" r="2.24"/><circle cx="334.2" cy="196.4" r="2.24"/><circle cx="275.9" cy="283.9" r="2.24"/><circle cx="366.9" cy="367.3" r="2.24"/><circle cx="399.8" cy="293.4" r="2.24"/><circle cx="292.8" cy="265.1" r="2.24"/><circle cx="331.3" cy="284.9" r="2.24"/><circle cx="214.3" cy="215.3" r="2.24"/><circle cx="406.4" cy="296.2" r="2.24"/><circle cx="248.7" cy="303.2" r="2.24"/><circle cx="328.3" cy="312.1" r="2.24"/><circle cx="354.4" cy="312.6" r="2.24"/><circle cx="427.3" cy="250.3" r="2.24"/><circle cx="494.2" cy="150.3" r="2.24"/><circle cx="318.0" cy="277.3" r="2.24"/><circle cx="316.3" cy="372.0" r="2.24"/><circle cx="415.2" cy="412.5" r="2.24"/><circle cx="306.1" cy="230.1" r="2.24"/><circle cx="331.4" cy="173.3" r="2.24"/><circle cx="318.4" cy="266.1" r="2.24"/><circle cx="379.4" cy="345.9" r="2.24"/><circle cx="194.3" cy="264.0" r="2.24"/><circle cx="424.5" cy="184.9" r="2.24"/><circle cx="283.6" cy="311.9" r="2.24"/><circle cx="291.5" cy="283.0" r="2.24"/><circle cx="310.5" cy="228.9" r="2.24"/><circle cx="294.4" cy="227.0" r="2.24"/><circle cx="389.2" cy="235.4" r="2.24"/><circle cx="391.1" cy="193.8" r="2.24"/><circle cx="408.3" cy="296.1" r="2.24"/><circle cx="347.2" cy="364.8" r="2.24"/><circle cx="280.2" cy="338.0" r="2.24"/><circle cx="212.1" cy="178.4" r="2.24"/><circle cx="339.2" cy="280.8" r="2.24"/><circle cx="497.8" cy="186.0" r="2.24"/><circle cx="332.7" cy="371.5" r="2.24"/><circle cx="366.0" cy="311.0" r="2.24"/><circle cx="453.5" cy="238.4" r="2.24"/><circle cx="429.6" cy="247.6" r="2.24"/><circle cx="404.6" cy="231.5" r="2.24"/><circle cx="458.6" cy="177.4" r="2.24"/><circle cx="496.3" cy="289.2" r="2.24"/><circle cx="354.5" cy="327.6" r="2.24"/><circle cx="223.2" cy="186.7" r="2.24"/><circle cx="373.1" cy="336.9" r="2.24"/><circle cx="362.3" cy="287.2" r="2.24"/><circle cx="354.0" cy="291.3" r="2.24"/><circle cx="269.2" cy="310.6" r="2.24"/><circle cx="409.5" cy="326.3" r="2.24"/><circle cx="390.5" cy="320.3" r="2.24"/><circle cx="364.8" cy="207.4" r="2.24"/><circle cx="534.0" cy="205.8" r="2.24"/><circle cx="231.5" cy="196.4" r="2.24"/><circle cx="305.6" cy="313.9" r="2.24"/><circle cx="353.4" cy="391.2" r="2.24"/><circle cx="352.6" cy="267.3" r="2.24"/><circle cx="371.1" cy="377.3" r="2.24"/><circle cx="224.7" cy="251.2" r="2.24"/><circle cx="385.4" cy="370.3" r="2.24"/><circle cx="413.9" cy="154.0" r="2.24"/><circle cx="287.8" cy="357.3" r="2.24"/><circle cx="486.0" cy="234.6" r="2.24"/><circle cx="379.6" cy="163.8" r="2.24"/><circle cx="472.0" cy="302.1" r="2.24"/><circle cx="399.9" cy="315.6" r="2.24"/><circle cx="501.6" cy="268.5" r="2.24"/><circle cx="184.6" cy="202.9" r="2.24"/><circle cx="310.7" cy="377.9" r="2.24"/><circle cx="329.8" cy="169.4" r="2.24"/><circle cx="420.8" cy="205.8" r="2.24"/><circle cx="317.9" cy="239.1" r="2.24"/><circle cx="341.7" cy="370.0" r="2.24"/><circle cx="366.8" cy="310.4" r="2.24"/><circle cx="305.2" cy="235.9" r="2.24"/><circle cx="190.0" cy="221.8" r="2.24"/><circle cx="370.8" cy="209.8" r="2.24"/><circle cx="344.4" cy="201.6" r="2.24"/><circle cx="308.3" cy="314.6" r="2.24"/><circle cx="252.5" cy="262.4" r="2.24"/><circle cx="248.5" cy="246.6" r="2.24"/><circle cx="247.0" cy="224.6" r="2.24"/><circle cx="396.9" cy="290.6" r="2.24"/><circle cx="350.0" cy="287.4" r="2.24"/><circle cx="447.7" cy="199.0" r="2.24"/><circle cx="513.8" cy="167.2" r="2.24"/><circle cx="426.8" cy="396.2" r="2.24"/><circle cx="378.3" cy="292.4" r="2.24"/><circle cx="259.7" cy="284.4" r="2.24"/><circle cx="391.9" cy="425.5" r="2.24"/><circle cx="336.3" cy="311.9" r="2.24"/><circle cx="408.8" cy="376.5" r="2.24"/><circle cx="298.1" cy="167.3" r="2.24"/><circle cx="387.3" cy="212.1" r="2.24"/><circle cx="231.6" cy="229.9" r="2.24"/><circle cx="351.3" cy="333.9" r="2.24"/><circle cx="352.9" cy="218.2" r="2.24"/><circle cx="311.5" cy="359.6" r="2.24"/><circle cx="429.5" cy="370.6" r="2.24"/><circle cx="225.3" cy="238.4" r="2.24"/><circle cx="361.0" cy="223.6" r="2.24"/><circle cx="385.7" cy="244.3" r="2.24"/><circle cx="207.5" cy="178.5" r="2.24"/><circle cx="388.5" cy="355.1" r="2.24"/><circle cx="265.7" cy="208.3" r="2.24"/><circle cx="474.7" cy="297.2" r="2.24"/><circle cx="258.9" cy="242.0" r="2.24"/><circle cx="426.3" cy="410.8" r="2.24"/><circle cx="224.3" cy="227.5" r="2.24"/><circle cx="228.4" cy="244.9" r="2.24"/><circle cx="225.4" cy="292.2" r="2.24"/><circle cx="300.7" cy="190.2" r="2.24"/><circle cx="450.1" cy="157.9" r="2.24"/><circle cx="428.1" cy="404.2" r="2.24"/><circle cx="273.4" cy="265.0" r="2.24"/><circle cx="392.4" cy="425.6" r="2.24"/><circle cx="285.2" cy="195.4" r="2.24"/><circle cx="383.5" cy="304.8" r="2.24"/><circle cx="296.7" cy="290.3" r="2.24"/><circle cx="473.1" cy="198.0" r="2.24"/><circle cx="334.8" cy="247.3" r="2.24"/><circle cx="417.6" cy="447.7" r="2.24"/><circle cx="340.3" cy="302.4" r="2.24"/><circle cx="308.7" cy="298.0" r="2.24"/><circle cx="339.5" cy="300.3" r="2.24"/><circle cx="409.5" cy="331.2" r="2.24"/><circle cx="325.0" cy="256.6" r="2.24"/><circle cx="484.7" cy="205.3" r="2.24"/><circle cx="429.2" cy="232.8" r="2.24"/><circle cx="161.8" cy="175.8" r="2.24"/><circle cx="150.7" cy="185.4" r="2.24"/><circle cx="394.9" cy="333.9" r="2.24"/><circle cx="302.0" cy="296.8" r="2.24"/><circle cx="425.5" cy="261.6" r="2.24"/><circle cx="375.0" cy="348.1" r="2.24"/><circle cx="272.8" cy="224.5" r="2.24"/><circle cx="312.9" cy="271.5" r="2.24"/><circle cx="422.4" cy="404.6" r="2.24"/><circle cx="273.3" cy="330.1" r="2.24"/><circle cx="300.8" cy="341.9" r="2.24"/><circle cx="359.3" cy="235.4" r="2.24"/><circle cx="392.7" cy="224.3" r="2.24"/><circle cx="351.9" cy="359.8" r="2.24"/><circle cx="411.0" cy="228.7" r="2.24"/><circle cx="374.2" cy="307.0" r="2.24"/><circle cx="348.4" cy="268.3" r="2.24"/><circle cx="375.0" cy="278.4" r="2.24"/><circle cx="283.2" cy="302.9" r="2.24"/><circle cx="359.7" cy="327.2" r="2.24"/><circle cx="371.4" cy="203.1" r="2.24"/><circle cx="303.0" cy="292.3" r="2.24"/><circle cx="387.6" cy="383.3" r="2.24"/><circle cx="366.3" cy="283.4" r="2.24"/><circle cx="456.0" cy="316.3" r="2.24"/><circle cx="170.8" cy="219.7" r="2.24"/><circle cx="489.7" cy="148.9" r="2.24"/><circle cx="377.1" cy="287.3" r="2.24"/><circle cx="215.3" cy="252.2" r="2.24"/><circle cx="259.2" cy="210.0" r="2.24"/><circle cx="381.1" cy="271.0" r="2.24"/><circle cx="476.4" cy="299.3" r="2.24"/><circle cx="423.3" cy="262.5" r="2.24"/><circle cx="496.8" cy="260.2" r="2.24"/><circle cx="361.2" cy="411.3" r="2.24"/><circle cx="337.9" cy="339.1" r="2.24"/><circle cx="315.5" cy="282.8" r="2.24"/><circle cx="338.9" cy="384.5" r="2.24"/><circle cx="524.9" cy="198.4" r="2.24"/><circle cx="166.2" cy="191.8" r="2.24"/><circle cx="403.8" cy="280.4" r="2.24"/><circle cx="379.3" cy="325.9" r="2.24"/><circle cx="283.5" cy="305.3" r="2.24"/><circle cx="265.5" cy="260.8" r="2.24"/><circle cx="383.8" cy="155.5" r="2.24"/><circle cx="350.6" cy="396.6" r="2.24"/><circle cx="267.3" cy="231.1" r="2.24"/><circle cx="394.3" cy="332.3" r="2.24"/><circle cx="307.2" cy="328.6" r="2.24"/><circle cx="458.7" cy="339.6" r="2.24"/><circle cx="448.2" cy="157.3" r="2.24"/><circle cx="483.7" cy="201.4" r="2.24"/><circle cx="384.3" cy="346.8" r="2.24"/><circle cx="400.8" cy="339.6" r="2.24"/><circle cx="362.7" cy="308.3" r="2.24"/><circle cx="421.3" cy="363.9" r="2.24"/><circle cx="314.0" cy="359.7" r="2.24"/><circle cx="444.4" cy="202.6" r="2.24"/><circle cx="258.0" cy="313.4" r="2.24"/><circle cx="429.9" cy="154.3" r="2.24"/><circle cx="360.5" cy="335.7" r="2.24"/><circle cx="426.1" cy="409.1" r="2.24"/><circle cx="283.2" cy="279.7" r="2.24"/><circle cx="459.2" cy="225.5" r="2.24"/><circle cx="424.8" cy="242.7" r="2.24"/><circle cx="375.5" cy="210.6" r="2.24"/><circle cx="282.4" cy="283.3" r="2.24"/><circle cx="328.8" cy="288.3" r="2.24"/><circle cx="419.3" cy="416.1" r="2.24"/><circle cx="267.8" cy="266.9" r="2.24"/><circle cx="260.2" cy="230.2" r="2.24"/><circle cx="344.5" cy="396.9" r="2.24"/><circle cx="345.6" cy="359.3" r="2.24"/><circle cx="433.9" cy="278.3" r="2.24"/><circle cx="274.0" cy="322.8" r="2.24"/><circle cx="307.0" cy="272.9" r="2.24"/><circle cx="507.8" cy="245.4" r="2.24"/><circle cx="413.9" cy="310.1" r="2.24"/><circle cx="147.7" cy="210.8" r="2.24"/><circle cx="429.7" cy="404.5" r="2.24"/><circle cx="311.7" cy="184.6" r="2.24"/><circle cx="366.8" cy="293.8" r="2.24"/><circle cx="525.2" cy="229.9" r="2.24"/><circle cx="375.9" cy="304.1" r="2.24"/><circle cx="401.0" cy="297.2" r="2.24"/><circle cx="372.2" cy="337.9" r="2.24"/><circle cx="322.8" cy="197.6" r="2.24"/><circle cx="306.1" cy="206.0" r="2.24"/><circle cx="339.2" cy="281.7" r="2.24"/><circle cx="340.7" cy="315.1" r="2.24"/><circle cx="384.0" cy="220.0" r="2.24"/><circle cx="416.5" cy="236.0" r="2.24"/><circle cx="332.7" cy="271.3" r="2.24"/><circle cx="393.3" cy="355.8" r="2.24"/><circle cx="225.6" cy="211.0" r="2.24"/><circle cx="295.1" cy="304.1" r="2.24"/><circle cx="412.2" cy="159.5" r="2.24"/><circle cx="413.0" cy="447.0" r="2.24"/><circle cx="431.4" cy="414.3" r="2.24"/><circle cx="214.0" cy="267.1" r="2.24"/><circle cx="328.5" cy="297.4" r="2.24"/><circle cx="389.1" cy="393.1" r="2.24"/><circle cx="420.1" cy="356.8" r="2.24"/><circle cx="364.7" cy="328.0" r="2.24"/><circle cx="244.5" cy="301.0" r="2.24"/><circle cx="416.0" cy="159.9" r="2.24"/><circle cx="485.1" cy="208.2" r="2.24"/><circle cx="358.0" cy="211.3" r="2.24"/><circle cx="351.0" cy="374.6" r="2.24"/><circle cx="422.0" cy="253.9" r="2.24"/><circle cx="371.6" cy="392.8" r="2.24"/><circle cx="442.4" cy="401.0" r="2.24"/><circle cx="314.7" cy="383.7" r="2.24"/><circle cx="316.6" cy="289.7" r="2.24"/><circle cx="308.0" cy="286.1" r="2.24"/><circle cx="394.3" cy="348.1" r="2.24"/><circle cx="501.8" cy="250.5" r="2.24"/><circle cx="451.7" cy="201.4" r="2.24"/><circle cx="233.8" cy="205.4" r="2.24"/><circle cx="448.2" cy="333.5" r="2.24"/><circle cx="402.5" cy="337.2" r="2.24"/><circle cx="357.7" cy="192.8" r="2.24"/><circle cx="309.7" cy="277.6" r="2.24"/><circle cx="442.8" cy="305.6" r="2.24"/><circle cx="428.5" cy="247.9" r="2.24"/><circle cx="445.9" cy="151.1" r="2.24"/><circle cx="363.4" cy="254.0" r="2.24"/><circle cx="280.5" cy="295.4" r="2.24"/><circle cx="331.1" cy="360.4" r="2.24"/><circle cx="323.4" cy="346.8" r="2.24"/><circle cx="354.0" cy="242.0" r="2.24"/><circle cx="281.2" cy="223.0" r="2.24"/><circle cx="296.9" cy="268.9" r="2.24"/><circle cx="296.7" cy="165.3" r="2.24"/><circle cx="478.9" cy="290.8" r="2.24"/><circle cx="428.5" cy="293.5" r="2.24"/><circle cx="448.6" cy="199.5" r="2.24"/><circle cx="329.8" cy="254.6" r="2.24"/><circle cx="319.4" cy="282.8" r="2.24"/><circle cx="400.4" cy="310.4" r="2.24"/><circle cx="401.8" cy="277.9" r="2.24"/><circle cx="282.3" cy="349.4" r="2.24"/><circle cx="347.0" cy="309.2" r="2.24"/><circle cx="242.1" cy="271.7" r="2.24"/><circle cx="390.0" cy="197.0" r="2.24"/><circle cx="278.3" cy="353.8" r="2.24"/><circle cx="311.0" cy="304.4" r="2.24"/><circle cx="349.4" cy="313.5" r="2.24"/><circle cx="367.2" cy="396.6" r="2.24"/><circle cx="346.4" cy="284.6" r="2.24"/><circle cx="258.9" cy="271.7" r="2.24"/><circle cx="427.1" cy="214.6" r="2.24"/><circle cx="502.2" cy="138.1" r="2.24"/><circle cx="291.5" cy="329.5" r="2.24"/><circle cx="417.5" cy="246.4" r="2.24"/><circle cx="406.7" cy="368.2" r="2.24"/><circle cx="373.7" cy="335.9" r="2.24"/><circle cx="512.6" cy="187.9" r="2.24"/><circle cx="309.9" cy="350.8" r="2.24"/><circle cx="419.4" cy="253.7" r="2.24"/><circle cx="324.6" cy="257.8" r="2.24"/><circle cx="302.0" cy="232.2" r="2.24"/><circle cx="280.5" cy="249.8" r="2.24"/><circle cx="400.7" cy="217.0" r="2.24"/><circle cx="401.7" cy="428.2" r="2.24"/><circle cx="347.2" cy="395.7" r="2.24"/><circle cx="171.6" cy="216.6" r="2.24"/><circle cx="333.1" cy="191.4" r="2.24"/><circle cx="325.4" cy="324.2" r="2.24"/><circle cx="219.5" cy="270.4" r="2.24"/><circle cx="205.0" cy="275.5" r="2.24"/><circle cx="275.4" cy="252.5" r="2.24"/><circle cx="427.9" cy="223.4" r="2.24"/><circle cx="303.9" cy="339.6" r="2.24"/><circle cx="394.0" cy="404.6" r="2.24"/><circle cx="392.9" cy="337.5" r="2.24"/><circle cx="446.0" cy="359.8" r="2.24"/><circle cx="314.7" cy="352.6" r="2.24"/><circle cx="460.9" cy="257.6" r="2.24"/><circle cx="380.2" cy="370.8" r="2.24"/><circle cx="359.9" cy="208.6" r="2.24"/><circle cx="274.3" cy="234.7" r="2.24"/><circle cx="305.8" cy="276.7" r="2.24"/><circle cx="147.5" cy="188.0" r="2.24"/><circle cx="476.8" cy="233.5" r="2.24"/><circle cx="286.6" cy="208.6" r="2.24"/><circle cx="427.7" cy="243.1" r="2.24"/><circle cx="364.8" cy="158.3" r="2.24"/><circle cx="366.6" cy="230.2" r="2.24"/><circle cx="400.0" cy="356.9" r="2.24"/><circle cx="215.1" cy="272.4" r="2.24"/><circle cx="401.1" cy="275.3" r="2.24"/><circle cx="307.4" cy="256.1" r="2.24"/><circle cx="344.7" cy="279.7" r="2.24"/><circle cx="273.5" cy="197.6" r="2.24"/><circle cx="287.3" cy="235.8" r="2.24"/><circle cx="429.9" cy="264.1" r="2.24"/><circle cx="408.3" cy="331.7" r="2.24"/><circle cx="370.9" cy="390.3" r="2.24"/><circle cx="359.9" cy="245.6" r="2.24"/><circle cx="329.1" cy="344.0" r="2.24"/><circle cx="488.2" cy="280.5" r="2.24"/><circle cx="371.5" cy="272.7" r="2.24"/><circle cx="456.7" cy="318.2" r="2.24"/><circle cx="388.0" cy="382.2" r="2.24"/><circle cx="537.5" cy="193.7" r="2.24"/><circle cx="410.3" cy="278.5" r="2.24"/><circle cx="438.6" cy="329.1" r="2.24"/><circle cx="412.4" cy="345.9" r="2.24"/><circle cx="334.2" cy="268.8" r="2.24"/><circle cx="382.9" cy="405.7" r="2.24"/><circle cx="408.9" cy="428.7" r="2.24"/><circle cx="268.1" cy="244.9" r="2.24"/><circle cx="296.9" cy="240.6" r="2.24"/><circle cx="225.0" cy="201.7" r="2.24"/><circle cx="291.5" cy="212.5" r="2.24"/><circle cx="224.0" cy="189.8" r="2.24"/><circle cx="460.9" cy="159.1" r="2.24"/><circle cx="335.3" cy="224.9" r="2.24"/><circle cx="386.0" cy="400.0" r="2.24"/><circle cx="213.3" cy="287.6" r="2.24"/><circle cx="317.4" cy="228.1" r="2.24"/><circle cx="355.2" cy="161.0" r="2.24"/><circle cx="464.2" cy="182.2" r="2.24"/><circle cx="476.3" cy="234.6" r="2.24"/><circle cx="303.4" cy="252.7" r="2.24"/><circle cx="244.0" cy="263.7" r="2.24"/><circle cx="381.6" cy="217.9" r="2.24"/><circle cx="432.6" cy="332.3" r="2.24"/><circle cx="379.4" cy="404.0" r="2.24"/><circle cx="331.7" cy="300.8" r="2.24"/><circle cx="216.7" cy="212.8" r="2.24"/><circle cx="427.2" cy="264.4" r="2.24"/><circle cx="351.7" cy="231.0" r="2.24"/><circle cx="247.6" cy="300.7" r="2.24"/><circle cx="341.4" cy="261.7" r="2.24"/><circle cx="410.6" cy="240.0" r="2.24"/><circle cx="423.0" cy="416.4" r="2.24"/><circle cx="380.4" cy="282.8" r="2.24"/><circle cx="462.7" cy="216.5" r="2.24"/><circle cx="350.5" cy="344.7" r="2.24"/><circle cx="250.7" cy="289.4" r="2.24"/><circle cx="376.9" cy="234.8" r="2.24"/><circle cx="450.9" cy="295.6" r="2.24"/><circle cx="521.1" cy="227.2" r="2.24"/><circle cx="369.4" cy="373.1" r="2.24"/><circle cx="363.4" cy="285.9" r="2.24"/><circle cx="305.0" cy="196.7" r="2.24"/><circle cx="222.9" cy="194.3" r="2.24"/><circle cx="443.3" cy="441.2" r="2.24"/><circle cx="417.2" cy="424.9" r="2.24"/><circle cx="383.3" cy="378.0" r="2.24"/><circle cx="268.4" cy="231.2" r="2.24"/><circle cx="469.3" cy="209.3" r="2.24"/><circle cx="333.7" cy="237.8" r="2.24"/><circle cx="413.5" cy="384.3" r="2.24"/><circle cx="248.9" cy="278.4" r="2.24"/><circle cx="303.7" cy="319.5" r="2.24"/><circle cx="390.0" cy="270.9" r="2.24"/><circle cx="325.9" cy="364.6" r="2.24"/><circle cx="468.7" cy="281.9" r="2.24"/><circle cx="316.1" cy="283.1" r="2.24"/><circle cx="515.5" cy="214.0" r="2.24"/><circle cx="389.7" cy="410.1" r="2.24"/><circle cx="264.9" cy="331.6" r="2.24"/><circle cx="304.9" cy="257.2" r="2.24"/><circle cx="175.9" cy="230.5" r="2.24"/><circle cx="399.6" cy="412.2" r="2.24"/><circle cx="249.4" cy="219.5" r="2.24"/><circle cx="393.0" cy="304.2" r="2.24"/><circle cx="352.9" cy="220.7" r="2.24"/><circle cx="384.8" cy="336.9" r="2.24"/><circle cx="286.3" cy="181.5" r="2.24"/><circle cx="282.6" cy="276.8" r="2.24"/><circle cx="373.6" cy="192.3" r="2.24"/><circle cx="465.6" cy="158.6" r="2.24"/><circle cx="285.5" cy="217.5" r="2.24"/><circle cx="326.5" cy="297.8" r="2.24"/><circle cx="250.2" cy="176.6" r="2.24"/><circle cx="300.4" cy="329.3" r="2.24"/><circle cx="209.1" cy="171.5" r="2.24"/><circle cx="363.1" cy="325.4" r="2.24"/><circle cx="487.2" cy="215.4" r="2.24"/><circle cx="435.8" cy="306.5" r="2.24"/><circle cx="488.5" cy="192.3" r="2.24"/><circle cx="471.8" cy="191.6" r="2.24"/><circle cx="217.6" cy="240.4" r="2.24"/><circle cx="367.9" cy="216.2" r="2.24"/><circle cx="524.0" cy="150.8" r="2.24"/><circle cx="266.4" cy="247.2" r="2.24"/><circle cx="437.6" cy="268.1" r="2.24"/><circle cx="327.2" cy="263.9" r="2.24"/><circle cx="292.2" cy="325.2" r="2.24"/><circle cx="342.3" cy="368.8" r="2.24"/><circle cx="440.7" cy="287.8" r="2.24"/><circle cx="252.6" cy="290.2" r="2.24"/><circle cx="279.3" cy="183.8" r="2.24"/><circle cx="374.4" cy="331.5" r="2.24"/><circle cx="321.7" cy="302.9" r="2.24"/><circle cx="353.0" cy="315.5" r="2.24"/><circle cx="253.6" cy="310.8" r="2.24"/><circle cx="365.1" cy="399.5" r="2.24"/><circle cx="376.3" cy="321.1" r="2.24"/><circle cx="475.4" cy="349.6" r="2.24"/><circle cx="181.3" cy="241.9" r="2.24"/><circle cx="355.2" cy="337.2" r="2.24"/><circle cx="304.9" cy="248.2" r="2.24"/><circle cx="309.6" cy="336.2" r="2.24"/><circle cx="281.9" cy="259.3" r="2.24"/><circle cx="279.9" cy="323.8" r="2.24"/><circle cx="303.6" cy="177.0" r="2.24"/><circle cx="311.8" cy="362.9" r="2.24"/><circle cx="238.3" cy="223.4" r="2.24"/><circle cx="395.8" cy="156.5" r="2.24"/><circle cx="294.2" cy="256.6" r="2.24"/><circle cx="325.8" cy="250.3" r="2.24"/><circle cx="417.2" cy="312.2" r="2.24"/><circle cx="316.1" cy="271.4" r="2.24"/><circle cx="304.5" cy="350.8" r="2.24"/><circle cx="442.5" cy="245.7" r="2.24"/><circle cx="495.1" cy="258.0" r="2.24"/><circle cx="323.0" cy="319.0" r="2.24"/><circle cx="339.7" cy="265.4" r="2.24"/><circle cx="390.9" cy="265.0" r="2.24"/><circle cx="268.4" cy="213.0" r="2.24"/><circle cx="425.9" cy="251.5" r="2.24"/><circle cx="378.2" cy="303.3" r="2.24"/><circle cx="412.9" cy="282.5" r="2.24"/><circle cx="314.4" cy="337.1" r="2.24"/><circle cx="342.2" cy="307.6" r="2.24"/><circle cx="307.7" cy="229.3" r="2.24"/><circle cx="432.2" cy="225.3" r="2.24"/><circle cx="501.5" cy="219.3" r="2.24"/><circle cx="385.3" cy="218.9" r="2.24"/><circle cx="321.1" cy="343.8" r="2.24"/><circle cx="226.9" cy="184.3" r="2.24"/><circle cx="384.1" cy="388.6" r="2.24"/><circle cx="385.1" cy="180.5" r="2.24"/><circle cx="383.0" cy="409.6" r="2.24"/><circle cx="294.0" cy="261.0" r="2.24"/><circle cx="344.2" cy="283.7" r="2.24"/><circle cx="496.8" cy="237.8" r="2.24"/><circle cx="327.0" cy="159.8" r="2.24"/><circle cx="402.7" cy="314.0" r="2.24"/><circle cx="392.8" cy="306.5" r="2.24"/><circle cx="400.5" cy="357.6" r="2.24"/><circle cx="314.4" cy="353.8" r="2.24"/><circle cx="305.8" cy="330.0" r="2.24"/><circle cx="359.5" cy="255.2" r="2.24"/><circle cx="206.6" cy="208.1" r="2.24"/><circle cx="533.0" cy="179.1" r="2.24"/><circle cx="338.1" cy="220.8" r="2.24"/><circle cx="350.7" cy="364.0" r="2.24"/><circle cx="336.1" cy="313.0" r="2.24"/><circle cx="372.4" cy="175.1" r="2.24"/><circle cx="339.0" cy="284.6" r="2.24"/><circle cx="238.3" cy="222.0" r="2.24"/><circle cx="354.3" cy="254.7" r="2.24"/><circle cx="289.7" cy="265.9" r="2.24"/><circle cx="310.5" cy="224.4" r="2.24"/><circle cx="371.9" cy="240.9" r="2.24"/><circle cx="300.4" cy="175.4" r="2.24"/><circle cx="235.0" cy="257.2" r="2.24"/><circle cx="251.3" cy="318.7" r="2.24"/><circle cx="394.2" cy="202.0" r="2.24"/><circle cx="390.7" cy="233.4" r="2.24"/><circle cx="374.7" cy="263.4" r="2.24"/><circle cx="489.9" cy="230.1" r="2.24"/><circle cx="292.8" cy="216.4" r="2.24"/><circle cx="213.1" cy="171.9" r="2.24"/><circle cx="376.2" cy="226.2" r="2.24"/><circle cx="243.6" cy="260.2" r="2.24"/><circle cx="331.1" cy="240.9" r="2.24"/><circle cx="351.1" cy="377.1" r="2.24"/><circle cx="415.0" cy="326.4" r="2.24"/><circle cx="400.9" cy="227.6" r="2.24"/><circle cx="292.1" cy="193.0" r="2.24"/><circle cx="392.3" cy="429.0" r="2.24"/><circle cx="411.8" cy="401.8" r="2.24"/><circle cx="352.3" cy="364.7" r="2.24"/><circle cx="231.5" cy="210.8" r="2.24"/><circle cx="342.7" cy="321.8" r="2.24"/><circle cx="342.7" cy="325.0" r="2.24"/><circle cx="403.9" cy="194.0" r="2.24"/><circle cx="486.9" cy="270.7" r="2.24"/><circle cx="472.2" cy="174.8" r="2.24"/><circle cx="335.1" cy="275.4" r="2.24"/><circle cx="271.1" cy="280.7" r="2.24"/><circle cx="264.7" cy="262.8" r="2.24"/><circle cx="355.0" cy="399.2" r="2.24"/><circle cx="347.8" cy="280.7" r="2.24"/><circle cx="418.8" cy="295.6" r="2.24"/><circle cx="319.3" cy="260.6" r="2.24"/><circle cx="298.3" cy="300.9" r="2.24"/><circle cx="280.5" cy="333.2" r="2.24"/><circle cx="328.4" cy="314.5" r="2.24"/><circle cx="303.4" cy="298.2" r="2.24"/><circle cx="361.7" cy="367.8" r="2.24"/><circle cx="336.4" cy="326.4" r="2.24"/><circle cx="393.0" cy="383.6" r="2.24"/><circle cx="141.1" cy="190.0" r="2.24"/><circle cx="213.2" cy="180.6" r="2.24"/><circle cx="231.7" cy="311.3" r="2.24"/><circle cx="241.4" cy="316.9" r="2.24"/><circle cx="292.2" cy="317.2" r="2.24"/><circle cx="309.8" cy="302.9" r="2.24"/><circle cx="521.1" cy="157.7" r="2.24"/><circle cx="312.5" cy="256.0" r="2.24"/><circle cx="302.5" cy="227.0" r="2.24"/><circle cx="259.7" cy="262.1" r="2.24"/><circle cx="309.5" cy="185.0" r="2.24"/><circle cx="449.8" cy="315.3" r="2.24"/><circle cx="155.4" cy="177.8" r="2.24"/><circle cx="318.3" cy="266.3" r="2.24"/><circle cx="301.5" cy="308.3" r="2.24"/><circle cx="455.7" cy="300.3" r="2.24"/><circle cx="475.2" cy="309.9" r="2.24"/><circle cx="421.5" cy="360.3" r="2.24"/><circle cx="387.6" cy="252.2" r="2.24"/><circle cx="271.4" cy="336.7" r="2.24"/><circle cx="373.4" cy="351.9" r="2.24"/><circle cx="253.6" cy="187.2" r="2.24"/><circle cx="189.8" cy="248.6" r="2.24"/><circle cx="207.4" cy="220.8" r="2.24"/><circle cx="340.6" cy="349.9" r="2.24"/><circle cx="379.6" cy="306.1" r="2.24"/><circle cx="533.0" cy="200.9" r="2.24"/><circle cx="355.4" cy="256.8" r="2.24"/><circle cx="433.5" cy="210.4" r="2.24"/><circle cx="381.5" cy="303.9" r="2.24"/><circle cx="400.7" cy="355.9" r="2.24"/><circle cx="398.1" cy="388.5" r="2.24"/><circle cx="392.3" cy="396.8" r="2.24"/><circle cx="326.9" cy="313.3" r="2.24"/><circle cx="380.2" cy="296.4" r="2.24"/><circle cx="411.6" cy="226.1" r="2.24"/><circle cx="332.1" cy="318.4" r="2.24"/><circle cx="280.2" cy="306.2" r="2.24"/><circle cx="420.3" cy="440.8" r="2.24"/><circle cx="309.0" cy="262.0" r="2.24"/><circle cx="413.4" cy="203.4" r="2.24"/><circle cx="349.2" cy="264.6" r="2.24"/><circle cx="242.0" cy="295.2" r="2.24"/><circle cx="400.5" cy="198.4" r="2.24"/><circle cx="405.3" cy="239.3" r="2.24"/><circle cx="268.4" cy="289.4" r="2.24"/><circle cx="412.2" cy="169.3" r="2.24"/><circle cx="254.0" cy="313.7" r="2.24"/><circle cx="232.1" cy="292.8" r="2.24"/><circle cx="193.9" cy="266.9" r="2.24"/><circle cx="303.1" cy="274.6" r="2.24"/><circle cx="292.8" cy="187.7" r="2.24"/><circle cx="343.4" cy="249.5" r="2.24"/><circle cx="295.9" cy="344.3" r="2.24"/><circle cx="358.9" cy="331.3" r="2.24"/><circle cx="347.8" cy="351.7" r="2.24"/><circle cx="305.6" cy="297.3" r="2.24"/><circle cx="326.9" cy="272.6" r="2.24"/><circle cx="442.8" cy="259.5" r="2.24"/><circle cx="403.7" cy="251.5" r="2.24"/><circle cx="272.2" cy="256.6" r="2.24"/><circle cx="240.8" cy="249.6" r="2.24"/><circle cx="281.9" cy="291.0" r="2.24"/><circle cx="448.0" cy="273.6" r="2.24"/><circle cx="258.6" cy="264.6" r="2.24"/><circle cx="406.5" cy="354.7" r="2.24"/><circle cx="385.5" cy="229.9" r="2.24"/><circle cx="252.3" cy="316.0" r="2.24"/><circle cx="315.8" cy="291.9" r="2.24"/><circle cx="269.2" cy="199.3" r="2.24"/><circle cx="332.9" cy="182.8" r="2.24"/><circle cx="374.4" cy="312.7" r="2.24"/><circle cx="233.3" cy="283.3" r="2.24"/><circle cx="395.3" cy="380.8" r="2.24"/><circle cx="354.1" cy="337.1" r="2.24"/><circle cx="294.9" cy="330.8" r="2.24"/><circle cx="445.5" cy="221.9" r="2.24"/><circle cx="277.4" cy="264.8" r="2.24"/><circle cx="506.9" cy="243.6" r="2.24"/><circle cx="461.9" cy="379.3" r="2.24"/><circle cx="252.6" cy="273.6" r="2.24"/><circle cx="339.4" cy="259.6" r="2.24"/><circle cx="301.0" cy="251.5" r="2.24"/><circle cx="439.4" cy="197.2" r="2.24"/><circle cx="355.9" cy="318.3" r="2.24"/><circle cx="344.8" cy="341.0" r="2.24"/><circle cx="362.5" cy="365.7" r="2.24"/><circle cx="426.6" cy="393.3" r="2.24"/><circle cx="364.1" cy="176.7" r="2.24"/><circle cx="407.1" cy="257.7" r="2.24"/><circle cx="386.0" cy="294.4" r="2.24"/><circle cx="378.4" cy="276.5" r="2.24"/><circle cx="385.6" cy="322.5" r="2.24"/><circle cx="330.1" cy="244.6" r="2.24"/><circle cx="355.3" cy="285.6" r="2.24"/><circle cx="395.1" cy="248.5" r="2.24"/><circle cx="417.9" cy="228.8" r="2.24"/><circle cx="276.8" cy="322.3" r="2.24"/><circle cx="463.6" cy="266.2" r="2.24"/><circle cx="439.8" cy="155.9" r="2.24"/><circle cx="309.2" cy="350.6" r="2.24"/><circle cx="452.2" cy="337.5" r="2.24"/><circle cx="319.0" cy="241.8" r="2.24"/><circle cx="172.5" cy="207.7" r="2.24"/><circle cx="209.5" cy="289.9" r="2.24"/><circle cx="512.3" cy="260.1" r="2.24"/><circle cx="290.2" cy="324.0" r="2.24"/><circle cx="399.5" cy="391.8" r="2.24"/><circle cx="284.8" cy="343.4" r="2.24"/><circle cx="300.0" cy="225.4" r="2.24"/><circle cx="434.6" cy="287.7" r="2.24"/><circle cx="225.3" cy="295.4" r="2.24"/><circle cx="265.1" cy="276.9" r="2.24"/><circle cx="177.3" cy="174.2" r="2.24"/><circle cx="329.5" cy="387.4" r="2.24"/><circle cx="425.1" cy="346.2" r="2.24"/><circle cx="427.6" cy="440.9" r="2.24"/><circle cx="376.4" cy="186.0" r="2.24"/><circle cx="404.1" cy="440.4" r="2.24"/><circle cx="365.6" cy="305.9" r="2.24"/><circle cx="472.1" cy="337.7" r="2.24"/><circle cx="247.1" cy="221.2" r="2.24"/><circle cx="439.0" cy="200.4" r="2.24"/><circle cx="238.8" cy="247.4" r="2.24"/><circle cx="300.9" cy="320.2" r="2.24"/><circle cx="303.0" cy="257.8" r="2.24"/><circle cx="369.6" cy="376.9" r="2.24"/><circle cx="417.5" cy="345.7" r="2.24"/><circle cx="365.8" cy="240.3" r="2.24"/><circle cx="231.6" cy="306.7" r="2.24"/><circle cx="362.5" cy="209.3" r="2.24"/><circle cx="457.9" cy="228.0" r="2.24"/><circle cx="289.1" cy="353.0" r="2.24"/><circle cx="300.9" cy="210.3" r="2.24"/><circle cx="316.0" cy="275.8" r="2.24"/><circle cx="282.5" cy="306.2" r="2.24"/><circle cx="392.5" cy="338.0" r="2.24"/><circle cx="332.7" cy="257.3" r="2.24"/><circle cx="453.7" cy="259.9" r="2.24"/><circle cx="292.5" cy="299.7" r="2.24"/><circle cx="340.2" cy="339.3" r="2.24"/><circle cx="302.4" cy="263.7" r="2.24"/><circle cx="402.6" cy="390.6" r="2.24"/><circle cx="396.4" cy="288.4" r="2.24"/><circle cx="337.6" cy="251.2" r="2.24"/><circle cx="366.2" cy="270.5" r="2.24"/><circle cx="347.2" cy="340.2" r="2.24"/><circle cx="439.9" cy="388.3" r="2.24"/><circle cx="355.8" cy="228.6" r="2.24"/><circle cx="222.4" cy="177.3" r="2.24"/><circle cx="265.2" cy="262.9" r="2.24"/><circle cx="320.2" cy="350.8" r="2.24"/><circle cx="452.9" cy="349.2" r="2.24"/><circle cx="143.2" cy="198.1" r="2.24"/><circle cx="358.2" cy="355.3" r="2.24"/><circle cx="314.5" cy="236.3" r="2.24"/><circle cx="349.6" cy="197.6" r="2.24"/><circle cx="270.4" cy="189.1" r="2.24"/><circle cx="426.1" cy="299.2" r="2.24"/><circle cx="389.2" cy="205.3" r="2.24"/><circle cx="422.8" cy="293.2" r="2.24"/><circle cx="439.9" cy="421.3" r="2.24"/><circle cx="279.8" cy="298.0" r="2.24"/><circle cx="430.5" cy="230.0" r="2.24"/><circle cx="457.1" cy="183.0" r="2.24"/><circle cx="404.2" cy="179.3" r="2.24"/><circle cx="480.1" cy="189.5" r="2.24"/><circle cx="439.7" cy="410.1" r="2.24"/><circle cx="358.9" cy="156.7" r="2.24"/><circle cx="357.2" cy="396.7" r="2.24"/><circle cx="343.4" cy="281.8" r="2.24"/><circle cx="306.6" cy="291.7" r="2.24"/><circle cx="444.2" cy="440.7" r="2.24"/><circle cx="481.7" cy="289.0" r="2.24"/><circle cx="510.3" cy="226.1" r="2.24"/><circle cx="359.4" cy="337.9" r="2.24"/><circle cx="371.4" cy="231.8" r="2.24"/><circle cx="341.7" cy="346.7" r="2.24"/><circle cx="295.9" cy="290.8" r="2.24"/><circle cx="359.4" cy="319.5" r="2.24"/><circle cx="220.3" cy="240.1" r="2.24"/><circle cx="395.6" cy="354.5" r="2.24"/><circle cx="392.7" cy="356.8" r="2.24"/><circle cx="379.8" cy="362.5" r="2.24"/><circle cx="442.6" cy="310.8" r="2.24"/><circle cx="511.4" cy="200.0" r="2.24"/><circle cx="378.8" cy="208.3" r="2.24"/><circle cx="276.9" cy="272.2" r="2.24"/><circle cx="301.4" cy="337.4" r="2.24"/><circle cx="305.2" cy="288.7" r="2.24"/><circle cx="290.3" cy="278.7" r="2.24"/><circle cx="270.7" cy="269.6" r="2.24"/><circle cx="292.7" cy="251.8" r="2.24"/><circle cx="398.6" cy="285.0" r="2.24"/><circle cx="412.1" cy="346.9" r="2.24"/><circle cx="443.6" cy="297.8" r="2.24"/><circle cx="374.6" cy="212.9" r="2.24"/><circle cx="469.9" cy="154.1" r="2.24"/><circle cx="372.7" cy="360.3" r="2.24"/><circle cx="377.2" cy="314.9" r="2.24"/><circle cx="317.8" cy="247.4" r="2.24"/><circle cx="390.2" cy="307.2" r="2.24"/><circle cx="438.7" cy="255.0" r="2.24"/><circle cx="464.5" cy="323.2" r="2.24"/><circle cx="254.1" cy="312.5" r="2.24"/><circle cx="309.4" cy="264.5" r="2.24"/><circle cx="307.1" cy="359.0" r="2.24"/><circle cx="478.7" cy="173.8" r="2.24"/><circle cx="236.2" cy="283.8" r="2.24"/><circle cx="303.6" cy="322.5" r="2.24"/><circle cx="308.1" cy="302.0" r="2.24"/><circle cx="392.1" cy="186.0" r="2.24"/><circle cx="362.8" cy="397.0" r="2.24"/><circle cx="340.9" cy="343.3" r="2.24"/><circle cx="525.6" cy="228.4" r="2.24"/><circle cx="341.0" cy="314.8" r="2.24"/><circle cx="500.2" cy="191.1" r="2.24"/><circle cx="359.8" cy="355.1" r="2.24"/><circle cx="437.1" cy="319.4" r="2.24"/><circle cx="349.0" cy="403.0" r="2.24"/><circle cx="249.2" cy="325.4" r="2.24"/><circle cx="309.4" cy="311.0" r="2.24"/><circle cx="446.4" cy="189.6" r="2.24"/><circle cx="478.8" cy="304.8" r="2.24"/><circle cx="419.7" cy="265.1" r="2.24"/><circle cx="234.7" cy="210.7" r="2.24"/><circle cx="395.8" cy="426.5" r="2.24"/><circle cx="366.3" cy="308.8" r="2.24"/><circle cx="281.5" cy="281.5" r="2.24"/><circle cx="397.5" cy="359.6" r="2.24"/><circle cx="316.6" cy="204.1" r="2.24"/><circle cx="421.5" cy="314.3" r="2.24"/><circle cx="429.8" cy="392.6" r="2.24"/><circle cx="282.3" cy="283.9" r="2.24"/><circle cx="453.8" cy="319.4" r="2.24"/><circle cx="315.8" cy="369.2" r="2.24"/><circle cx="348.9" cy="376.6" r="2.24"/><circle cx="432.3" cy="312.1" r="2.24"/><circle cx="324.4" cy="269.7" r="2.24"/><circle cx="429.1" cy="266.6" r="2.24"/><circle cx="268.3" cy="219.1" r="2.24"/><circle cx="276.3" cy="282.9" r="2.24"/><circle cx="389.6" cy="366.6" r="2.24"/><circle cx="233.1" cy="307.3" r="2.24"/><circle cx="156.5" cy="214.6" r="2.24"/><circle cx="405.5" cy="401.8" r="2.24"/><circle cx="268.8" cy="215.5" r="2.24"/><circle cx="442.9" cy="253.4" r="2.24"/><circle cx="361.7" cy="396.1" r="2.24"/><circle cx="402.0" cy="373.9" r="2.24"/><circle cx="320.7" cy="318.3" r="2.24"/><circle cx="328.9" cy="333.7" r="2.24"/><circle cx="466.2" cy="237.6" r="2.24"/><circle cx="201.9" cy="275.2" r="2.24"/><circle cx="492.2" cy="318.8" r="2.24"/><circle cx="288.4" cy="330.2" r="2.24"/><circle cx="338.4" cy="341.9" r="2.24"/><circle cx="364.3" cy="341.2" r="2.24"/><circle cx="454.4" cy="403.0" r="2.24"/><circle cx="388.3" cy="368.1" r="2.24"/><circle cx="418.3" cy="373.5" r="2.24"/><circle cx="404.7" cy="394.4" r="2.24"/><circle cx="520.2" cy="145.9" r="2.24"/><circle cx="277.8" cy="286.5" r="2.24"/><circle cx="400.8" cy="250.2" r="2.24"/><circle cx="428.4" cy="267.8" r="2.24"/><circle cx="394.4" cy="377.5" r="2.24"/><circle cx="396.4" cy="389.7" r="2.24"/><circle cx="442.5" cy="287.2" r="2.24"/><circle cx="304.3" cy="221.5" r="2.24"/><circle cx="497.5" cy="265.3" r="2.24"/><circle cx="214.6" cy="283.4" r="2.24"/><circle cx="263.5" cy="339.4" r="2.24"/><circle cx="227.6" cy="298.5" r="2.24"/><circle cx="511.9" cy="235.0" r="2.24"/><circle cx="385.9" cy="371.9" r="2.24"/><circle cx="438.6" cy="320.4" r="2.24"/><circle cx="364.0" cy="295.7" r="2.24"/><circle cx="394.6" cy="298.1" r="2.24"/><circle cx="333.3" cy="298.1" r="2.24"/><circle cx="422.0" cy="377.4" r="2.24"/><circle cx="321.5" cy="211.9" r="2.24"/><circle cx="333.2" cy="203.4" r="2.24"/><circle cx="435.0" cy="206.5" r="2.24"/><circle cx="401.2" cy="190.6" r="2.24"/><circle cx="426.7" cy="297.2" r="2.24"/><circle cx="435.0" cy="349.9" r="2.24"/><circle cx="378.7" cy="325.8" r="2.24"/><circle cx="312.2" cy="265.1" r="2.24"/><circle cx="217.6" cy="243.5" r="2.24"/><circle cx="356.2" cy="299.3" r="2.24"/><circle cx="445.3" cy="402.5" r="2.24"/><circle cx="501.9" cy="213.2" r="2.24"/><circle cx="352.8" cy="286.2" r="2.24"/><circle cx="387.5" cy="300.2" r="2.24"/><circle cx="425.5" cy="190.4" r="2.24"/><circle cx="440.1" cy="280.3" r="2.24"/><circle cx="190.9" cy="246.0" r="2.24"/><circle cx="241.8" cy="175.5" r="2.24"/><circle cx="314.5" cy="261.2" r="2.24"/><circle cx="360.7" cy="289.3" r="2.24"/><circle cx="266.3" cy="271.9" r="2.24"/><circle cx="369.0" cy="348.0" r="2.24"/><circle cx="451.9" cy="376.8" r="2.24"/><circle cx="363.8" cy="175.1" r="2.24"/><circle cx="298.1" cy="276.2" r="2.24"/><circle cx="197.2" cy="222.2" r="2.24"/><circle cx="292.8" cy="204.2" r="2.24"/><circle cx="314.5" cy="221.4" r="2.24"/><circle cx="247.8" cy="274.0" r="2.24"/><circle cx="462.6" cy="321.0" r="2.24"/><circle cx="246.8" cy="261.7" r="2.24"/><circle cx="255.4" cy="295.2" r="2.24"/><circle cx="415.6" cy="421.3" r="2.24"/><circle cx="365.9" cy="386.3" r="2.24"/><circle cx="363.7" cy="279.1" r="2.24"/><circle cx="462.7" cy="262.9" r="2.24"/><circle cx="421.2" cy="220.4" r="2.24"/><circle cx="398.9" cy="293.9" r="2.24"/><circle cx="462.4" cy="330.7" r="2.24"/><circle cx="379.4" cy="385.3" r="2.24"/><circle cx="510.3" cy="151.1" r="2.24"/><circle cx="434.2" cy="360.6" r="2.24"/><circle cx="392.9" cy="355.3" r="2.24"/><circle cx="562.2" cy="142.8" r="2.24"/><circle cx="454.7" cy="221.4" r="2.24"/><circle cx="487.8" cy="178.3" r="2.24"/><circle cx="298.0" cy="326.9" r="2.24"/><circle cx="428.5" cy="402.5" r="2.24"/><circle cx="469.4" cy="346.6" r="2.24"/><circle cx="312.5" cy="257.4" r="2.24"/><circle cx="370.4" cy="317.2" r="2.24"/><circle cx="395.0" cy="271.9" r="2.24"/><circle cx="209.7" cy="249.3" r="2.24"/><circle cx="414.0" cy="311.2" r="2.24"/><circle cx="286.4" cy="166.4" r="2.24"/><circle cx="272.1" cy="326.0" r="2.24"/><circle cx="305.9" cy="249.4" r="2.24"/><circle cx="246.8" cy="179.8" r="2.24"/><circle cx="536.3" cy="156.2" r="2.24"/><circle cx="277.7" cy="305.2" r="2.24"/><circle cx="477.6" cy="246.3" r="2.24"/><circle cx="512.8" cy="230.0" r="2.24"/><circle cx="250.0" cy="236.5" r="2.24"/><circle cx="385.9" cy="336.3" r="2.24"/><circle cx="413.4" cy="310.3" r="2.24"/><circle cx="517.5" cy="208.4" r="2.24"/><circle cx="421.7" cy="204.1" r="2.24"/><circle cx="343.4" cy="392.6" r="2.24"/><circle cx="356.8" cy="369.9" r="2.24"/><circle cx="338.8" cy="298.4" r="2.24"/><circle cx="269.3" cy="249.0" r="2.24"/><circle cx="242.1" cy="246.3" r="2.24"/><circle cx="139.2" cy="196.4" r="2.24"/><circle cx="300.8" cy="318.2" r="2.24"/><circle cx="367.7" cy="296.4" r="2.24"/><circle cx="337.8" cy="158.8" r="2.24"/><circle cx="279.0" cy="219.6" r="2.24"/><circle cx="421.7" cy="380.3" r="2.24"/><circle cx="474.9" cy="316.1" r="2.24"/><circle cx="360.5" cy="204.7" r="2.24"/><circle cx="264.1" cy="310.8" r="2.24"/><circle cx="307.6" cy="297.0" r="2.24"/><circle cx="457.0" cy="290.8" r="2.24"/><circle cx="434.1" cy="397.9" r="2.24"/><circle cx="417.2" cy="313.4" r="2.24"/><circle cx="387.6" cy="188.0" r="2.24"/><circle cx="385.1" cy="237.4" r="2.24"/><circle cx="537.3" cy="173.9" r="2.24"/><circle cx="342.1" cy="340.9" r="2.24"/><circle cx="290.1" cy="261.7" r="2.24"/><circle cx="387.7" cy="304.2" r="2.24"/><circle cx="267.7" cy="295.6" r="2.24"/><circle cx="405.8" cy="316.1" r="2.24"/><circle cx="376.7" cy="206.0" r="2.24"/><circle cx="256.1" cy="302.8" r="2.24"/><circle cx="308.2" cy="294.8" r="2.24"/><circle cx="233.2" cy="219.4" r="2.24"/><circle cx="450.8" cy="284.8" r="2.24"/><circle cx="352.5" cy="249.2" r="2.24"/><circle cx="216.5" cy="217.0" r="2.24"/><circle cx="263.3" cy="305.2" r="2.24"/><circle cx="310.4" cy="346.6" r="2.24"/><circle cx="547.9" cy="181.5" r="2.24"/><circle cx="348.9" cy="210.7" r="2.24"/><circle cx="427.2" cy="161.4" r="2.24"/><circle cx="406.0" cy="357.3" r="2.24"/><circle cx="376.8" cy="286.8" r="2.24"/><circle cx="449.7" cy="382.2" r="2.24"/><circle cx="367.4" cy="366.5" r="2.24"/><circle cx="403.3" cy="329.6" r="2.24"/><circle cx="368.5" cy="222.2" r="2.24"/><circle cx="477.9" cy="272.1" r="2.24"/><circle cx="199.8" cy="242.8" r="2.24"/><circle cx="384.2" cy="356.6" r="2.24"/><circle cx="245.4" cy="253.5" r="2.24"/><circle cx="295.3" cy="250.6" r="2.24"/><circle cx="393.2" cy="364.3" r="2.24"/><circle cx="354.8" cy="299.9" r="2.24"/><circle cx="397.2" cy="372.9" r="2.24"/><circle cx="297.4" cy="314.3" r="2.24"/><circle cx="353.8" cy="184.1" r="2.24"/><circle cx="380.4" cy="284.2" r="2.24"/><circle cx="398.5" cy="390.4" r="2.24"/><circle cx="292.8" cy="345.5" r="2.24"/><circle cx="323.9" cy="342.0" r="2.24"/><circle cx="474.2" cy="281.8" r="2.24"/><circle cx="321.5" cy="350.1" r="2.24"/><circle cx="323.4" cy="340.7" r="2.24"/><circle cx="358.5" cy="281.8" r="2.24"/><circle cx="328.4" cy="237.4" r="2.24"/><circle cx="387.8" cy="205.8" r="2.24"/><circle cx="497.5" cy="294.1" r="2.24"/><circle cx="424.0" cy="442.0" r="2.24"/><circle cx="393.8" cy="157.6" r="2.24"/><circle cx="346.4" cy="297.8" r="2.24"/><circle cx="350.7" cy="238.9" r="2.24"/><circle cx="264.7" cy="284.8" r="2.24"/><circle cx="457.0" cy="187.9" r="2.24"/><circle cx="263.4" cy="284.5" r="2.24"/><circle cx="382.1" cy="234.5" r="2.24"/><circle cx="227.1" cy="266.7" r="2.24"/><circle cx="289.7" cy="209.8" r="2.24"/><circle cx="296.3" cy="199.3" r="2.24"/><circle cx="400.9" cy="260.3" r="2.24"/><circle cx="228.4" cy="284.1" r="2.24"/><circle cx="316.0" cy="338.9" r="2.24"/><circle cx="286.6" cy="272.6" r="2.24"/><circle cx="304.0" cy="242.3" r="2.24"/><circle cx="350.4" cy="332.2" r="2.24"/><circle cx="420.2" cy="238.8" r="2.24"/><circle cx="255.4" cy="297.5" r="2.24"/><circle cx="372.6" cy="243.4" r="2.24"/><circle cx="320.3" cy="285.1" r="2.24"/><circle cx="354.6" cy="313.0" r="2.24"/><circle cx="407.3" cy="216.5" r="2.24"/><circle cx="486.6" cy="239.3" r="2.24"/><circle cx="420.4" cy="431.6" r="2.24"/><circle cx="309.5" cy="214.0" r="2.24"/><circle cx="392.9" cy="386.9" r="2.24"/><circle cx="247.8" cy="212.8" r="2.24"/><circle cx="396.6" cy="314.3" r="2.24"/><circle cx="178.3" cy="180.6" r="2.24"/><circle cx="506.9" cy="204.2" r="2.24"/><circle cx="376.9" cy="206.5" r="2.24"/><circle cx="504.4" cy="171.1" r="2.24"/><circle cx="481.4" cy="311.6" r="2.24"/><circle cx="291.3" cy="265.8" r="2.24"/><circle cx="277.5" cy="190.0" r="2.24"/><circle cx="419.6" cy="455.6" r="2.24"/><circle cx="208.0" cy="222.0" r="2.24"/><circle cx="196.0" cy="193.7" r="2.24"/><circle cx="183.2" cy="228.9" r="2.24"/><circle cx="452.1" cy="189.5" r="2.24"/><circle cx="512.9" cy="180.2" r="2.24"/><circle cx="337.9" cy="311.3" r="2.24"/><circle cx="155.2" cy="177.5" r="2.24"/><circle cx="272.4" cy="303.6" r="2.24"/><circle cx="384.7" cy="357.9" r="2.24"/><circle cx="472.5" cy="256.3" r="2.24"/><circle cx="523.0" cy="143.1" r="2.24"/><circle cx="354.3" cy="161.5" r="2.24"/><circle cx="168.1" cy="201.3" r="2.24"/><circle cx="409.4" cy="329.6" r="2.24"/><circle cx="345.1" cy="251.7" r="2.24"/><circle cx="338.6" cy="243.4" r="2.24"/><circle cx="339.4" cy="245.9" r="2.24"/><circle cx="223.4" cy="225.6" r="2.24"/><circle cx="285.4" cy="339.0" r="2.24"/><circle cx="366.4" cy="215.9" r="2.24"/><circle cx="380.9" cy="364.1" r="2.24"/><circle cx="350.5" cy="182.9" r="2.24"/><circle cx="370.3" cy="331.0" r="2.24"/><circle cx="334.4" cy="239.4" r="2.24"/><circle cx="292.1" cy="278.2" r="2.24"/><circle cx="338.9" cy="190.3" r="2.24"/><circle cx="424.1" cy="353.6" r="2.24"/><circle cx="295.9" cy="300.0" r="2.24"/><circle cx="425.3" cy="440.1" r="2.24"/><circle cx="476.0" cy="347.6" r="2.24"/><circle cx="436.9" cy="175.0" r="2.24"/><circle cx="392.9" cy="308.7" r="2.24"/><circle cx="425.5" cy="296.1" r="2.24"/><circle cx="287.2" cy="195.9" r="2.24"/><circle cx="247.3" cy="203.5" r="2.24"/><circle cx="251.2" cy="290.0" r="2.24"/><circle cx="371.1" cy="272.1" r="2.24"/><circle cx="314.7" cy="309.2" r="2.24"/><circle cx="290.4" cy="286.1" r="2.24"/><circle cx="261.1" cy="212.6" r="2.24"/><circle cx="433.2" cy="439.2" r="2.24"/><circle cx="330.6" cy="289.3" r="2.24"/><circle cx="518.0" cy="155.6" r="2.24"/><circle cx="361.7" cy="359.4" r="2.24"/><circle cx="461.5" cy="352.5" r="2.24"/><circle cx="285.6" cy="293.9" r="2.24"/><circle cx="361.8" cy="201.1" r="2.24"/><circle cx="315.8" cy="302.3" r="2.24"/><circle cx="432.8" cy="333.8" r="2.24"/><circle cx="265.8" cy="265.2" r="2.24"/><circle cx="341.0" cy="269.1" r="2.24"/><circle cx="297.2" cy="192.1" r="2.24"/><circle cx="450.3" cy="402.3" r="2.24"/><circle cx="281.5" cy="256.1" r="2.24"/><circle cx="465.7" cy="241.5" r="2.24"/><circle cx="326.8" cy="364.9" r="2.24"/><circle cx="397.7" cy="344.7" r="2.24"/><circle cx="313.2" cy="367.5" r="2.24"/><circle cx="362.8" cy="299.3" r="2.24"/><circle cx="444.0" cy="351.2" r="2.24"/><circle cx="330.6" cy="373.3" r="2.24"/><circle cx="365.2" cy="281.9" r="2.24"/><circle cx="327.8" cy="388.5" r="2.24"/><circle cx="412.8" cy="162.9" r="2.24"/><circle cx="413.4" cy="337.2" r="2.24"/><circle cx="390.8" cy="325.2" r="2.24"/><circle cx="376.7" cy="362.4" r="2.24"/><circle cx="260.3" cy="251.8" r="2.24"/><circle cx="484.5" cy="244.9" r="2.24"/><circle cx="340.8" cy="358.0" r="2.24"/><circle cx="488.1" cy="317.5" r="2.24"/><circle cx="368.3" cy="380.5" r="2.24"/><circle cx="348.8" cy="163.8" r="2.24"/><circle cx="247.3" cy="249.6" r="2.24"/><circle cx="390.3" cy="365.3" r="2.24"/><circle cx="271.5" cy="252.6" r="2.24"/><circle cx="299.1" cy="354.0" r="2.24"/><circle cx="375.5" cy="226.8" r="2.24"/><circle cx="295.0" cy="296.4" r="2.24"/><circle cx="501.8" cy="269.6" r="2.24"/><circle cx="381.6" cy="400.9" r="2.24"/><circle cx="260.4" cy="202.7" r="2.24"/><circle cx="403.2" cy="344.9" r="2.24"/><circle cx="217.3" cy="198.3" r="2.24"/><circle cx="277.4" cy="178.1" r="2.24"/><circle cx="252.2" cy="290.3" r="2.24"/><circle cx="357.3" cy="289.9" r="2.24"/><circle cx="500.2" cy="223.0" r="2.24"/><circle cx="360.5" cy="201.5" r="2.24"/><circle cx="459.1" cy="337.7" r="2.24"/><circle cx="366.4" cy="266.0" r="2.24"/><circle cx="353.6" cy="213.0" r="2.24"/><circle cx="309.5" cy="292.1" r="2.24"/><circle cx="289.8" cy="296.1" r="2.24"/><circle cx="393.4" cy="165.5" r="2.24"/><circle cx="367.5" cy="299.6" r="2.24"/><circle cx="309.8" cy="224.7" r="2.24"/><circle cx="186.4" cy="255.7" r="2.24"/><circle cx="229.1" cy="249.6" r="2.24"/><circle cx="476.0" cy="254.0" r="2.24"/><circle cx="391.7" cy="368.4" r="2.24"/><circle cx="346.1" cy="397.7" r="2.24"/><circle cx="299.5" cy="211.1" r="2.24"/><circle cx="512.0" cy="260.0" r="2.24"/><circle cx="298.7" cy="190.3" r="2.24"/><circle cx="301.9" cy="195.1" r="2.24"/><circle cx="389.1" cy="337.4" r="2.24"/><circle cx="346.7" cy="318.4" r="2.24"/><circle cx="341.6" cy="376.7" r="2.24"/><circle cx="357.2" cy="304.9" r="2.24"/><circle cx="291.6" cy="167.1" r="2.24"/><circle cx="399.9" cy="332.1" r="2.24"/><circle cx="297.1" cy="165.7" r="2.24"/><circle cx="259.8" cy="297.3" r="2.24"/><circle cx="293.7" cy="321.9" r="2.24"/><circle cx="406.2" cy="370.7" r="2.24"/><circle cx="314.6" cy="203.9" r="2.24"/><circle cx="256.7" cy="172.0" r="2.24"/><circle cx="330.1" cy="178.9" r="2.24"/><circle cx="327.7" cy="207.3" r="2.24"/><circle cx="298.4" cy="282.3" r="2.24"/><circle cx="351.2" cy="292.6" r="2.24"/><circle cx="413.6" cy="263.5" r="2.24"/><circle cx="459.7" cy="168.9" r="2.24"/><circle cx="409.1" cy="385.4" r="2.24"/><circle cx="265.9" cy="312.3" r="2.24"/><circle cx="394.1" cy="269.2" r="2.24"/><circle cx="221.5" cy="173.0" r="2.24"/><circle cx="385.7" cy="382.8" r="2.24"/><circle cx="332.8" cy="330.4" r="2.24"/><circle cx="364.2" cy="402.9" r="2.24"/><circle cx="326.6" cy="265.4" r="2.24"/><circle cx="233.0" cy="174.4" r="2.24"/><circle cx="412.4" cy="403.2" r="2.24"/><circle cx="293.0" cy="288.8" r="2.24"/><circle cx="525.3" cy="212.4" r="2.24"/><circle cx="329.3" cy="251.5" r="2.24"/><circle cx="404.9" cy="329.6" r="2.24"/><circle cx="335.9" cy="248.2" r="2.24"/><circle cx="500.6" cy="264.7" r="2.24"/><circle cx="453.4" cy="201.0" r="2.24"/><circle cx="273.7" cy="255.4" r="2.24"/><circle cx="408.5" cy="346.8" r="2.24"/><circle cx="389.8" cy="228.2" r="2.24"/><circle cx="422.5" cy="197.2" r="2.24"/><circle cx="437.6" cy="272.2" r="2.24"/><circle cx="334.8" cy="333.0" r="2.24"/><circle cx="308.8" cy="350.3" r="2.24"/><circle cx="358.3" cy="263.3" r="2.24"/><circle cx="332.2" cy="351.1" r="2.24"/><circle cx="410.2" cy="390.4" r="2.24"/><circle cx="425.3" cy="414.9" r="2.24"/><circle cx="413.0" cy="205.0" r="2.24"/><circle cx="325.5" cy="320.1" r="2.24"/><circle cx="408.6" cy="202.0" r="2.24"/><circle cx="318.1" cy="232.5" r="2.24"/><circle cx="244.9" cy="328.5" r="2.24"/><circle cx="172.5" cy="231.2" r="2.24"/><circle cx="260.2" cy="331.6" r="2.24"/><circle cx="467.6" cy="240.6" r="2.24"/><circle cx="256.3" cy="279.0" r="2.24"/><circle cx="269.6" cy="337.3" r="2.24"/><circle cx="303.1" cy="266.7" r="2.24"/><circle cx="466.1" cy="255.7" r="2.24"/><circle cx="251.2" cy="209.5" r="2.24"/><circle cx="480.7" cy="258.9" r="2.24"/><circle cx="397.9" cy="323.0" r="2.24"/><circle cx="301.2" cy="322.1" r="2.24"/><circle cx="337.1" cy="260.4" r="2.24"/><circle cx="322.8" cy="304.2" r="2.24"/><circle cx="146.1" cy="195.9" r="2.24"/><circle cx="398.0" cy="396.2" r="2.24"/><circle cx="391.4" cy="233.2" r="2.24"/><circle cx="320.8" cy="285.6" r="2.24"/><circle cx="250.7" cy="225.3" r="2.24"/><circle cx="376.5" cy="401.5" r="2.24"/><circle cx="279.9" cy="219.6" r="2.24"/><circle cx="338.5" cy="207.6" r="2.24"/><circle cx="422.2" cy="416.8" r="2.24"/><circle cx="343.4" cy="248.0" r="2.24"/><circle cx="304.7" cy="316.5" r="2.24"/><circle cx="248.9" cy="238.6" r="2.24"/><circle cx="312.7" cy="249.1" r="2.24"/><circle cx="508.2" cy="225.8" r="2.24"/><circle cx="349.0" cy="341.0" r="2.24"/><circle cx="433.5" cy="150.9" r="2.24"/><circle cx="420.0" cy="161.5" r="2.24"/><circle cx="209.6" cy="244.8" r="2.24"/><circle cx="413.1" cy="429.5" r="2.24"/><circle cx="312.7" cy="261.4" r="2.24"/><circle cx="326.2" cy="203.0" r="2.24"/><circle cx="367.9" cy="230.8" r="2.24"/><circle cx="320.0" cy="293.0" r="2.24"/><circle cx="238.1" cy="287.2" r="2.24"/><circle cx="284.5" cy="195.4" r="2.24"/><circle cx="431.6" cy="212.8" r="2.24"/><circle cx="389.1" cy="332.7" r="2.24"/><circle cx="334.3" cy="319.9" r="2.24"/><circle cx="451.9" cy="177.8" r="2.24"/><circle cx="279.4" cy="207.6" r="2.24"/><circle cx="394.5" cy="316.8" r="2.24"/><circle cx="361.9" cy="351.9" r="2.24"/><circle cx="287.5" cy="296.5" r="2.24"/><circle cx="274.7" cy="192.2" r="2.24"/><circle cx="288.3" cy="305.2" r="2.24"/><circle cx="267.7" cy="321.7" r="2.24"/><circle cx="449.5" cy="197.5" r="2.24"/><circle cx="266.7" cy="289.3" r="2.24"/><circle cx="431.5" cy="203.3" r="2.24"/><circle cx="351.4" cy="290.9" r="2.24"/><circle cx="301.5" cy="304.1" r="2.24"/><circle cx="345.2" cy="233.2" r="2.24"/><circle cx="368.0" cy="332.9" r="2.24"/><circle cx="397.0" cy="191.7" r="2.24"/><circle cx="363.4" cy="256.6" r="2.24"/><circle cx="198.2" cy="282.3" r="2.24"/><circle cx="307.4" cy="204.6" r="2.24"/><circle cx="445.7" cy="245.5" r="2.24"/><circle cx="390.0" cy="315.2" r="2.24"/><circle cx="384.8" cy="400.8" r="2.24"/><circle cx="370.8" cy="156.3" r="2.24"/><circle cx="423.6" cy="196.6" r="2.24"/><circle cx="359.8" cy="235.9" r="2.24"/><circle cx="170.1" cy="227.0" r="2.24"/><circle cx="367.1" cy="312.1" r="2.24"/><circle cx="360.4" cy="256.8" r="2.24"/><circle cx="200.5" cy="196.8" r="2.24"/><circle cx="224.8" cy="205.2" r="2.24"/><circle cx="257.6" cy="266.2" r="2.24"/><circle cx="403.2" cy="218.6" r="2.24"/><circle cx="392.4" cy="409.1" r="2.24"/><circle cx="234.9" cy="199.6" r="2.24"/><circle cx="331.5" cy="382.8" r="2.24"/><circle cx="443.6" cy="251.0" r="2.24"/><circle cx="368.4" cy="389.4" r="2.24"/><circle cx="465.8" cy="262.6" r="2.24"/><circle cx="319.8" cy="356.6" r="2.24"/><circle cx="384.1" cy="355.3" r="2.24"/><circle cx="383.0" cy="246.7" r="2.24"/><circle cx="225.6" cy="210.5" r="2.24"/><circle cx="283.9" cy="243.3" r="2.24"/><circle cx="262.0" cy="329.8" r="2.24"/><circle cx="337.3" cy="288.5" r="2.24"/><circle cx="358.3" cy="301.5" r="2.24"/><circle cx="310.6" cy="280.9" r="2.24"/><circle cx="291.8" cy="209.5" r="2.24"/><circle cx="460.3" cy="265.4" r="2.24"/><circle cx="452.5" cy="165.4" r="2.24"/><circle cx="469.4" cy="252.9" r="2.24"/><circle cx="275.3" cy="304.2" r="2.24"/><circle cx="283.8" cy="224.9" r="2.24"/><circle cx="353.6" cy="397.1" r="2.24"/><circle cx="340.8" cy="318.1" r="2.24"/><circle cx="400.3" cy="215.2" r="2.24"/><circle cx="319.2" cy="327.8" r="2.24"/><circle cx="340.3" cy="226.8" r="2.24"/><circle cx="378.1" cy="340.7" r="2.24"/><circle cx="377.3" cy="309.4" r="2.24"/><circle cx="252.0" cy="275.3" r="2.24"/><circle cx="294.9" cy="312.9" r="2.24"/><circle cx="360.9" cy="282.3" r="2.24"/><circle cx="433.7" cy="415.5" r="2.24"/><circle cx="506.9" cy="221.7" r="2.24"/><circle cx="310.8" cy="271.5" r="2.24"/><circle cx="301.8" cy="207.6" r="2.24"/><circle cx="504.9" cy="258.3" r="2.24"/><circle cx="432.5" cy="263.2" r="2.24"/><circle cx="236.3" cy="209.9" r="2.24"/><circle cx="345.7" cy="228.9" r="2.24"/><circle cx="229.2" cy="256.8" r="2.24"/><circle cx="219.2" cy="266.7" r="2.24"/><circle cx="253.8" cy="279.9" r="2.24"/><circle cx="504.5" cy="299.5" r="2.24"/><circle cx="442.1" cy="402.3" r="2.24"/><circle cx="192.9" cy="203.5" r="2.24"/><circle cx="324.4" cy="275.7" r="2.24"/><circle cx="291.7" cy="256.3" r="2.24"/><circle cx="414.4" cy="360.6" r="2.24"/><circle cx="430.1" cy="237.6" r="2.24"/><circle cx="392.2" cy="387.0" r="2.24"/><circle cx="179.8" cy="243.6" r="2.24"/><circle cx="239.5" cy="220.2" r="2.24"/><circle cx="458.6" cy="327.9" r="2.24"/><circle cx="432.1" cy="415.3" r="2.24"/><circle cx="353.6" cy="292.9" r="2.24"/><circle cx="235.1" cy="298.6" r="2.24"/><circle cx="278.4" cy="217.8" r="2.24"/><circle cx="285.9" cy="187.8" r="2.24"/><circle cx="187.3" cy="187.4" r="2.24"/><circle cx="263.8" cy="173.1" r="2.24"/><circle cx="320.9" cy="392.0" r="2.24"/><circle cx="226.5" cy="256.7" r="2.24"/><circle cx="427.5" cy="373.6" r="2.24"/><circle cx="435.2" cy="312.6" r="2.24"/><circle cx="315.1" cy="189.8" r="2.24"/><circle cx="330.1" cy="214.9" r="2.24"/><circle cx="384.6" cy="367.7" r="2.24"/><circle cx="389.3" cy="198.9" r="2.24"/><circle cx="416.1" cy="255.6" r="2.24"/><circle cx="342.6" cy="368.5" r="2.24"/><circle cx="504.0" cy="195.6" r="2.24"/><circle cx="307.6" cy="191.0" r="2.24"/><circle cx="300.4" cy="299.6" r="2.24"/><circle cx="321.0" cy="313.3" r="2.24"/><circle cx="256.5" cy="301.5" r="2.24"/><circle cx="315.8" cy="198.7" r="2.24"/><circle cx="255.0" cy="314.5" r="2.24"/><circle cx="234.1" cy="193.0" r="2.24"/><circle cx="341.8" cy="380.0" r="2.24"/><circle cx="285.5" cy="275.8" r="2.24"/><circle cx="393.0" cy="370.8" r="2.24"/><circle cx="417.0" cy="273.0" r="2.24"/><circle cx="389.0" cy="279.9" r="2.24"/><circle cx="409.7" cy="217.2" r="2.24"/><circle cx="346.5" cy="188.5" r="2.24"/><circle cx="284.3" cy="319.6" r="2.24"/><circle cx="427.8" cy="409.4" r="2.24"/><circle cx="243.7" cy="239.1" r="2.24"/><circle cx="428.8" cy="286.5" r="2.24"/><circle cx="278.7" cy="300.9" r="2.24"/><circle cx="382.6" cy="414.2" r="2.24"/><circle cx="358.0" cy="244.5" r="2.24"/><circle cx="297.7" cy="317.1" r="2.24"/><circle cx="340.1" cy="187.3" r="2.24"/><circle cx="489.2" cy="204.0" r="2.24"/><circle cx="266.4" cy="335.8" r="2.24"/><circle cx="288.6" cy="301.0" r="2.24"/><circle cx="309.6" cy="339.1" r="2.24"/><circle cx="283.5" cy="267.9" r="2.24"/><circle cx="317.3" cy="315.4" r="2.24"/><circle cx="299.8" cy="236.4" r="2.24"/><circle cx="393.3" cy="295.3" r="2.24"/><circle cx="325.0" cy="302.9" r="2.24"/><circle cx="434.2" cy="287.4" r="2.24"/><circle cx="407.0" cy="292.0" r="2.24"/><circle cx="384.9" cy="329.5" r="2.24"/><circle cx="234.5" cy="212.6" r="2.24"/><circle cx="202.5" cy="223.5" r="2.24"/><circle cx="406.0" cy="390.5" r="2.24"/><circle cx="230.4" cy="178.4" r="2.24"/><circle cx="269.5" cy="206.4" r="2.24"/><circle cx="358.3" cy="204.1" r="2.24"/><circle cx="370.6" cy="370.6" r="2.24"/><circle cx="440.1" cy="237.0" r="2.24"/><circle cx="386.4" cy="308.2" r="2.24"/><circle cx="412.8" cy="384.6" r="2.24"/><circle cx="471.4" cy="289.5" r="2.24"/><circle cx="329.2" cy="287.5" r="2.24"/><circle cx="405.5" cy="355.9" r="2.24"/><circle cx="299.1" cy="294.4" r="2.24"/><circle cx="501.3" cy="264.1" r="2.24"/><circle cx="359.9" cy="321.7" r="2.24"/><circle cx="331.5" cy="361.0" r="2.24"/><circle cx="400.6" cy="164.3" r="2.24"/><circle cx="513.0" cy="281.0" r="2.24"/><circle cx="286.1" cy="232.9" r="2.24"/><circle cx="453.4" cy="219.3" r="2.24"/><circle cx="410.4" cy="243.1" r="2.24"/><circle cx="264.1" cy="264.2" r="2.24"/><circle cx="288.0" cy="237.3" r="2.24"/><circle cx="380.5" cy="353.5" r="2.24"/><circle cx="430.3" cy="238.7" r="2.24"/><circle cx="339.5" cy="368.3" r="2.24"/><circle cx="495.4" cy="211.3" r="2.24"/><circle cx="347.0" cy="184.3" r="2.24"/><circle cx="339.5" cy="206.3" r="2.24"/><circle cx="211.4" cy="219.2" r="2.24"/><circle cx="213.5" cy="191.4" r="2.24"/><circle cx="286.6" cy="235.3" r="2.24"/><circle cx="310.7" cy="294.4" r="2.24"/><circle cx="365.8" cy="393.8" r="2.24"/><circle cx="445.1" cy="328.4" r="2.24"/><circle cx="444.8" cy="245.6" r="2.24"/><circle cx="298.8" cy="290.8" r="2.24"/><circle cx="452.1" cy="347.3" r="2.24"/><circle cx="301.9" cy="233.3" r="2.24"/><circle cx="317.8" cy="265.2" r="2.24"/><circle cx="196.1" cy="194.0" r="2.24"/><circle cx="508.1" cy="173.0" r="2.24"/><circle cx="292.8" cy="252.2" r="2.24"/><circle cx="319.6" cy="272.8" r="2.24"/><circle cx="315.7" cy="289.1" r="2.24"/><circle cx="386.6" cy="269.8" r="2.24"/><circle cx="351.5" cy="333.1" r="2.24"/><circle cx="268.1" cy="300.6" r="2.24"/><circle cx="422.3" cy="321.4" r="2.24"/><circle cx="410.9" cy="322.4" r="2.24"/><circle cx="377.8" cy="388.9" r="2.24"/><circle cx="359.8" cy="276.2" r="2.24"/><circle cx="312.2" cy="372.4" r="2.24"/><circle cx="459.9" cy="321.5" r="2.24"/><circle cx="311.8" cy="189.5" r="2.24"/><circle cx="302.8" cy="285.2" r="2.24"/><circle cx="303.0" cy="351.1" r="2.24"/><circle cx="368.5" cy="317.1" r="2.24"/><circle cx="372.5" cy="361.6" r="2.24"/><circle cx="301.8" cy="316.4" r="2.24"/><circle cx="314.4" cy="361.4" r="2.24"/><circle cx="258.7" cy="322.9" r="2.24"/><circle cx="299.7" cy="195.4" r="2.24"/><circle cx="447.4" cy="191.4" r="2.24"/><circle cx="265.7" cy="213.7" r="2.24"/><circle cx="391.8" cy="298.2" r="2.24"/><circle cx="401.7" cy="312.9" r="2.24"/><circle cx="195.3" cy="204.6" r="2.24"/><circle cx="375.3" cy="257.1" r="2.24"/><circle cx="364.9" cy="259.7" r="2.24"/><circle cx="364.2" cy="241.4" r="2.24"/><circle cx="390.7" cy="359.0" r="2.24"/><circle cx="295.4" cy="176.5" r="2.24"/><circle cx="473.5" cy="185.9" r="2.24"/><circle cx="377.9" cy="325.3" r="2.24"/><circle cx="370.2" cy="278.2" r="2.24"/><circle cx="394.8" cy="324.6" r="2.24"/><circle cx="461.1" cy="255.5" r="2.24"/><circle cx="457.4" cy="273.2" r="2.24"/><circle cx="290.7" cy="257.5" r="2.24"/><circle cx="431.8" cy="433.6" r="2.24"/><circle cx="398.6" cy="332.1" r="2.24"/><circle cx="474.8" cy="277.1" r="2.24"/><circle cx="393.1" cy="366.4" r="2.24"/><circle cx="426.9" cy="209.1" r="2.24"/><circle cx="341.3" cy="210.6" r="2.24"/><circle cx="329.8" cy="353.3" r="2.24"/><circle cx="354.6" cy="195.6" r="2.24"/><circle cx="248.0" cy="200.0" r="2.24"/><circle cx="299.6" cy="320.1" r="2.24"/><circle cx="352.7" cy="299.9" r="2.24"/><circle cx="446.5" cy="383.4" r="2.24"/><circle cx="465.5" cy="293.5" r="2.24"/><circle cx="334.0" cy="225.2" r="2.24"/><circle cx="228.3" cy="249.0" r="2.24"/><circle cx="348.0" cy="401.6" r="2.24"/><circle cx="351.6" cy="330.0" r="2.24"/><circle cx="303.2" cy="309.9" r="2.24"/><circle cx="393.4" cy="343.2" r="2.24"/><circle cx="357.0" cy="191.2" r="2.24"/><circle cx="402.8" cy="307.4" r="2.24"/><circle cx="490.7" cy="277.3" r="2.24"/><circle cx="250.4" cy="226.5" r="2.24"/><circle cx="449.7" cy="253.3" r="2.24"/><circle cx="203.4" cy="253.8" r="2.24"/><circle cx="314.6" cy="225.8" r="2.24"/><circle cx="263.4" cy="225.8" r="2.24"/><circle cx="422.9" cy="275.8" r="2.24"/><circle cx="321.6" cy="320.5" r="2.24"/><circle cx="297.9" cy="247.7" r="2.24"/><circle cx="509.2" cy="275.1" r="2.24"/><circle cx="304.0" cy="355.0" r="2.24"/><circle cx="288.0" cy="175.1" r="2.24"/><circle cx="308.7" cy="299.5" r="2.24"/><circle cx="334.6" cy="266.2" r="2.24"/><circle cx="270.4" cy="300.3" r="2.24"/><circle cx="448.5" cy="265.5" r="2.24"/><circle cx="202.0" cy="251.5" r="2.24"/><circle cx="327.2" cy="273.3" r="2.24"/><circle cx="357.7" cy="411.3" r="2.24"/><circle cx="217.9" cy="204.1" r="2.24"/><circle cx="387.9" cy="313.9" r="2.24"/><circle cx="325.9" cy="244.1" r="2.24"/><circle cx="416.5" cy="253.3" r="2.24"/><circle cx="279.5" cy="252.8" r="2.24"/><circle cx="317.8" cy="286.0" r="2.24"/><circle cx="433.3" cy="324.6" r="2.24"/><circle cx="357.1" cy="231.0" r="2.24"/><circle cx="261.9" cy="188.9" r="2.24"/><circle cx="371.2" cy="243.4" r="2.24"/><circle cx="356.5" cy="311.2" r="2.24"/><circle cx="373.1" cy="404.9" r="2.24"/><circle cx="499.6" cy="157.2" r="2.24"/><circle cx="271.0" cy="255.1" r="2.24"/><circle cx="363.6" cy="192.1" r="2.24"/><circle cx="317.1" cy="293.9" r="2.24"/><circle cx="422.1" cy="350.9" r="2.24"/><circle cx="387.7" cy="311.7" r="2.24"/><circle cx="322.4" cy="329.0" r="2.24"/><circle cx="451.0" cy="279.2" r="2.24"/><circle cx="334.3" cy="284.5" r="2.24"/><circle cx="368.1" cy="352.4" r="2.24"/><circle cx="303.4" cy="328.9" r="2.24"/><circle cx="280.9" cy="196.6" r="2.24"/><circle cx="333.5" cy="313.4" r="2.24"/><circle cx="419.0" cy="179.0" r="2.24"/><circle cx="363.7" cy="245.8" r="2.24"/><circle cx="490.0" cy="223.2" r="2.24"/><circle cx="417.0" cy="398.3" r="2.24"/><circle cx="350.8" cy="326.0" r="2.24"/><circle cx="341.3" cy="221.6" r="2.24"/><circle cx="396.9" cy="334.9" r="2.24"/><circle cx="393.9" cy="300.2" r="2.24"/><circle cx="388.6" cy="421.6" r="2.24"/><circle cx="285.5" cy="279.8" r="2.24"/><circle cx="146.5" cy="210.8" r="2.24"/><circle cx="390.0" cy="291.9" r="2.24"/><circle cx="318.6" cy="293.9" r="2.24"/><circle cx="345.6" cy="357.6" r="2.24"/><circle cx="429.0" cy="348.7" r="2.24"/><circle cx="415.6" cy="413.7" r="2.24"/><circle cx="415.1" cy="188.3" r="2.24"/><circle cx="364.7" cy="341.3" r="2.24"/><circle cx="292.1" cy="347.9" r="2.24"/><circle cx="214.5" cy="169.0" r="2.24"/><circle cx="310.5" cy="365.7" r="2.24"/><circle cx="375.4" cy="220.9" r="2.24"/><circle cx="369.1" cy="285.2" r="2.24"/><circle cx="370.7" cy="191.0" r="2.24"/><circle cx="403.1" cy="260.9" r="2.24"/><circle cx="379.6" cy="353.5" r="2.24"/><circle cx="286.4" cy="306.5" r="2.24"/><circle cx="339.1" cy="387.1" r="2.24"/><circle cx="290.7" cy="256.7" r="2.24"/><circle cx="258.7" cy="261.2" r="2.24"/><circle cx="443.8" cy="245.0" r="2.24"/><circle cx="392.1" cy="163.7" r="2.24"/><circle cx="354.9" cy="239.2" r="2.24"/><circle cx="381.4" cy="273.1" r="2.24"/><circle cx="368.6" cy="244.8" r="2.24"/><circle cx="455.8" cy="342.8" r="2.24"/><circle cx="382.8" cy="285.2" r="2.24"/><circle cx="451.8" cy="373.7" r="2.24"/><circle cx="368.2" cy="266.6" r="2.24"/><circle cx="369.8" cy="229.5" r="2.24"/><circle cx="312.3" cy="299.8" r="2.24"/><circle cx="318.5" cy="272.8" r="2.24"/><circle cx="277.4" cy="291.3" r="2.24"/><circle cx="190.8" cy="257.7" r="2.24"/><circle cx="257.5" cy="283.5" r="2.24"/><circle cx="534.7" cy="174.0" r="2.24"/><circle cx="415.2" cy="239.9" r="2.24"/><circle cx="242.3" cy="272.8" r="2.24"/><circle cx="418.9" cy="431.9" r="2.24"/><circle cx="430.6" cy="392.7" r="2.24"/><circle cx="303.6" cy="312.4" r="2.24"/><circle cx="482.3" cy="363.6" r="2.24"/><circle cx="493.9" cy="195.3" r="2.24"/><circle cx="364.8" cy="343.1" r="2.24"/><circle cx="397.1" cy="221.6" r="2.24"/><circle cx="369.2" cy="358.1" r="2.24"/><circle cx="478.8" cy="266.7" r="2.24"/><circle cx="388.7" cy="289.9" r="2.24"/><circle cx="489.3" cy="278.2" r="2.24"/><circle cx="405.0" cy="360.7" r="2.24"/><circle cx="348.0" cy="260.3" r="2.24"/><circle cx="198.6" cy="254.9" r="2.24"/><circle cx="306.7" cy="300.9" r="2.24"/><circle cx="358.0" cy="177.2" r="2.24"/><circle cx="371.9" cy="372.7" r="2.24"/><circle cx="440.8" cy="206.9" r="2.24"/><circle cx="284.8" cy="291.5" r="2.24"/><circle cx="327.1" cy="241.4" r="2.24"/><circle cx="336.4" cy="293.7" r="2.24"/><circle cx="403.5" cy="396.7" r="2.24"/><circle cx="338.1" cy="349.8" r="2.24"/><circle cx="321.0" cy="208.5" r="2.24"/><circle cx="453.3" cy="289.7" r="2.24"/><circle cx="302.0" cy="263.5" r="2.24"/><circle cx="341.0" cy="279.7" r="2.24"/><circle cx="268.2" cy="275.3" r="2.24"/><circle cx="425.1" cy="392.2" r="2.24"/><circle cx="360.2" cy="286.0" r="2.24"/><circle cx="429.8" cy="402.8" r="2.24"/><circle cx="317.7" cy="259.0" r="2.24"/><circle cx="222.6" cy="243.4" r="2.24"/><circle cx="409.1" cy="276.5" r="2.24"/><circle cx="420.7" cy="157.1" r="2.24"/><circle cx="389.2" cy="410.7" r="2.24"/><circle cx="300.9" cy="356.4" r="2.24"/><circle cx="313.0" cy="252.4" r="2.24"/><circle cx="271.2" cy="330.1" r="2.24"/><circle cx="189.9" cy="262.8" r="2.24"/><circle cx="370.7" cy="412.1" r="2.24"/><circle cx="366.2" cy="293.9" r="2.24"/><circle cx="305.6" cy="209.7" r="2.24"/><circle cx="253.9" cy="174.4" r="2.24"/><circle cx="361.0" cy="234.7" r="2.24"/><circle cx="346.4" cy="257.1" r="2.24"/><circle cx="512.9" cy="222.1" r="2.24"/><circle cx="390.8" cy="377.6" r="2.24"/><circle cx="356.7" cy="193.4" r="2.24"/><circle cx="383.4" cy="184.2" r="2.24"/><circle cx="214.0" cy="255.8" r="2.24"/><circle cx="370.5" cy="393.0" r="2.24"/><circle cx="463.0" cy="219.5" r="2.24"/><circle cx="361.8" cy="243.4" r="2.24"/><circle cx="401.7" cy="207.3" r="2.24"/><circle cx="294.4" cy="250.0" r="2.24"/><circle cx="296.6" cy="308.5" r="2.24"/><circle cx="275.1" cy="242.6" r="2.24"/><circle cx="489.4" cy="245.1" r="2.24"/><circle cx="388.1" cy="173.6" r="2.24"/><circle cx="393.0" cy="377.3" r="2.24"/><circle cx="462.0" cy="207.9" r="2.24"/><circle cx="403.7" cy="330.7" r="2.24"/><circle cx="238.5" cy="217.6" r="2.24"/><circle cx="420.6" cy="282.4" r="2.24"/><circle cx="358.2" cy="296.4" r="2.24"/><circle cx="310.6" cy="234.8" r="2.24"/><circle cx="402.4" cy="233.8" r="2.24"/><circle cx="408.1" cy="251.9" r="2.24"/><circle cx="263.9" cy="253.8" r="2.24"/><circle cx="345.6" cy="174.8" r="2.24"/><circle cx="246.8" cy="314.2" r="2.24"/><circle cx="393.2" cy="236.9" r="2.24"/><circle cx="368.8" cy="373.1" r="2.24"/><circle cx="377.5" cy="348.4" r="2.24"/><circle cx="523.3" cy="211.0" r="2.24"/><circle cx="328.5" cy="313.3" r="2.24"/><circle cx="273.5" cy="294.7" r="2.24"/><circle cx="203.1" cy="277.5" r="2.24"/><circle cx="251.0" cy="302.5" r="2.24"/><circle cx="276.2" cy="217.6" r="2.24"/><circle cx="331.3" cy="302.3" r="2.24"/><circle cx="307.9" cy="213.7" r="2.24"/><circle cx="273.7" cy="223.7" r="2.24"/><circle cx="413.6" cy="358.8" r="2.24"/><circle cx="348.7" cy="283.4" r="2.24"/><circle cx="266.5" cy="200.5" r="2.24"/><circle cx="433.5" cy="378.4" r="2.24"/><circle cx="310.0" cy="274.1" r="2.24"/><circle cx="326.0" cy="331.6" r="2.24"/><circle cx="345.0" cy="322.9" r="2.24"/><circle cx="283.5" cy="309.7" r="2.24"/><circle cx="271.9" cy="182.6" r="2.24"/><circle cx="442.4" cy="412.2" r="2.24"/><circle cx="395.3" cy="203.3" r="2.24"/><circle cx="440.0" cy="259.0" r="2.24"/><circle cx="404.6" cy="249.2" r="2.24"/><circle cx="260.1" cy="214.5" r="2.24"/><circle cx="372.7" cy="328.9" r="2.24"/><circle cx="417.9" cy="294.9" r="2.24"/><circle cx="378.6" cy="290.1" r="2.24"/><circle cx="368.1" cy="317.5" r="2.24"/><circle cx="359.0" cy="326.2" r="2.24"/><circle cx="335.1" cy="262.8" r="2.24"/><circle cx="381.1" cy="312.8" r="2.24"/><circle cx="422.1" cy="393.4" r="2.24"/><circle cx="516.8" cy="205.0" r="2.24"/><circle cx="459.1" cy="318.5" r="2.24"/><circle cx="472.6" cy="344.2" r="2.24"/><circle cx="362.8" cy="207.5" r="2.24"/><circle cx="255.5" cy="176.8" r="2.24"/><circle cx="372.8" cy="325.3" r="2.24"/><circle cx="426.2" cy="283.8" r="2.24"/><circle cx="252.0" cy="175.9" r="2.24"/><circle cx="416.7" cy="443.5" r="2.24"/><circle cx="235.6" cy="285.8" r="2.24"/><circle cx="334.0" cy="344.0" r="2.24"/><circle cx="291.0" cy="282.6" r="2.24"/><circle cx="172.9" cy="238.2" r="2.24"/><circle cx="480.8" cy="215.1" r="2.24"/><circle cx="213.6" cy="277.6" r="2.24"/><circle cx="452.4" cy="295.5" r="2.24"/><circle cx="435.8" cy="193.6" r="2.24"/><circle cx="418.6" cy="430.3" r="2.24"/><circle cx="201.8" cy="276.8" r="2.24"/><circle cx="298.1" cy="202.1" r="2.24"/><circle cx="367.3" cy="303.3" r="2.24"/><circle cx="455.5" cy="235.3" r="2.24"/><circle cx="480.5" cy="300.6" r="2.24"/><circle cx="416.7" cy="199.7" r="2.24"/><circle cx="363.0" cy="277.0" r="2.24"/><circle cx="378.1" cy="287.1" r="2.24"/><circle cx="411.2" cy="401.2" r="2.24"/><circle cx="324.2" cy="267.8" r="2.24"/><circle cx="433.3" cy="190.7" r="2.24"/><circle cx="387.0" cy="159.3" r="2.24"/><circle cx="274.5" cy="241.1" r="2.24"/><circle cx="375.0" cy="364.8" r="2.24"/><circle cx="434.0" cy="200.8" r="2.24"/><circle cx="281.3" cy="166.2" r="2.24"/><circle cx="319.1" cy="289.8" r="2.24"/><circle cx="342.2" cy="296.7" r="2.24"/><circle cx="256.0" cy="301.1" r="2.24"/><circle cx="260.1" cy="240.8" r="2.24"/><circle cx="320.7" cy="338.2" r="2.24"/><circle cx="527.9" cy="210.5" r="2.24"/><circle cx="394.4" cy="291.0" r="2.24"/><circle cx="357.7" cy="291.1" r="2.24"/><circle cx="378.3" cy="316.7" r="2.24"/><circle cx="415.4" cy="271.2" r="2.24"/><circle cx="470.7" cy="364.1" r="2.24"/><circle cx="282.6" cy="262.2" r="2.24"/><circle cx="308.9" cy="329.4" r="2.24"/><circle cx="306.9" cy="268.6" r="2.24"/><circle cx="365.2" cy="216.1" r="2.24"/><circle cx="337.6" cy="240.7" r="2.24"/><circle cx="251.9" cy="250.3" r="2.24"/><circle cx="502.7" cy="229.9" r="2.24"/><circle cx="436.1" cy="323.2" r="2.24"/><circle cx="350.0" cy="302.9" r="2.24"/><circle cx="320.8" cy="340.8" r="2.24"/><circle cx="303.9" cy="311.4" r="2.24"/><circle cx="308.5" cy="171.7" r="2.24"/><circle cx="342.0" cy="210.2" r="2.24"/><circle cx="141.0" cy="183.7" r="2.24"/><circle cx="324.7" cy="232.1" r="2.24"/><circle cx="295.3" cy="164.1" r="2.24"/><circle cx="383.9" cy="309.3" r="2.24"/><circle cx="305.4" cy="350.0" r="2.24"/><circle cx="220.5" cy="183.3" r="2.24"/><circle cx="403.2" cy="226.5" r="2.24"/><circle cx="397.1" cy="294.6" r="2.24"/><circle cx="363.1" cy="396.5" r="2.24"/><circle cx="356.6" cy="295.0" r="2.24"/><circle cx="471.2" cy="253.3" r="2.24"/><circle cx="393.3" cy="207.8" r="2.24"/><circle cx="374.6" cy="266.4" r="2.24"/><circle cx="405.2" cy="300.4" r="2.24"/><circle cx="331.9" cy="247.1" r="2.24"/><circle cx="292.7" cy="302.0" r="2.24"/><circle cx="431.6" cy="179.2" r="2.24"/><circle cx="420.1" cy="204.2" r="2.24"/><circle cx="442.2" cy="389.1" r="2.24"/><circle cx="493.2" cy="146.5" r="2.24"/><circle cx="213.3" cy="205.8" r="2.24"/><circle cx="457.8" cy="343.8" r="2.24"/><circle cx="343.5" cy="166.9" r="2.24"/><circle cx="379.2" cy="427.2" r="2.24"/><circle cx="286.8" cy="259.3" r="2.24"/><circle cx="412.9" cy="337.4" r="2.24"/><circle cx="433.9" cy="380.3" r="2.24"/><circle cx="526.1" cy="184.8" r="2.24"/><circle cx="292.3" cy="240.9" r="2.24"/><circle cx="294.5" cy="190.2" r="2.24"/><circle cx="420.5" cy="429.9" r="2.24"/><circle cx="345.5" cy="371.5" r="2.24"/><circle cx="312.8" cy="345.1" r="2.24"/><circle cx="371.4" cy="336.9" r="2.24"/><circle cx="401.0" cy="391.9" r="2.24"/><circle cx="401.7" cy="386.2" r="2.24"/><circle cx="316.5" cy="345.8" r="2.24"/><circle cx="258.5" cy="327.6" r="2.24"/><circle cx="360.6" cy="304.0" r="2.24"/><circle cx="300.3" cy="367.9" r="2.24"/><circle cx="340.6" cy="348.8" r="2.24"/><circle cx="482.5" cy="298.2" r="2.24"/><circle cx="222.9" cy="239.8" r="2.24"/><circle cx="390.1" cy="192.6" r="2.24"/><circle cx="344.3" cy="384.1" r="2.24"/><circle cx="423.6" cy="281.6" r="2.24"/><circle cx="252.2" cy="171.0" r="2.24"/><circle cx="427.3" cy="374.2" r="2.24"/><circle cx="187.0" cy="265.3" r="2.24"/><circle cx="359.5" cy="206.4" r="2.24"/><circle cx="371.3" cy="339.3" r="2.24"/><circle cx="247.7" cy="236.6" r="2.24"/><circle cx="274.4" cy="224.8" r="2.24"/><circle cx="313.3" cy="299.6" r="2.24"/><circle cx="406.3" cy="265.6" r="2.24"/><circle cx="298.1" cy="342.2" r="2.24"/><circle cx="224.3" cy="288.9" r="2.24"/><circle cx="352.9" cy="258.5" r="2.24"/><circle cx="182.5" cy="249.5" r="2.24"/><circle cx="386.4" cy="264.6" r="2.24"/><circle cx="338.8" cy="224.3" r="2.24"/><circle cx="153.2" cy="210.4" r="2.24"/><circle cx="253.1" cy="192.8" r="2.24"/><circle cx="360.4" cy="294.6" r="2.24"/><circle cx="317.4" cy="335.2" r="2.24"/><circle cx="225.3" cy="282.1" r="2.24"/><circle cx="223.3" cy="216.6" r="2.24"/><circle cx="500.5" cy="168.1" r="2.24"/><circle cx="444.7" cy="302.0" r="2.24"/><circle cx="224.5" cy="282.6" r="2.24"/><circle cx="363.8" cy="233.8" r="2.24"/><circle cx="454.7" cy="237.2" r="2.24"/><circle cx="245.5" cy="276.7" r="2.24"/><circle cx="317.3" cy="243.7" r="2.24"/><circle cx="373.2" cy="310.7" r="2.24"/><circle cx="220.2" cy="294.0" r="2.24"/><circle cx="516.9" cy="276.9" r="2.24"/><circle cx="253.7" cy="239.6" r="2.24"/><circle cx="254.8" cy="239.7" r="2.24"/><circle cx="355.6" cy="268.1" r="2.24"/><circle cx="275.0" cy="229.1" r="2.24"/><circle cx="349.9" cy="354.7" r="2.24"/><circle cx="453.5" cy="224.2" r="2.24"/><circle cx="312.3" cy="279.1" r="2.24"/><circle cx="385.0" cy="395.4" r="2.24"/><circle cx="232.7" cy="290.9" r="2.24"/><circle cx="347.6" cy="163.3" r="2.24"/><circle cx="368.4" cy="288.8" r="2.24"/><circle cx="351.2" cy="264.2" r="2.24"/><circle cx="178.3" cy="186.9" r="2.24"/><circle cx="329.7" cy="368.5" r="2.24"/><circle cx="532.3" cy="150.6" r="2.24"/><circle cx="481.7" cy="184.4" r="2.24"/><circle cx="280.8" cy="231.3" r="2.24"/><circle cx="300.0" cy="327.1" r="2.24"/><circle cx="193.0" cy="262.5" r="2.24"/><circle cx="322.7" cy="365.5" r="2.24"/><circle cx="493.4" cy="150.6" r="2.24"/><circle cx="355.6" cy="369.8" r="2.24"/><circle cx="378.4" cy="219.0" r="2.24"/><circle cx="338.5" cy="352.3" r="2.24"/><circle cx="426.6" cy="258.2" r="2.24"/><circle cx="248.0" cy="173.9" r="2.24"/><circle cx="389.2" cy="277.7" r="2.24"/><circle cx="367.9" cy="321.2" r="2.24"/><circle cx="387.2" cy="167.8" r="2.24"/><circle cx="329.5" cy="347.6" r="2.24"/><circle cx="242.3" cy="267.9" r="2.24"/><circle cx="314.7" cy="228.4" r="2.24"/><circle cx="274.4" cy="236.3" r="2.24"/><circle cx="386.4" cy="315.8" r="2.24"/><circle cx="205.8" cy="167.9" r="2.24"/><circle cx="325.5" cy="279.6" r="2.24"/><circle cx="373.5" cy="381.8" r="2.24"/><circle cx="272.1" cy="300.0" r="2.24"/><circle cx="227.5" cy="210.8" r="2.24"/><circle cx="338.9" cy="325.3" r="2.24"/><circle cx="254.7" cy="322.0" r="2.24"/><circle cx="365.3" cy="187.0" r="2.24"/><circle cx="345.0" cy="333.8" r="2.24"/><circle cx="286.8" cy="302.0" r="2.24"/><circle cx="321.5" cy="380.5" r="2.24"/><circle cx="221.9" cy="227.0" r="2.24"/><circle cx="250.9" cy="293.3" r="2.24"/><circle cx="421.5" cy="361.8" r="2.24"/><circle cx="282.8" cy="341.7" r="2.24"/><circle cx="295.4" cy="355.5" r="2.24"/><circle cx="262.0" cy="305.8" r="2.24"/><circle cx="330.5" cy="204.8" r="2.24"/><circle cx="458.8" cy="334.2" r="2.24"/><circle cx="307.0" cy="295.1" r="2.24"/><circle cx="281.9" cy="276.3" r="2.24"/><circle cx="269.4" cy="240.0" r="2.24"/><circle cx="224.0" cy="305.2" r="2.24"/><circle cx="258.0" cy="295.7" r="2.24"/><circle cx="242.5" cy="307.9" r="2.24"/><circle cx="370.1" cy="189.0" r="2.24"/><circle cx="432.0" cy="408.7" r="2.24"/><circle cx="196.5" cy="193.2" r="2.24"/><circle cx="302.0" cy="249.8" r="2.24"/><circle cx="269.5" cy="314.5" r="2.24"/><circle cx="403.5" cy="214.5" r="2.24"/><circle cx="381.1" cy="225.4" r="2.24"/><circle cx="169.2" cy="190.7" r="2.24"/><circle cx="428.7" cy="226.9" r="2.24"/><circle cx="401.1" cy="220.3" r="2.24"/><circle cx="419.6" cy="407.9" r="2.24"/><circle cx="157.0" cy="202.5" r="2.24"/><circle cx="469.8" cy="286.3" r="2.24"/><circle cx="251.9" cy="321.7" r="2.24"/><circle cx="415.5" cy="218.8" r="2.24"/><circle cx="453.1" cy="326.2" r="2.24"/><circle cx="379.5" cy="211.8" r="2.24"/><circle cx="242.6" cy="265.2" r="2.24"/><circle cx="419.8" cy="303.8" r="2.24"/><circle cx="428.0" cy="327.1" r="2.24"/><circle cx="419.2" cy="412.4" r="2.24"/><circle cx="203.6" cy="270.1" r="2.24"/><circle cx="285.0" cy="191.6" r="2.24"/><circle cx="304.7" cy="281.5" r="2.24"/><circle cx="516.8" cy="173.6" r="2.24"/><circle cx="358.9" cy="270.8" r="2.24"/><circle cx="472.9" cy="197.7" r="2.24"/><circle cx="263.2" cy="219.3" r="2.24"/><circle cx="344.4" cy="358.8" r="2.24"/><circle cx="254.9" cy="301.0" r="2.24"/><circle cx="321.1" cy="272.6" r="2.24"/><circle cx="340.7" cy="300.7" r="2.24"/><circle cx="452.6" cy="191.9" r="2.24"/><circle cx="381.2" cy="424.5" r="2.24"/><circle cx="205.7" cy="260.0" r="2.24"/><circle cx="268.1" cy="263.1" r="2.24"/><circle cx="400.7" cy="271.7" r="2.24"/><circle cx="404.4" cy="303.2" r="2.24"/><circle cx="381.6" cy="298.3" r="2.24"/><circle cx="167.9" cy="230.3" r="2.24"/><circle cx="271.2" cy="333.8" r="2.24"/><circle cx="366.7" cy="330.0" r="2.24"/><circle cx="219.5" cy="230.3" r="2.24"/><circle cx="440.6" cy="410.8" r="2.24"/><circle cx="269.7" cy="333.3" r="2.24"/><circle cx="461.8" cy="168.5" r="2.24"/><circle cx="394.7" cy="344.5" r="2.24"/><circle cx="402.6" cy="331.7" r="2.24"/><circle cx="318.8" cy="220.0" r="2.24"/><circle cx="373.6" cy="357.6" r="2.24"/><circle cx="289.3" cy="188.8" r="2.24"/><circle cx="477.2" cy="307.6" r="2.24"/><circle cx="227.2" cy="193.0" r="2.24"/><circle cx="436.0" cy="277.6" r="2.24"/><circle cx="374.9" cy="319.2" r="2.24"/><circle cx="358.5" cy="218.3" r="2.24"/><circle cx="288.2" cy="198.1" r="2.24"/><circle cx="355.5" cy="285.9" r="2.24"/><circle cx="287.6" cy="293.7" r="2.24"/><circle cx="389.6" cy="211.6" r="2.24"/><circle cx="349.5" cy="323.7" r="2.24"/><circle cx="348.2" cy="281.6" r="2.24"/><circle cx="327.0" cy="311.3" r="2.24"/><circle cx="231.6" cy="185.3" r="2.24"/><circle cx="334.3" cy="216.8" r="2.24"/><circle cx="429.2" cy="158.7" r="2.24"/><circle cx="397.0" cy="212.2" r="2.24"/><circle cx="384.0" cy="377.3" r="2.24"/><circle cx="357.3" cy="166.4" r="2.24"/><circle cx="314.1" cy="237.2" r="2.24"/><circle cx="368.6" cy="172.7" r="2.24"/><circle cx="368.3" cy="280.1" r="2.24"/><circle cx="413.3" cy="287.9" r="2.24"/><circle cx="398.0" cy="213.0" r="2.24"/><circle cx="397.6" cy="323.3" r="2.24"/><circle cx="187.1" cy="215.1" r="2.24"/><circle cx="280.7" cy="336.0" r="2.24"/><circle cx="448.0" cy="225.7" r="2.24"/><circle cx="267.1" cy="314.1" r="2.24"/><circle cx="348.1" cy="292.8" r="2.24"/><circle cx="264.4" cy="231.0" r="2.24"/><circle cx="354.2" cy="324.9" r="2.24"/><circle cx="394.6" cy="383.7" r="2.24"/><circle cx="378.7" cy="309.9" r="2.24"/><circle cx="346.3" cy="197.6" r="2.24"/><circle cx="378.3" cy="285.0" r="2.24"/><circle cx="333.0" cy="295.3" r="2.24"/><circle cx="279.6" cy="189.3" r="2.24"/><circle cx="332.5" cy="272.6" r="2.24"/><circle cx="368.5" cy="336.3" r="2.24"/><circle cx="270.6" cy="167.2" r="2.24"/><circle cx="227.4" cy="196.5" r="2.24"/><circle cx="395.1" cy="233.1" r="2.24"/><circle cx="412.7" cy="221.2" r="2.24"/><circle cx="399.5" cy="224.6" r="2.24"/><circle cx="386.4" cy="188.9" r="2.24"/><circle cx="328.4" cy="205.5" r="2.24"/><circle cx="472.7" cy="158.8" r="2.24"/><circle cx="270.3" cy="344.3" r="2.24"/><circle cx="404.4" cy="429.2" r="2.24"/><circle cx="470.2" cy="192.5" r="2.24"/><circle cx="300.3" cy="308.7" r="2.24"/><circle cx="354.5" cy="294.9" r="2.24"/><circle cx="326.8" cy="327.1" r="2.24"/><circle cx="216.6" cy="217.1" r="2.24"/><circle cx="295.7" cy="339.1" r="2.24"/><circle cx="362.7" cy="186.5" r="2.24"/><circle cx="261.8" cy="322.1" r="2.24"/><circle cx="244.5" cy="322.6" r="2.24"/><circle cx="338.2" cy="324.8" r="2.24"/><circle cx="307.8" cy="290.9" r="2.24"/><circle cx="294.8" cy="340.6" r="2.24"/><circle cx="417.1" cy="286.7" r="2.24"/><circle cx="314.3" cy="204.9" r="2.24"/><circle cx="486.8" cy="246.3" r="2.24"/><circle cx="552.4" cy="158.2" r="2.24"/><circle cx="356.1" cy="362.8" r="2.24"/><circle cx="392.2" cy="257.4" r="2.24"/><circle cx="417.2" cy="404.1" r="2.24"/><circle cx="359.4" cy="259.7" r="2.24"/><circle cx="248.0" cy="229.0" r="2.24"/><circle cx="427.6" cy="391.8" r="2.24"/><circle cx="270.9" cy="218.3" r="2.24"/><circle cx="229.5" cy="235.9" r="2.24"/><circle cx="496.3" cy="245.2" r="2.24"/><circle cx="377.9" cy="311.3" r="2.24"/><circle cx="262.1" cy="205.0" r="2.24"/><circle cx="540.4" cy="196.4" r="2.24"/><circle cx="363.0" cy="334.9" r="2.24"/><circle cx="274.7" cy="259.1" r="2.24"/><circle cx="372.4" cy="410.5" r="2.24"/><circle cx="486.2" cy="286.0" r="2.24"/><circle cx="291.9" cy="302.2" r="2.24"/><circle cx="382.1" cy="291.6" r="2.24"/><circle cx="372.2" cy="227.8" r="2.24"/><circle cx="309.5" cy="280.6" r="2.24"/><circle cx="181.3" cy="248.8" r="2.24"/><circle cx="466.2" cy="198.3" r="2.24"/><circle cx="272.9" cy="288.1" r="2.24"/><circle cx="272.5" cy="238.5" r="2.24"/><circle cx="231.3" cy="229.4" r="2.24"/><circle cx="293.4" cy="278.3" r="2.24"/><circle cx="373.2" cy="282.5" r="2.24"/><circle cx="348.0" cy="374.6" r="2.24"/><circle cx="337.2" cy="359.1" r="2.24"/><circle cx="256.2" cy="228.1" r="2.24"/><circle cx="323.4" cy="253.8" r="2.24"/><circle cx="394.9" cy="389.0" r="2.24"/><circle cx="351.4" cy="270.5" r="2.24"/><circle cx="462.5" cy="192.2" r="2.24"/><circle cx="303.5" cy="277.6" r="2.24"/><circle cx="173.0" cy="190.5" r="2.24"/><circle cx="317.1" cy="317.3" r="2.24"/><circle cx="304.1" cy="265.7" r="2.24"/><circle cx="472.2" cy="310.6" r="2.24"/><circle cx="446.9" cy="314.8" r="2.24"/><circle cx="451.6" cy="274.2" r="2.24"/><circle cx="276.4" cy="298.3" r="2.24"/><circle cx="219.1" cy="267.3" r="2.24"/><circle cx="449.2" cy="345.1" r="2.24"/><circle cx="386.8" cy="372.6" r="2.24"/><circle cx="422.3" cy="372.4" r="2.24"/><circle cx="397.7" cy="233.4" r="2.24"/><circle cx="230.7" cy="290.7" r="2.24"/><circle cx="380.5" cy="278.1" r="2.24"/><circle cx="283.8" cy="298.6" r="2.24"/><circle cx="405.5" cy="252.0" r="2.24"/><circle cx="234.5" cy="289.0" r="2.24"/><circle cx="458.3" cy="331.8" r="2.24"/><circle cx="184.0" cy="237.8" r="2.24"/><circle cx="310.0" cy="302.7" r="2.24"/><circle cx="519.7" cy="159.8" r="2.24"/><circle cx="169.7" cy="219.8" r="2.24"/><circle cx="389.3" cy="299.8" r="2.24"/><circle cx="476.0" cy="186.4" r="2.24"/><circle cx="294.1" cy="285.2" r="2.24"/><circle cx="483.2" cy="278.7" r="2.24"/><circle cx="393.2" cy="332.3" r="2.24"/><circle cx="250.2" cy="228.2" r="2.24"/><circle cx="174.6" cy="227.9" r="2.24"/><circle cx="331.6" cy="274.2" r="2.24"/><circle cx="355.4" cy="340.3" r="2.24"/><circle cx="381.5" cy="209.8" r="2.24"/><circle cx="285.3" cy="295.1" r="2.24"/><circle cx="327.4" cy="327.3" r="2.24"/><circle cx="423.4" cy="194.8" r="2.24"/><circle cx="413.8" cy="413.9" r="2.24"/><circle cx="246.7" cy="278.2" r="2.24"/><circle cx="274.5" cy="309.9" r="2.24"/><circle cx="545.4" cy="182.1" r="2.24"/><circle cx="343.5" cy="354.3" r="2.24"/><circle cx="266.8" cy="209.4" r="2.24"/><circle cx="514.4" cy="151.6" r="2.24"/><circle cx="345.3" cy="305.6" r="2.24"/><circle cx="447.0" cy="211.4" r="2.24"/><circle cx="245.2" cy="201.9" r="2.24"/><circle cx="317.3" cy="328.3" r="2.24"/><circle cx="329.2" cy="375.5" r="2.24"/><circle cx="228.1" cy="198.5" r="2.24"/><circle cx="375.4" cy="205.1" r="2.24"/><circle cx="368.8" cy="312.0" r="2.24"/><circle cx="340.3" cy="386.3" r="2.24"/><circle cx="365.7" cy="370.1" r="2.24"/><circle cx="349.7" cy="213.0" r="2.24"/><circle cx="374.4" cy="378.2" r="2.24"/><circle cx="397.3" cy="180.8" r="2.24"/><circle cx="405.8" cy="352.6" r="2.24"/><circle cx="454.4" cy="153.7" r="2.24"/><circle cx="344.1" cy="324.8" r="2.24"/><circle cx="277.5" cy="251.1" r="2.24"/><circle cx="369.0" cy="300.4" r="2.24"/><circle cx="257.0" cy="322.6" r="2.24"/><circle cx="479.9" cy="230.6" r="2.24"/><circle cx="169.4" cy="182.7" r="2.24"/><circle cx="382.6" cy="369.6" r="2.24"/><circle cx="240.9" cy="247.0" r="2.24"/><circle cx="449.2" cy="221.2" r="2.24"/><circle cx="418.6" cy="349.5" r="2.24"/><circle cx="355.4" cy="182.3" r="2.24"/><circle cx="354.3" cy="360.0" r="2.24"/><circle cx="360.4" cy="224.0" r="2.24"/><circle cx="389.5" cy="284.1" r="2.24"/><circle cx="296.8" cy="313.2" r="2.24"/><circle cx="344.8" cy="177.5" r="2.24"/><circle cx="226.1" cy="248.2" r="2.24"/><circle cx="415.0" cy="433.6" r="2.24"/><circle cx="324.5" cy="363.0" r="2.24"/><circle cx="414.8" cy="381.6" r="2.24"/><circle cx="247.7" cy="293.4" r="2.24"/><circle cx="255.4" cy="285.3" r="2.24"/><circle cx="438.8" cy="234.4" r="2.24"/><circle cx="354.6" cy="199.1" r="2.24"/><circle cx="328.3" cy="266.1" r="2.24"/><circle cx="341.3" cy="289.2" r="2.24"/><circle cx="432.3" cy="299.7" r="2.24"/><circle cx="287.6" cy="284.3" r="2.24"/><circle cx="441.1" cy="240.9" r="2.24"/><circle cx="423.0" cy="339.4" r="2.24"/><circle cx="367.4" cy="248.9" r="2.24"/><circle cx="367.6" cy="309.7" r="2.24"/><circle cx="423.9" cy="176.5" r="2.24"/><circle cx="439.1" cy="196.5" r="2.24"/><circle cx="514.0" cy="174.5" r="2.24"/><circle cx="248.7" cy="294.0" r="2.24"/><circle cx="315.5" cy="298.8" r="2.24"/><circle cx="261.0" cy="272.2" r="2.24"/><circle cx="445.3" cy="263.5" r="2.24"/><circle cx="273.2" cy="289.5" r="2.24"/><circle cx="408.2" cy="443.0" r="2.24"/><circle cx="344.1" cy="195.2" r="2.24"/><circle cx="346.1" cy="218.9" r="2.24"/><circle cx="195.4" cy="251.5" r="2.24"/><circle cx="289.9" cy="234.5" r="2.24"/><circle cx="417.4" cy="152.8" r="2.24"/><circle cx="233.1" cy="290.1" r="2.24"/><circle cx="425.5" cy="258.3" r="2.24"/><circle cx="399.2" cy="183.3" r="2.24"/><circle cx="422.2" cy="161.6" r="2.24"/><circle cx="276.2" cy="216.8" r="2.24"/><circle cx="207.6" cy="236.5" r="2.24"/><circle cx="286.2" cy="269.7" r="2.24"/><circle cx="315.4" cy="295.2" r="2.24"/><circle cx="389.9" cy="304.4" r="2.24"/><circle cx="349.8" cy="337.6" r="2.24"/><circle cx="387.9" cy="325.0" r="2.24"/><circle cx="282.7" cy="289.8" r="2.24"/><circle cx="469.8" cy="222.1" r="2.24"/><circle cx="271.0" cy="326.1" r="2.24"/><circle cx="273.6" cy="204.6" r="2.24"/><circle cx="381.0" cy="157.6" r="2.24"/><circle cx="444.9" cy="264.5" r="2.24"/><circle cx="346.7" cy="390.4" r="2.24"/><circle cx="303.0" cy="195.6" r="2.24"/><circle cx="338.7" cy="296.8" r="2.24"/><circle cx="488.3" cy="235.5" r="2.24"/><circle cx="436.8" cy="387.7" r="2.24"/><circle cx="297.4" cy="287.4" r="2.24"/><circle cx="453.7" cy="293.6" r="2.24"/><circle cx="315.6" cy="323.6" r="2.24"/><circle cx="400.6" cy="197.5" r="2.24"/><circle cx="521.9" cy="203.0" r="2.24"/><circle cx="400.4" cy="390.7" r="2.24"/><circle cx="349.9" cy="302.8" r="2.24"/><circle cx="470.3" cy="159.6" r="2.24"/><circle cx="288.1" cy="345.3" r="2.24"/><circle cx="492.6" cy="262.5" r="2.24"/><circle cx="438.9" cy="221.5" r="2.24"/><circle cx="394.3" cy="333.8" r="2.24"/><circle cx="422.2" cy="289.4" r="2.24"/><circle cx="284.1" cy="295.4" r="2.24"/><circle cx="278.6" cy="274.0" r="2.24"/><circle cx="245.8" cy="271.3" r="2.24"/><circle cx="352.1" cy="284.1" r="2.24"/><circle cx="296.9" cy="241.0" r="2.24"/><circle cx="437.8" cy="365.5" r="2.24"/><circle cx="269.2" cy="298.6" r="2.24"/><circle cx="262.5" cy="187.1" r="2.24"/><circle cx="293.6" cy="251.8" r="2.24"/><circle cx="473.1" cy="356.4" r="2.24"/><circle cx="344.3" cy="200.6" r="2.24"/><circle cx="343.5" cy="251.2" r="2.24"/><circle cx="431.8" cy="275.8" r="2.24"/><circle cx="341.7" cy="298.8" r="2.24"/><circle cx="317.6" cy="354.8" r="2.24"/><circle cx="324.7" cy="320.5" r="2.24"/><circle cx="281.8" cy="286.7" r="2.24"/><circle cx="213.9" cy="183.7" r="2.24"/><circle cx="362.0" cy="305.4" r="2.24"/><circle cx="517.0" cy="204.4" r="2.24"/><circle cx="409.1" cy="163.9" r="2.24"/><circle cx="411.7" cy="311.7" r="2.24"/><circle cx="376.1" cy="325.6" r="2.24"/><circle cx="367.3" cy="387.0" r="2.24"/><circle cx="383.4" cy="314.5" r="2.24"/><circle cx="268.5" cy="283.2" r="2.24"/><circle cx="405.7" cy="307.6" r="2.24"/><circle cx="344.1" cy="312.0" r="2.24"/><circle cx="400.8" cy="158.4" r="2.24"/><circle cx="309.5" cy="265.3" r="2.24"/><circle cx="292.3" cy="304.7" r="2.24"/><circle cx="313.1" cy="264.2" r="2.24"/><circle cx="441.5" cy="266.4" r="2.24"/><circle cx="438.0" cy="169.4" r="2.24"/><circle cx="429.9" cy="184.3" r="2.24"/><circle cx="436.3" cy="302.2" r="2.24"/><circle cx="384.3" cy="214.8" r="2.24"/><circle cx="323.9" cy="307.5" r="2.24"/><circle cx="440.3" cy="203.8" r="2.24"/><circle cx="364.2" cy="249.2" r="2.24"/><circle cx="317.8" cy="366.1" r="2.24"/><circle cx="462.1" cy="374.8" r="2.24"/><circle cx="434.4" cy="317.7" r="2.24"/><circle cx="263.9" cy="216.3" r="2.24"/><circle cx="302.6" cy="230.5" r="2.24"/><circle cx="209.2" cy="226.0" r="2.24"/><circle cx="403.4" cy="284.8" r="2.24"/><circle cx="453.9" cy="185.7" r="2.24"/><circle cx="376.9" cy="350.4" r="2.24"/><circle cx="436.8" cy="362.2" r="2.24"/><circle cx="351.6" cy="374.6" r="2.24"/><circle cx="185.1" cy="174.9" r="2.24"/><circle cx="333.2" cy="311.7" r="2.24"/><circle cx="224.5" cy="254.7" r="2.24"/><circle cx="197.8" cy="243.2" r="2.24"/><circle cx="428.0" cy="403.7" r="2.24"/><circle cx="432.8" cy="377.4" r="2.24"/><circle cx="315.1" cy="272.8" r="2.24"/><circle cx="299.7" cy="262.1" r="2.24"/><circle cx="357.6" cy="210.3" r="2.24"/><circle cx="422.9" cy="385.8" r="2.24"/><circle cx="283.0" cy="325.2" r="2.24"/><circle cx="409.2" cy="399.5" r="2.24"/><circle cx="416.4" cy="319.5" r="2.24"/><circle cx="365.8" cy="171.2" r="2.24"/><circle cx="207.6" cy="213.6" r="2.24"/><circle cx="334.8" cy="270.0" r="2.24"/><circle cx="298.1" cy="234.3" r="2.24"/><circle cx="239.1" cy="187.7" r="2.24"/><circle cx="348.8" cy="220.0" r="2.24"/><circle cx="203.1" cy="193.9" r="2.24"/><circle cx="181.8" cy="239.6" r="2.24"/><circle cx="351.6" cy="226.7" r="2.24"/><circle cx="340.4" cy="211.1" r="2.24"/><circle cx="267.7" cy="292.5" r="2.24"/><circle cx="224.6" cy="185.4" r="2.24"/><circle cx="311.2" cy="227.4" r="2.24"/><circle cx="349.0" cy="284.3" r="2.24"/><circle cx="239.0" cy="287.6" r="2.24"/><circle cx="309.0" cy="267.6" r="2.24"/><circle cx="405.3" cy="401.8" r="2.24"/><circle cx="421.7" cy="270.5" r="2.24"/><circle cx="382.2" cy="317.2" r="2.24"/><circle cx="384.0" cy="243.9" r="2.24"/><circle cx="400.4" cy="236.8" r="2.24"/><circle cx="518.0" cy="216.7" r="2.24"/><circle cx="255.1" cy="282.8" r="2.24"/><circle cx="278.0" cy="345.8" r="2.24"/><circle cx="385.5" cy="290.4" r="2.24"/><circle cx="254.3" cy="251.6" r="2.24"/><circle cx="445.4" cy="157.2" r="2.24"/><circle cx="276.8" cy="314.8" r="2.24"/><circle cx="234.1" cy="207.7" r="2.24"/><circle cx="271.1" cy="273.2" r="2.24"/><circle cx="373.8" cy="412.9" r="2.24"/><circle cx="171.5" cy="218.8" r="2.24"/><circle cx="335.9" cy="328.0" r="2.24"/><circle cx="304.7" cy="292.9" r="2.24"/><circle cx="419.6" cy="158.5" r="2.24"/><circle cx="505.8" cy="164.8" r="2.24"/><circle cx="413.9" cy="363.9" r="2.24"/><circle cx="349.5" cy="207.9" r="2.24"/><circle cx="411.8" cy="427.4" r="2.24"/><circle cx="490.1" cy="156.5" r="2.24"/><circle cx="356.3" cy="297.5" r="2.24"/><circle cx="388.4" cy="393.1" r="2.24"/><circle cx="407.0" cy="306.4" r="2.24"/><circle cx="541.6" cy="139.4" r="2.24"/><circle cx="266.0" cy="305.2" r="2.24"/><circle cx="271.8" cy="260.5" r="2.24"/><circle cx="420.6" cy="287.6" r="2.24"/><circle cx="302.1" cy="331.1" r="2.24"/><circle cx="362.3" cy="257.2" r="2.24"/><circle cx="359.5" cy="327.7" r="2.24"/><circle cx="300.5" cy="317.1" r="2.24"/><circle cx="459.2" cy="163.9" r="2.24"/><circle cx="456.8" cy="390.8" r="2.24"/><circle cx="349.2" cy="299.4" r="2.24"/><circle cx="375.9" cy="367.1" r="2.24"/><circle cx="472.6" cy="222.4" r="2.24"/><circle cx="372.6" cy="214.2" r="2.24"/><circle cx="315.7" cy="211.7" r="2.24"/><circle cx="398.2" cy="321.8" r="2.24"/><circle cx="541.6" cy="179.4" r="2.24"/><circle cx="403.4" cy="413.4" r="2.24"/><circle cx="431.2" cy="333.5" r="2.24"/><circle cx="307.1" cy="360.8" r="2.24"/><circle cx="333.2" cy="327.6" r="2.24"/><circle cx="335.1" cy="313.5" r="2.24"/><circle cx="426.9" cy="393.7" r="2.24"/><circle cx="500.1" cy="285.3" r="2.24"/><circle cx="266.6" cy="314.6" r="2.24"/><circle cx="393.4" cy="261.8" r="2.24"/><circle cx="418.8" cy="239.9" r="2.24"/><circle cx="335.8" cy="305.2" r="2.24"/><circle cx="369.0" cy="186.2" r="2.24"/><circle cx="482.2" cy="209.9" r="2.24"/><circle cx="413.8" cy="399.2" r="2.24"/><circle cx="463.1" cy="257.7" r="2.24"/><circle cx="327.9" cy="216.5" r="2.24"/><circle cx="458.1" cy="269.9" r="2.24"/><circle cx="383.7" cy="244.5" r="2.24"/><circle cx="326.2" cy="286.0" r="2.24"/><circle cx="364.5" cy="384.0" r="2.24"/><circle cx="375.9" cy="395.2" r="2.24"/><circle cx="471.8" cy="185.8" r="2.24"/><circle cx="366.9" cy="343.5" r="2.24"/><circle cx="367.4" cy="354.4" r="2.24"/><circle cx="250.7" cy="205.8" r="2.24"/><circle cx="476.0" cy="249.4" r="2.24"/><circle cx="371.5" cy="416.6" r="2.24"/><circle cx="267.2" cy="238.7" r="2.24"/><circle cx="212.3" cy="250.1" r="2.24"/><circle cx="367.6" cy="218.3" r="2.24"/><circle cx="363.5" cy="325.1" r="2.24"/><circle cx="346.5" cy="201.9" r="2.24"/><circle cx="275.1" cy="336.4" r="2.24"/><circle cx="285.6" cy="301.2" r="2.24"/><circle cx="394.7" cy="423.1" r="2.24"/><circle cx="380.6" cy="328.5" r="2.24"/><circle cx="351.6" cy="304.4" r="2.24"/><circle cx="437.8" cy="255.4" r="2.24"/><circle cx="379.5" cy="213.7" r="2.24"/><circle cx="310.7" cy="300.1" r="2.24"/><circle cx="262.1" cy="281.3" r="2.24"/><circle cx="379.8" cy="174.3" r="2.24"/><circle cx="347.1" cy="331.4" r="2.24"/><circle cx="410.4" cy="281.6" r="2.24"/><circle cx="317.5" cy="341.6" r="2.24"/><circle cx="338.7" cy="215.9" r="2.24"/><circle cx="389.0" cy="390.8" r="2.24"/><circle cx="447.2" cy="278.6" r="2.24"/><circle cx="391.7" cy="195.0" r="2.24"/><circle cx="467.7" cy="187.6" r="2.24"/><circle cx="317.3" cy="262.4" r="2.24"/><circle cx="288.2" cy="186.8" r="2.24"/><circle cx="319.3" cy="236.9" r="2.24"/><circle cx="374.2" cy="301.0" r="2.24"/><circle cx="412.3" cy="402.3" r="2.24"/><circle cx="445.4" cy="400.8" r="2.24"/><circle cx="480.4" cy="285.1" r="2.24"/><circle cx="312.0" cy="229.1" r="2.24"/><circle cx="425.6" cy="317.6" r="2.24"/><circle cx="362.5" cy="247.8" r="2.24"/><circle cx="429.0" cy="213.0" r="2.24"/><circle cx="514.8" cy="142.3" r="2.24"/><circle cx="371.0" cy="214.3" r="2.24"/><circle cx="364.7" cy="377.2" r="2.24"/><circle cx="291.0" cy="209.9" r="2.24"/><circle cx="406.9" cy="267.4" r="2.24"/><circle cx="338.4" cy="329.6" r="2.24"/><circle cx="442.7" cy="289.8" r="2.24"/><circle cx="287.8" cy="212.9" r="2.24"/><circle cx="543.7" cy="143.7" r="2.24"/><circle cx="397.4" cy="256.5" r="2.24"/><circle cx="484.0" cy="261.8" r="2.24"/><circle cx="358.8" cy="333.0" r="2.24"/><circle cx="304.0" cy="288.0" r="2.24"/><circle cx="422.2" cy="391.7" r="2.24"/><circle cx="182.4" cy="194.6" r="2.24"/><circle cx="307.0" cy="301.3" r="2.24"/><circle cx="329.1" cy="237.7" r="2.24"/><circle cx="351.6" cy="222.0" r="2.24"/><circle cx="199.2" cy="170.3" r="2.24"/><circle cx="390.3" cy="406.7" r="2.24"/><circle cx="238.1" cy="272.6" r="2.24"/><circle cx="177.6" cy="214.7" r="2.24"/><circle cx="490.3" cy="237.4" r="2.24"/><circle cx="315.1" cy="266.5" r="2.24"/><circle cx="429.2" cy="418.6" r="2.24"/><circle cx="397.3" cy="257.4" r="2.24"/><circle cx="222.5" cy="244.7" r="2.24"/><circle cx="523.3" cy="154.3" r="2.24"/><circle cx="318.9" cy="356.3" r="2.24"/><circle cx="267.3" cy="324.1" r="2.24"/><circle cx="302.7" cy="277.5" r="2.24"/><circle cx="319.8" cy="278.2" r="2.24"/><circle cx="344.0" cy="300.9" r="2.24"/><circle cx="384.0" cy="240.8" r="2.24"/><circle cx="369.9" cy="342.1" r="2.24"/><circle cx="302.0" cy="311.9" r="2.24"/><circle cx="264.7" cy="223.6" r="2.24"/><circle cx="306.0" cy="183.8" r="2.24"/><circle cx="311.2" cy="287.3" r="2.24"/><circle cx="382.4" cy="346.3" r="2.24"/><circle cx="441.2" cy="260.5" r="2.24"/><circle cx="409.7" cy="206.0" r="2.24"/><circle cx="321.9" cy="307.9" r="2.24"/><circle cx="391.7" cy="403.5" r="2.24"/><circle cx="413.1" cy="290.6" r="2.24"/><circle cx="339.7" cy="364.2" r="2.24"/><circle cx="452.9" cy="340.0" r="2.24"/><circle cx="284.7" cy="203.8" r="2.24"/><circle cx="339.6" cy="293.8" r="2.24"/><circle cx="265.3" cy="199.4" r="2.24"/><circle cx="402.2" cy="295.1" r="2.24"/><circle cx="417.3" cy="333.6" r="2.24"/><circle cx="278.0" cy="319.0" r="2.24"/><circle cx="227.1" cy="184.7" r="2.24"/><circle cx="269.8" cy="340.3" r="2.24"/><circle cx="341.3" cy="212.7" r="2.24"/><circle cx="349.1" cy="239.2" r="2.24"/><circle cx="377.0" cy="234.3" r="2.24"/><circle cx="384.2" cy="367.9" r="2.24"/><circle cx="408.8" cy="303.0" r="2.24"/><circle cx="322.8" cy="350.2" r="2.24"/><circle cx="235.4" cy="180.4" r="2.24"/><circle cx="300.9" cy="302.1" r="2.24"/><circle cx="460.7" cy="365.5" r="2.24"/><circle cx="212.7" cy="272.4" r="2.24"/><circle cx="318.5" cy="328.9" r="2.24"/><circle cx="304.8" cy="364.3" r="2.24"/><circle cx="365.1" cy="320.4" r="2.24"/><circle cx="371.8" cy="249.3" r="2.24"/><circle cx="370.4" cy="370.2" r="2.24"/><circle cx="367.8" cy="190.7" r="2.24"/><circle cx="378.6" cy="325.5" r="2.24"/><circle cx="287.2" cy="346.6" r="2.24"/><circle cx="376.9" cy="415.0" r="2.24"/><circle cx="422.7" cy="193.3" r="2.24"/><circle cx="363.4" cy="368.7" r="2.24"/><circle cx="313.0" cy="247.0" r="2.24"/><circle cx="446.9" cy="197.8" r="2.24"/><circle cx="365.4" cy="296.1" r="2.24"/><circle cx="314.8" cy="218.1" r="2.24"/><circle cx="334.5" cy="287.9" r="2.24"/><circle cx="365.7" cy="314.3" r="2.24"/><circle cx="460.9" cy="229.9" r="2.24"/><circle cx="278.3" cy="336.9" r="2.24"/><circle cx="443.1" cy="238.0" r="2.24"/><circle cx="360.6" cy="382.2" r="2.24"/><circle cx="329.4" cy="228.0" r="2.24"/><circle cx="411.6" cy="257.4" r="2.24"/><circle cx="338.2" cy="350.2" r="2.24"/><circle cx="415.4" cy="173.8" r="2.24"/><circle cx="390.2" cy="390.3" r="2.24"/><circle cx="437.4" cy="308.9" r="2.24"/><circle cx="366.0" cy="311.6" r="2.24"/><circle cx="277.7" cy="208.1" r="2.24"/><circle cx="406.7" cy="350.3" r="2.24"/><circle cx="270.1" cy="307.8" r="2.24"/><circle cx="369.6" cy="312.9" r="2.24"/><circle cx="377.1" cy="274.3" r="2.24"/><circle cx="317.5" cy="276.7" r="2.24"/><circle cx="256.4" cy="275.3" r="2.24"/><circle cx="392.1" cy="319.5" r="2.24"/><circle cx="449.4" cy="232.4" r="2.24"/><circle cx="309.3" cy="317.2" r="2.24"/><circle cx="439.8" cy="355.6" r="2.24"/><circle cx="375.7" cy="234.3" r="2.24"/><circle cx="513.7" cy="186.3" r="2.24"/><circle cx="223.1" cy="194.7" r="2.24"/><circle cx="368.3" cy="213.6" r="2.24"/><circle cx="383.8" cy="229.0" r="2.24"/><circle cx="453.7" cy="259.3" r="2.24"/><circle cx="296.5" cy="283.3" r="2.24"/><circle cx="464.1" cy="233.5" r="2.24"/><circle cx="389.2" cy="233.3" r="2.24"/><circle cx="243.6" cy="316.3" r="2.24"/><circle cx="358.3" cy="229.1" r="2.24"/><circle cx="353.8" cy="263.2" r="2.24"/><circle cx="314.5" cy="218.2" r="2.24"/><circle cx="478.9" cy="142.9" r="2.24"/><circle cx="468.6" cy="246.4" r="2.24"/><circle cx="339.2" cy="299.3" r="2.24"/><circle cx="373.7" cy="410.5" r="2.24"/><circle cx="318.1" cy="229.8" r="2.24"/><circle cx="379.5" cy="208.5" r="2.24"/><circle cx="394.8" cy="319.7" r="2.24"/><circle cx="405.7" cy="382.8" r="2.24"/><circle cx="336.1" cy="278.8" r="2.24"/><circle cx="357.9" cy="273.2" r="2.24"/><circle cx="336.1" cy="232.3" r="2.24"/><circle cx="406.2" cy="212.1" r="2.24"/><circle cx="327.3" cy="337.2" r="2.24"/><circle cx="291.3" cy="263.7" r="2.24"/><circle cx="341.5" cy="351.5" r="2.24"/><circle cx="321.3" cy="184.1" r="2.24"/><circle cx="384.5" cy="171.4" r="2.24"/><circle cx="365.5" cy="250.7" r="2.24"/><circle cx="245.2" cy="251.8" r="2.24"/><circle cx="315.5" cy="270.1" r="2.24"/><circle cx="419.0" cy="226.2" r="2.24"/><circle cx="366.1" cy="328.7" r="2.24"/><circle cx="443.6" cy="255.3" r="2.24"/><circle cx="413.4" cy="400.0" r="2.24"/><circle cx="339.6" cy="311.2" r="2.24"/><circle cx="286.4" cy="348.7" r="2.24"/><circle cx="339.1" cy="318.1" r="2.24"/><circle cx="362.1" cy="207.6" r="2.24"/><circle cx="435.1" cy="315.7" r="2.24"/><circle cx="439.2" cy="282.7" r="2.24"/><circle cx="339.9" cy="302.0" r="2.24"/><circle cx="395.0" cy="225.8" r="2.24"/><circle cx="269.1" cy="306.5" r="2.24"/><circle cx="350.0" cy="376.2" r="2.24"/><circle cx="255.5" cy="256.1" r="2.24"/><circle cx="399.2" cy="433.7" r="2.24"/><circle cx="140.6" cy="197.0" r="2.24"/><circle cx="221.4" cy="298.6" r="2.24"/><circle cx="386.8" cy="267.0" r="2.24"/><circle cx="390.9" cy="166.7" r="2.24"/><circle cx="203.5" cy="230.4" r="2.24"/><circle cx="341.8" cy="241.9" r="2.24"/><circle cx="392.4" cy="353.6" r="2.24"/><circle cx="238.7" cy="196.7" r="2.24"/><circle cx="269.2" cy="192.0" r="2.24"/><circle cx="243.3" cy="266.3" r="2.24"/><circle cx="367.9" cy="320.9" r="2.24"/><circle cx="437.1" cy="152.7" r="2.24"/><circle cx="336.3" cy="280.4" r="2.24"/><circle cx="424.8" cy="405.3" r="2.24"/><circle cx="462.3" cy="314.1" r="2.24"/><circle cx="512.2" cy="181.5" r="2.24"/><circle cx="385.9" cy="353.5" r="2.24"/><circle cx="257.1" cy="328.0" r="2.24"/><circle cx="438.7" cy="424.6" r="2.24"/><circle cx="436.6" cy="397.7" r="2.24"/><circle cx="422.6" cy="403.2" r="2.24"/><circle cx="339.0" cy="318.5" r="2.24"/><circle cx="336.9" cy="262.2" r="2.24"/><circle cx="261.8" cy="331.7" r="2.24"/><circle cx="370.6" cy="256.8" r="2.24"/><circle cx="296.0" cy="218.7" r="2.24"/><circle cx="400.3" cy="178.9" r="2.24"/><circle cx="257.1" cy="275.6" r="2.24"/><circle cx="377.3" cy="304.9" r="2.24"/><circle cx="408.0" cy="250.1" r="2.24"/><circle cx="341.5" cy="385.2" r="2.24"/><circle cx="297.4" cy="232.6" r="2.24"/><circle cx="468.7" cy="271.7" r="2.24"/><circle cx="387.4" cy="159.7" r="2.24"/><circle cx="391.7" cy="344.5" r="2.24"/><circle cx="397.6" cy="390.3" r="2.24"/><circle cx="367.2" cy="246.7" r="2.24"/><circle cx="256.6" cy="235.4" r="2.24"/><circle cx="282.0" cy="246.7" r="2.24"/><circle cx="367.8" cy="259.8" r="2.24"/><circle cx="537.5" cy="194.1" r="2.24"/><circle cx="425.4" cy="427.2" r="2.24"/><circle cx="281.4" cy="309.2" r="2.24"/><circle cx="280.5" cy="176.8" r="2.24"/><circle cx="405.0" cy="353.2" r="2.24"/><circle cx="408.0" cy="287.1" r="2.24"/><circle cx="292.1" cy="255.3" r="2.24"/><circle cx="171.1" cy="192.3" r="2.24"/><circle cx="337.9" cy="194.1" r="2.24"/><circle cx="381.7" cy="312.0" r="2.24"/><circle cx="319.1" cy="223.0" r="2.24"/><circle cx="418.1" cy="365.8" r="2.24"/><circle cx="283.0" cy="356.9" r="2.24"/><circle cx="356.7" cy="293.9" r="2.24"/><circle cx="301.4" cy="294.4" r="2.24"/><circle cx="326.6" cy="212.7" r="2.24"/><circle cx="189.3" cy="221.2" r="2.24"/><circle cx="355.7" cy="290.4" r="2.24"/><circle cx="389.1" cy="428.3" r="2.24"/><circle cx="323.9" cy="334.5" r="2.24"/><circle cx="366.6" cy="218.7" r="2.24"/><circle cx="365.7" cy="309.0" r="2.24"/><circle cx="377.8" cy="191.2" r="2.24"/><circle cx="431.4" cy="412.3" r="2.24"/><circle cx="352.0" cy="305.1" r="2.24"/><circle cx="379.8" cy="269.9" r="2.24"/><circle cx="333.3" cy="367.1" r="2.24"/><circle cx="240.0" cy="271.6" r="2.24"/><circle cx="486.3" cy="207.4" r="2.24"/><circle cx="402.6" cy="308.6" r="2.24"/><circle cx="358.5" cy="268.1" r="2.24"/><circle cx="387.7" cy="248.9" r="2.24"/><circle cx="336.1" cy="273.6" r="2.24"/><circle cx="386.6" cy="186.6" r="2.24"/><circle cx="421.6" cy="356.1" r="2.24"/><circle cx="382.6" cy="308.5" r="2.24"/><circle cx="371.2" cy="356.6" r="2.24"/><circle cx="190.8" cy="245.8" r="2.24"/><circle cx="341.8" cy="387.4" r="2.24"/><circle cx="532.2" cy="209.8" r="2.24"/><circle cx="350.6" cy="305.3" r="2.24"/><circle cx="210.5" cy="260.2" r="2.24"/><circle cx="506.3" cy="185.7" r="2.24"/><circle cx="477.4" cy="207.8" r="2.24"/><circle cx="408.6" cy="398.1" r="2.24"/><circle cx="337.1" cy="216.7" r="2.24"/><circle cx="459.7" cy="214.5" r="2.24"/><circle cx="287.3" cy="276.3" r="2.24"/><circle cx="444.8" cy="341.1" r="2.24"/><circle cx="455.9" cy="289.7" r="2.24"/><circle cx="458.8" cy="281.8" r="2.24"/><circle cx="324.4" cy="326.5" r="2.24"/><circle cx="488.3" cy="305.5" r="2.24"/><circle cx="440.7" cy="275.8" r="2.24"/><circle cx="322.2" cy="234.1" r="2.24"/><circle cx="169.5" cy="201.1" r="2.24"/><circle cx="319.8" cy="232.4" r="2.24"/><circle cx="353.7" cy="365.3" r="2.24"/><circle cx="321.0" cy="314.4" r="2.24"/><circle cx="291.2" cy="239.3" r="2.24"/><circle cx="330.7" cy="256.7" r="2.24"/><circle cx="209.7" cy="257.7" r="2.24"/><circle cx="295.4" cy="359.2" r="2.24"/><circle cx="377.6" cy="397.3" r="2.24"/><circle cx="176.6" cy="239.0" r="2.24"/><circle cx="383.4" cy="371.7" r="2.24"/><circle cx="344.9" cy="240.9" r="2.24"/><circle cx="336.5" cy="356.1" r="2.24"/><circle cx="372.1" cy="195.9" r="2.24"/><circle cx="312.7" cy="260.9" r="2.24"/><circle cx="530.4" cy="153.2" r="2.24"/><circle cx="416.3" cy="310.5" r="2.24"/><circle cx="368.6" cy="276.7" r="2.24"/><circle cx="207.6" cy="203.8" r="2.24"/><circle cx="468.9" cy="342.3" r="2.24"/><circle cx="368.8" cy="284.6" r="2.24"/><circle cx="417.1" cy="334.5" r="2.24"/><circle cx="156.8" cy="218.7" r="2.24"/><circle cx="237.9" cy="299.1" r="2.24"/><circle cx="345.7" cy="220.1" r="2.24"/><circle cx="364.5" cy="174.5" r="2.24"/><circle cx="337.2" cy="294.8" r="2.24"/><circle cx="321.3" cy="354.4" r="2.24"/><circle cx="532.2" cy="206.8" r="2.24"/><circle cx="367.5" cy="323.8" r="2.24"/><circle cx="329.5" cy="206.5" r="2.24"/><circle cx="254.3" cy="319.4" r="2.24"/><circle cx="299.1" cy="219.8" r="2.24"/><circle cx="349.2" cy="193.9" r="2.24"/><circle cx="410.6" cy="259.3" r="2.24"/><circle cx="251.5" cy="260.2" r="2.24"/><circle cx="322.3" cy="258.8" r="2.24"/><circle cx="457.0" cy="283.9" r="2.24"/><circle cx="520.9" cy="196.2" r="2.24"/><circle cx="342.0" cy="159.9" r="2.24"/><circle cx="385.1" cy="306.0" r="2.24"/><circle cx="455.3" cy="153.6" r="2.24"/><circle cx="490.7" cy="221.1" r="2.24"/><circle cx="329.0" cy="280.0" r="2.24"/><circle cx="311.1" cy="220.5" r="2.24"/><circle cx="287.6" cy="359.4" r="2.24"/><circle cx="386.8" cy="409.0" r="2.24"/><circle cx="383.6" cy="273.8" r="2.24"/><circle cx="417.8" cy="373.4" r="2.24"/><circle cx="229.4" cy="246.5" r="2.24"/><circle cx="245.3" cy="269.4" r="2.24"/><circle cx="232.9" cy="255.1" r="2.24"/><circle cx="379.4" cy="174.3" r="2.24"/><circle cx="355.0" cy="196.0" r="2.24"/><circle cx="406.3" cy="253.0" r="2.24"/><circle cx="154.4" cy="187.6" r="2.24"/><circle cx="322.0" cy="154.6" r="2.24"/><circle cx="230.2" cy="206.0" r="2.24"/><circle cx="328.1" cy="309.4" r="2.24"/><circle cx="413.2" cy="369.8" r="2.24"/><circle cx="346.5" cy="315.6" r="2.24"/><circle cx="325.1" cy="340.1" r="2.24"/><circle cx="239.3" cy="263.2" r="2.24"/><circle cx="297.8" cy="164.7" r="2.24"/><circle cx="269.6" cy="320.6" r="2.24"/><circle cx="237.0" cy="240.8" r="2.24"/><circle cx="241.9" cy="294.8" r="2.24"/><circle cx="373.6" cy="183.7" r="2.24"/><circle cx="258.5" cy="307.6" r="2.24"/><circle cx="412.3" cy="413.1" r="2.24"/><circle cx="347.4" cy="225.8" r="2.24"/><circle cx="320.5" cy="325.8" r="2.24"/><circle cx="385.6" cy="267.4" r="2.24"/><circle cx="379.7" cy="327.0" r="2.24"/><circle cx="435.3" cy="370.0" r="2.24"/><circle cx="316.6" cy="360.7" r="2.24"/><circle cx="231.9" cy="263.8" r="2.24"/><circle cx="381.3" cy="233.1" r="2.24"/><circle cx="426.7" cy="380.1" r="2.24"/><circle cx="367.2" cy="243.3" r="2.24"/><circle cx="343.1" cy="279.3" r="2.24"/><circle cx="362.6" cy="322.6" r="2.24"/><circle cx="277.9" cy="285.6" r="2.24"/><circle cx="308.0" cy="260.8" r="2.24"/><circle cx="429.8" cy="302.1" r="2.24"/><circle cx="387.7" cy="283.6" r="2.24"/><circle cx="337.1" cy="372.3" r="2.24"/><circle cx="401.0" cy="429.3" r="2.24"/><circle cx="291.2" cy="248.9" r="2.24"/><circle cx="346.6" cy="253.7" r="2.24"/><circle cx="281.1" cy="305.4" r="2.24"/><circle cx="389.8" cy="406.4" r="2.24"/><circle cx="276.7" cy="306.2" r="2.24"/><circle cx="288.4" cy="254.9" r="2.24"/><circle cx="307.7" cy="296.2" r="2.24"/><circle cx="397.4" cy="294.5" r="2.24"/><circle cx="405.7" cy="322.9" r="2.24"/><circle cx="306.9" cy="211.4" r="2.24"/><circle cx="269.9" cy="238.2" r="2.24"/><circle cx="311.4" cy="241.1" r="2.24"/><circle cx="417.5" cy="184.9" r="2.24"/><circle cx="360.7" cy="385.1" r="2.24"/><circle cx="385.6" cy="280.2" r="2.24"/><circle cx="273.3" cy="263.5" r="2.24"/><circle cx="277.7" cy="250.2" r="2.24"/><circle cx="245.2" cy="212.5" r="2.24"/><circle cx="250.7" cy="200.8" r="2.24"/><circle cx="210.2" cy="217.2" r="2.24"/><circle cx="203.4" cy="244.4" r="2.24"/><circle cx="379.0" cy="291.9" r="2.24"/><circle cx="397.1" cy="302.5" r="2.24"/><circle cx="450.7" cy="272.3" r="2.24"/><circle cx="406.2" cy="251.9" r="2.24"/><circle cx="359.6" cy="272.1" r="2.24"/><circle cx="395.1" cy="367.1" r="2.24"/><circle cx="313.4" cy="329.5" r="2.24"/><circle cx="389.7" cy="290.9" r="2.24"/><circle cx="331.5" cy="272.0" r="2.24"/><circle cx="312.5" cy="350.1" r="2.24"/><circle cx="342.2" cy="308.4" r="2.24"/><circle cx="460.4" cy="211.8" r="2.24"/><circle cx="308.5" cy="186.1" r="2.24"/><circle cx="372.8" cy="239.5" r="2.24"/><circle cx="458.6" cy="337.3" r="2.24"/><circle cx="501.2" cy="279.2" r="2.24"/><circle cx="287.8" cy="229.5" r="2.24"/><circle cx="279.0" cy="213.6" r="2.24"/><circle cx="527.4" cy="224.4" r="2.24"/><circle cx="481.9" cy="232.4" r="2.24"/><circle cx="468.8" cy="226.0" r="2.24"/><circle cx="213.0" cy="207.2" r="2.24"/><circle cx="174.4" cy="217.7" r="2.24"/><circle cx="459.0" cy="360.1" r="2.24"/><circle cx="337.1" cy="331.9" r="2.24"/><circle cx="292.5" cy="328.3" r="2.24"/><circle cx="353.2" cy="348.4" r="2.24"/><circle cx="173.3" cy="239.6" r="2.24"/><circle cx="402.5" cy="287.6" r="2.24"/><circle cx="399.6" cy="345.6" r="2.24"/><circle cx="252.0" cy="200.5" r="2.24"/><circle cx="357.1" cy="268.7" r="2.24"/><circle cx="293.1" cy="340.7" r="2.24"/><circle cx="511.0" cy="239.4" r="2.24"/><circle cx="324.0" cy="311.5" r="2.24"/><circle cx="213.6" cy="227.0" r="2.24"/><circle cx="293.9" cy="244.1" r="2.24"/><circle cx="413.2" cy="429.0" r="2.24"/><circle cx="422.9" cy="268.4" r="2.24"/><circle cx="348.1" cy="228.1" r="2.24"/><circle cx="306.9" cy="319.6" r="2.24"/><circle cx="365.0" cy="208.3" r="2.24"/><circle cx="376.7" cy="200.0" r="2.24"/><circle cx="303.5" cy="274.6" r="2.24"/><circle cx="171.8" cy="181.8" r="2.24"/><circle cx="269.8" cy="305.0" r="2.24"/><circle cx="299.0" cy="319.1" r="2.24"/><circle cx="210.4" cy="259.1" r="2.24"/><circle cx="368.6" cy="167.4" r="2.24"/><circle cx="526.1" cy="221.5" r="2.24"/><circle cx="454.8" cy="279.0" r="2.24"/><circle cx="312.2" cy="320.6" r="2.24"/><circle cx="347.7" cy="360.1" r="2.24"/><circle cx="340.5" cy="323.2" r="2.24"/><circle cx="326.0" cy="278.7" r="2.24"/><circle cx="294.8" cy="346.8" r="2.24"/><circle cx="387.4" cy="406.7" r="2.24"/><circle cx="429.2" cy="326.2" r="2.24"/><circle cx="435.3" cy="266.1" r="2.24"/><circle cx="417.5" cy="387.1" r="2.24"/><circle cx="299.7" cy="266.8" r="2.24"/><circle cx="411.7" cy="282.0" r="2.24"/><circle cx="480.3" cy="165.8" r="2.24"/><circle cx="279.4" cy="276.1" r="2.24"/><circle cx="381.7" cy="256.2" r="2.24"/><circle cx="317.1" cy="183.6" r="2.24"/><circle cx="407.5" cy="341.6" r="2.24"/><circle cx="337.6" cy="273.1" r="2.24"/><circle cx="369.6" cy="350.3" r="2.24"/><circle cx="287.0" cy="320.7" r="2.24"/><circle cx="291.8" cy="327.7" r="2.24"/><circle cx="348.6" cy="226.7" r="2.24"/><circle cx="312.9" cy="301.6" r="2.24"/><circle cx="418.1" cy="191.1" r="2.24"/><circle cx="421.4" cy="246.2" r="2.24"/><circle cx="210.5" cy="231.9" r="2.24"/><circle cx="457.0" cy="362.3" r="2.24"/><circle cx="312.8" cy="353.6" r="2.24"/><circle cx="307.3" cy="253.0" r="2.24"/><circle cx="415.3" cy="426.3" r="2.24"/><circle cx="309.4" cy="186.2" r="2.24"/><circle cx="308.2" cy="237.1" r="2.24"/><circle cx="279.5" cy="220.1" r="2.24"/><circle cx="256.1" cy="276.0" r="2.24"/><circle cx="377.3" cy="378.9" r="2.24"/><circle cx="263.8" cy="222.9" r="2.24"/><circle cx="351.4" cy="320.8" r="2.24"/><circle cx="309.6" cy="324.2" r="2.24"/><circle cx="420.3" cy="422.8" r="2.24"/><circle cx="347.0" cy="331.3" r="2.24"/><circle cx="414.5" cy="358.4" r="2.24"/><circle cx="323.2" cy="180.4" r="2.24"/><circle cx="260.1" cy="313.8" r="2.24"/><circle cx="338.3" cy="270.0" r="2.24"/><circle cx="358.8" cy="392.1" r="2.24"/><circle cx="262.2" cy="276.7" r="2.24"/><circle cx="382.9" cy="267.2" r="2.24"/><circle cx="293.5" cy="295.3" r="2.24"/><circle cx="232.4" cy="290.8" r="2.24"/><circle cx="420.9" cy="264.9" r="2.24"/><circle cx="320.5" cy="312.0" r="2.24"/><circle cx="409.9" cy="382.8" r="2.24"/><circle cx="436.3" cy="424.1" r="2.24"/><circle cx="480.0" cy="202.9" r="2.24"/><circle cx="527.3" cy="153.9" r="2.24"/><circle cx="309.3" cy="263.3" r="2.24"/><circle cx="385.5" cy="421.4" r="2.24"/><circle cx="398.0" cy="195.3" r="2.24"/><circle cx="219.0" cy="218.5" r="2.24"/><circle cx="271.2" cy="242.1" r="2.24"/><circle cx="283.9" cy="186.6" r="2.24"/><circle cx="255.1" cy="227.7" r="2.24"/><circle cx="398.5" cy="304.0" r="2.24"/><circle cx="295.6" cy="272.8" r="2.24"/><circle cx="331.9" cy="161.0" r="2.24"/><circle cx="325.4" cy="360.8" r="2.24"/><circle cx="244.6" cy="279.0" r="2.24"/><circle cx="355.1" cy="324.8" r="2.24"/><circle cx="450.1" cy="236.4" r="2.24"/><circle cx="408.4" cy="266.1" r="2.24"/><circle cx="265.1" cy="199.4" r="2.24"/><circle cx="331.2" cy="265.3" r="2.24"/><circle cx="302.5" cy="217.6" r="2.24"/><circle cx="390.6" cy="211.8" r="2.24"/><circle cx="419.3" cy="316.9" r="2.24"/><circle cx="376.3" cy="400.8" r="2.24"/><circle cx="432.6" cy="389.5" r="2.24"/><circle cx="373.5" cy="231.1" r="2.24"/><circle cx="319.7" cy="208.6" r="2.24"/><circle cx="542.8" cy="172.2" r="2.24"/><circle cx="468.7" cy="287.2" r="2.24"/><circle cx="367.8" cy="316.9" r="2.24"/><circle cx="363.6" cy="182.4" r="2.24"/><circle cx="294.2" cy="313.8" r="2.24"/><circle cx="320.8" cy="251.3" r="2.24"/><circle cx="387.0" cy="224.3" r="2.24"/><circle cx="467.1" cy="176.9" r="2.24"/><circle cx="402.6" cy="209.5" r="2.24"/><circle cx="361.3" cy="316.6" r="2.24"/><circle cx="308.0" cy="189.8" r="2.24"/><circle cx="351.6" cy="280.9" r="2.24"/><circle cx="241.9" cy="226.6" r="2.24"/><circle cx="432.7" cy="187.0" r="2.24"/><circle cx="407.0" cy="303.9" r="2.24"/><circle cx="312.2" cy="208.3" r="2.24"/><circle cx="458.4" cy="286.7" r="2.24"/><circle cx="325.7" cy="351.2" r="2.24"/><circle cx="367.3" cy="204.8" r="2.24"/><circle cx="319.2" cy="369.5" r="2.24"/><circle cx="470.2" cy="240.8" r="2.24"/><circle cx="497.8" cy="172.3" r="2.24"/><circle cx="317.9" cy="290.7" r="2.24"/><circle cx="349.8" cy="223.6" r="2.24"/><circle cx="396.5" cy="233.0" r="2.24"/><circle cx="364.5" cy="277.9" r="2.24"/><circle cx="376.5" cy="198.5" r="2.24"/><circle cx="505.1" cy="142.3" r="2.24"/><circle cx="436.9" cy="303.2" r="2.24"/><circle cx="262.2" cy="251.2" r="2.24"/><circle cx="505.6" cy="290.9" r="2.24"/><circle cx="180.8" cy="211.2" r="2.24"/><circle cx="331.0" cy="331.5" r="2.24"/><circle cx="459.5" cy="271.9" r="2.24"/><circle cx="331.4" cy="259.3" r="2.24"/><circle cx="343.1" cy="358.1" r="2.24"/><circle cx="468.9" cy="225.7" r="2.24"/><circle cx="477.6" cy="212.1" r="2.24"/><circle cx="448.0" cy="303.6" r="2.24"/><circle cx="254.8" cy="221.2" r="2.24"/><circle cx="159.3" cy="208.2" r="2.24"/><circle cx="343.2" cy="211.0" r="2.24"/><circle cx="453.5" cy="351.6" r="2.24"/><circle cx="317.9" cy="241.2" r="2.24"/><circle cx="487.1" cy="178.1" r="2.24"/><circle cx="240.3" cy="241.9" r="2.24"/><circle cx="370.8" cy="285.8" r="2.24"/><circle cx="340.9" cy="250.5" r="2.24"/><circle cx="385.7" cy="216.4" r="2.24"/><circle cx="437.4" cy="339.5" r="2.24"/><circle cx="384.6" cy="188.3" r="2.24"/><circle cx="439.5" cy="384.2" r="2.24"/><circle cx="370.5" cy="271.7" r="2.24"/><circle cx="353.6" cy="293.7" r="2.24"/><circle cx="442.3" cy="410.1" r="2.24"/><circle cx="368.7" cy="330.4" r="2.24"/><circle cx="475.1" cy="215.3" r="2.24"/><circle cx="339.1" cy="344.1" r="2.24"/><circle cx="332.2" cy="314.3" r="2.24"/><circle cx="403.8" cy="196.2" r="2.24"/><circle cx="270.2" cy="286.6" r="2.24"/><circle cx="368.2" cy="239.1" r="2.24"/><circle cx="350.3" cy="340.9" r="2.24"/><circle cx="241.9" cy="301.7" r="2.24"/><circle cx="325.3" cy="301.7" r="2.24"/><circle cx="226.0" cy="268.4" r="2.24"/><circle cx="333.7" cy="343.7" r="2.24"/><circle cx="323.9" cy="206.5" r="2.24"/><circle cx="243.0" cy="279.9" r="2.24"/><circle cx="270.6" cy="343.5" r="2.24"/><circle cx="247.4" cy="280.6" r="2.24"/><circle cx="375.7" cy="291.0" r="2.24"/><circle cx="301.7" cy="250.7" r="2.24"/><circle cx="403.8" cy="435.8" r="2.24"/><circle cx="351.3" cy="227.2" r="2.24"/><circle cx="383.4" cy="178.7" r="2.24"/><circle cx="413.9" cy="292.7" r="2.24"/><circle cx="403.2" cy="354.9" r="2.24"/><circle cx="302.4" cy="329.3" r="2.24"/><circle cx="262.6" cy="289.8" r="2.24"/><circle cx="373.8" cy="292.6" r="2.24"/><circle cx="259.8" cy="250.9" r="2.24"/><circle cx="415.1" cy="347.3" r="2.24"/><circle cx="397.3" cy="347.2" r="2.24"/><circle cx="259.9" cy="182.8" r="2.24"/><circle cx="336.7" cy="312.3" r="2.24"/><circle cx="300.0" cy="218.3" r="2.24"/><circle cx="407.9" cy="192.6" r="2.24"/><circle cx="418.3" cy="409.8" r="2.24"/><circle cx="187.0" cy="190.4" r="2.24"/><circle cx="254.5" cy="249.8" r="2.24"/><circle cx="377.9" cy="311.9" r="2.24"/><circle cx="286.6" cy="273.4" r="2.24"/><circle cx="380.2" cy="371.5" r="2.24"/><circle cx="412.2" cy="151.6" r="2.24"/><circle cx="323.5" cy="180.9" r="2.24"/><circle cx="442.2" cy="206.9" r="2.24"/><circle cx="349.7" cy="204.9" r="2.24"/><circle cx="431.4" cy="246.2" r="2.24"/><circle cx="414.4" cy="280.4" r="2.24"/><circle cx="431.9" cy="304.9" r="2.24"/><circle cx="383.5" cy="390.6" r="2.24"/><circle cx="335.0" cy="173.0" r="2.24"/><circle cx="328.3" cy="247.7" r="2.24"/><circle cx="412.8" cy="259.6" r="2.24"/><circle cx="464.2" cy="231.3" r="2.24"/><circle cx="439.0" cy="181.0" r="2.24"/><circle cx="460.2" cy="320.9" r="2.24"/><circle cx="367.3" cy="313.3" r="2.24"/><circle cx="305.1" cy="208.4" r="2.24"/><circle cx="375.7" cy="264.1" r="2.24"/><circle cx="383.9" cy="205.3" r="2.24"/><circle cx="440.2" cy="199.5" r="2.24"/><circle cx="358.9" cy="341.5" r="2.24"/><circle cx="251.7" cy="211.5" r="2.24"/><circle cx="235.2" cy="214.8" r="2.24"/><circle cx="352.8" cy="196.5" r="2.24"/><circle cx="287.3" cy="268.5" r="2.24"/><circle cx="498.8" cy="182.7" r="2.24"/><circle cx="323.3" cy="211.9" r="2.24"/><circle cx="293.6" cy="188.0" r="2.24"/><circle cx="382.8" cy="347.4" r="2.24"/><circle cx="322.0" cy="279.2" r="2.24"/><circle cx="326.1" cy="379.6" r="2.24"/><circle cx="328.7" cy="362.4" r="2.24"/><circle cx="303.3" cy="215.7" r="2.24"/><circle cx="387.5" cy="397.3" r="2.24"/><circle cx="315.5" cy="182.6" r="2.24"/><circle cx="283.0" cy="255.3" r="2.24"/><circle cx="406.2" cy="337.6" r="2.24"/><circle cx="435.7" cy="391.9" r="2.24"/><circle cx="384.1" cy="297.0" r="2.24"/><circle cx="324.6" cy="330.1" r="2.24"/><circle cx="402.4" cy="220.9" r="2.24"/><circle cx="410.1" cy="409.8" r="2.24"/><circle cx="371.9" cy="266.1" r="2.24"/><circle cx="340.6" cy="386.2" r="2.24"/><circle cx="386.8" cy="273.2" r="2.24"/><circle cx="385.3" cy="163.9" r="2.24"/><circle cx="276.5" cy="278.5" r="2.24"/><circle cx="297.8" cy="339.0" r="2.24"/><circle cx="369.7" cy="299.2" r="2.24"/><circle cx="350.5" cy="369.5" r="2.24"/><circle cx="359.7" cy="284.3" r="2.24"/><circle cx="367.3" cy="296.9" r="2.24"/><circle cx="338.9" cy="208.8" r="2.24"/><circle cx="370.4" cy="310.1" r="2.24"/><circle cx="388.5" cy="284.5" r="2.24"/><circle cx="186.2" cy="217.1" r="2.24"/><circle cx="396.1" cy="291.5" r="2.24"/><circle cx="459.8" cy="169.8" r="2.24"/><circle cx="375.1" cy="234.6" r="2.24"/><circle cx="371.3" cy="380.0" r="2.24"/><circle cx="429.5" cy="288.2" r="2.24"/><circle cx="317.0" cy="292.6" r="2.24"/><circle cx="360.3" cy="333.3" r="2.24"/><circle cx="384.6" cy="354.9" r="2.24"/><circle cx="427.2" cy="345.4" r="2.24"/><circle cx="304.7" cy="312.8" r="2.24"/><circle cx="245.3" cy="324.1" r="2.24"/><circle cx="167.3" cy="225.6" r="2.24"/><circle cx="179.8" cy="186.3" r="2.24"/><circle cx="325.2" cy="207.2" r="2.24"/><circle cx="277.8" cy="274.5" r="2.24"/><circle cx="268.0" cy="289.5" r="2.24"/><circle cx="396.5" cy="361.8" r="2.24"/><circle cx="240.1" cy="265.5" r="2.24"/><circle cx="439.2" cy="269.3" r="2.24"/><circle cx="307.8" cy="212.5" r="2.24"/><circle cx="344.0" cy="368.3" r="2.24"/><circle cx="263.2" cy="223.6" r="2.24"/><circle cx="479.8" cy="262.9" r="2.24"/><circle cx="419.1" cy="441.0" r="2.24"/><circle cx="410.2" cy="196.4" r="2.24"/><circle cx="278.7" cy="223.6" r="2.24"/><circle cx="340.1" cy="221.5" r="2.24"/><circle cx="408.2" cy="201.4" r="2.24"/><circle cx="441.7" cy="249.1" r="2.24"/><circle cx="428.9" cy="391.7" r="2.24"/><circle cx="386.8" cy="397.5" r="2.24"/><circle cx="354.3" cy="372.0" r="2.24"/><circle cx="421.1" cy="447.0" r="2.24"/><circle cx="387.1" cy="244.9" r="2.24"/><circle cx="411.3" cy="288.6" r="2.24"/><circle cx="372.6" cy="359.1" r="2.24"/><circle cx="371.4" cy="199.5" r="2.24"/><circle cx="289.4" cy="253.5" r="2.24"/><circle cx="408.0" cy="206.6" r="2.24"/><circle cx="376.1" cy="278.3" r="2.24"/><circle cx="376.8" cy="302.4" r="2.24"/><circle cx="223.6" cy="224.1" r="2.24"/><circle cx="471.2" cy="292.6" r="2.24"/><circle cx="449.2" cy="296.8" r="2.24"/><circle cx="268.0" cy="227.0" r="2.24"/><circle cx="263.9" cy="255.3" r="2.24"/><circle cx="345.3" cy="264.6" r="2.24"/><circle cx="311.8" cy="237.0" r="2.24"/><circle cx="527.0" cy="156.4" r="2.24"/><circle cx="248.4" cy="227.8" r="2.24"/><circle cx="279.0" cy="251.2" r="2.24"/><circle cx="422.0" cy="270.3" r="2.24"/><circle cx="320.3" cy="349.1" r="2.24"/><circle cx="437.3" cy="203.6" r="2.24"/><circle cx="376.9" cy="335.4" r="2.24"/><circle cx="412.6" cy="221.4" r="2.24"/><circle cx="354.9" cy="356.2" r="2.24"/><circle cx="162.4" cy="210.9" r="2.24"/><circle cx="310.6" cy="288.5" r="2.24"/><circle cx="544.3" cy="154.1" r="2.24"/><circle cx="327.8" cy="377.6" r="2.24"/><circle cx="360.6" cy="396.4" r="2.24"/><circle cx="460.3" cy="315.2" r="2.24"/><circle cx="249.6" cy="246.4" r="2.24"/><circle cx="363.4" cy="368.2" r="2.24"/><circle cx="387.5" cy="288.0" r="2.24"/><circle cx="259.2" cy="245.2" r="2.24"/><circle cx="299.6" cy="367.2" r="2.24"/><circle cx="348.9" cy="297.1" r="2.24"/><circle cx="316.9" cy="234.7" r="2.24"/><circle cx="379.7" cy="192.7" r="2.24"/><circle cx="231.6" cy="263.7" r="2.24"/><circle cx="360.3" cy="318.1" r="2.24"/><circle cx="478.2" cy="304.0" r="2.24"/><circle cx="384.9" cy="413.5" r="2.24"/><circle cx="370.3" cy="334.8" r="2.24"/><circle cx="420.2" cy="278.9" r="2.24"/><circle cx="316.7" cy="264.7" r="2.24"/><circle cx="209.3" cy="207.3" r="2.24"/><circle cx="426.5" cy="405.8" r="2.24"/><circle cx="501.5" cy="208.3" r="2.24"/><circle cx="253.1" cy="180.4" r="2.24"/><circle cx="408.6" cy="363.2" r="2.24"/><circle cx="281.0" cy="296.2" r="2.24"/><circle cx="305.8" cy="277.9" r="2.24"/><circle cx="301.0" cy="235.4" r="2.24"/><circle cx="526.7" cy="188.1" r="2.24"/><circle cx="353.7" cy="402.0" r="2.24"/><circle cx="380.0" cy="239.2" r="2.24"/><circle cx="442.0" cy="370.8" r="2.24"/><circle cx="344.0" cy="375.1" r="2.24"/><circle cx="343.9" cy="367.9" r="2.24"/><circle cx="334.8" cy="162.4" r="2.24"/><circle cx="222.7" cy="202.0" r="2.24"/><circle cx="312.3" cy="271.4" r="2.24"/><circle cx="436.1" cy="224.4" r="2.24"/><circle cx="302.2" cy="297.1" r="2.24"/><circle cx="391.5" cy="270.2" r="2.24"/><circle cx="312.3" cy="295.3" r="2.24"/><circle cx="355.6" cy="170.2" r="2.24"/><circle cx="525.6" cy="209.4" r="2.24"/><circle cx="166.7" cy="213.6" r="2.24"/><circle cx="359.9" cy="373.5" r="2.24"/><circle cx="275.9" cy="240.0" r="2.24"/><circle cx="420.2" cy="371.3" r="2.24"/><circle cx="393.3" cy="344.5" r="2.24"/><circle cx="289.7" cy="253.6" r="2.24"/><circle cx="304.6" cy="303.8" r="2.24"/><circle cx="356.4" cy="279.0" r="2.24"/><circle cx="321.8" cy="278.4" r="2.24"/><circle cx="278.5" cy="174.1" r="2.24"/><circle cx="408.3" cy="390.9" r="2.24"/><circle cx="375.0" cy="247.4" r="2.24"/><circle cx="353.8" cy="327.1" r="2.24"/><circle cx="225.2" cy="291.4" r="2.24"/><circle cx="514.1" cy="235.9" r="2.24"/><circle cx="378.9" cy="325.6" r="2.24"/><circle cx="230.6" cy="274.7" r="2.24"/><circle cx="306.5" cy="313.5" r="2.24"/><circle cx="289.6" cy="200.1" r="2.24"/><circle cx="348.2" cy="268.2" r="2.24"/><circle cx="211.3" cy="219.4" r="2.24"/><circle cx="202.0" cy="205.0" r="2.24"/><circle cx="249.9" cy="252.0" r="2.24"/><circle cx="157.7" cy="176.5" r="2.24"/><circle cx="264.4" cy="219.5" r="2.24"/><circle cx="256.0" cy="325.2" r="2.24"/><circle cx="317.8" cy="281.3" r="2.24"/><circle cx="444.8" cy="339.2" r="2.24"/><circle cx="454.2" cy="164.6" r="2.24"/><circle cx="278.2" cy="337.6" r="2.24"/><circle cx="324.6" cy="307.9" r="2.24"/><circle cx="390.2" cy="367.0" r="2.24"/><circle cx="348.8" cy="204.8" r="2.24"/><circle cx="189.6" cy="282.2" r="2.24"/><circle cx="276.6" cy="207.1" r="2.24"/><circle cx="315.4" cy="260.9" r="2.24"/><circle cx="270.4" cy="319.4" r="2.24"/><circle cx="396.3" cy="290.0" r="2.24"/><circle cx="357.4" cy="278.1" r="2.24"/><circle cx="317.0" cy="264.9" r="2.24"/><circle cx="409.8" cy="345.8" r="2.24"/><circle cx="523.0" cy="218.3" r="2.24"/><circle cx="243.9" cy="306.4" r="2.24"/><circle cx="327.2" cy="210.9" r="2.24"/><circle cx="301.1" cy="297.6" r="2.24"/><circle cx="428.9" cy="282.8" r="2.24"/><circle cx="279.6" cy="306.0" r="2.24"/><circle cx="273.4" cy="192.9" r="2.24"/><circle cx="296.8" cy="286.5" r="2.24"/><circle cx="273.1" cy="338.2" r="2.24"/><circle cx="322.3" cy="343.1" r="2.24"/><circle cx="510.8" cy="266.0" r="2.24"/><circle cx="374.0" cy="157.2" r="2.24"/><circle cx="356.1" cy="344.8" r="2.24"/><circle cx="401.9" cy="316.7" r="2.24"/><circle cx="438.7" cy="193.4" r="2.24"/><circle cx="265.2" cy="319.7" r="2.24"/><circle cx="443.3" cy="378.8" r="2.24"/><circle cx="271.9" cy="304.9" r="2.24"/><circle cx="277.5" cy="289.2" r="2.24"/><circle cx="409.7" cy="333.4" r="2.24"/><circle cx="291.0" cy="306.4" r="2.24"/><circle cx="452.7" cy="175.1" r="2.24"/><circle cx="242.4" cy="302.5" r="2.24"/><circle cx="160.6" cy="223.9" r="2.24"/><circle cx="298.5" cy="260.4" r="2.24"/><circle cx="370.9" cy="312.7" r="2.24"/><circle cx="359.2" cy="282.3" r="2.24"/><circle cx="221.7" cy="244.7" r="2.24"/><circle cx="389.6" cy="357.8" r="2.24"/><circle cx="343.1" cy="264.5" r="2.24"/><circle cx="211.8" cy="206.4" r="2.24"/><circle cx="212.2" cy="220.1" r="2.24"/><circle cx="237.7" cy="296.6" r="2.24"/><circle cx="335.6" cy="328.6" r="2.24"/><circle cx="331.0" cy="280.9" r="2.24"/><circle cx="255.9" cy="219.2" r="2.24"/><circle cx="253.5" cy="299.0" r="2.24"/><circle cx="274.2" cy="292.6" r="2.24"/><circle cx="499.0" cy="240.1" r="2.24"/><circle cx="298.2" cy="273.1" r="2.24"/><circle cx="379.6" cy="270.8" r="2.24"/><circle cx="391.1" cy="252.0" r="2.24"/><circle cx="408.5" cy="429.1" r="2.24"/><circle cx="390.9" cy="301.6" r="2.24"/><circle cx="182.5" cy="202.8" r="2.24"/><circle cx="425.4" cy="264.7" r="2.24"/><circle cx="315.3" cy="256.8" r="2.24"/><circle cx="187.1" cy="186.1" r="2.24"/><circle cx="272.5" cy="240.3" r="2.24"/><circle cx="354.7" cy="169.9" r="2.24"/><circle cx="316.3" cy="331.3" r="2.24"/><circle cx="421.3" cy="334.7" r="2.24"/><circle cx="511.4" cy="223.8" r="2.24"/><circle cx="410.7" cy="238.3" r="2.24"/><circle cx="313.0" cy="306.1" r="2.24"/><circle cx="366.6" cy="372.0" r="2.24"/><circle cx="383.8" cy="330.5" r="2.24"/><circle cx="451.9" cy="193.8" r="2.24"/><circle cx="275.7" cy="269.5" r="2.24"/><circle cx="278.3" cy="310.9" r="2.24"/><circle cx="271.0" cy="228.4" r="2.24"/><circle cx="411.2" cy="321.1" r="2.24"/><circle cx="181.7" cy="175.9" r="2.24"/><circle cx="382.4" cy="381.7" r="2.24"/><circle cx="210.6" cy="274.2" r="2.24"/><circle cx="274.8" cy="232.2" r="2.24"/><circle cx="324.5" cy="237.3" r="2.24"/><circle cx="333.2" cy="351.6" r="2.24"/><circle cx="372.3" cy="278.6" r="2.24"/><circle cx="519.8" cy="149.6" r="2.24"/><circle cx="298.0" cy="327.4" r="2.24"/><circle cx="328.4" cy="262.0" r="2.24"/><circle cx="406.4" cy="407.3" r="2.24"/><circle cx="231.6" cy="193.6" r="2.24"/><circle cx="360.3" cy="234.2" r="2.24"/><circle cx="506.9" cy="209.6" r="2.24"/><circle cx="238.2" cy="313.0" r="2.24"/><circle cx="362.4" cy="257.0" r="2.24"/><circle cx="397.6" cy="394.8" r="2.24"/><circle cx="429.1" cy="414.1" r="2.24"/><circle cx="314.7" cy="169.6" r="2.24"/><circle cx="191.3" cy="196.4" r="2.24"/><circle cx="338.1" cy="199.0" r="2.24"/><circle cx="242.6" cy="211.3" r="2.24"/><circle cx="383.8" cy="285.2" r="2.24"/><circle cx="302.1" cy="355.1" r="2.24"/><circle cx="305.8" cy="347.7" r="2.24"/><circle cx="387.8" cy="285.1" r="2.24"/><circle cx="308.7" cy="318.1" r="2.24"/><circle cx="399.6" cy="351.1" r="2.24"/><circle cx="296.4" cy="204.7" r="2.24"/><circle cx="316.8" cy="259.2" r="2.24"/><circle cx="517.1" cy="148.6" r="2.24"/><circle cx="444.3" cy="213.1" r="2.24"/><circle cx="421.6" cy="187.9" r="2.24"/><circle cx="265.1" cy="198.7" r="2.24"/><circle cx="319.5" cy="360.8" r="2.24"/><circle cx="326.9" cy="323.7" r="2.24"/><circle cx="184.7" cy="222.1" r="2.24"/><circle cx="356.6" cy="177.2" r="2.24"/><circle cx="235.2" cy="249.3" r="2.24"/><circle cx="465.2" cy="262.4" r="2.24"/><circle cx="356.1" cy="227.3" r="2.24"/><circle cx="374.4" cy="241.4" r="2.24"/><circle cx="370.3" cy="352.9" r="2.24"/><circle cx="286.4" cy="275.7" r="2.24"/><circle cx="429.4" cy="239.9" r="2.24"/><circle cx="338.2" cy="353.2" r="2.24"/><circle cx="334.0" cy="233.2" r="2.24"/><circle cx="325.3" cy="275.9" r="2.24"/><circle cx="219.3" cy="282.6" r="2.24"/><circle cx="272.7" cy="311.7" r="2.24"/><circle cx="497.8" cy="294.2" r="2.24"/><circle cx="339.3" cy="278.6" r="2.24"/><circle cx="358.8" cy="255.3" r="2.24"/><circle cx="516.4" cy="281.4" r="2.24"/><circle cx="251.1" cy="242.6" r="2.24"/><circle cx="246.4" cy="173.0" r="2.24"/><circle cx="353.8" cy="316.6" r="2.24"/><circle cx="316.4" cy="288.1" r="2.24"/><circle cx="266.0" cy="245.4" r="2.24"/><circle cx="500.6" cy="182.7" r="2.24"/><circle cx="345.7" cy="332.3" r="2.24"/><circle cx="463.1" cy="214.4" r="2.24"/><circle cx="340.8" cy="248.6" r="2.24"/><circle cx="292.4" cy="311.4" r="2.24"/><circle cx="275.0" cy="292.4" r="2.24"/><circle cx="532.1" cy="206.2" r="2.24"/><circle cx="431.8" cy="259.5" r="2.24"/><circle cx="222.0" cy="202.1" r="2.24"/><circle cx="465.1" cy="322.5" r="2.24"/><circle cx="318.4" cy="264.9" r="2.24"/><circle cx="459.2" cy="202.0" r="2.24"/><circle cx="343.7" cy="351.5" r="2.24"/><circle cx="464.1" cy="321.9" r="2.24"/><circle cx="374.9" cy="240.5" r="2.24"/><circle cx="291.9" cy="278.6" r="2.24"/><circle cx="374.1" cy="323.6" r="2.24"/><circle cx="443.1" cy="367.8" r="2.24"/><circle cx="260.3" cy="316.7" r="2.24"/><circle cx="368.3" cy="374.3" r="2.24"/><circle cx="354.3" cy="317.0" r="2.24"/><circle cx="257.2" cy="315.4" r="2.24"/><circle cx="409.5" cy="249.4" r="2.24"/><circle cx="421.0" cy="351.4" r="2.24"/><circle cx="420.9" cy="451.0" r="2.24"/><circle cx="371.4" cy="207.7" r="2.24"/><circle cx="478.5" cy="151.1" r="2.24"/><circle cx="261.1" cy="299.0" r="2.24"/><circle cx="522.6" cy="166.1" r="2.24"/><circle cx="514.1" cy="171.4" r="2.24"/><circle cx="373.4" cy="177.1" r="2.24"/><circle cx="298.4" cy="334.2" r="2.24"/><circle cx="493.6" cy="196.0" r="2.24"/><circle cx="362.8" cy="343.7" r="2.24"/><circle cx="289.5" cy="260.2" r="2.24"/><circle cx="278.8" cy="272.0" r="2.24"/><circle cx="493.0" cy="145.2" r="2.24"/><circle cx="509.4" cy="251.4" r="2.24"/><circle cx="413.0" cy="318.9" r="2.24"/><circle cx="152.2" cy="187.8" r="2.24"/><circle cx="226.5" cy="266.0" r="2.24"/><circle cx="494.1" cy="294.2" r="2.24"/><circle cx="433.1" cy="201.0" r="2.24"/><circle cx="322.0" cy="232.6" r="2.24"/><circle cx="222.3" cy="225.4" r="2.24"/><circle cx="415.1" cy="182.2" r="2.24"/><circle cx="353.7" cy="222.6" r="2.24"/><circle cx="322.6" cy="344.3" r="2.24"/><circle cx="313.3" cy="277.0" r="2.24"/><circle cx="329.0" cy="171.1" r="2.24"/><circle cx="474.3" cy="302.1" r="2.24"/><circle cx="292.4" cy="282.6" r="2.24"/><circle cx="455.6" cy="231.4" r="2.24"/><circle cx="200.2" cy="259.3" r="2.24"/><circle cx="300.9" cy="211.9" r="2.24"/><circle cx="310.6" cy="269.1" r="2.24"/><circle cx="375.4" cy="304.6" r="2.24"/><circle cx="299.8" cy="291.3" r="2.24"/><circle cx="345.7" cy="244.0" r="2.24"/><circle cx="408.9" cy="385.1" r="2.24"/><circle cx="248.7" cy="209.8" r="2.24"/><circle cx="359.5" cy="409.0" r="2.24"/><circle cx="261.7" cy="324.4" r="2.24"/><circle cx="384.1" cy="317.1" r="2.24"/><circle cx="294.9" cy="288.7" r="2.24"/><circle cx="470.3" cy="355.6" r="2.24"/><circle cx="163.3" cy="202.3" r="2.24"/><circle cx="365.8" cy="265.6" r="2.24"/><circle cx="282.7" cy="254.1" r="2.24"/><circle cx="331.8" cy="264.5" r="2.24"/><circle cx="315.7" cy="371.5" r="2.24"/><circle cx="500.2" cy="184.0" r="2.24"/><circle cx="315.0" cy="320.5" r="2.24"/><circle cx="234.9" cy="271.0" r="2.24"/><circle cx="296.5" cy="218.7" r="2.24"/><circle cx="448.8" cy="376.1" r="2.24"/><circle cx="483.8" cy="161.5" r="2.24"/><circle cx="366.4" cy="303.0" r="2.24"/><circle cx="367.4" cy="268.1" r="2.24"/><circle cx="356.7" cy="209.2" r="2.24"/><circle cx="330.9" cy="272.0" r="2.24"/><circle cx="322.8" cy="282.8" r="2.24"/><circle cx="264.0" cy="293.4" r="2.24"/><circle cx="344.6" cy="367.1" r="2.24"/><circle cx="231.9" cy="227.0" r="2.24"/><circle cx="297.9" cy="306.4" r="2.24"/><circle cx="367.5" cy="326.2" r="2.24"/><circle cx="412.5" cy="356.9" r="2.24"/><circle cx="383.1" cy="396.0" r="2.24"/><circle cx="230.7" cy="232.9" r="2.24"/><circle cx="229.0" cy="285.8" r="2.24"/><circle cx="355.2" cy="395.0" r="2.24"/><circle cx="379.3" cy="360.1" r="2.24"/><circle cx="425.2" cy="446.7" r="2.24"/><circle cx="367.4" cy="254.4" r="2.24"/><circle cx="478.5" cy="220.9" r="2.24"/><circle cx="325.5" cy="331.9" r="2.24"/><circle cx="303.2" cy="280.5" r="2.24"/><circle cx="460.5" cy="209.2" r="2.24"/><circle cx="165.8" cy="233.8" r="2.24"/><circle cx="430.8" cy="361.1" r="2.24"/><circle cx="287.9" cy="278.1" r="2.24"/><circle cx="371.3" cy="362.8" r="2.24"/><circle cx="170.5" cy="222.8" r="2.24"/><circle cx="439.3" cy="194.1" r="2.24"/><circle cx="330.9" cy="351.7" r="2.24"/><circle cx="191.7" cy="270.3" r="2.24"/><circle cx="474.4" cy="288.7" r="2.24"/><circle cx="377.7" cy="321.3" r="2.24"/><circle cx="351.0" cy="284.9" r="2.24"/><circle cx="375.5" cy="411.7" r="2.24"/><circle cx="352.9" cy="363.9" r="2.24"/><circle cx="386.1" cy="208.8" r="2.24"/><circle cx="201.0" cy="198.6" r="2.24"/><circle cx="181.4" cy="207.6" r="2.24"/><circle cx="306.0" cy="269.2" r="2.24"/><circle cx="246.5" cy="211.7" r="2.24"/><circle cx="559.9" cy="144.3" r="2.24"/><circle cx="365.2" cy="322.9" r="2.24"/><circle cx="319.0" cy="224.6" r="2.24"/><circle cx="351.4" cy="285.6" r="2.24"/><circle cx="318.9" cy="180.6" r="2.24"/><circle cx="409.6" cy="196.1" r="2.24"/><circle cx="212.8" cy="261.9" r="2.24"/><circle cx="326.2" cy="228.1" r="2.24"/><circle cx="344.6" cy="249.9" r="2.24"/><circle cx="267.8" cy="323.4" r="2.24"/><circle cx="293.9" cy="270.1" r="2.24"/><circle cx="195.2" cy="235.0" r="2.24"/><circle cx="211.8" cy="267.8" r="2.24"/><circle cx="313.0" cy="246.2" r="2.24"/><circle cx="351.1" cy="330.6" r="2.24"/><circle cx="223.9" cy="303.4" r="2.24"/><circle cx="415.6" cy="390.9" r="2.24"/><circle cx="467.7" cy="328.1" r="2.24"/><circle cx="255.6" cy="290.3" r="2.24"/><circle cx="415.3" cy="283.5" r="2.24"/><circle cx="279.8" cy="225.0" r="2.24"/><circle cx="291.1" cy="288.3" r="2.24"/><circle cx="169.8" cy="227.8" r="2.24"/><circle cx="451.6" cy="382.2" r="2.24"/><circle cx="296.5" cy="358.7" r="2.24"/><circle cx="547.2" cy="201.8" r="2.24"/><circle cx="276.9" cy="307.8" r="2.24"/><circle cx="420.9" cy="270.7" r="2.24"/><circle cx="453.6" cy="174.1" r="2.24"/><circle cx="317.2" cy="367.7" r="2.24"/><circle cx="339.3" cy="238.8" r="2.24"/><circle cx="313.8" cy="255.4" r="2.24"/><circle cx="539.4" cy="163.7" r="2.24"/><circle cx="422.1" cy="390.1" r="2.24"/><circle cx="420.6" cy="269.9" r="2.24"/><circle cx="419.0" cy="265.8" r="2.24"/><circle cx="296.5" cy="314.2" r="2.24"/><circle cx="248.0" cy="247.7" r="2.24"/><circle cx="264.9" cy="291.8" r="2.24"/><circle cx="432.5" cy="346.6" r="2.24"/><circle cx="278.1" cy="231.3" r="2.24"/><circle cx="326.5" cy="230.3" r="2.24"/><circle cx="381.4" cy="299.2" r="2.24"/><circle cx="350.9" cy="377.0" r="2.24"/><circle cx="342.2" cy="290.7" r="2.24"/><circle cx="388.4" cy="262.2" r="2.24"/><circle cx="374.8" cy="348.5" r="2.24"/><circle cx="376.2" cy="329.1" r="2.24"/><circle cx="503.3" cy="145.7" r="2.24"/><circle cx="319.4" cy="312.9" r="2.24"/><circle cx="337.6" cy="328.9" r="2.24"/><circle cx="445.0" cy="300.9" r="2.24"/><circle cx="379.6" cy="405.1" r="2.24"/><circle cx="300.4" cy="182.9" r="2.24"/><circle cx="367.0" cy="280.7" r="2.24"/><circle cx="492.2" cy="237.4" r="2.24"/><circle cx="464.7" cy="307.7" r="2.24"/><circle cx="503.3" cy="179.2" r="2.24"/><circle cx="203.4" cy="179.5" r="2.24"/><circle cx="420.2" cy="342.5" r="2.24"/><circle cx="308.5" cy="290.2" r="2.24"/><circle cx="331.0" cy="336.6" r="2.24"/><circle cx="381.8" cy="170.0" r="2.24"/><circle cx="381.6" cy="363.9" r="2.24"/><circle cx="217.8" cy="295.5" r="2.24"/><circle cx="370.2" cy="328.4" r="2.24"/><circle cx="406.9" cy="250.0" r="2.24"/><circle cx="433.3" cy="405.3" r="2.24"/><circle cx="262.4" cy="288.3" r="2.24"/><circle cx="488.0" cy="195.2" r="2.24"/><circle cx="379.1" cy="280.2" r="2.24"/><circle cx="276.9" cy="298.3" r="2.24"/><circle cx="324.2" cy="196.7" r="2.24"/><circle cx="257.6" cy="177.6" r="2.24"/><circle cx="337.2" cy="327.9" r="2.24"/><circle cx="312.2" cy="338.8" r="2.24"/><circle cx="418.9" cy="450.4" r="2.24"/><circle cx="253.4" cy="209.6" r="2.24"/><circle cx="336.5" cy="371.0" r="2.24"/><circle cx="372.6" cy="417.5" r="2.24"/><circle cx="402.1" cy="178.8" r="2.24"/><circle cx="447.7" cy="277.8" r="2.24"/><circle cx="243.3" cy="251.4" r="2.24"/><circle cx="359.9" cy="235.6" r="2.24"/><circle cx="325.7" cy="298.5" r="2.24"/><circle cx="400.7" cy="197.5" r="2.24"/><circle cx="470.9" cy="240.1" r="2.24"/><circle cx="273.0" cy="192.4" r="2.24"/><circle cx="397.1" cy="385.8" r="2.24"/><circle cx="396.8" cy="347.2" r="2.24"/><circle cx="339.8" cy="313.5" r="2.24"/><circle cx="292.6" cy="295.7" r="2.24"/><circle cx="337.9" cy="287.2" r="2.24"/><circle cx="446.7" cy="296.4" r="2.24"/><circle cx="331.0" cy="187.0" r="2.24"/><circle cx="409.0" cy="315.5" r="2.24"/><circle cx="496.6" cy="177.1" r="2.24"/><circle cx="410.1" cy="425.5" r="2.24"/><circle cx="494.8" cy="251.7" r="2.24"/><circle cx="458.0" cy="163.3" r="2.24"/><circle cx="386.8" cy="295.2" r="2.24"/><circle cx="277.2" cy="185.8" r="2.24"/><circle cx="513.2" cy="172.4" r="2.24"/><circle cx="370.0" cy="324.1" r="2.24"/><circle cx="195.8" cy="227.6" r="2.24"/><circle cx="326.9" cy="369.6" r="2.24"/><circle cx="339.7" cy="314.7" r="2.24"/><circle cx="327.0" cy="356.2" r="2.24"/><circle cx="283.8" cy="254.8" r="2.24"/><circle cx="347.5" cy="372.0" r="2.24"/><circle cx="384.7" cy="226.4" r="2.24"/><circle cx="277.8" cy="245.1" r="2.24"/><circle cx="451.9" cy="376.5" r="2.24"/><circle cx="521.1" cy="169.1" r="2.24"/><circle cx="360.6" cy="265.5" r="2.24"/><circle cx="318.2" cy="242.9" r="2.24"/><circle cx="261.3" cy="248.5" r="2.24"/><circle cx="307.4" cy="235.2" r="2.24"/><circle cx="293.9" cy="250.4" r="2.24"/><circle cx="470.6" cy="165.2" r="2.24"/><circle cx="344.7" cy="308.5" r="2.24"/><circle cx="280.3" cy="260.2" r="2.24"/><circle cx="396.3" cy="344.6" r="2.24"/><circle cx="370.2" cy="234.2" r="2.24"/><circle cx="182.9" cy="247.0" r="2.24"/><circle cx="416.9" cy="386.8" r="2.24"/><circle cx="365.3" cy="406.6" r="2.24"/><circle cx="449.3" cy="211.1" r="2.24"/><circle cx="382.8" cy="282.3" r="2.24"/><circle cx="300.6" cy="266.5" r="2.24"/><circle cx="396.3" cy="337.2" r="2.24"/><circle cx="481.1" cy="235.2" r="2.24"/><circle cx="334.8" cy="271.5" r="2.24"/><circle cx="466.3" cy="250.6" r="2.24"/><circle cx="430.1" cy="151.8" r="2.24"/><circle cx="258.2" cy="272.0" r="2.24"/><circle cx="384.7" cy="411.3" r="2.24"/><circle cx="288.1" cy="259.8" r="2.24"/><circle cx="315.6" cy="365.4" r="2.24"/><circle cx="295.4" cy="293.3" r="2.24"/><circle cx="363.6" cy="346.6" r="2.24"/><circle cx="339.2" cy="293.2" r="2.24"/><circle cx="261.2" cy="169.1" r="2.24"/><circle cx="382.1" cy="365.2" r="2.24"/><circle cx="314.2" cy="196.1" r="2.24"/><circle cx="343.2" cy="383.2" r="2.24"/><circle cx="363.7" cy="330.0" r="2.24"/><circle cx="328.3" cy="178.2" r="2.24"/><circle cx="312.8" cy="198.9" r="2.24"/><circle cx="550.9" cy="156.2" r="2.24"/><circle cx="322.7" cy="213.4" r="2.24"/><circle cx="427.1" cy="280.5" r="2.24"/><circle cx="302.0" cy="272.4" r="2.24"/><circle cx="356.5" cy="156.5" r="2.24"/><circle cx="388.8" cy="387.0" r="2.24"/><circle cx="468.5" cy="204.2" r="2.24"/><circle cx="363.0" cy="336.4" r="2.24"/><circle cx="275.0" cy="230.3" r="2.24"/><circle cx="290.8" cy="244.0" r="2.24"/><circle cx="355.8" cy="311.0" r="2.24"/><circle cx="445.2" cy="201.6" r="2.24"/><circle cx="359.6" cy="198.1" r="2.24"/><circle cx="362.3" cy="345.5" r="2.24"/><circle cx="245.8" cy="222.4" r="2.24"/><circle cx="514.2" cy="215.6" r="2.24"/><circle cx="214.2" cy="229.3" r="2.24"/><circle cx="459.2" cy="379.5" r="2.24"/><circle cx="443.2" cy="304.1" r="2.24"/><circle cx="154.9" cy="193.2" r="2.24"/><circle cx="441.8" cy="299.7" r="2.24"/><circle cx="401.2" cy="196.0" r="2.24"/><circle cx="432.9" cy="368.7" r="2.24"/><circle cx="313.7" cy="258.5" r="2.24"/><circle cx="425.8" cy="350.4" r="2.24"/><circle cx="289.2" cy="322.1" r="2.24"/><circle cx="391.6" cy="236.9" r="2.24"/><circle cx="392.1" cy="249.1" r="2.24"/><circle cx="302.4" cy="304.8" r="2.24"/><circle cx="210.2" cy="212.0" r="2.24"/><circle cx="435.4" cy="384.6" r="2.24"/><circle cx="233.2" cy="262.1" r="2.24"/><circle cx="320.4" cy="286.0" r="2.24"/><circle cx="223.0" cy="241.0" r="2.24"/><circle cx="230.7" cy="214.3" r="2.24"/><circle cx="536.1" cy="159.1" r="2.24"/><circle cx="362.7" cy="222.8" r="2.24"/><circle cx="346.8" cy="205.0" r="2.24"/><circle cx="421.0" cy="427.8" r="2.24"/><circle cx="466.2" cy="208.9" r="2.24"/><circle cx="238.3" cy="198.4" r="2.24"/><circle cx="406.3" cy="376.8" r="2.24"/><circle cx="393.2" cy="397.5" r="2.24"/><circle cx="363.2" cy="240.6" r="2.24"/><circle cx="425.2" cy="422.2" r="2.24"/><circle cx="304.3" cy="263.5" r="2.24"/><circle cx="439.8" cy="183.7" r="2.24"/><circle cx="364.6" cy="358.9" r="2.24"/><circle cx="291.2" cy="200.9" r="2.24"/><circle cx="473.2" cy="312.5" r="2.24"/><circle cx="336.5" cy="220.2" r="2.24"/><circle cx="437.1" cy="440.7" r="2.24"/><circle cx="420.4" cy="224.8" r="2.24"/><circle cx="347.5" cy="272.5" r="2.24"/><circle cx="366.6" cy="188.2" r="2.24"/><circle cx="413.2" cy="279.0" r="2.24"/><circle cx="328.1" cy="223.1" r="2.24"/><circle cx="352.1" cy="235.7" r="2.24"/><circle cx="466.5" cy="163.0" r="2.24"/><circle cx="378.6" cy="374.7" r="2.24"/><circle cx="458.1" cy="166.4" r="2.24"/><circle cx="287.1" cy="299.1" r="2.24"/><circle cx="430.2" cy="313.7" r="2.24"/><circle cx="297.8" cy="219.9" r="2.24"/><circle cx="332.2" cy="335.4" r="2.24"/><circle cx="325.8" cy="344.6" r="2.24"/><circle cx="353.6" cy="345.1" r="2.24"/><circle cx="447.4" cy="308.9" r="2.24"/><circle cx="456.3" cy="322.7" r="2.24"/><circle cx="258.1" cy="298.4" r="2.24"/><circle cx="444.5" cy="402.4" r="2.24"/><circle cx="447.8" cy="180.2" r="2.24"/><circle cx="256.0" cy="316.4" r="2.24"/><circle cx="180.8" cy="234.6" r="2.24"/><circle cx="253.8" cy="274.5" r="2.24"/><circle cx="424.9" cy="204.7" r="2.24"/><circle cx="387.6" cy="253.6" r="2.24"/><circle cx="455.3" cy="318.2" r="2.24"/><circle cx="348.7" cy="201.7" r="2.24"/><circle cx="205.2" cy="279.1" r="2.24"/><circle cx="284.1" cy="300.5" r="2.24"/><circle cx="267.8" cy="176.4" r="2.24"/><circle cx="200.6" cy="229.3" r="2.24"/><circle cx="256.0" cy="281.5" r="2.24"/><circle cx="254.6" cy="310.7" r="2.24"/><circle cx="334.9" cy="349.9" r="2.24"/><circle cx="372.5" cy="315.6" r="2.24"/><circle cx="515.0" cy="247.8" r="2.24"/><circle cx="340.6" cy="219.9" r="2.24"/><circle cx="374.3" cy="260.9" r="2.24"/><circle cx="421.7" cy="428.2" r="2.24"/><circle cx="145.9" cy="179.6" r="2.24"/><circle cx="389.7" cy="210.7" r="2.24"/><circle cx="417.8" cy="424.3" r="2.24"/><circle cx="212.2" cy="209.2" r="2.24"/><circle cx="225.4" cy="233.1" r="2.24"/><circle cx="348.8" cy="287.4" r="2.24"/><circle cx="263.2" cy="285.1" r="2.24"/><circle cx="369.4" cy="338.2" r="2.24"/><circle cx="405.2" cy="384.3" r="2.24"/><circle cx="194.2" cy="198.8" r="2.24"/><circle cx="354.3" cy="230.0" r="2.24"/><circle cx="525.9" cy="179.5" r="2.24"/><circle cx="371.6" cy="303.6" r="2.24"/><circle cx="462.6" cy="268.7" r="2.24"/><circle cx="342.2" cy="369.9" r="2.24"/><circle cx="342.6" cy="266.4" r="2.24"/><circle cx="270.4" cy="229.2" r="2.24"/><circle cx="247.4" cy="287.9" r="2.24"/><circle cx="238.5" cy="259.6" r="2.24"/><circle cx="477.1" cy="337.7" r="2.24"/><circle cx="330.9" cy="221.6" r="2.24"/><circle cx="382.9" cy="422.1" r="2.24"/><circle cx="347.4" cy="209.9" r="2.24"/><circle cx="340.9" cy="221.3" r="2.24"/><circle cx="373.4" cy="318.4" r="2.24"/><circle cx="197.1" cy="240.8" r="2.24"/><circle cx="281.3" cy="285.3" r="2.24"/><circle cx="505.3" cy="244.9" r="2.24"/><circle cx="250.9" cy="207.7" r="2.24"/><circle cx="299.7" cy="297.6" r="2.24"/><circle cx="333.6" cy="218.5" r="2.24"/><circle cx="431.5" cy="430.8" r="2.24"/><circle cx="323.1" cy="211.1" r="2.24"/><circle cx="390.9" cy="281.3" r="2.24"/><circle cx="510.3" cy="173.5" r="2.24"/><circle cx="404.5" cy="314.9" r="2.24"/><circle cx="257.9" cy="323.0" r="2.24"/><circle cx="248.0" cy="213.3" r="2.24"/><circle cx="289.3" cy="261.5" r="2.24"/><circle cx="336.3" cy="360.4" r="2.24"/><circle cx="331.1" cy="257.2" r="2.24"/><circle cx="233.7" cy="281.7" r="2.24"/><circle cx="468.7" cy="176.0" r="2.24"/><circle cx="512.0" cy="188.8" r="2.24"/><circle cx="412.9" cy="215.2" r="2.24"/><circle cx="400.5" cy="204.0" r="2.24"/><circle cx="461.3" cy="271.9" r="2.24"/><circle cx="413.9" cy="153.9" r="2.24"/><circle cx="416.8" cy="424.8" r="2.24"/><circle cx="335.4" cy="331.0" r="2.24"/><circle cx="394.6" cy="309.0" r="2.24"/><circle cx="399.6" cy="392.2" r="2.24"/><circle cx="442.0" cy="202.0" r="2.24"/><circle cx="475.6" cy="251.7" r="2.24"/><circle cx="444.8" cy="266.9" r="2.24"/><circle cx="367.5" cy="260.4" r="2.24"/><circle cx="375.4" cy="243.0" r="2.24"/><circle cx="410.7" cy="317.7" r="2.24"/><circle cx="418.5" cy="378.2" r="2.24"/><circle cx="183.8" cy="187.8" r="2.24"/><circle cx="374.0" cy="316.1" r="2.24"/><circle cx="353.9" cy="320.4" r="2.24"/><circle cx="289.2" cy="289.5" r="2.24"/><circle cx="350.2" cy="237.6" r="2.24"/><circle cx="280.9" cy="294.3" r="2.24"/><circle cx="272.4" cy="307.0" r="2.24"/><circle cx="339.2" cy="368.1" r="2.24"/><circle cx="419.2" cy="416.6" r="2.24"/><circle cx="413.5" cy="404.0" r="2.24"/><circle cx="422.6" cy="327.0" r="2.24"/><circle cx="382.1" cy="327.4" r="2.24"/><circle cx="325.3" cy="328.5" r="2.24"/><circle cx="244.7" cy="253.3" r="2.24"/><circle cx="351.5" cy="294.2" r="2.24"/><circle cx="299.2" cy="329.3" r="2.24"/><circle cx="266.1" cy="223.6" r="2.24"/><circle cx="388.9" cy="314.2" r="2.24"/><circle cx="418.8" cy="194.4" r="2.24"/><circle cx="368.5" cy="202.9" r="2.24"/><circle cx="292.8" cy="208.6" r="2.24"/><circle cx="468.9" cy="294.7" r="2.24"/><circle cx="500.7" cy="241.2" r="2.24"/><circle cx="329.0" cy="389.5" r="2.24"/><circle cx="323.3" cy="322.2" r="2.24"/><circle cx="279.0" cy="291.1" r="2.24"/><circle cx="279.1" cy="228.0" r="2.24"/><circle cx="244.5" cy="250.1" r="2.24"/><circle cx="321.6" cy="315.9" r="2.24"/><circle cx="292.2" cy="331.9" r="2.24"/><circle cx="412.6" cy="372.8" r="2.24"/><circle cx="272.6" cy="316.1" r="2.24"/><circle cx="465.3" cy="275.3" r="2.24"/><circle cx="233.8" cy="311.9" r="2.24"/><circle cx="333.5" cy="172.3" r="2.24"/><circle cx="197.7" cy="193.5" r="2.24"/><circle cx="421.1" cy="407.7" r="2.24"/><circle cx="393.7" cy="414.2" r="2.24"/><circle cx="404.6" cy="263.2" r="2.24"/><circle cx="320.5" cy="244.9" r="2.24"/><circle cx="456.8" cy="226.3" r="2.24"/><circle cx="360.1" cy="227.2" r="2.24"/><circle cx="233.5" cy="177.5" r="2.24"/><circle cx="308.7" cy="243.2" r="2.24"/><circle cx="388.6" cy="292.5" r="2.24"/><circle cx="434.1" cy="147.2" r="2.24"/><circle cx="491.8" cy="237.4" r="2.24"/><circle cx="430.4" cy="216.0" r="2.24"/><circle cx="361.2" cy="269.3" r="2.24"/><circle cx="539.1" cy="202.9" r="2.24"/><circle cx="183.5" cy="238.6" r="2.24"/><circle cx="297.3" cy="336.5" r="2.24"/><circle cx="369.3" cy="243.0" r="2.24"/><circle cx="422.5" cy="363.9" r="2.24"/><circle cx="289.8" cy="303.9" r="2.24"/><circle cx="193.3" cy="198.7" r="2.24"/><circle cx="527.9" cy="219.7" r="2.24"/><circle cx="460.2" cy="214.7" r="2.24"/><circle cx="224.7" cy="239.1" r="2.24"/><circle cx="414.7" cy="331.2" r="2.24"/><circle cx="542.4" cy="155.2" r="2.24"/><circle cx="225.9" cy="291.3" r="2.24"/><circle cx="418.7" cy="279.0" r="2.24"/><circle cx="317.8" cy="353.7" r="2.24"/><circle cx="342.0" cy="335.4" r="2.24"/><circle cx="460.1" cy="270.1" r="2.24"/><circle cx="285.6" cy="314.5" r="2.24"/><circle cx="354.0" cy="268.0" r="2.24"/><circle cx="469.6" cy="184.9" r="2.24"/><circle cx="380.5" cy="314.3" r="2.24"/><circle cx="377.8" cy="385.9" r="2.24"/><circle cx="269.5" cy="248.2" r="2.24"/><circle cx="332.3" cy="287.2" r="2.24"/><circle cx="252.0" cy="245.6" r="2.24"/><circle cx="329.3" cy="272.7" r="2.24"/><circle cx="468.8" cy="150.4" r="2.24"/><circle cx="294.2" cy="204.8" r="2.24"/><circle cx="410.4" cy="248.0" r="2.24"/><circle cx="313.5" cy="334.2" r="2.24"/><circle cx="252.2" cy="308.2" r="2.24"/><circle cx="205.3" cy="181.9" r="2.24"/><circle cx="531.4" cy="157.3" r="2.24"/><circle cx="271.3" cy="249.7" r="2.24"/><circle cx="365.2" cy="316.8" r="2.24"/><circle cx="347.5" cy="394.4" r="2.24"/><circle cx="509.8" cy="203.4" r="2.24"/><circle cx="401.4" cy="414.2" r="2.24"/><circle cx="325.9" cy="346.4" r="2.24"/><circle cx="215.9" cy="226.2" r="2.24"/><circle cx="287.6" cy="293.1" r="2.24"/><circle cx="486.7" cy="227.9" r="2.24"/><circle cx="351.7" cy="184.9" r="2.24"/><circle cx="324.0" cy="233.9" r="2.24"/><circle cx="371.2" cy="257.7" r="2.24"/><circle cx="327.3" cy="313.9" r="2.24"/><circle cx="374.9" cy="261.9" r="2.24"/><circle cx="370.9" cy="358.5" r="2.24"/><circle cx="417.6" cy="436.7" r="2.24"/><circle cx="184.9" cy="264.8" r="2.24"/><circle cx="385.7" cy="331.5" r="2.24"/><circle cx="214.3" cy="233.7" r="2.24"/><circle cx="324.4" cy="233.5" r="2.24"/><circle cx="278.2" cy="295.2" r="2.24"/><circle cx="312.2" cy="273.3" r="2.24"/><circle cx="285.1" cy="257.8" r="2.24"/><circle cx="390.5" cy="272.9" r="2.24"/><circle cx="381.6" cy="196.4" r="2.24"/><circle cx="330.0" cy="295.3" r="2.24"/><circle cx="387.7" cy="430.9" r="2.24"/><circle cx="381.6" cy="367.8" r="2.24"/><circle cx="426.9" cy="182.0" r="2.24"/><circle cx="343.2" cy="391.7" r="2.24"/><circle cx="418.7" cy="385.4" r="2.24"/><circle cx="314.7" cy="357.6" r="2.24"/><circle cx="184.0" cy="226.0" r="2.24"/><circle cx="385.3" cy="334.1" r="2.24"/><circle cx="391.9" cy="327.2" r="2.24"/><circle cx="440.4" cy="281.8" r="2.24"/><circle cx="534.5" cy="220.2" r="2.24"/><circle cx="428.6" cy="292.2" r="2.24"/><circle cx="468.0" cy="240.9" r="2.24"/><circle cx="353.6" cy="210.4" r="2.24"/><circle cx="326.9" cy="221.9" r="2.24"/><circle cx="291.9" cy="186.2" r="2.24"/><circle cx="369.3" cy="213.3" r="2.24"/><circle cx="400.1" cy="383.9" r="2.24"/><circle cx="502.1" cy="237.7" r="2.24"/><circle cx="421.6" cy="435.1" r="2.24"/><circle cx="307.8" cy="250.6" r="2.24"/><circle cx="245.1" cy="178.8" r="2.24"/><circle cx="359.5" cy="353.0" r="2.24"/><circle cx="329.0" cy="193.6" r="2.24"/><circle cx="455.0" cy="236.5" r="2.24"/><circle cx="346.9" cy="175.8" r="2.24"/><circle cx="435.9" cy="219.2" r="2.24"/><circle cx="365.3" cy="216.6" r="2.24"/><circle cx="386.0" cy="339.0" r="2.24"/><circle cx="300.3" cy="328.1" r="2.24"/><circle cx="404.4" cy="420.5" r="2.24"/><circle cx="462.3" cy="282.4" r="2.24"/><circle cx="329.9" cy="351.1" r="2.24"/><circle cx="309.7" cy="299.5" r="2.24"/><circle cx="273.3" cy="320.3" r="2.24"/><circle cx="364.8" cy="209.0" r="2.24"/><circle cx="318.0" cy="341.1" r="2.24"/><circle cx="315.4" cy="261.7" r="2.24"/><circle cx="465.4" cy="167.3" r="2.24"/><circle cx="383.1" cy="197.3" r="2.24"/><circle cx="237.4" cy="254.8" r="2.24"/><circle cx="304.2" cy="276.8" r="2.24"/><circle cx="220.3" cy="223.6" r="2.24"/><circle cx="184.3" cy="233.9" r="2.24"/><circle cx="348.1" cy="381.2" r="2.24"/><circle cx="388.4" cy="290.9" r="2.24"/><circle cx="201.7" cy="243.9" r="2.24"/><circle cx="462.6" cy="285.9" r="2.24"/><circle cx="267.0" cy="278.7" r="2.24"/><circle cx="329.0" cy="244.5" r="2.24"/><circle cx="430.6" cy="178.1" r="2.24"/><circle cx="332.9" cy="324.3" r="2.24"/><circle cx="350.5" cy="315.3" r="2.24"/><circle cx="361.0" cy="238.6" r="2.24"/><circle cx="257.3" cy="300.3" r="2.24"/><circle cx="498.5" cy="226.4" r="2.24"/><circle cx="414.1" cy="186.3" r="2.24"/><circle cx="367.0" cy="238.1" r="2.24"/><circle cx="284.0" cy="338.8" r="2.24"/><circle cx="290.0" cy="241.4" r="2.24"/><circle cx="278.4" cy="327.7" r="2.24"/><circle cx="402.3" cy="177.8" r="2.24"/><circle cx="476.0" cy="318.7" r="2.24"/><circle cx="335.9" cy="331.1" r="2.24"/><circle cx="317.0" cy="193.2" r="2.24"/><circle cx="329.9" cy="283.4" r="2.24"/><circle cx="525.8" cy="207.1" r="2.24"/><circle cx="379.4" cy="351.8" r="2.24"/><circle cx="318.1" cy="323.6" r="2.24"/><circle cx="291.6" cy="202.7" r="2.24"/><circle cx="538.6" cy="189.7" r="2.24"/><circle cx="298.7" cy="303.6" r="2.24"/><circle cx="295.1" cy="320.1" r="2.24"/><circle cx="367.7" cy="312.5" r="2.24"/><circle cx="423.3" cy="282.5" r="2.24"/><circle cx="346.6" cy="319.7" r="2.24"/><circle cx="269.0" cy="299.4" r="2.24"/><circle cx="285.2" cy="329.1" r="2.24"/><circle cx="200.6" cy="206.6" r="2.24"/><circle cx="477.8" cy="261.9" r="2.24"/><circle cx="442.4" cy="212.3" r="2.24"/><circle cx="343.1" cy="246.4" r="2.24"/><circle cx="320.1" cy="170.0" r="2.24"/><circle cx="233.3" cy="205.2" r="2.24"/><circle cx="340.9" cy="191.0" r="2.24"/><circle cx="216.4" cy="223.7" r="2.24"/><circle cx="145.4" cy="194.8" r="2.24"/><circle cx="431.2" cy="414.7" r="2.24"/><circle cx="370.9" cy="304.8" r="2.24"/><circle cx="402.6" cy="370.7" r="2.24"/><circle cx="400.4" cy="338.7" r="2.24"/><circle cx="399.7" cy="322.1" r="2.24"/><circle cx="440.0" cy="400.3" r="2.24"/><circle cx="361.5" cy="394.8" r="2.24"/><circle cx="321.2" cy="342.1" r="2.24"/><circle cx="401.7" cy="334.2" r="2.24"/><circle cx="477.7" cy="171.0" r="2.24"/><circle cx="398.0" cy="398.7" r="2.24"/><circle cx="418.4" cy="387.4" r="2.24"/><circle cx="226.1" cy="179.1" r="2.24"/><circle cx="395.9" cy="342.4" r="2.24"/><circle cx="259.8" cy="258.1" r="2.24"/><circle cx="408.2" cy="376.6" r="2.24"/><circle cx="254.8" cy="247.0" r="2.24"/><circle cx="313.1" cy="289.2" r="2.24"/><circle cx="233.6" cy="170.0" r="2.24"/><circle cx="484.9" cy="241.7" r="2.24"/><circle cx="249.2" cy="192.3" r="2.24"/><circle cx="423.7" cy="439.8" r="2.24"/><circle cx="382.2" cy="185.3" r="2.24"/><circle cx="329.1" cy="255.9" r="2.24"/><circle cx="252.6" cy="266.8" r="2.24"/><circle cx="341.1" cy="315.9" r="2.24"/><circle cx="444.7" cy="292.7" r="2.24"/><circle cx="468.7" cy="174.8" r="2.24"/><circle cx="442.1" cy="247.4" r="2.24"/><circle cx="186.9" cy="256.2" r="2.24"/><circle cx="421.2" cy="262.7" r="2.24"/><circle cx="438.4" cy="354.3" r="2.24"/><circle cx="441.1" cy="234.5" r="2.24"/><circle cx="368.3" cy="359.6" r="2.24"/><circle cx="365.7" cy="162.0" r="2.24"/><circle cx="287.9" cy="220.0" r="2.24"/><circle cx="327.5" cy="370.6" r="2.24"/><circle cx="332.6" cy="363.5" r="2.24"/><circle cx="217.6" cy="255.1" r="2.24"/><circle cx="238.0" cy="183.4" r="2.24"/><circle cx="428.7" cy="223.8" r="2.24"/><circle cx="390.3" cy="385.7" r="2.24"/><circle cx="391.4" cy="244.5" r="2.24"/><circle cx="379.2" cy="308.3" r="2.24"/><circle cx="340.3" cy="302.6" r="2.24"/><circle cx="259.5" cy="303.0" r="2.24"/><circle cx="226.2" cy="299.1" r="2.24"/><circle cx="271.8" cy="321.8" r="2.24"/><circle cx="347.0" cy="225.7" r="2.24"/><circle cx="232.3" cy="290.0" r="2.24"/><circle cx="374.4" cy="419.6" r="2.24"/><circle cx="392.7" cy="242.7" r="2.24"/><circle cx="222.3" cy="298.3" r="2.24"/><circle cx="454.1" cy="244.7" r="2.24"/><circle cx="435.3" cy="299.2" r="2.24"/><circle cx="232.6" cy="270.2" r="2.24"/><circle cx="263.1" cy="310.8" r="2.24"/><circle cx="248.1" cy="279.4" r="2.24"/><circle cx="471.5" cy="177.2" r="2.24"/><circle cx="300.7" cy="271.2" r="2.24"/><circle cx="261.6" cy="214.2" r="2.24"/><circle cx="351.2" cy="335.6" r="2.24"/><circle cx="300.6" cy="194.6" r="2.24"/><circle cx="305.7" cy="329.4" r="2.24"/><circle cx="144.9" cy="176.1" r="2.24"/><circle cx="358.4" cy="344.0" r="2.24"/><circle cx="417.3" cy="318.9" r="2.24"/><circle cx="158.0" cy="202.1" r="2.24"/><circle cx="410.6" cy="280.7" r="2.24"/><circle cx="513.7" cy="235.3" r="2.24"/><circle cx="408.1" cy="418.3" r="2.24"/><circle cx="348.9" cy="217.0" r="2.24"/><circle cx="366.6" cy="234.6" r="2.24"/><circle cx="392.3" cy="250.6" r="2.24"/><circle cx="295.8" cy="163.3" r="2.24"/><circle cx="339.2" cy="308.1" r="2.24"/><circle cx="397.3" cy="342.5" r="2.24"/><circle cx="297.6" cy="348.4" r="2.24"/><circle cx="247.4" cy="307.3" r="2.24"/><circle cx="433.9" cy="422.9" r="2.24"/><circle cx="472.3" cy="206.8" r="2.24"/><circle cx="180.2" cy="255.9" r="2.24"/><circle cx="301.8" cy="320.3" r="2.24"/><circle cx="379.0" cy="211.0" r="2.24"/><circle cx="268.6" cy="216.8" r="2.24"/><circle cx="284.6" cy="336.4" r="2.24"/><circle cx="251.4" cy="302.4" r="2.24"/><circle cx="498.0" cy="194.4" r="2.24"/><circle cx="277.0" cy="230.0" r="2.24"/><circle cx="399.5" cy="399.6" r="2.24"/><circle cx="403.0" cy="434.8" r="2.24"/><circle cx="476.8" cy="200.0" r="2.24"/><circle cx="158.3" cy="234.4" r="2.24"/><circle cx="395.5" cy="349.1" r="2.24"/><circle cx="359.5" cy="250.7" r="2.24"/><circle cx="391.3" cy="236.4" r="2.24"/><circle cx="251.0" cy="212.3" r="2.24"/><circle cx="395.2" cy="221.5" r="2.24"/><circle cx="360.2" cy="166.0" r="2.24"/><circle cx="409.0" cy="353.6" r="2.24"/><circle cx="416.0" cy="393.8" r="2.24"/><circle cx="265.4" cy="249.1" r="2.24"/><circle cx="300.9" cy="232.7" r="2.24"/><circle cx="238.3" cy="321.7" r="2.24"/><circle cx="433.0" cy="259.3" r="2.24"/><circle cx="542.9" cy="180.5" r="2.24"/><circle cx="187.2" cy="234.4" r="2.24"/><circle cx="311.6" cy="320.6" r="2.24"/><circle cx="433.8" cy="318.4" r="2.24"/><circle cx="472.4" cy="306.2" r="2.24"/><circle cx="308.3" cy="330.8" r="2.24"/><circle cx="329.1" cy="363.4" r="2.24"/><circle cx="287.8" cy="322.1" r="2.24"/><circle cx="251.0" cy="260.9" r="2.24"/><circle cx="183.0" cy="220.5" r="2.24"/><circle cx="311.5" cy="306.4" r="2.24"/><circle cx="467.0" cy="316.9" r="2.24"/><circle cx="326.5" cy="381.1" r="2.24"/><circle cx="404.1" cy="322.3" r="2.24"/><circle cx="377.4" cy="342.5" r="2.24"/><circle cx="317.2" cy="291.3" r="2.24"/><circle cx="447.3" cy="386.9" r="2.24"/><circle cx="359.6" cy="331.2" r="2.24"/><circle cx="334.8" cy="172.1" r="2.24"/><circle cx="188.0" cy="254.3" r="2.24"/><circle cx="247.6" cy="305.8" r="2.24"/><circle cx="377.0" cy="399.8" r="2.24"/><circle cx="348.0" cy="159.0" r="2.24"/><circle cx="158.0" cy="205.2" r="2.24"/><circle cx="318.7" cy="328.8" r="2.24"/><circle cx="446.6" cy="308.0" r="2.24"/><circle cx="398.5" cy="244.0" r="2.24"/><circle cx="122.4" cy="183.7" r="2.24"/><circle cx="147.5" cy="214.5" r="2.24"/><circle cx="443.5" cy="470.5" r="2.24"/><circle cx="431.0" cy="444.0" r="2.24"/><circle cx="434.0" cy="448.0" r="2.24"/><circle cx="437.0" cy="441.0" r="2.24"/><circle cx="440.0" cy="445.0" r="2.24"/><circle cx="436.0" cy="453.0" r="2.24"/><circle cx="433.0" cy="457.0" r="2.24"/><circle cx="438.0" cy="458.0" r="2.24"/><circle cx="441.0" cy="451.0" r="2.24"/><circle cx="428.0" cy="437.0" r="2.24"/><circle cx="433.0" cy="435.0" r="2.24"/><circle cx="425.0" cy="441.0" r="2.24"/><circle cx="429.0" cy="450.0" r="2.24"/>
</g>
<text x="356.4" y="45.6" text-anchor="middle" style="font-size:12px;letter-spacing:.025px">Samples at Iteration 900</text>
<rect x="585.4" y="11.4" width="116.2" height="33" rx="2" ry="2" fill="#fff" fill-opacity=".8" stroke="#ccc" stroke-width="1"/>
<g class="r"><circle cx="599.5" cy="21.5" r="2.24"/></g><g class="o"><circle cx="599.5" cy="36.5" r="2.24"/></g>
<g class="t" style="letter-spacing:-.03px"><text x="617.2" y="24.1">Real Data</text><text x="617.2" y="38.8">Generated Data</text></g>
</svg></body></html>
